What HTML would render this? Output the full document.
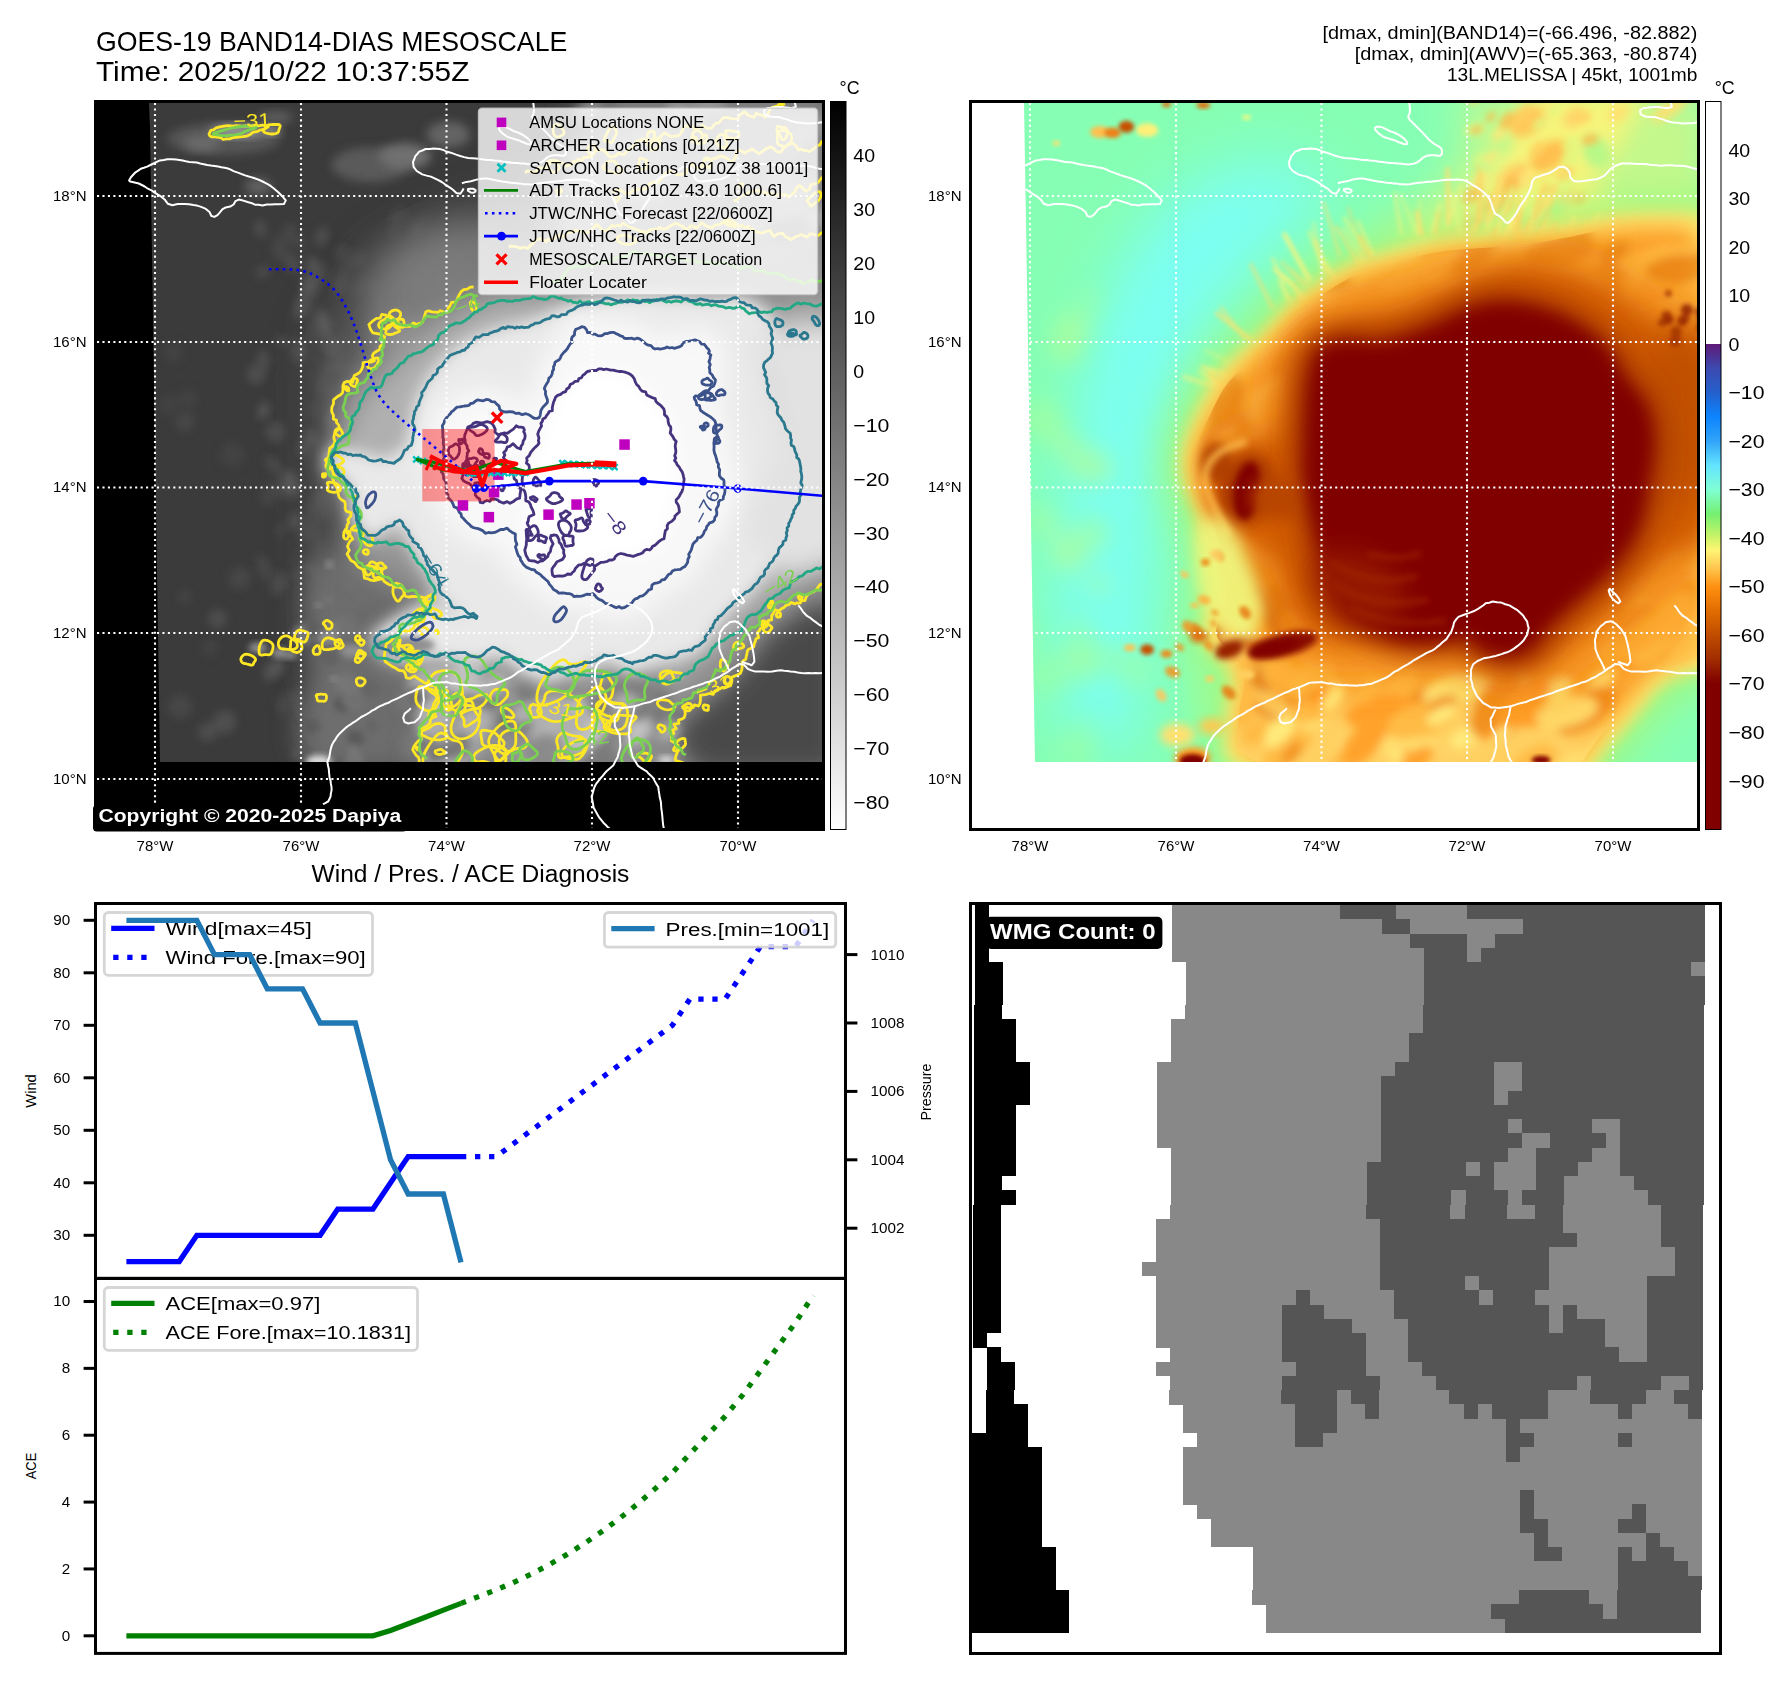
<!DOCTYPE html>
<html><head><meta charset="utf-8"><title>GOES-19 BAND14-DIAS MESOSCALE</title>
<style>
html,body{margin:0;padding:0;background:#fff;}
body{width:1788px;height:1690px;overflow:hidden;}
svg{display:block;font-family:"Liberation Sans",sans-serif;}
</style></head><body>
<svg width="1788" height="1690" viewBox="0 0 1788 1690">
<defs><filter id="b2" x="-30%" y="-30%" width="160%" height="160%"><feGaussianBlur stdDeviation="2"/></filter><filter id="b3" x="-30%" y="-30%" width="160%" height="160%"><feGaussianBlur stdDeviation="3"/></filter><filter id="b5" x="-30%" y="-30%" width="160%" height="160%"><feGaussianBlur stdDeviation="5"/></filter><filter id="b8" x="-30%" y="-30%" width="160%" height="160%"><feGaussianBlur stdDeviation="8"/></filter><filter id="b12" x="-30%" y="-30%" width="160%" height="160%"><feGaussianBlur stdDeviation="12"/></filter><filter id="b20" x="-30%" y="-30%" width="160%" height="160%"><feGaussianBlur stdDeviation="20"/></filter><filter id="b30" x="-30%" y="-30%" width="160%" height="160%"><feGaussianBlur stdDeviation="30"/></filter></defs>
<defs><clipPath id="clipA1"><rect x="97" y="103" width="725" height="725"/></clipPath><clipPath id="clip1"><polygon points="149,103 822,103 822,762 160,762 150,128"/></clipPath></defs><rect x="94" y="100" width="731" height="731" fill="#000"/><g clip-path="url(#clip1)"><rect x="140" y="100" width="690" height="670" fill="#3b3b3b"/><g filter="url(#b5)" opacity="0.8"><ellipse cx="287.8" cy="342.5" rx="3.6" ry="6.0" fill="#4c4c4c" transform="rotate(11 287.8 342.5)"/><ellipse cx="327.8" cy="370.3" rx="4.3" ry="7.2" fill="#606060" transform="rotate(23 327.8 370.3)"/><ellipse cx="303.0" cy="632.6" rx="6.7" ry="11.2" fill="#565656" transform="rotate(3 303.0 632.6)"/><ellipse cx="331.9" cy="740.9" rx="8.7" ry="14.5" fill="#4c4c4c" transform="rotate(-15 331.9 740.9)"/><ellipse cx="278.2" cy="585.2" rx="6.2" ry="10.4" fill="#565656" transform="rotate(25 278.2 585.2)"/><ellipse cx="303.8" cy="448.9" rx="4.3" ry="7.2" fill="#606060" transform="rotate(-12 303.8 448.9)"/><ellipse cx="263.8" cy="410.8" rx="5.5" ry="9.2" fill="#606060" transform="rotate(17 263.8 410.8)"/><ellipse cx="259.6" cy="273.0" rx="3.5" ry="5.8" fill="#565656" transform="rotate(-22 259.6 273.0)"/><ellipse cx="278.9" cy="339.7" rx="2.8" ry="4.6" fill="#606060" transform="rotate(-14 278.9 339.7)"/><ellipse cx="292.0" cy="640.8" rx="2.9" ry="4.9" fill="#4c4c4c" transform="rotate(-16 292.0 640.8)"/><ellipse cx="266.4" cy="270.2" rx="2.7" ry="4.5" fill="#606060" transform="rotate(6 266.4 270.2)"/><ellipse cx="325.0" cy="342.4" rx="3.1" ry="5.2" fill="#565656" transform="rotate(4 325.0 342.4)"/><ellipse cx="331.7" cy="432.7" rx="5.9" ry="9.8" fill="#4c4c4c" transform="rotate(9 331.7 432.7)"/><ellipse cx="260.3" cy="228.5" rx="5.5" ry="9.1" fill="#565656" transform="rotate(-17 260.3 228.5)"/><ellipse cx="320.9" cy="598.4" rx="7.1" ry="11.8" fill="#606060" transform="rotate(23 320.9 598.4)"/><ellipse cx="323.4" cy="740.9" rx="7.0" ry="11.6" fill="#4c4c4c" transform="rotate(16 323.4 740.9)"/><ellipse cx="313.3" cy="265.9" rx="5.9" ry="9.8" fill="#606060" transform="rotate(-19 313.3 265.9)"/><ellipse cx="332.9" cy="348.4" rx="5.3" ry="8.9" fill="#606060" transform="rotate(4 332.9 348.4)"/><ellipse cx="311.0" cy="437.3" rx="5.4" ry="9.0" fill="#606060" transform="rotate(-8 311.0 437.3)"/><ellipse cx="300.3" cy="710.6" rx="4.1" ry="6.9" fill="#4c4c4c" transform="rotate(20 300.3 710.6)"/><ellipse cx="283.5" cy="708.2" rx="5.0" ry="8.3" fill="#4c4c4c" transform="rotate(23 283.5 708.2)"/><ellipse cx="292.4" cy="263.4" rx="6.0" ry="10.0" fill="#565656" transform="rotate(-24 292.4 263.4)"/><ellipse cx="275.7" cy="468.0" rx="4.1" ry="6.8" fill="#565656" transform="rotate(10 275.7 468.0)"/><ellipse cx="302.2" cy="302.7" rx="4.6" ry="7.7" fill="#565656" transform="rotate(-1 302.2 302.7)"/><ellipse cx="310.7" cy="283.4" rx="8.8" ry="14.7" fill="#606060" transform="rotate(22 310.7 283.4)"/><ellipse cx="313.6" cy="512.1" rx="5.7" ry="9.5" fill="#4c4c4c" transform="rotate(-8 313.6 512.1)"/><ellipse cx="322.1" cy="236.7" rx="6.3" ry="10.4" fill="#565656" transform="rotate(15 322.1 236.7)"/><ellipse cx="270.0" cy="494.1" rx="8.3" ry="13.9" fill="#4c4c4c" transform="rotate(21 270.0 494.1)"/><ellipse cx="333.8" cy="727.7" rx="2.9" ry="4.8" fill="#606060" transform="rotate(13 333.8 727.7)"/><ellipse cx="312.1" cy="333.8" rx="5.1" ry="8.5" fill="#4c4c4c" transform="rotate(-7 312.1 333.8)"/><ellipse cx="269.9" cy="671.0" rx="6.4" ry="10.7" fill="#565656" transform="rotate(20 269.9 671.0)"/><ellipse cx="279.9" cy="530.5" rx="4.5" ry="7.5" fill="#4c4c4c" transform="rotate(19 279.9 530.5)"/><ellipse cx="324.3" cy="272.4" rx="5.5" ry="9.2" fill="#4c4c4c" transform="rotate(-11 324.3 272.4)"/><ellipse cx="295.8" cy="697.1" rx="4.4" ry="7.3" fill="#565656" transform="rotate(6 295.8 697.1)"/><ellipse cx="294.8" cy="520.9" rx="4.9" ry="8.2" fill="#606060" transform="rotate(20 294.8 520.9)"/><ellipse cx="321.7" cy="502.9" rx="7.3" ry="12.2" fill="#606060" transform="rotate(-13 321.7 502.9)"/><ellipse cx="290.2" cy="483.7" rx="8.3" ry="13.8" fill="#606060" transform="rotate(-14 290.2 483.7)"/><ellipse cx="291.4" cy="229.6" rx="3.6" ry="6.0" fill="#606060" transform="rotate(7 291.4 229.6)"/><ellipse cx="289.3" cy="234.9" rx="6.3" ry="10.4" fill="#4c4c4c" transform="rotate(-24 289.3 234.9)"/><ellipse cx="276.3" cy="668.4" rx="6.5" ry="10.8" fill="#606060" transform="rotate(24 276.3 668.4)"/><ellipse cx="299.0" cy="350.7" rx="7.1" ry="11.8" fill="#565656" transform="rotate(8 299.0 350.7)"/><ellipse cx="283.6" cy="489.9" rx="3.7" ry="6.2" fill="#565656" transform="rotate(11 283.6 489.9)"/><ellipse cx="300.0" cy="242.1" rx="4.9" ry="8.1" fill="#4c4c4c" transform="rotate(6 300.0 242.1)"/><ellipse cx="264.9" cy="568.1" rx="8.4" ry="14.0" fill="#4c4c4c" transform="rotate(-24 264.9 568.1)"/><ellipse cx="313.6" cy="276.9" rx="5.0" ry="8.3" fill="#565656" transform="rotate(9 313.6 276.9)"/><ellipse cx="323.1" cy="747.8" rx="6.8" ry="11.3" fill="#606060" transform="rotate(-2 323.1 747.8)"/><ellipse cx="298.0" cy="315.3" rx="3.0" ry="5.1" fill="#4c4c4c" transform="rotate(-3 298.0 315.3)"/><ellipse cx="270.6" cy="461.9" rx="4.2" ry="7.1" fill="#565656" transform="rotate(-21 270.6 461.9)"/><ellipse cx="323.7" cy="387.2" rx="8.2" ry="13.7" fill="#4c4c4c" transform="rotate(-5 323.7 387.2)"/><ellipse cx="323.2" cy="323.7" rx="8.2" ry="13.7" fill="#606060" transform="rotate(-18 323.2 323.7)"/><ellipse cx="327.8" cy="702.8" rx="8.6" ry="14.3" fill="#4c4c4c" transform="rotate(8 327.8 702.8)"/><ellipse cx="324.2" cy="631.8" rx="4.7" ry="7.9" fill="#565656" transform="rotate(23 324.2 631.8)"/><ellipse cx="328.1" cy="469.9" rx="5.9" ry="9.8" fill="#4c4c4c" transform="rotate(5 328.1 469.9)"/><ellipse cx="309.4" cy="573.7" rx="6.4" ry="10.7" fill="#606060" transform="rotate(-8 309.4 573.7)"/><ellipse cx="302.7" cy="306.0" rx="8.4" ry="14.0" fill="#565656" transform="rotate(23 302.7 306.0)"/><ellipse cx="279.6" cy="248.9" rx="7.8" ry="12.9" fill="#4c4c4c" transform="rotate(-7 279.6 248.9)"/><ellipse cx="280.2" cy="709.1" rx="4.4" ry="7.3" fill="#4c4c4c" transform="rotate(-20 280.2 709.1)"/><ellipse cx="263.4" cy="360.3" rx="6.2" ry="10.3" fill="#565656" transform="rotate(0 263.4 360.3)"/><ellipse cx="326.3" cy="509.4" rx="7.1" ry="11.8" fill="#4c4c4c" transform="rotate(16 326.3 509.4)"/><ellipse cx="332.1" cy="417.9" rx="7.5" ry="12.5" fill="#606060" transform="rotate(17 332.1 417.9)"/></g><g filter="url(#b5)" opacity="0.7"><ellipse cx="393.6" cy="327.1" rx="6.7" ry="6.7" fill="#4e4e4e" transform="rotate(-17 393.6 327.1)"/><ellipse cx="429.2" cy="617.1" rx="12.0" ry="12.0" fill="#4e4e4e" transform="rotate(12 429.2 617.1)"/><ellipse cx="313.7" cy="329.2" rx="6.2" ry="6.2" fill="#464646" transform="rotate(13 313.7 329.2)"/><ellipse cx="168.5" cy="404.5" rx="9.9" ry="9.9" fill="#464646" transform="rotate(1 168.5 404.5)"/><ellipse cx="239.7" cy="578.2" rx="11.3" ry="11.3" fill="#4e4e4e" transform="rotate(23 239.7 578.2)"/><ellipse cx="454.7" cy="626.6" rx="7.3" ry="7.3" fill="#4e4e4e" transform="rotate(-12 454.7 626.6)"/><ellipse cx="510.3" cy="465.7" rx="5.1" ry="5.1" fill="#4e4e4e" transform="rotate(-3 510.3 465.7)"/><ellipse cx="470.0" cy="584.6" rx="11.3" ry="11.3" fill="#464646" transform="rotate(4 470.0 584.6)"/><ellipse cx="355.7" cy="748.9" rx="7.6" ry="7.6" fill="#464646" transform="rotate(-7 355.7 748.9)"/><ellipse cx="463.3" cy="591.2" rx="11.8" ry="11.8" fill="#464646" transform="rotate(-13 463.3 591.2)"/><ellipse cx="417.5" cy="336.4" rx="6.3" ry="6.3" fill="#585858" transform="rotate(-20 417.5 336.4)"/><ellipse cx="472.8" cy="701.5" rx="7.6" ry="7.6" fill="#585858" transform="rotate(15 472.8 701.5)"/><ellipse cx="465.1" cy="388.4" rx="7.4" ry="7.4" fill="#464646" transform="rotate(-8 465.1 388.4)"/><ellipse cx="416.5" cy="620.1" rx="4.9" ry="4.9" fill="#464646" transform="rotate(-15 416.5 620.1)"/><ellipse cx="354.9" cy="424.9" rx="8.3" ry="8.3" fill="#585858" transform="rotate(15 354.9 424.9)"/><ellipse cx="411.5" cy="413.7" rx="7.1" ry="7.1" fill="#4e4e4e" transform="rotate(-11 411.5 413.7)"/><ellipse cx="460.5" cy="674.2" rx="7.8" ry="7.8" fill="#4e4e4e" transform="rotate(-12 460.5 674.2)"/><ellipse cx="494.1" cy="568.3" rx="10.5" ry="10.5" fill="#4e4e4e" transform="rotate(16 494.1 568.3)"/><ellipse cx="342.1" cy="709.6" rx="9.9" ry="9.9" fill="#4e4e4e" transform="rotate(-9 342.1 709.6)"/><ellipse cx="210.1" cy="647.4" rx="9.0" ry="9.0" fill="#464646" transform="rotate(12 210.1 647.4)"/><ellipse cx="316.1" cy="575.6" rx="7.4" ry="7.4" fill="#4e4e4e" transform="rotate(7 316.1 575.6)"/><ellipse cx="340.0" cy="652.2" rx="11.8" ry="11.8" fill="#4e4e4e" transform="rotate(15 340.0 652.2)"/><ellipse cx="217.5" cy="618.7" rx="9.5" ry="9.5" fill="#585858" transform="rotate(-1 217.5 618.7)"/><ellipse cx="377.6" cy="524.2" rx="6.5" ry="6.5" fill="#464646" transform="rotate(-25 377.6 524.2)"/><ellipse cx="408.6" cy="366.9" rx="12.0" ry="12.0" fill="#585858" transform="rotate(24 408.6 366.9)"/><ellipse cx="394.1" cy="365.6" rx="8.1" ry="8.1" fill="#585858" transform="rotate(-25 394.1 365.6)"/><ellipse cx="509.0" cy="705.7" rx="6.6" ry="6.6" fill="#464646" transform="rotate(23 509.0 705.7)"/><ellipse cx="224.4" cy="722.0" rx="11.8" ry="11.8" fill="#585858" transform="rotate(15 224.4 722.0)"/><ellipse cx="345.2" cy="404.5" rx="7.6" ry="7.6" fill="#4e4e4e" transform="rotate(9 345.2 404.5)"/><ellipse cx="508.9" cy="726.4" rx="12.3" ry="12.3" fill="#464646" transform="rotate(-5 508.9 726.4)"/><ellipse cx="338.2" cy="365.8" rx="7.5" ry="7.5" fill="#585858" transform="rotate(-10 338.2 365.8)"/><ellipse cx="180.1" cy="706.6" rx="12.5" ry="12.5" fill="#4e4e4e" transform="rotate(21 180.1 706.6)"/><ellipse cx="337.2" cy="346.8" rx="10.9" ry="10.9" fill="#4e4e4e" transform="rotate(-17 337.2 346.8)"/><ellipse cx="401.0" cy="737.3" rx="5.7" ry="5.7" fill="#464646" transform="rotate(13 401.0 737.3)"/><ellipse cx="314.2" cy="410.2" rx="9.0" ry="9.0" fill="#464646" transform="rotate(19 314.2 410.2)"/><ellipse cx="232.7" cy="454.7" rx="12.9" ry="12.9" fill="#464646" transform="rotate(-2 232.7 454.7)"/><ellipse cx="319.7" cy="546.3" rx="5.4" ry="5.4" fill="#4e4e4e" transform="rotate(-21 319.7 546.3)"/><ellipse cx="282.9" cy="577.7" rx="6.3" ry="6.3" fill="#4e4e4e" transform="rotate(-25 282.9 577.7)"/><ellipse cx="184.9" cy="596.8" rx="6.3" ry="6.3" fill="#4e4e4e" transform="rotate(-4 184.9 596.8)"/><ellipse cx="184.8" cy="421.9" rx="10.1" ry="10.1" fill="#4e4e4e" transform="rotate(9 184.8 421.9)"/><ellipse cx="207.4" cy="732.2" rx="9.3" ry="9.3" fill="#585858" transform="rotate(-10 207.4 732.2)"/><ellipse cx="446.9" cy="675.3" rx="6.0" ry="6.0" fill="#4e4e4e" transform="rotate(17 446.9 675.3)"/><ellipse cx="317.1" cy="504.4" rx="8.4" ry="8.4" fill="#464646" transform="rotate(-22 317.1 504.4)"/><ellipse cx="406.0" cy="753.9" rx="5.2" ry="5.2" fill="#585858" transform="rotate(21 406.0 753.9)"/><ellipse cx="283.4" cy="699.4" rx="6.5" ry="6.5" fill="#4e4e4e" transform="rotate(9 283.4 699.4)"/><ellipse cx="323.5" cy="503.7" rx="6.7" ry="6.7" fill="#4e4e4e" transform="rotate(-21 323.5 503.7)"/><ellipse cx="321.5" cy="699.2" rx="9.1" ry="9.1" fill="#4e4e4e" transform="rotate(16 321.5 699.2)"/><ellipse cx="525.7" cy="688.0" rx="12.7" ry="12.7" fill="#4e4e4e" transform="rotate(-15 525.7 688.0)"/><ellipse cx="308.0" cy="530.2" rx="11.8" ry="11.8" fill="#4e4e4e" transform="rotate(-15 308.0 530.2)"/><ellipse cx="297.9" cy="754.4" rx="6.6" ry="6.6" fill="#585858" transform="rotate(-7 297.9 754.4)"/><ellipse cx="314.1" cy="741.9" rx="12.9" ry="12.9" fill="#464646" transform="rotate(17 314.1 741.9)"/><ellipse cx="422.6" cy="384.9" rx="6.9" ry="6.9" fill="#4e4e4e" transform="rotate(12 422.6 384.9)"/><ellipse cx="428.9" cy="343.1" rx="7.0" ry="7.0" fill="#4e4e4e" transform="rotate(12 428.9 343.1)"/><ellipse cx="333.9" cy="725.0" rx="8.9" ry="8.9" fill="#4e4e4e" transform="rotate(7 333.9 725.0)"/><ellipse cx="188.2" cy="398.7" rx="9.5" ry="9.5" fill="#464646" transform="rotate(-10 188.2 398.7)"/><ellipse cx="307.0" cy="734.9" rx="9.2" ry="9.2" fill="#464646" transform="rotate(13 307.0 734.9)"/><ellipse cx="173.4" cy="352.5" rx="10.0" ry="10.0" fill="#464646" transform="rotate(8 173.4 352.5)"/><ellipse cx="275.0" cy="432.0" rx="10.1" ry="10.1" fill="#585858" transform="rotate(-10 275.0 432.0)"/><ellipse cx="256.3" cy="374.2" rx="9.9" ry="9.9" fill="#585858" transform="rotate(-5 256.3 374.2)"/><ellipse cx="499.9" cy="732.3" rx="4.4" ry="4.4" fill="#464646" transform="rotate(11 499.9 732.3)"/></g><g filter="url(#b5)" opacity="0.7"><ellipse cx="344.9" cy="277.2" rx="3.3" ry="5.6" fill="#525252" transform="rotate(18 344.9 277.2)"/><ellipse cx="492.6" cy="286.8" rx="4.9" ry="8.2" fill="#525252" transform="rotate(33 492.6 286.8)"/><ellipse cx="340.4" cy="251.0" rx="4.5" ry="7.5" fill="#525252" transform="rotate(20 340.4 251.0)"/><ellipse cx="377.0" cy="292.5" rx="6.8" ry="11.4" fill="#525252" transform="rotate(4 377.0 292.5)"/><ellipse cx="358.2" cy="258.9" rx="5.2" ry="8.6" fill="#525252" transform="rotate(33 358.2 258.9)"/><ellipse cx="564.1" cy="235.0" rx="3.5" ry="5.9" fill="#4a4a4a" transform="rotate(-2 564.1 235.0)"/><ellipse cx="471.0" cy="226.5" rx="2.9" ry="4.9" fill="#4a4a4a" transform="rotate(13 471.0 226.5)"/><ellipse cx="400.1" cy="215.6" rx="5.8" ry="9.7" fill="#4a4a4a" transform="rotate(1 400.1 215.6)"/><ellipse cx="533.0" cy="253.4" rx="5.9" ry="9.9" fill="#525252" transform="rotate(16 533.0 253.4)"/><ellipse cx="459.3" cy="277.7" rx="3.5" ry="5.8" fill="#4a4a4a" transform="rotate(44 459.3 277.7)"/><ellipse cx="410.4" cy="295.1" rx="4.0" ry="6.6" fill="#4a4a4a" transform="rotate(38 410.4 295.1)"/><ellipse cx="476.9" cy="304.3" rx="5.5" ry="9.1" fill="#4a4a4a" transform="rotate(14 476.9 304.3)"/><ellipse cx="451.3" cy="285.4" rx="7.5" ry="12.6" fill="#525252" transform="rotate(-3 451.3 285.4)"/><ellipse cx="446.2" cy="249.2" rx="6.6" ry="11.0" fill="#525252" transform="rotate(3 446.2 249.2)"/><ellipse cx="486.3" cy="294.8" rx="6.4" ry="10.6" fill="#525252" transform="rotate(1 486.3 294.8)"/><ellipse cx="496.9" cy="250.2" rx="5.6" ry="9.4" fill="#4a4a4a" transform="rotate(-5 496.9 250.2)"/><ellipse cx="360.6" cy="286.6" rx="6.9" ry="11.5" fill="#4a4a4a" transform="rotate(42 360.6 286.6)"/><ellipse cx="339.9" cy="284.8" rx="6.9" ry="11.4" fill="#525252" transform="rotate(2 339.9 284.8)"/><ellipse cx="503.2" cy="257.5" rx="7.5" ry="12.4" fill="#525252" transform="rotate(16 503.2 257.5)"/><ellipse cx="535.9" cy="246.3" rx="6.3" ry="10.5" fill="#4a4a4a" transform="rotate(40 535.9 246.3)"/><ellipse cx="384.0" cy="301.0" rx="4.7" ry="7.8" fill="#525252" transform="rotate(11 384.0 301.0)"/><ellipse cx="474.5" cy="248.6" rx="6.7" ry="11.2" fill="#525252" transform="rotate(17 474.5 248.6)"/><ellipse cx="348.0" cy="261.4" rx="6.7" ry="11.1" fill="#4a4a4a" transform="rotate(40 348.0 261.4)"/><ellipse cx="508.0" cy="213.1" rx="3.8" ry="6.3" fill="#525252" transform="rotate(9 508.0 213.1)"/><ellipse cx="416.5" cy="285.1" rx="7.7" ry="12.8" fill="#525252" transform="rotate(9 416.5 285.1)"/><ellipse cx="350.1" cy="257.8" rx="3.1" ry="5.1" fill="#4a4a4a" transform="rotate(29 350.1 257.8)"/><ellipse cx="536.7" cy="292.1" rx="7.2" ry="12.0" fill="#4a4a4a" transform="rotate(32 536.7 292.1)"/><ellipse cx="416.5" cy="229.8" rx="4.9" ry="8.2" fill="#525252" transform="rotate(4 416.5 229.8)"/><ellipse cx="394.0" cy="218.8" rx="3.7" ry="6.2" fill="#525252" transform="rotate(7 394.0 218.8)"/><ellipse cx="423.8" cy="218.5" rx="3.6" ry="5.9" fill="#4a4a4a" transform="rotate(16 423.8 218.5)"/><ellipse cx="408.8" cy="261.5" rx="5.4" ry="9.0" fill="#4a4a4a" transform="rotate(39 408.8 261.5)"/><ellipse cx="392.5" cy="231.5" rx="3.1" ry="5.1" fill="#525252" transform="rotate(39 392.5 231.5)"/><ellipse cx="554.2" cy="291.2" rx="6.7" ry="11.2" fill="#525252" transform="rotate(40 554.2 291.2)"/><ellipse cx="415.1" cy="239.8" rx="2.6" ry="4.4" fill="#4a4a4a" transform="rotate(25 415.1 239.8)"/><ellipse cx="562.3" cy="222.9" rx="5.5" ry="9.2" fill="#525252" transform="rotate(14 562.3 222.9)"/><ellipse cx="504.5" cy="305.1" rx="4.2" ry="7.0" fill="#525252" transform="rotate(30 504.5 305.1)"/><ellipse cx="478.2" cy="279.9" rx="5.3" ry="8.8" fill="#4a4a4a" transform="rotate(8 478.2 279.9)"/><ellipse cx="479.1" cy="277.5" rx="6.4" ry="10.6" fill="#4a4a4a" transform="rotate(33 479.1 277.5)"/><ellipse cx="509.8" cy="272.2" rx="6.7" ry="11.2" fill="#4a4a4a" transform="rotate(44 509.8 272.2)"/><ellipse cx="544.3" cy="231.0" rx="7.7" ry="12.8" fill="#4a4a4a" transform="rotate(11 544.3 231.0)"/></g><path d="M327.8,551.1 341.2,551.1 354.1,554.4 366.4,561.1 378.1,571.2 389.3,584.6 396.3,596.8 399.1,607.7 397.7,617.3 392.1,625.7 389.3,634.1 389.3,642.5 392.1,650.9 397.7,659.3 404.0,667.0 411.0,674.0 418.7,680.2 427.1,685.8 432.0,694.8 433.4,707.1 431.3,722.8 425.7,741.8 414.3,756.0 397.3,765.5 374.5,770.3 346.0,770.3 324.0,766.9 308.6,760.2 299.8,750.2 297.6,736.7 297.3,723.9 299.0,711.6 302.6,699.8 308.2,688.6 311.6,677.4 312.7,666.3 311.6,655.1 308.2,643.9 306.0,630.7 304.9,615.6 304.9,598.6 306.0,579.6 310.2,565.3 317.4,555.8Z" fill="#6e6e6e" filter="url(#b12)"/><g filter="url(#b3)" opacity="0.8"><ellipse cx="385.3" cy="649.5" rx="9.0" ry="7.5" fill="#5a5a5a" transform="rotate(45 385.3 649.5)"/><ellipse cx="348.3" cy="683.6" rx="12.0" ry="10.0" fill="#858585" transform="rotate(6 348.3 683.6)"/><ellipse cx="303.9" cy="634.6" rx="11.0" ry="9.2" fill="#858585" transform="rotate(13 303.9 634.6)"/><ellipse cx="351.5" cy="630.0" rx="6.9" ry="5.7" fill="#858585" transform="rotate(30 351.5 630.0)"/><ellipse cx="393.8" cy="664.1" rx="5.4" ry="4.5" fill="#4c4c4c" transform="rotate(9 393.8 664.1)"/><ellipse cx="342.7" cy="704.5" rx="9.3" ry="7.7" fill="#4c4c4c" transform="rotate(19 342.7 704.5)"/><ellipse cx="330.5" cy="657.6" rx="10.1" ry="8.4" fill="#5a5a5a" transform="rotate(11 330.5 657.6)"/><ellipse cx="356.1" cy="738.0" rx="9.2" ry="7.7" fill="#4c4c4c" transform="rotate(30 356.1 738.0)"/><ellipse cx="315.3" cy="631.2" rx="10.6" ry="8.8" fill="#5a5a5a" transform="rotate(12 315.3 631.2)"/><ellipse cx="355.0" cy="759.8" rx="10.1" ry="8.4" fill="#7a7a7a" transform="rotate(9 355.0 759.8)"/><ellipse cx="372.2" cy="725.9" rx="7.2" ry="6.0" fill="#5a5a5a" transform="rotate(28 372.2 725.9)"/><ellipse cx="349.7" cy="698.1" rx="9.4" ry="7.9" fill="#5a5a5a" transform="rotate(51 349.7 698.1)"/><ellipse cx="350.9" cy="587.4" rx="5.0" ry="4.2" fill="#7a7a7a" transform="rotate(16 350.9 587.4)"/><ellipse cx="353.8" cy="700.2" rx="11.5" ry="9.6" fill="#7a7a7a" transform="rotate(30 353.8 700.2)"/><ellipse cx="354.1" cy="749.8" rx="4.3" ry="3.6" fill="#858585" transform="rotate(17 354.1 749.8)"/><ellipse cx="374.0" cy="643.1" rx="4.9" ry="4.0" fill="#4c4c4c" transform="rotate(33 374.0 643.1)"/><ellipse cx="361.7" cy="600.4" rx="7.3" ry="6.1" fill="#7a7a7a" transform="rotate(51 361.7 600.4)"/><ellipse cx="362.8" cy="645.2" rx="12.3" ry="10.3" fill="#4c4c4c" transform="rotate(47 362.8 645.2)"/><ellipse cx="328.0" cy="599.7" rx="4.5" ry="3.7" fill="#858585" transform="rotate(17 328.0 599.7)"/><ellipse cx="394.0" cy="645.3" rx="6.8" ry="5.7" fill="#7a7a7a" transform="rotate(8 394.0 645.3)"/><ellipse cx="337.3" cy="625.7" rx="8.3" ry="6.9" fill="#7a7a7a" transform="rotate(40 337.3 625.7)"/><ellipse cx="301.7" cy="575.7" rx="9.3" ry="7.7" fill="#4c4c4c" transform="rotate(22 301.7 575.7)"/><ellipse cx="371.5" cy="688.2" rx="10.4" ry="8.6" fill="#4c4c4c" transform="rotate(8 371.5 688.2)"/><ellipse cx="367.6" cy="636.8" rx="9.5" ry="7.9" fill="#858585" transform="rotate(9 367.6 636.8)"/><ellipse cx="311.4" cy="726.1" rx="9.1" ry="7.6" fill="#5a5a5a" transform="rotate(6 311.4 726.1)"/><ellipse cx="334.1" cy="630.0" rx="9.7" ry="8.1" fill="#858585" transform="rotate(47 334.1 630.0)"/><ellipse cx="351.9" cy="692.0" rx="7.4" ry="6.2" fill="#5a5a5a" transform="rotate(53 351.9 692.0)"/><ellipse cx="351.2" cy="687.6" rx="10.3" ry="8.6" fill="#858585" transform="rotate(31 351.2 687.6)"/><ellipse cx="362.0" cy="614.9" rx="7.0" ry="5.8" fill="#5a5a5a" transform="rotate(50 362.0 614.9)"/><ellipse cx="346.3" cy="622.6" rx="9.3" ry="7.8" fill="#7a7a7a" transform="rotate(12 346.3 622.6)"/></g><ellipse cx="370.5" cy="164.8" rx="38.9" ry="17.3" fill="#5a5a5a" filter="url(#b5)"/><ellipse cx="405.0" cy="156.2" rx="25.9" ry="13.0" fill="#707070" filter="url(#b5)"/><ellipse cx="448.2" cy="134.6" rx="21.6" ry="13.0" fill="#646464" filter="url(#b5)"/><ellipse cx="646.9" cy="134.6" rx="21.6" ry="11.2" fill="#5c5c5c" filter="url(#b5)"/><ellipse cx="258.1" cy="186.4" rx="13.0" ry="8.6" fill="#606060" filter="url(#b5)"/><ellipse cx="707.4" cy="151.8" rx="25.9" ry="13.0" fill="#585858" filter="url(#b5)"/><ellipse cx="223.6" cy="138.9" rx="56.2" ry="15.6" fill="#565656" filter="url(#b5)"/><ellipse cx="202.0" cy="143.2" rx="17.3" ry="7.8" fill="#6a6a6a" filter="url(#b5)"/><ellipse cx="236.5" cy="131.1" rx="26.8" ry="6.5" fill="#9a9a9a" filter="url(#b5)"/><ellipse cx="271.1" cy="130.2" rx="10.4" ry="5.2" fill="#8e8e8e" filter="url(#b5)"/><ellipse cx="275.4" cy="117.3" rx="17.3" ry="6.0" fill="#5e5e5e" filter="url(#b5)"/><path d="M335.9,341.9 396.4,264.1 482.8,229.6 612.4,186.4 837.0,151.8 837.0,791.1 396.4,791.1 335.9,661.6Z" fill="#6c6c6c" filter="url(#b30)"/><path d="M603.7,87.0 845.6,87.0 845.6,316.0 526.0,307.3 543.2,229.6 569.2,164.8Z" fill="#8e8e8e" filter="url(#b20)"/><g filter="url(#b5)" opacity="0.6"><ellipse cx="638.5" cy="197.2" rx="12.5" ry="7.0" fill="#9a9a9a" transform="rotate(-49 638.5 197.2)"/><ellipse cx="587.6" cy="110.6" rx="16.6" ry="9.2" fill="#a8a8a8" transform="rotate(-31 587.6 110.6)"/><ellipse cx="787.2" cy="226.4" rx="29.1" ry="16.1" fill="#a8a8a8" transform="rotate(-42 787.2 226.4)"/><ellipse cx="638.4" cy="271.2" rx="14.0" ry="7.8" fill="#b4b4b4" transform="rotate(-46 638.4 271.2)"/><ellipse cx="725.4" cy="134.5" rx="12.0" ry="6.7" fill="#a8a8a8" transform="rotate(-39 725.4 134.5)"/><ellipse cx="650.9" cy="173.3" rx="25.5" ry="14.2" fill="#9a9a9a" transform="rotate(-44 650.9 173.3)"/><ellipse cx="674.0" cy="112.5" rx="17.5" ry="9.7" fill="#b4b4b4" transform="rotate(-6 674.0 112.5)"/><ellipse cx="792.5" cy="243.9" rx="24.2" ry="13.5" fill="#9a9a9a" transform="rotate(-13 792.5 243.9)"/><ellipse cx="738.2" cy="198.0" rx="18.4" ry="10.2" fill="#7a7a7a" transform="rotate(-28 738.2 198.0)"/><ellipse cx="608.9" cy="251.7" rx="15.9" ry="8.9" fill="#b4b4b4" transform="rotate(-32 608.9 251.7)"/><ellipse cx="622.7" cy="178.5" rx="18.6" ry="10.3" fill="#b4b4b4" transform="rotate(-15 622.7 178.5)"/><ellipse cx="591.2" cy="178.4" rx="28.7" ry="16.0" fill="#a8a8a8" transform="rotate(-11 591.2 178.4)"/><ellipse cx="788.0" cy="228.1" rx="21.4" ry="11.9" fill="#9a9a9a" transform="rotate(-30 788.0 228.1)"/><ellipse cx="645.8" cy="141.8" rx="23.5" ry="13.0" fill="#a8a8a8" transform="rotate(-25 645.8 141.8)"/><ellipse cx="810.0" cy="127.3" rx="23.5" ry="13.1" fill="#9a9a9a" transform="rotate(-11 810.0 127.3)"/><ellipse cx="640.1" cy="188.3" rx="17.5" ry="9.7" fill="#7a7a7a" transform="rotate(-9 640.1 188.3)"/><ellipse cx="729.1" cy="281.6" rx="15.4" ry="8.6" fill="#a8a8a8" transform="rotate(-41 729.1 281.6)"/><ellipse cx="822.0" cy="217.1" rx="16.2" ry="9.0" fill="#b4b4b4" transform="rotate(-44 822.0 217.1)"/><ellipse cx="613.7" cy="147.5" rx="12.2" ry="6.8" fill="#a8a8a8" transform="rotate(-46 613.7 147.5)"/><ellipse cx="745.6" cy="286.1" rx="27.0" ry="15.0" fill="#7a7a7a" transform="rotate(-45 745.6 286.1)"/><ellipse cx="738.6" cy="228.5" rx="25.2" ry="14.0" fill="#b4b4b4" transform="rotate(-9 738.6 228.5)"/><ellipse cx="781.6" cy="178.0" rx="19.0" ry="10.6" fill="#b4b4b4" transform="rotate(-40 781.6 178.0)"/><ellipse cx="750.1" cy="268.8" rx="12.3" ry="6.9" fill="#b4b4b4" transform="rotate(-36 750.1 268.8)"/><ellipse cx="651.1" cy="188.1" rx="22.5" ry="12.5" fill="#b4b4b4" transform="rotate(-17 651.1 188.1)"/><ellipse cx="706.5" cy="108.8" rx="19.2" ry="10.7" fill="#a8a8a8" transform="rotate(-10 706.5 108.8)"/><ellipse cx="787.4" cy="193.4" rx="27.2" ry="15.1" fill="#a8a8a8" transform="rotate(-36 787.4 193.4)"/><ellipse cx="800.7" cy="150.2" rx="15.4" ry="8.6" fill="#a8a8a8" transform="rotate(-45 800.7 150.2)"/><ellipse cx="727.5" cy="175.8" rx="24.1" ry="13.4" fill="#9a9a9a" transform="rotate(-22 727.5 175.8)"/><ellipse cx="773.8" cy="260.8" rx="18.6" ry="10.3" fill="#a8a8a8" transform="rotate(-5 773.8 260.8)"/><ellipse cx="765.2" cy="289.2" rx="20.2" ry="11.2" fill="#b4b4b4" transform="rotate(-14 765.2 289.2)"/><ellipse cx="580.3" cy="153.3" rx="18.6" ry="10.3" fill="#a8a8a8" transform="rotate(-27 580.3 153.3)"/><ellipse cx="812.2" cy="156.9" rx="27.8" ry="15.5" fill="#7a7a7a" transform="rotate(-26 812.2 156.9)"/><ellipse cx="652.7" cy="110.2" rx="17.5" ry="9.7" fill="#7a7a7a" transform="rotate(-8 652.7 110.2)"/><ellipse cx="586.2" cy="220.2" rx="25.9" ry="14.4" fill="#a8a8a8" transform="rotate(-8 586.2 220.2)"/><ellipse cx="706.0" cy="133.2" rx="26.1" ry="14.5" fill="#7a7a7a" transform="rotate(-45 706.0 133.2)"/><ellipse cx="753.5" cy="285.5" rx="24.1" ry="13.4" fill="#9a9a9a" transform="rotate(-9 753.5 285.5)"/><ellipse cx="789.9" cy="230.1" rx="23.6" ry="13.1" fill="#7a7a7a" transform="rotate(-11 789.9 230.1)"/><ellipse cx="713.2" cy="170.3" rx="22.5" ry="12.5" fill="#9a9a9a" transform="rotate(-26 713.2 170.3)"/><ellipse cx="626.6" cy="146.5" rx="12.8" ry="7.1" fill="#a8a8a8" transform="rotate(-19 626.6 146.5)"/><ellipse cx="581.6" cy="183.4" rx="17.7" ry="9.9" fill="#b4b4b4" transform="rotate(-10 581.6 183.4)"/></g><ellipse cx="439.6" cy="277.1" rx="75" ry="48" fill="#7c7c7c" filter="url(#b20)" transform="rotate(-25 439.6 277.1)"/><path d="M474.1,290.1 470.9,290.6 464.4,291.7 459.0,294.9 454.7,300.3 449.3,305.2 442.8,309.5 435.3,312.7 426.6,314.9 418.0,317.1 409.3,319.2 401.8,319.2 395.3,317.1 388.8,316.0 382.3,316.0 377.5,319.2 374.2,325.7 374.8,332.2 379.1,338.7 379.6,346.2 376.4,354.9 371.5,362.4 365.1,368.9 358.6,375.4 352.1,381.9 346.2,388.3 340.8,394.8 337.0,401.3 334.8,407.8 335.9,414.3 340.2,420.7 341.8,427.2 340.8,433.7 337.5,440.2 332.1,446.7 327.8,453.1 324.6,459.6 324.6,466.1 327.8,472.6 332.1,479.0 337.5,485.5 341.8,493.1 345.1,501.7 348.3,510.4 351.6,519.0 352.6,527.6 351.6,536.3 350.5,543.8 349.4,550.3 350.5,556.8 353.7,563.3 359.1,569.2 366.7,574.6 374.8,579.5 383.4,583.8 392.1,587.0 400.7,589.2 408.3,593.0 414.7,598.4 419.6,604.3 422.8,610.8 421.8,616.7 416.4,622.1 409.3,627.5 400.7,632.9 394.2,638.9 389.9,645.4 388.8,651.8 391.0,658.3 395.3,663.7 401.8,668.0 409.3,672.4 418.0,676.7 425.5,682.1 432.0,688.6 436.3,695.0 438.5,701.5 437.4,708.0 433.1,714.5 427.7,721.0 421.2,727.4 416.9,733.9 414.7,740.4 415.8,749.0 420.1,759.8 422.3,765.2 852.0,792.0 852.0,250.0Z" fill="#909090" filter="url(#b12)"/><path d="M698.8,773.9 672.8,739.3 690.1,713.4 716.0,696.1 741.9,670.2 767.9,635.6 802.4,609.7 841.3,596.8 841.3,773.9Z" fill="#4a4a4a" filter="url(#b12)"/><g filter="url(#b5)" opacity="0.9"><ellipse cx="519.5" cy="723.7" rx="23.4" ry="15.6" fill="#8a8a8a" transform="rotate(-31 519.5 723.7)"/><ellipse cx="472.0" cy="677.2" rx="9.9" ry="6.6" fill="#b4b4b4" transform="rotate(-49 472.0 677.2)"/><ellipse cx="454.3" cy="721.1" rx="25.7" ry="17.2" fill="#787878" transform="rotate(-15 454.3 721.1)"/><ellipse cx="511.7" cy="711.3" rx="20.3" ry="13.5" fill="#a0a0a0" transform="rotate(-33 511.7 711.3)"/><ellipse cx="432.7" cy="750.9" rx="19.0" ry="12.6" fill="#b4b4b4" transform="rotate(-23 432.7 750.9)"/><ellipse cx="431.8" cy="683.1" rx="25.2" ry="16.8" fill="#b4b4b4" transform="rotate(-15 431.8 683.1)"/><ellipse cx="626.7" cy="700.8" rx="14.0" ry="9.4" fill="#b4b4b4" transform="rotate(-25 626.7 700.8)"/><ellipse cx="537.1" cy="691.8" rx="10.1" ry="6.8" fill="#787878" transform="rotate(-40 537.1 691.8)"/><ellipse cx="614.9" cy="678.5" rx="25.2" ry="16.8" fill="#787878" transform="rotate(-28 614.9 678.5)"/><ellipse cx="597.6" cy="741.5" rx="20.4" ry="13.6" fill="#787878" transform="rotate(-34 597.6 741.5)"/><ellipse cx="509.4" cy="717.2" rx="16.0" ry="10.7" fill="#6c6c6c" transform="rotate(-46 509.4 717.2)"/><ellipse cx="474.1" cy="715.8" rx="22.2" ry="14.8" fill="#787878" transform="rotate(-33 474.1 715.8)"/><ellipse cx="573.4" cy="762.8" rx="21.2" ry="14.1" fill="#a0a0a0" transform="rotate(-45 573.4 762.8)"/><ellipse cx="416.1" cy="754.6" rx="18.3" ry="12.2" fill="#6c6c6c" transform="rotate(-14 416.1 754.6)"/><ellipse cx="557.8" cy="700.1" rx="24.9" ry="16.6" fill="#6c6c6c" transform="rotate(-43 557.8 700.1)"/><ellipse cx="518.5" cy="707.3" rx="9.8" ry="6.5" fill="#8a8a8a" transform="rotate(-17 518.5 707.3)"/><ellipse cx="599.4" cy="765.1" rx="21.6" ry="14.4" fill="#787878" transform="rotate(-16 599.4 765.1)"/><ellipse cx="536.5" cy="687.5" rx="24.7" ry="16.5" fill="#787878" transform="rotate(-55 536.5 687.5)"/><ellipse cx="574.3" cy="701.2" rx="19.5" ry="13.0" fill="#a0a0a0" transform="rotate(-51 574.3 701.2)"/><ellipse cx="415.4" cy="699.4" rx="20.3" ry="13.5" fill="#787878" transform="rotate(-12 415.4 699.4)"/><ellipse cx="463.6" cy="750.8" rx="22.8" ry="15.2" fill="#a0a0a0" transform="rotate(-25 463.6 750.8)"/><ellipse cx="662.7" cy="698.3" rx="9.0" ry="6.0" fill="#6c6c6c" transform="rotate(-7 662.7 698.3)"/><ellipse cx="637.8" cy="728.9" rx="17.7" ry="11.8" fill="#c8c8c8" transform="rotate(-51 637.8 728.9)"/><ellipse cx="487.3" cy="701.7" rx="15.1" ry="10.1" fill="#6c6c6c" transform="rotate(-27 487.3 701.7)"/><ellipse cx="432.5" cy="697.4" rx="24.9" ry="16.6" fill="#787878" transform="rotate(-47 432.5 697.4)"/><ellipse cx="432.9" cy="714.6" rx="19.6" ry="13.1" fill="#c8c8c8" transform="rotate(-50 432.9 714.6)"/><ellipse cx="484.7" cy="726.8" rx="10.2" ry="6.8" fill="#787878" transform="rotate(-21 484.7 726.8)"/><ellipse cx="544.1" cy="707.4" rx="8.4" ry="5.6" fill="#8a8a8a" transform="rotate(-20 544.1 707.4)"/><ellipse cx="540.1" cy="720.3" rx="23.5" ry="15.6" fill="#787878" transform="rotate(-47 540.1 720.3)"/><ellipse cx="670.0" cy="715.6" rx="10.2" ry="6.8" fill="#6c6c6c" transform="rotate(-32 670.0 715.6)"/><ellipse cx="550.4" cy="703.5" rx="13.7" ry="9.1" fill="#c8c8c8" transform="rotate(-46 550.4 703.5)"/><ellipse cx="649.3" cy="681.7" rx="24.3" ry="16.2" fill="#787878" transform="rotate(-12 649.3 681.7)"/><ellipse cx="592.4" cy="711.0" rx="18.2" ry="12.1" fill="#787878" transform="rotate(-8 592.4 711.0)"/><ellipse cx="660.4" cy="720.6" rx="11.8" ry="7.8" fill="#8a8a8a" transform="rotate(-11 660.4 720.6)"/><ellipse cx="451.9" cy="765.0" rx="13.8" ry="9.2" fill="#b4b4b4" transform="rotate(-21 451.9 765.0)"/><ellipse cx="594.4" cy="729.6" rx="10.8" ry="7.2" fill="#6c6c6c" transform="rotate(-54 594.4 729.6)"/><ellipse cx="433.7" cy="683.1" rx="17.5" ry="11.6" fill="#b4b4b4" transform="rotate(-15 433.7 683.1)"/><ellipse cx="642.0" cy="711.1" rx="12.9" ry="8.6" fill="#787878" transform="rotate(-45 642.0 711.1)"/><ellipse cx="589.6" cy="737.0" rx="13.6" ry="9.1" fill="#6c6c6c" transform="rotate(-35 589.6 737.0)"/><ellipse cx="667.1" cy="730.9" rx="13.0" ry="8.7" fill="#b4b4b4" transform="rotate(-5 667.1 730.9)"/><ellipse cx="466.9" cy="692.2" rx="10.8" ry="7.2" fill="#8a8a8a" transform="rotate(-20 466.9 692.2)"/><ellipse cx="443.6" cy="754.9" rx="22.0" ry="14.7" fill="#c8c8c8" transform="rotate(-11 443.6 754.9)"/><ellipse cx="657.8" cy="755.0" rx="22.8" ry="15.2" fill="#8a8a8a" transform="rotate(-18 657.8 755.0)"/><ellipse cx="484.8" cy="688.0" rx="12.6" ry="8.4" fill="#c8c8c8" transform="rotate(-6 484.8 688.0)"/><ellipse cx="620.2" cy="734.4" rx="10.9" ry="7.3" fill="#8a8a8a" transform="rotate(-37 620.2 734.4)"/><ellipse cx="530.4" cy="755.3" rx="16.3" ry="10.9" fill="#a0a0a0" transform="rotate(-11 530.4 755.3)"/><ellipse cx="563.4" cy="714.9" rx="25.8" ry="17.2" fill="#c8c8c8" transform="rotate(-26 563.4 714.9)"/><ellipse cx="442.7" cy="737.1" rx="18.4" ry="12.2" fill="#a0a0a0" transform="rotate(-41 442.7 737.1)"/><ellipse cx="538.1" cy="732.7" rx="10.9" ry="7.3" fill="#b4b4b4" transform="rotate(-32 538.1 732.7)"/><ellipse cx="472.0" cy="713.5" rx="8.4" ry="5.6" fill="#a0a0a0" transform="rotate(-21 472.0 713.5)"/><ellipse cx="658.1" cy="714.2" rx="7.9" ry="5.2" fill="#6c6c6c" transform="rotate(-36 658.1 714.2)"/><ellipse cx="418.7" cy="744.7" rx="11.6" ry="7.7" fill="#787878" transform="rotate(-35 418.7 744.7)"/><ellipse cx="584.3" cy="732.3" rx="24.6" ry="16.4" fill="#c8c8c8" transform="rotate(-24 584.3 732.3)"/><ellipse cx="659.2" cy="726.5" rx="8.6" ry="5.8" fill="#8a8a8a" transform="rotate(-14 659.2 726.5)"/><ellipse cx="471.3" cy="725.8" rx="22.9" ry="15.3" fill="#b4b4b4" transform="rotate(-33 471.3 725.8)"/><ellipse cx="457.5" cy="746.9" rx="16.4" ry="11.0" fill="#787878" transform="rotate(-51 457.5 746.9)"/><ellipse cx="493.9" cy="685.5" rx="15.8" ry="10.5" fill="#b4b4b4" transform="rotate(-41 493.9 685.5)"/><ellipse cx="551.2" cy="707.0" rx="25.2" ry="16.8" fill="#b4b4b4" transform="rotate(-52 551.2 707.0)"/><ellipse cx="418.4" cy="744.2" rx="17.9" ry="11.9" fill="#787878" transform="rotate(-24 418.4 744.2)"/><ellipse cx="442.6" cy="723.5" rx="15.9" ry="10.6" fill="#787878" transform="rotate(-21 442.6 723.5)"/><ellipse cx="539.9" cy="678.5" rx="14.9" ry="9.9" fill="#787878" transform="rotate(-20 539.9 678.5)"/><ellipse cx="579.2" cy="684.8" rx="22.2" ry="14.8" fill="#8a8a8a" transform="rotate(-15 579.2 684.8)"/><ellipse cx="571.5" cy="724.6" rx="17.9" ry="11.9" fill="#b4b4b4" transform="rotate(-31 571.5 724.6)"/><ellipse cx="538.8" cy="749.6" rx="17.2" ry="11.5" fill="#8a8a8a" transform="rotate(-51 538.8 749.6)"/><ellipse cx="551.8" cy="684.7" rx="17.3" ry="11.5" fill="#8a8a8a" transform="rotate(-42 551.8 684.7)"/><ellipse cx="438.5" cy="754.9" rx="12.8" ry="8.6" fill="#6c6c6c" transform="rotate(-34 438.5 754.9)"/><ellipse cx="435.8" cy="720.9" rx="20.4" ry="13.6" fill="#b4b4b4" transform="rotate(-34 435.8 720.9)"/><ellipse cx="464.5" cy="675.8" rx="20.4" ry="13.6" fill="#c8c8c8" transform="rotate(-47 464.5 675.8)"/><ellipse cx="417.2" cy="696.9" rx="11.3" ry="7.5" fill="#6c6c6c" transform="rotate(-35 417.2 696.9)"/><ellipse cx="524.3" cy="712.7" rx="13.8" ry="9.2" fill="#b4b4b4" transform="rotate(-30 524.3 712.7)"/></g><path d="M828.3,307.3 822.9,306.3 812.1,304.1 801.3,305.2 790.5,309.5 780.8,312.7 772.2,314.9 761.4,313.8 748.4,309.5 731.1,305.7 709.6,302.5 688.0,301.4 666.4,302.5 644.8,302.2 623.2,300.4 601.6,299.1 580.0,298.3 563.8,297.5 553.0,296.9 542.2,297.6 531.4,299.8 520.6,300.3 509.8,299.2 499.5,300.3 489.8,303.6 480.1,307.9 470.3,313.3 461.2,318.1 452.5,322.5 445.0,326.8 438.5,331.1 432.0,336.5 425.5,343.0 419.1,348.4 412.6,352.7 406.1,358.1 399.6,364.6 393.1,371.1 386.7,377.5 380.2,384.0 373.7,390.5 367.2,398.1 360.7,406.7 355.3,415.3 351.0,424.0 346.7,432.6 342.4,441.3 338.1,448.8 333.7,455.3 332.7,461.8 334.8,468.3 339.1,474.7 345.6,481.2 350.5,488.8 353.7,497.4 356.4,506.0 358.6,514.7 359.1,523.3 358.0,532.0 360.7,538.4 367.2,542.8 375.9,543.8 386.7,541.7 396.4,542.8 405.0,547.1 412.6,552.5 419.1,559.0 424.5,566.5 428.8,575.2 432.0,583.8 434.2,592.4 433.1,600.0 428.8,606.5 423.4,611.9 416.9,616.2 409.3,621.6 400.7,628.1 392.1,634.6 383.4,641.0 378.0,646.4 375.9,650.8 379.1,655.1 387.7,659.4 397.5,660.5 408.3,658.3 420.1,656.2 433.1,654.0 445.0,655.1 455.8,659.4 466.6,664.8 477.4,671.3 486.0,672.4 492.5,668.0 499.0,662.6 505.4,656.2 513.0,655.1 521.6,659.4 531.4,663.7 542.2,668.0 553.0,671.3 563.8,673.4 574.6,675.6 585.4,677.8 596.2,677.8 607.0,675.6 616.7,672.4 625.3,668.0 634.0,668.0 642.6,672.4 651.2,676.7 659.9,681.0 669.6,681.0 680.4,676.7 689.0,671.3 695.5,664.8 703.1,658.3 711.7,651.8 720.3,645.4 729.0,638.9 736.5,631.3 743.0,622.7 751.7,615.1 762.5,608.6 772.2,602.2 780.8,595.7 789.5,588.1 798.1,579.5 808.9,573.0 821.9,568.7 828.3,566.5Z" fill="#b0b0b0" filter="url(#b12)"/><path d="M418.8,407.7 424.2,393.8 431.5,380.8 440.8,368.5 451.5,357.7 463.8,348.5 477.7,340.8 493.1,334.6 508.5,330.0 523.8,326.9 537.7,323.1 550.0,318.5 563.8,313.8 579.2,309.2 594.6,305.4 610.0,302.3 625.4,300.4 640.8,299.6 656.2,299.6 671.5,300.4 686.9,301.5 702.3,303.1 717.7,302.7 733.1,300.4 746.9,302.7 759.2,309.6 767.7,321.5 772.3,338.5 771.5,353.1 765.4,365.4 764.6,376.9 769.2,387.7 773.8,398.5 778.5,409.2 782.3,420.0 785.4,430.8 790.0,440.8 796.2,450.0 800.8,460.8 803.8,473.1 803.8,485.4 800.8,497.7 796.9,509.2 792.3,520.0 787.7,530.8 783.1,541.5 776.9,552.3 769.2,563.1 760.8,573.8 751.5,584.6 741.5,594.6 730.8,603.8 721.5,613.1 713.8,622.3 706.9,632.3 700.8,643.1 691.5,650.0 679.2,653.1 666.9,656.2 654.6,659.2 643.8,663.1 634.6,667.7 626.9,666.9 620.8,660.8 613.1,656.9 603.8,655.4 594.6,657.7 585.4,663.8 576.2,667.7 566.9,669.2 557.7,672.3 548.5,676.9 539.2,676.9 530.0,672.3 521.5,666.2 513.8,658.5 506.2,653.1 498.5,650.0 490.0,650.8 480.8,655.4 471.5,656.9 462.3,655.4 451.5,653.8 439.2,652.3 425.4,652.3 410.0,653.8 396.9,653.1 386.2,650.0 379.2,646.2 376.2,641.5 378.5,636.2 386.2,630.0 395.4,623.8 406.2,617.7 416.9,613.1 427.7,610.0 436.2,610.8 442.3,615.4 453.1,618.5 468.5,620.0 476.9,619.2 478.5,616.2 473.8,612.3 463.1,607.7 453.8,603.1 446.2,598.5 441.5,591.5 440.0,582.3 436.2,574.6 430.0,568.5 424.6,560.8 420.0,551.5 414.6,540.8 408.5,528.5 403.8,520.8 400.8,517.7 395.4,518.5 387.7,523.1 380.8,527.7 374.6,532.3 369.2,532.3 364.6,527.7 360.8,521.5 357.7,513.8 356.9,505.4 358.5,496.2 356.9,488.5 352.3,482.3 346.2,476.2 338.5,470.0 333.8,463.8 332.3,457.7 336.2,454.6 345.4,454.6 355.4,456.2 366.2,459.2 376.2,461.5 385.4,463.1 393.1,461.5 399.2,456.9 405.4,451.5 411.5,445.4 415.0,435.4 415.8,421.5Z" fill="#e9e9e9" stroke="#e9e9e9" stroke-width="10" filter="url(#b8)"/><path d="M583.8,329.2 590.0,333.8 597.7,335.0 606.9,332.7 616.2,332.7 625.4,335.0 634.6,338.1 643.8,341.9 653.8,345.8 664.6,349.6 674.6,349.2 683.8,344.6 692.3,342.3 700.0,342.3 706.2,345.0 710.8,350.4 712.3,356.9 710.8,364.6 711.5,372.3 714.6,380.0 713.8,386.2 709.2,390.8 703.1,393.8 695.4,395.4 693.1,399.2 696.2,405.4 700.8,410.8 706.9,415.4 712.3,422.3 716.9,431.5 718.5,440.8 716.9,450.0 717.7,458.5 720.8,466.2 723.8,473.8 726.9,481.5 726.9,490.0 723.8,499.2 720.0,508.5 715.4,517.7 710.0,526.2 703.8,533.8 697.7,540.8 691.5,546.9 687.7,553.8 686.2,561.5 682.3,567.7 676.2,572.3 669.2,576.2 661.5,579.2 654.6,583.8 648.5,590.0 642.3,595.4 636.2,600.0 629.2,603.5 621.5,605.8 613.8,605.4 606.2,602.3 600.0,598.8 595.4,595.0 590.0,593.8 583.8,595.4 576.9,595.8 569.2,595.0 562.3,593.5 556.2,591.2 550.8,587.7 546.2,583.1 540.8,578.5 534.6,573.8 528.5,569.2 522.3,564.6 517.7,559.2 514.6,553.1 513.5,546.9 514.2,540.8 512.7,535.4 508.8,530.8 503.8,529.2 497.7,530.8 491.5,531.9 485.4,532.7 479.2,531.2 473.1,527.3 467.7,523.1 463.1,518.5 458.5,513.1 453.8,506.9 450.0,499.2 446.9,490.0 444.6,480.8 443.1,471.5 441.9,462.3 441.2,453.1 441.2,443.8 441.9,434.6 443.8,426.2 446.9,418.5 452.3,412.3 460.0,407.7 468.5,404.2 477.7,401.9 486.2,401.5 493.8,403.1 498.5,406.5 500.0,411.9 503.8,413.8 510.0,412.3 516.2,412.3 522.3,413.8 528.5,416.2 534.6,419.2 539.2,417.7 542.3,411.5 544.6,404.6 546.2,396.9 547.7,389.2 549.2,381.5 552.3,373.8 556.9,366.2 561.5,358.5 566.2,350.8 570.0,343.8 573.1,337.7 576.2,332.7 579.2,328.8Z" fill="#f8f8f8" stroke="#f8f8f8" stroke-width="30" filter="url(#b12)"/><path d="M603.8,369.2 613.1,370.8 621.5,373.1 629.2,376.2 636.2,380.8 642.3,386.9 648.5,393.1 654.6,399.2 660.0,405.4 664.6,411.5 668.8,418.5 672.7,426.2 675.0,434.6 675.8,443.8 676.9,453.1 678.5,462.3 678.8,471.5 678.1,480.8 676.5,490.0 674.2,499.2 672.3,508.5 670.8,517.7 668.5,526.2 665.4,533.8 661.5,540.0 656.9,544.6 651.5,548.5 645.4,551.5 639.2,553.8 633.1,555.4 626.9,555.4 620.8,553.8 614.6,554.6 608.5,557.7 603.1,560.8 598.5,563.8 593.1,564.6 586.9,563.1 580.8,563.8 574.6,566.9 568.5,570.8 562.3,575.4 556.9,576.9 552.3,575.4 551.5,571.5 554.6,565.4 558.5,560.0 563.1,555.4 564.6,550.0 563.1,543.8 560.8,538.5 557.7,533.8 553.8,532.3 549.2,533.8 547.7,537.7 549.2,543.8 547.7,550.0 543.1,556.2 536.9,559.2 529.2,559.2 524.6,556.2 523.1,550.0 523.8,543.8 526.9,537.7 527.7,530.8 526.2,523.1 526.9,516.2 530.0,510.0 530.0,504.6 526.9,500.0 524.6,494.6 523.1,488.5 524.6,481.5 529.2,473.8 530.0,467.7 526.9,463.1 527.7,458.5 532.3,453.8 536.9,449.2 541.5,444.6 543.1,438.5 541.5,430.8 542.3,423.8 545.4,417.7 549.2,411.5 553.8,405.4 558.5,399.2 563.1,393.1 568.5,386.9 574.6,380.8 580.0,376.2 584.6,373.1 590.0,370.8 596.2,369.2Z" fill="#ffffff" filter="url(#b8)"/><path d="M473.1,423.1 479.2,421.5 484.6,421.5 489.2,423.1 492.3,426.9 493.8,433.1 497.7,434.6 503.8,431.5 510.0,428.5 516.2,425.4 521.5,425.4 526.2,428.5 527.7,433.1 526.2,439.2 523.8,444.6 520.8,449.2 516.9,450.0 512.3,446.9 507.7,447.7 503.1,452.3 503.1,457.7 507.7,463.8 511.5,470.0 514.6,476.2 517.7,482.3 520.8,488.5 521.5,493.8 520.0,498.5 516.2,501.5 510.0,503.1 503.8,502.3 497.7,499.2 491.5,499.2 485.4,502.3 480.8,501.5 477.7,496.9 474.6,491.5 471.5,485.4 468.5,478.5 465.4,470.8 465.4,463.8 468.5,457.7 469.2,450.8 467.7,443.1 467.7,435.4 469.2,427.7Z" fill="#ffffff" filter="url(#b5)"/><path d="M750.6,333.3 854.3,320.3 854.3,557.9 785.1,575.2 741.9,532.0 776.5,445.6Z" fill="#e2e2e2" filter="url(#b12)"/><ellipse cx="258.1" cy="647.7" rx="9.5" ry="5.2" fill="#909090" filter="url(#b3)"/><ellipse cx="279.7" cy="652.9" rx="8.6" ry="5.2" fill="#909090" filter="url(#b3)"/><ellipse cx="290.5" cy="655.1" rx="6.9" ry="3.9" fill="#909090" filter="url(#b3)"/><ellipse cx="327.3" cy="637.8" rx="10.4" ry="6.0" fill="#909090" filter="url(#b3)"/><ellipse cx="353.2" cy="650.8" rx="13.0" ry="6.9" fill="#909090" filter="url(#b3)"/><ellipse cx="405.0" cy="645.1" rx="30.2" ry="9.5" fill="#909090" filter="url(#b3)"/><ellipse cx="318.6" cy="761.8" rx="13.0" ry="6.9" fill="#dcdcdc" filter="url(#b3)"/><ellipse cx="333.7" cy="678.8" rx="3.9" ry="2.6" fill="#909090" filter="url(#b3)"/><ellipse cx="329.4" cy="564.4" rx="3.9" ry="3.5" fill="#909090" filter="url(#b3)"/><ellipse cx="318.6" cy="605.4" rx="3.9" ry="2.2" fill="#909090" filter="url(#b3)"/><ellipse cx="666.4" cy="760.0" rx="8.6" ry="3.9" fill="#dcdcdc" filter="url(#b3)"/></g>
<g clip-path="url(#clip1)" fill="none" stroke-width="2.8" stroke-linejoin="round"><path d="M473.6,287.0 470.3,287.1 467.3,289.2 463.7,289.7 460.9,291.9 459.1,295.1 457.6,298.2 456.2,301.8 451.6,302.4 449.9,306.0 448.1,308.1 447.6,312.0 444.2,312.1 440.3,310.7 438.0,312.3 435.0,312.1 432.0,311.9 428.6,310.8 425.8,311.8 424.2,317.4 422.4,322.4 419.6,323.4 416.8,324.6 413.3,322.9 410.3,326.3 406.8,326.2 404.3,326.7 400.6,325.7 397.5,321.2 394.5,320.3 391.9,317.6 388.7,316.8 385.6,315.1 381.8,314.3 380.2,318.1 376.5,318.4 372.8,320.9 368.9,324.6 370.5,329.3 372.8,332.8 377.3,333.6 380.8,334.4 384.6,336.7 383.7,340.9 383.8,343.4 380.1,346.3 379.7,349.5 376.2,351.5 373.5,353.4 372.4,355.9 374.4,360.7 371.2,362.1 367.0,362.2 363.1,362.7 362.8,366.6 361.5,369.7 359.8,372.3 357.2,374.0 354.3,375.4 353.4,378.9 352.7,382.4 347.2,381.4 344.2,382.6 342.9,385.5 343.0,389.3 342.6,392.7 340.6,394.7 338.1,396.2 335.9,397.8 333.5,399.8 333.5,403.7 331.8,407.5 331.7,411.6 333.4,415.2 333.4,419.1 336.5,420.1 336.3,422.4 338.4,424.6 339.3,427.3 338.2,429.9 335.1,431.8 334.4,434.6 333.8,437.8 334.9,441.7 333.8,444.4 332.1,446.6 329.7,448.2 329.5,451.1 329.0,453.8 328.9,457.7 325.3,459.8 326.9,462.9 327.3,465.4 329.1,467.9 332.5,469.9 332.9,472.3 333.6,474.9 332.8,478.6 333.6,481.5 334.6,484.3 336.2,486.5 337.5,488.9 337.8,492.1 338.4,494.7 339.2,497.4 341.5,499.8 344.8,501.8 345.4,504.9 345.1,508.3 346.2,511.2 351.1,512.6 350.8,516.0 347.8,520.0 348.8,522.3 347.0,525.4 347.0,527.6 345.4,529.7 346.9,532.8 351.0,536.2 352.9,539.0 350.0,541.2 348.6,543.6 347.5,546.7 349.4,550.3 347.1,554.0 349.1,557.3 351.0,560.6 354.7,562.6 356.2,564.6 357.8,566.8 360.1,568.1 362.8,569.4 363.9,573.2 364.4,578.1 367.8,578.8 370.7,580.1 374.2,580.6 378.3,579.7 382.4,578.7 384.4,581.6 386.9,583.2 389.6,584.9 392.6,585.2 395.1,587.2 398.2,587.0 401.2,587.8 403.5,589.9 404.3,594.7 406.0,596.5 408.6,597.0 412.6,596.5 416.5,596.6 420.5,596.9 423.7,597.6 422.6,602.5 423.2,606.6 421.9,611.0 424.7,614.2 424.7,618.2 423.2,621.8 419.5,621.7 417.9,624.0 414.6,624.7 413.7,628.4 410.7,629.5 409.1,631.9 405.2,630.5 403.3,632.3 400.6,632.8 398.5,634.8 395.4,635.8 393.0,637.8 391.6,640.2 389.4,641.9 386.1,644.0 385.6,648.0 384.8,652.2 384.4,656.9 385.2,661.5 389.1,664.3 392.5,666.6 395.6,668.0 397.6,669.6 400.1,670.7 403.5,670.9 405.3,673.6 406.4,677.8 409.9,678.4 414.7,676.1 417.1,678.1 419.7,679.6 422.3,681.3 424.6,683.1 429.0,682.9 430.7,685.5 435.5,685.6 435.7,689.2 438.1,690.8 437.7,694.4 436.5,698.6 439.2,701.5 437.0,704.6 435.8,707.4 434.6,709.2 434.5,712.3 435.9,716.5 432.6,717.7 430.4,719.6 430.1,723.1 427.8,725.4 425.2,727.1 421.6,727.7 420.9,730.3 421.6,734.0 420.4,735.5 421.6,739.1 418.5,740.8 416.3,743.1 414.0,746.3 412.7,749.8 414.5,752.7 416.1,755.2 418.5,757.3 419.3,760.2 419.0,763.4 419.4,766.4" stroke="#fde725"/><path d="M684.2,766.3 684.1,763.2 681.2,762.0 677.7,761.2 675.1,759.9 675.7,756.4 677.5,752.0 677.5,748.9 678.1,745.4 675.9,744.7 674.9,743.0 671.3,740.7 671.6,738.1 671.6,735.5 673.8,733.3 672.6,730.0 676.2,728.6 673.9,724.2 678.9,723.4 678.5,720.0 681.7,719.1 684.2,717.5 685.2,714.4 685.0,710.3 686.2,707.1 690.4,708.1 693.1,707.5 694.5,704.8 698.4,706.0 699.9,703.6 700.5,699.8 700.4,695.2 703.4,694.8 706.5,694.4 709.2,693.5 713.2,694.3 714.5,691.5 716.8,689.8 719.6,688.9 722.2,687.5 725.7,687.3 728.2,685.9 731.0,684.3 731.9,680.9 731.7,677.2 734.3,676.1 737.1,675.1 740.3,673.4 741.8,669.8 742.2,666.3 741.9,662.7 743.2,660.7 745.8,659.3 746.2,656.6 746.9,654.1 747.2,651.3 748.6,649.2 751.5,648.0 753.9,646.5 754.3,643.6 755.3,641.2 756.0,638.7 758.6,637.6 757.4,632.8 759.2,630.8 760.4,628.4 763.8,627.8 765.0,625.2 767.7,623.9 768.4,620.4 771.6,619.9 771.7,615.6 773.4,613.2 774.5,609.7 779.2,610.8 781.3,608.8 783.9,607.4 786.1,605.3 789.2,604.5 791.0,602.4 794.9,603.9 797.1,602.8 800.3,603.1 801.6,600.4 805.0,600.7 806.3,596.3 808.5,594.1 811.3,592.7 814.0,591.5 816.4,589.5 818.4,586.7 820.5,584.1 823.8,584.6 827.5,586.1" stroke="#fde725"/><path d="M340.6,436.4 339.9,436.2 339.2,436.0 338.6,435.8 338.1,435.5 337.6,435.1 337.0,434.7 336.5,434.1 336.0,433.5 335.4,432.7 335.1,432.0 335.1,431.2 335.4,430.5 336.0,429.7 336.6,429.1 337.3,428.8 338.1,428.6 339.0,428.6 339.8,428.7 340.4,429.1 340.9,429.7 341.3,430.4 341.7,431.1 342.0,431.8 342.3,432.5 342.5,433.1 342.6,433.7 342.5,434.4 342.4,435.0 342.1,435.6 341.6,436.1 341.2,436.3Z" stroke="#fde725"/><path d="M410.9,664.7 409.9,664.0 409.3,663.2 409.3,662.1 409.7,660.8 410.7,659.3 411.6,658.0 412.5,656.9 413.3,656.1 414.2,655.5 415.1,655.0 416.0,654.5 416.9,654.0 417.8,653.6 418.8,653.4 419.7,653.5 420.6,653.9 421.6,654.5 422.2,655.4 422.5,656.5 422.5,658.0 422.2,659.6 421.7,661.2 420.9,662.6 419.9,663.8 418.7,664.9 417.5,665.6 416.3,666.0 415.2,666.2 414.1,666.0 413.0,665.6 412.0,665.2Z" stroke="#fde725"/><path d="M411.2,668.9 410.6,669.0 410.2,668.8 410.1,668.4 410.1,667.7 410.4,666.8 410.6,665.9 410.7,665.1 410.8,664.2 410.9,663.3 411.1,662.7 411.4,662.3 411.8,662.3 412.3,662.4 412.8,662.6 413.3,662.7 413.8,662.8 414.3,662.9 414.8,663.1 415.1,663.6 415.4,664.2 415.5,665.0 415.6,665.9 415.5,666.7 415.2,667.5 414.8,668.3 414.4,668.8 413.9,669.1 413.4,669.2 412.9,669.1 412.4,669.0 411.8,668.9Z" stroke="#fde725"/><path d="M343.2,461.9 342.4,462.7 341.3,463.4 340.1,464.1 338.6,464.7 337.0,465.2 335.2,465.4 333.5,465.3 331.7,464.9 329.8,464.1 328.3,463.2 327.3,462.3 326.6,461.3 326.4,460.1 326.5,459.2 327.0,458.4 327.9,457.8 329.1,457.3 330.4,456.8 331.6,456.3 332.8,455.8 334.0,455.3 335.3,455.1 336.5,455.2 337.6,455.6 338.8,456.4 339.9,457.1 341.0,457.9 342.0,458.7 343.0,459.5 343.6,460.3 343.6,461.1Z" stroke="#fde725"/><path d="M406.5,655.3 405.7,655.1 404.8,654.8 404.0,654.6 403.2,654.3 402.4,654.1 401.7,653.7 400.9,653.1 400.3,652.3 399.7,651.4 399.2,650.5 398.8,649.6 398.6,648.7 398.6,647.8 398.7,647.0 399.1,646.5 399.7,646.1 400.6,645.8 401.4,645.9 402.3,646.3 403.2,647.0 404.1,648.0 405.0,649.0 405.9,649.9 406.9,650.8 407.9,651.7 408.6,652.6 408.9,653.4 408.8,654.1 408.4,654.7 407.9,655.1 407.2,655.4Z" stroke="#fde725"/><path d="M351.4,528.8 352.0,528.1 352.7,527.4 353.4,526.8 354.3,526.3 355.2,525.8 356.1,525.5 357.1,525.3 358.1,525.1 359.1,525.1 359.9,525.3 360.4,525.5 360.7,526.0 360.7,526.5 360.7,527.1 360.7,527.6 360.6,528.0 360.5,528.4 360.3,528.9 360.0,529.4 359.5,530.0 359.0,530.6 358.4,531.0 357.8,531.1 357.2,531.0 356.5,530.6 355.7,530.3 354.7,530.1 353.6,530.0 352.4,530.0 351.6,529.8 351.3,529.4Z" stroke="#fde725"/><path d="M348.3,390.8 347.9,390.8 347.6,390.7 347.2,390.6 346.8,390.3 346.4,390.0 346.0,389.7 345.7,389.4 345.3,389.0 345.0,388.7 344.7,388.3 344.4,387.9 344.3,387.4 344.2,386.9 344.2,386.6 344.4,386.5 344.7,386.5 345.2,386.6 345.7,386.7 346.2,386.8 346.7,386.9 347.2,387.0 347.7,387.3 348.1,387.6 348.3,388.0 348.5,388.5 348.7,389.0 348.8,389.5 348.8,389.9 348.8,390.3 348.8,390.5 348.6,390.7Z" stroke="#fde725"/><path d="M435.6,632.3 435.6,632.0 435.6,631.7 435.6,631.3 435.7,631.0 435.8,630.7 436.0,630.4 436.3,630.3 436.6,630.2 437.0,630.2 437.3,630.3 437.5,630.5 437.7,630.7 437.8,631.0 438.0,631.3 438.1,631.6 438.2,631.9 438.3,632.1 438.4,632.4 438.4,632.7 438.3,633.0 438.2,633.3 438.1,633.6 437.8,633.6 437.6,633.6 437.3,633.4 436.9,633.3 436.7,633.2 436.4,633.0 436.1,632.9 435.9,632.8 435.8,632.6Z" stroke="#fde725"/><path d="M398.8,331.7 397.4,332.3 396.1,332.8 394.9,333.3 393.9,333.7 392.9,334.1 391.8,334.4 390.6,334.5 389.3,334.5 387.7,334.4 386.7,334.0 386.0,333.4 385.7,332.6 385.9,331.5 386.0,330.4 386.2,329.3 386.3,328.3 386.5,327.3 386.9,326.5 387.7,325.8 388.8,325.2 390.2,324.8 391.4,324.6 392.6,324.9 393.7,325.4 394.6,326.2 395.6,327.1 396.7,327.9 397.9,328.8 399.1,329.6 399.6,330.4 399.6,331.1Z" stroke="#fde725"/><path d="M397.1,600.9 396.4,600.1 395.6,599.1 394.9,597.9 394.1,596.5 393.4,594.8 393.0,593.0 392.9,591.0 393.1,588.7 393.7,586.3 394.4,584.6 395.3,583.5 396.4,583.2 397.6,583.7 398.8,584.1 399.8,584.5 400.8,584.9 401.6,585.4 402.4,586.2 403.1,587.3 403.8,588.8 404.3,590.6 404.5,592.2 404.2,593.7 403.6,595.1 402.6,596.3 401.6,597.4 400.8,598.5 400.0,599.6 399.3,600.6 398.6,601.1 397.8,601.2Z" stroke="#fde725"/><path d="M378.6,325.3 378.6,324.4 378.9,323.5 379.5,322.7 380.4,321.8 381.5,321.1 382.7,320.3 383.9,319.6 385.2,318.8 386.5,318.1 387.6,317.7 388.5,317.7 389.2,318.1 389.7,318.8 390.2,319.5 390.8,320.3 391.3,321.0 391.9,321.8 392.1,322.8 391.9,324.0 391.2,325.3 390.2,326.9 388.9,328.0 387.5,328.7 386.0,329.0 384.2,328.9 382.8,328.8 381.5,328.4 380.5,328.0 379.7,327.5 379.1,326.9 378.8,326.2Z" stroke="#fde725"/><path d="M344.2,538.1 343.9,537.7 343.7,537.2 343.6,536.6 343.5,536.1 343.5,535.4 343.6,534.7 343.7,533.8 343.9,532.8 344.2,531.6 344.6,530.8 345.1,530.4 345.8,530.3 346.6,530.5 347.3,530.8 348.1,531.1 348.9,531.4 349.6,531.8 350.0,532.3 350.1,533.0 349.9,533.9 349.3,535.0 348.8,535.9 348.3,536.8 347.9,537.6 347.5,538.4 347.0,538.9 346.5,539.2 346.0,539.2 345.4,539.0 344.9,538.8 344.5,538.5Z" stroke="#fde725"/><path d="M445.0,753.2 444.0,753.5 443.0,753.7 442.2,753.9 441.4,754.2 440.7,754.4 440.0,754.5 439.2,754.5 438.3,754.4 437.3,754.2 436.5,753.8 435.8,753.3 435.4,752.7 435.1,751.9 435.2,751.3 435.5,750.8 436.1,750.5 437.1,750.3 437.9,750.0 438.7,749.8 439.3,749.6 439.9,749.4 440.5,749.3 441.0,749.4 441.6,749.6 442.1,750.0 442.7,750.4 443.5,750.9 444.3,751.4 445.2,752.0 445.7,752.5 445.6,752.9Z" stroke="#fde725"/><path d="M413.9,616.8 413.2,616.2 413.0,615.4 413.1,614.6 413.6,613.6 414.6,612.6 415.5,611.7 416.4,610.8 417.4,610.1 418.3,609.5 419.2,609.1 420.0,609.0 420.8,609.1 421.5,609.5 422.0,610.0 422.3,610.6 422.4,611.2 422.3,612.0 422.2,612.8 422.1,613.7 422.1,614.6 422.0,615.5 421.7,616.3 421.2,617.1 420.4,617.9 419.4,618.6 418.5,619.0 417.6,619.2 416.8,619.0 416.1,618.5 415.4,618.0 414.6,617.5Z" stroke="#fde725"/><path d="M340.4,489.5 340.1,490.3 339.5,490.9 338.6,491.5 337.3,491.9 335.8,492.2 334.2,492.3 332.6,492.1 330.9,491.8 329.1,491.3 328.0,490.7 327.4,490.0 327.4,489.1 327.9,488.2 328.2,487.2 328.2,486.1 327.9,485.0 327.3,483.7 327.4,482.9 328.1,482.3 329.5,482.1 331.6,482.3 333.5,482.6 335.1,483.0 336.4,483.6 337.5,484.3 338.5,485.1 339.2,485.8 339.8,486.5 340.2,487.2 340.4,488.0 340.5,488.7Z" stroke="#fde725"/><path d="M353.1,498.7 353.1,498.5 353.1,498.2 353.2,498.0 353.4,497.7 353.6,497.5 353.9,497.2 354.2,497.1 354.5,496.9 354.9,496.8 355.3,496.6 355.8,496.5 356.3,496.4 356.9,496.3 357.4,496.3 357.6,496.5 357.6,496.9 357.3,497.4 357.1,497.9 356.8,498.3 356.5,498.7 356.1,499.1 355.7,499.4 355.3,499.7 354.9,499.9 354.4,500.0 354.0,500.1 353.7,500.0 353.5,499.8 353.4,499.5 353.3,499.2 353.2,499.0Z" stroke="#fde725"/><path d="M374.0,577.4 373.5,576.6 373.2,575.7 373.1,574.9 373.2,574.0 373.5,573.1 373.9,572.3 374.4,571.5 374.9,570.8 375.6,570.1 376.3,569.5 377.2,569.1 378.1,568.7 379.2,568.5 380.1,568.6 380.8,569.0 381.2,569.8 381.4,570.9 381.6,572.1 381.9,573.2 382.3,574.3 382.8,575.5 382.8,576.3 382.4,576.9 381.5,577.1 380.2,577.1 379.1,577.1 378.0,577.3 377.0,577.6 376.1,578.0 375.4,578.1 374.7,577.9Z" stroke="#fde725"/><path d="M446.6,709.7 445.7,709.0 444.9,708.1 444.2,707.2 443.6,706.2 443.2,705.1 442.8,703.9 442.4,702.7 442.2,701.3 442.1,699.8 442.2,698.5 442.6,697.5 443.3,696.7 444.3,696.1 445.3,695.8 446.3,695.6 447.4,695.6 448.5,695.8 449.4,696.4 450.1,697.2 450.6,698.4 450.9,700.0 451.1,701.5 451.3,703.1 451.5,704.6 451.7,706.2 451.6,707.5 451.2,708.6 450.5,709.4 449.5,710.0 448.5,710.3 447.5,710.2Z" stroke="#fde725"/><path d="M437.9,617.7 437.2,618.4 436.5,618.7 435.7,618.6 434.8,618.2 433.8,617.4 433.0,616.5 432.2,615.5 431.6,614.5 431.0,613.4 430.7,612.3 430.6,611.2 430.7,610.2 431.0,609.1 431.5,608.5 432.2,608.2 433.1,608.4 434.2,608.9 435.3,609.3 436.2,609.7 437.1,610.0 437.9,610.3 438.8,610.7 439.6,611.4 440.4,612.2 441.2,613.2 441.6,614.2 441.6,614.9 441.1,615.5 440.2,616.0 439.4,616.5 438.6,617.1Z" stroke="#fde725"/><path d="M417.2,664.7 416.6,665.1 415.9,665.2 415.3,665.2 414.6,664.9 414.0,664.4 413.5,663.9 412.9,663.4 412.3,663.0 411.8,662.5 411.3,661.9 410.9,661.1 410.4,660.2 410.1,659.1 410.0,658.3 410.4,657.7 411.1,657.2 412.2,657.0 413.3,656.9 414.3,656.9 415.3,657.0 416.3,657.2 417.1,657.6 417.6,658.1 417.8,658.9 417.8,659.8 417.9,660.7 417.9,661.5 418.0,662.3 418.1,663.0 418.0,663.7 417.7,664.2Z" stroke="#fde725"/><path d="M414.7,671.4 414.1,671.7 413.5,671.8 412.7,671.9 411.9,671.9 411.0,671.8 410.1,671.5 409.2,671.1 408.3,670.6 407.4,669.9 406.8,669.2 406.3,668.5 406.1,667.8 406.1,667.1 406.2,666.4 406.5,665.8 406.9,665.3 407.5,664.9 408.2,664.7 409.0,664.7 409.9,665.0 410.9,665.6 411.9,666.1 413.0,666.6 414.0,667.2 415.1,667.7 415.9,668.3 416.3,668.9 416.3,669.5 416.0,670.1 415.6,670.6 415.2,671.1Z" stroke="#fde725"/><path d="M333.9,472.6 334.2,471.4 334.6,470.4 335.2,469.5 335.8,468.7 336.6,468.1 337.5,467.7 338.4,467.4 339.4,467.4 340.4,467.5 341.4,467.9 342.3,468.6 343.1,469.4 343.8,470.5 344.2,471.5 344.1,472.5 343.7,473.4 342.9,474.2 342.2,475.1 341.6,476.0 341.1,476.8 340.7,477.7 340.2,478.3 339.6,478.6 338.8,478.7 337.8,478.5 337.0,478.1 336.1,477.5 335.3,476.7 334.6,475.8 334.1,474.8 333.9,473.7Z" stroke="#fde725"/><path d="M369.0,368.1 368.2,367.6 367.7,366.8 367.6,365.7 367.7,364.5 368.2,363.0 368.9,361.8 369.7,360.8 370.8,360.0 372.1,359.4 373.4,359.0 374.7,358.6 376.0,358.2 377.2,358.0 378.1,358.1 378.6,358.7 378.6,359.7 378.3,361.1 378.0,362.4 377.6,363.5 377.1,364.4 376.6,365.2 376.1,365.9 375.6,366.5 375.0,367.1 374.4,367.6 373.7,368.0 373.0,368.4 372.2,368.6 371.4,368.8 370.6,368.7 369.8,368.5Z" stroke="#fde725"/><path d="M326.6,467.7 326.1,467.0 325.9,466.2 325.9,465.5 326.2,464.6 326.7,463.8 327.2,463.0 327.7,462.2 328.1,461.5 328.4,460.8 328.8,460.3 329.4,459.8 330.0,459.5 330.7,459.2 331.3,459.2 331.7,459.5 332.0,460.1 332.1,460.9 332.2,461.7 332.4,462.4 332.6,463.2 332.8,463.9 332.9,464.8 332.7,465.7 332.4,466.7 331.9,467.8 331.3,468.6 330.5,469.0 329.7,469.2 328.8,469.0 328.0,468.7 327.3,468.3Z" stroke="#fde725"/><path d="M426.4,634.6 426.0,635.1 425.4,635.4 424.6,635.5 423.7,635.3 422.6,634.9 421.7,634.4 421.0,633.8 420.4,633.0 420.1,632.2 419.6,631.3 419.1,630.3 418.5,629.3 417.9,628.3 417.7,627.5 418.0,627.0 418.7,626.9 419.8,627.0 421.0,627.2 422.1,627.3 423.2,627.3 424.3,627.3 425.3,627.6 426.2,628.2 427.1,628.9 428.0,629.9 428.5,630.8 428.6,631.6 428.4,632.3 427.9,632.9 427.4,633.5 426.9,634.1Z" stroke="#fde725"/><path d="M371.8,569.9 371.0,569.8 370.4,569.4 369.8,568.9 369.4,568.2 369.0,567.3 368.8,566.5 368.8,565.7 368.9,564.9 369.2,564.2 369.5,563.5 369.9,563.0 370.3,562.5 370.8,562.1 371.4,561.9 371.9,561.8 372.5,561.8 373.1,562.0 373.7,562.3 374.5,562.7 375.3,563.1 376.1,563.7 376.6,564.4 376.7,565.0 376.4,565.8 375.7,566.6 375.1,567.3 374.6,568.0 374.1,568.7 373.6,569.3 373.1,569.7 372.5,569.9Z" stroke="#fde725"/><path d="M365.3,571.7 364.9,571.1 364.7,570.3 364.8,569.4 365.1,568.4 365.7,567.2 366.4,566.4 367.2,565.9 368.2,565.7 369.3,565.9 370.3,566.1 371.1,566.2 371.9,566.3 372.6,566.3 373.2,566.5 373.6,566.8 374.0,567.3 374.3,567.9 374.4,568.6 374.2,569.4 373.8,570.2 373.2,571.1 372.4,572.0 371.5,572.9 370.4,573.8 369.2,574.7 368.2,575.2 367.4,575.2 366.8,574.8 366.4,573.9 366.0,573.1 365.6,572.4Z" stroke="#fde725"/><path d="M424.6,600.2 424.3,599.4 424.3,598.7 424.7,598.2 425.3,597.7 426.3,597.4 427.3,597.0 428.2,596.5 429.2,595.9 430.1,595.3 431.1,594.9 432.0,594.9 433.0,595.1 434.0,595.7 434.7,596.4 435.0,597.2 435.0,598.2 434.6,599.3 434.1,600.3 433.5,601.1 432.8,601.8 432.0,602.4 431.1,603.0 430.1,603.5 429.1,604.1 428.0,604.6 427.1,604.8 426.4,604.5 425.8,603.9 425.5,602.9 425.2,602.0 424.9,601.1Z" stroke="#fde725"/><path d="M397.8,327.1 397.2,326.7 396.6,326.4 396.0,326.1 395.5,325.8 395.0,325.5 394.6,325.2 394.3,324.8 394.1,324.3 394.0,323.7 394.0,323.1 393.9,322.5 393.8,322.0 393.7,321.4 393.8,321.0 394.0,320.9 394.4,321.0 395.0,321.3 395.5,321.7 395.9,322.0 396.4,322.3 396.8,322.5 397.1,322.8 397.4,323.2 397.6,323.6 397.8,324.1 397.9,324.7 398.1,325.3 398.3,325.9 398.4,326.6 398.4,327.0 398.2,327.2Z" stroke="#fde725"/><path d="M385.7,568.0 384.9,568.3 384.1,568.5 383.4,568.6 382.7,568.6 382.0,568.5 381.2,568.3 380.3,568.3 379.3,568.2 378.3,568.2 377.6,568.1 377.2,567.8 377.2,567.3 377.5,566.6 377.8,566.0 378.0,565.3 378.1,564.6 378.1,563.9 378.3,563.4 378.8,563.0 379.6,562.8 380.6,562.8 381.5,562.9 382.2,563.2 382.7,563.7 383.1,564.4 383.6,565.0 384.2,565.6 384.9,566.2 385.6,566.7 386.0,567.2 386.0,567.6Z" stroke="#fde725"/><path d="M411.9,651.1 411.1,652.2 410.0,653.1 408.6,653.9 407.0,654.5 405.1,654.8 403.2,655.0 401.5,654.8 399.9,654.5 398.4,653.8 397.1,653.1 395.9,652.4 394.8,651.5 393.8,650.7 393.3,649.8 393.4,649.0 393.9,648.1 395.0,647.3 396.1,646.7 397.3,646.2 398.6,646.0 400.0,646.0 401.6,645.8 403.4,645.6 405.3,645.4 407.3,645.0 409.1,645.1 410.4,645.5 411.4,646.3 412.1,647.5 412.4,648.7 412.3,649.9Z" stroke="#fde725"/><path d="M322.4,476.2 322.5,475.9 322.5,475.5 322.5,475.1 322.5,474.7 322.5,474.3 322.5,474.0 322.7,473.8 323.0,473.7 323.5,473.8 323.9,473.8 324.3,473.8 324.7,473.7 325.1,473.6 325.4,473.7 325.5,473.8 325.6,474.0 325.7,474.4 325.6,474.8 325.6,475.1 325.5,475.5 325.4,476.0 325.2,476.3 324.9,476.6 324.6,476.9 324.2,477.0 323.8,477.1 323.4,477.2 323.1,477.1 322.8,476.9 322.6,476.7 322.4,476.5Z" stroke="#fde725"/><path d="M413.0,659.5 412.0,658.9 411.4,658.1 411.1,657.2 411.2,656.0 411.6,654.7 412.2,653.6 413.0,652.7 413.9,652.0 415.0,651.5 416.1,651.2 417.1,651.1 418.0,651.2 418.9,651.5 419.7,652.0 420.3,652.5 420.8,653.2 421.2,653.9 421.5,654.8 421.8,655.7 421.9,656.7 422.0,657.8 421.8,658.7 421.3,659.3 420.6,659.7 419.5,659.9 418.5,660.0 417.6,660.2 416.7,660.3 415.8,660.3 414.9,660.2 414.0,659.9Z" stroke="#fde725"/><path d="M397.7,643.7 397.5,643.4 397.4,643.2 397.3,642.9 397.4,642.5 397.5,642.1 397.7,641.7 397.8,641.4 398.0,641.2 398.2,640.9 398.4,640.7 398.7,640.4 399.0,640.0 399.3,639.7 399.6,639.5 399.8,639.6 400.0,639.8 400.0,640.2 400.1,640.6 400.1,641.0 400.1,641.4 400.0,641.8 399.9,642.2 399.8,642.7 399.7,643.2 399.5,643.8 399.3,644.2 399.1,644.4 398.8,644.4 398.5,644.2 398.2,644.1 397.9,643.9Z" stroke="#fde725"/><path d="M350.3,383.7 350.1,383.1 350.0,382.5 350.1,381.9 350.3,381.4 350.7,380.9 351.2,380.4 351.7,379.8 352.3,379.3 352.9,378.7 353.7,378.4 354.6,378.3 355.5,378.5 356.6,378.9 357.2,379.4 357.6,380.1 357.5,381.0 357.0,382.0 356.7,383.0 356.5,384.0 356.3,384.9 356.2,385.8 356.0,386.4 355.5,386.7 354.9,386.7 354.1,386.4 353.3,386.1 352.6,385.8 352.0,385.5 351.5,385.2 351.0,384.8 350.7,384.3Z" stroke="#fde725"/><path d="M418.5,749.8 418.2,750.0 418.0,750.1 417.7,750.0 417.5,749.9 417.2,749.6 416.9,749.4 416.7,749.1 416.5,748.9 416.4,748.6 416.3,748.4 416.2,748.1 416.1,747.8 416.0,747.5 415.9,747.3 416.0,747.1 416.2,747.0 416.5,747.0 416.8,747.0 417.1,747.0 417.4,747.1 417.7,747.3 418.0,747.5 418.3,747.7 418.6,747.9 419.0,748.2 419.2,748.4 419.2,748.7 419.2,748.9 419.0,749.2 418.9,749.4 418.7,749.6Z" stroke="#fde725"/><path d="M441.9,693.9 441.5,693.6 441.4,693.2 441.5,692.8 441.8,692.2 442.2,691.6 442.8,691.0 443.3,690.6 443.9,690.2 444.5,690.0 445.0,689.8 445.5,689.8 445.9,689.8 446.2,690.0 446.6,690.2 446.9,690.4 447.2,690.7 447.5,691.0 447.6,691.4 447.5,691.8 447.2,692.3 446.7,692.9 446.2,693.5 445.6,694.1 445.0,694.6 444.3,695.1 443.8,695.4 443.3,695.5 443.0,695.3 442.7,694.9 442.5,694.6 442.2,694.2Z" stroke="#fde725"/><path d="M377.3,572.6 377.0,571.9 376.8,571.3 376.7,570.8 376.7,570.3 376.8,569.8 377.0,569.3 377.2,569.0 377.5,568.6 377.9,568.3 378.3,568.1 378.7,568.0 379.1,568.0 379.6,568.1 380.2,568.3 380.8,568.5 381.4,568.7 382.1,568.9 382.5,569.3 382.7,569.6 382.5,570.1 382.0,570.6 381.7,571.1 381.4,571.6 381.1,572.2 381.0,572.8 380.7,573.2 380.2,573.5 379.6,573.6 378.8,573.6 378.2,573.4 377.7,573.1Z" stroke="#fde725"/><path d="M428.5,602.1 427.8,602.5 427.2,602.6 426.8,602.5 426.6,602.1 426.5,601.4 426.5,600.7 426.4,600.1 426.5,599.6 426.5,599.1 426.6,598.6 426.9,598.0 427.2,597.4 427.5,596.8 428.1,596.3 428.7,596.0 429.5,595.8 430.4,595.7 431.1,595.9 431.7,596.2 432.1,596.8 432.3,597.5 432.4,598.2 432.4,598.9 432.3,599.5 432.2,600.1 431.9,600.5 431.5,600.9 431.1,601.1 430.5,601.2 429.9,601.5 429.2,601.7Z" stroke="#fde725"/><path d="M412.1,651.0 412.1,651.5 411.9,651.8 411.6,652.0 411.3,652.0 410.8,651.9 410.5,651.7 410.2,651.5 409.9,651.3 409.8,651.0 409.5,650.7 409.3,650.4 408.9,650.0 408.5,649.6 408.3,649.3 408.3,648.9 408.5,648.5 408.9,648.2 409.3,648.0 409.7,647.9 410.1,648.0 410.5,648.2 411.0,648.3 411.4,648.4 412.0,648.4 412.5,648.4 412.9,648.5 413.0,648.7 412.9,649.1 412.7,649.6 412.4,650.1 412.3,650.5Z" stroke="#fde725"/><path d="M429.5,716.8 429.0,716.5 428.7,716.1 428.6,715.5 428.7,714.8 429.0,713.8 429.3,713.0 429.7,712.2 430.1,711.5 430.6,710.9 431.1,710.5 431.6,710.1 432.1,709.8 432.6,709.7 433.1,709.6 433.6,709.7 434.1,709.9 434.5,710.3 434.7,710.7 434.7,711.3 434.5,712.0 434.1,712.8 433.6,713.5 433.2,714.1 432.9,714.6 432.6,715.1 432.3,715.5 431.9,715.9 431.4,716.2 431.0,716.6 430.5,716.8 430.0,716.8Z" stroke="#fde725"/><path d="M370.0,545.8 368.9,545.7 367.9,545.4 366.9,544.7 365.8,543.8 364.8,542.6 364.0,541.4 363.4,540.2 363.0,539.0 362.9,537.8 362.8,536.6 362.8,535.5 362.8,534.4 362.9,533.4 363.3,532.7 363.8,532.5 364.5,532.6 365.5,533.1 366.5,533.6 367.7,534.1 368.9,534.5 370.1,534.9 371.1,535.6 371.9,536.6 372.3,537.9 372.5,539.5 372.6,540.9 372.6,542.2 372.4,543.4 372.0,544.4 371.5,545.1 370.8,545.6Z" stroke="#fde725"/><path d="M403.7,326.7 403.0,327.2 402.2,327.4 401.4,327.4 400.4,327.1 399.3,326.5 398.3,325.8 397.5,324.9 396.7,324.0 396.1,323.0 395.7,322.1 395.7,321.3 396.0,320.6 396.5,320.0 397.1,319.6 397.8,319.3 398.4,319.2 399.1,319.3 399.8,319.3 400.6,319.3 401.4,319.3 402.3,319.2 403.0,319.5 403.4,319.9 403.7,320.6 403.8,321.4 403.9,322.3 404.0,323.1 404.2,324.0 404.4,324.8 404.4,325.5 404.2,326.2Z" stroke="#fde725"/><path d="M363.6,552.8 363.3,552.4 363.1,551.9 363.2,551.4 363.3,550.9 363.7,550.4 364.0,550.0 364.5,549.8 365.0,549.7 365.5,549.7 366.0,549.7 366.6,549.8 367.1,549.9 367.6,550.1 368.0,550.4 368.2,550.7 368.4,551.2 368.4,551.7 368.4,552.2 368.3,552.7 368.2,553.2 368.0,553.7 367.8,554.1 367.4,554.3 367.0,554.4 366.5,554.3 366.0,554.2 365.5,554.1 365.1,554.0 364.7,553.8 364.3,553.6 364.0,553.2Z" stroke="#fde725"/><path d="M400.1,316.6 399.7,317.3 399.2,317.9 398.5,318.5 397.7,319.1 396.7,319.6 395.8,319.8 394.9,319.7 394.2,319.2 393.5,318.5 392.7,317.7 391.8,317.0 390.9,316.3 390.0,315.7 389.4,315.0 389.2,314.3 389.4,313.4 389.9,312.6 390.7,311.8 391.6,311.1 392.8,310.6 394.1,310.1 395.3,309.9 396.5,310.1 397.7,310.5 398.8,311.1 399.7,311.9 400.3,312.6 400.6,313.5 400.6,314.3 400.5,315.1 400.3,315.9Z" stroke="#fde725"/><path d="M473.5,311.0 472.9,310.5 472.4,310.0 471.9,309.4 471.5,308.7 471.1,307.8 470.8,307.0 470.5,306.1 470.3,305.1 470.2,304.1 470.2,303.3 470.4,302.6 470.7,302.0 471.1,301.6 471.5,301.4 472.0,301.3 472.5,301.5 473.0,302.0 473.6,302.4 474.2,302.9 474.8,303.5 475.4,304.2 475.9,305.0 476.2,305.9 476.4,307.0 476.5,308.2 476.4,309.2 476.2,310.1 475.8,310.6 475.2,311.0 474.7,311.2 474.1,311.2Z" stroke="#fde725"/><path d="M722.5,670.7 721.8,669.8 721.2,669.0 720.8,668.0 720.5,667.0 720.4,665.9 720.3,664.8 720.3,663.6 720.4,662.4 720.6,661.2 721.0,660.3 721.5,659.8 722.2,659.6 723.1,659.8 723.9,660.1 724.5,660.4 725.0,660.9 725.4,661.4 725.9,662.0 726.4,662.6 726.9,663.2 727.4,663.8 727.7,664.5 727.8,665.3 727.6,666.1 727.1,667.0 726.6,667.8 726.0,668.7 725.4,669.6 724.7,670.5 724.0,671.0 723.2,671.0Z" stroke="#fde725"/><path d="M769.4,607.5 768.9,607.5 768.6,607.3 768.5,606.9 768.6,606.2 768.8,605.3 769.1,604.5 769.3,603.6 769.6,602.7 769.8,601.8 770.0,601.1 770.4,600.7 770.8,600.4 771.3,600.3 771.7,600.4 772.1,600.6 772.3,601.0 772.5,601.6 772.6,602.2 772.7,602.8 772.7,603.4 772.7,604.0 772.6,604.7 772.5,605.4 772.3,606.3 772.1,607.1 771.8,607.7 771.5,608.1 771.1,608.1 770.7,607.9 770.3,607.7 769.8,607.6Z" stroke="#fde725"/><path d="M703.7,708.8 703.3,708.1 703.2,707.5 703.1,706.8 703.2,706.2 703.4,705.6 703.8,705.2 704.2,705.0 704.7,704.9 705.4,705.0 706.0,705.2 706.6,705.3 707.2,705.4 707.9,705.5 708.3,705.8 708.5,706.1 708.5,706.6 708.4,707.2 708.3,707.8 708.2,708.3 708.3,708.9 708.4,709.4 708.3,709.8 708.1,710.1 707.8,710.3 707.3,710.3 706.7,710.3 706.2,710.3 705.6,710.2 705.0,710.0 704.5,709.7 704.0,709.3Z" stroke="#fde725"/><path d="M761.4,624.9 761.1,624.5 760.9,624.0 760.8,623.6 760.9,623.1 761.1,622.6 761.4,622.2 761.7,621.8 762.0,621.5 762.4,621.2 762.8,621.0 763.2,620.9 763.7,620.8 764.2,620.9 764.6,621.0 765.0,621.3 765.2,621.6 765.4,622.1 765.5,622.5 765.5,623.0 765.5,623.4 765.4,623.8 765.2,624.1 765.0,624.5 764.7,624.7 764.4,625.0 764.1,625.2 763.6,625.3 763.2,625.4 762.7,625.5 762.3,625.4 761.8,625.2Z" stroke="#fde725"/><path d="M729.7,682.7 729.4,683.1 728.9,683.4 728.3,683.7 727.5,683.9 726.6,684.1 725.8,684.1 725.2,683.7 724.7,683.1 724.2,682.2 724.0,681.4 724.0,680.8 724.2,680.2 724.5,679.8 724.9,679.2 725.1,678.6 725.3,677.9 725.4,677.2 725.8,676.6 726.3,676.4 727.2,676.3 728.2,676.5 729.1,676.9 729.8,677.5 730.3,678.2 730.7,679.0 730.9,679.8 730.9,680.4 730.8,681.0 730.6,681.5 730.3,681.9 730.0,682.3Z" stroke="#fde725"/><path d="M673.9,748.5 674.7,747.3 675.5,746.1 676.1,744.9 676.5,743.7 676.8,742.4 677.5,741.2 678.6,740.2 680.1,739.3 682.0,738.6 683.4,738.3 684.4,738.5 685.0,739.1 685.1,740.3 685.2,741.3 685.4,742.2 685.5,743.0 685.6,743.6 685.5,744.3 685.1,745.1 684.5,746.0 683.7,746.9 682.7,747.8 681.5,748.7 680.3,749.5 678.9,750.3 677.5,750.8 676.3,751.1 675.2,751.0 674.1,750.7 673.6,750.2 673.5,749.4Z" stroke="#fde725"/><path d="M769.8,631.0 769.4,631.7 768.9,632.2 768.0,632.4 767.0,632.4 765.8,632.2 764.8,631.8 764.1,631.1 763.6,630.2 763.5,629.1 763.4,628.1 763.3,627.3 763.3,626.5 763.4,625.9 763.5,625.1 763.7,624.2 763.9,623.2 764.1,622.1 764.6,621.5 765.3,621.5 766.2,622.0 767.3,623.2 768.4,624.2 769.4,625.1 770.4,625.9 771.3,626.6 771.8,627.3 772.0,627.9 771.8,628.5 771.2,629.1 770.7,629.7 770.2,630.3Z" stroke="#fde725"/><path d="M766.5,626.3 766.2,626.8 765.9,627.1 765.6,627.2 765.1,627.2 764.7,627.0 764.2,626.8 763.7,626.5 763.3,626.3 762.8,626.1 762.5,625.8 762.3,625.4 762.1,624.9 762.0,624.4 762.1,623.9 762.3,623.4 762.6,623.0 763.0,622.7 763.5,622.5 763.9,622.4 764.4,622.4 764.8,622.6 765.3,622.8 765.9,622.9 766.5,623.1 767.2,623.2 767.6,623.4 767.8,623.8 767.7,624.2 767.3,624.8 767.0,625.3 766.7,625.8Z" stroke="#fde725"/><path d="M733.8,645.6 734.0,645.0 734.3,644.4 734.8,643.8 735.4,643.2 736.2,642.6 737.1,642.2 737.9,642.1 738.8,642.2 739.7,642.6 740.4,642.9 741.2,643.3 741.8,643.6 742.4,643.9 742.8,644.3 743.2,644.9 743.6,645.5 743.8,646.2 743.6,646.8 743.1,647.4 742.2,647.8 740.9,648.2 739.6,648.6 738.3,648.9 736.9,649.2 735.4,649.5 734.4,649.4 733.7,649.1 733.4,648.6 733.5,647.7 733.6,646.9 733.7,646.2Z" stroke="#fde725"/><path d="M776.8,616.5 776.5,616.1 776.3,615.7 776.3,615.2 776.3,614.7 776.5,614.1 776.8,613.6 777.1,613.3 777.6,613.0 778.1,612.8 778.6,612.7 779.2,612.7 779.6,612.9 780.1,613.1 780.4,613.4 780.6,613.8 780.6,614.2 780.5,614.7 780.5,615.1 780.4,615.6 780.4,616.0 780.4,616.3 780.3,616.6 780.1,616.8 779.8,616.9 779.4,617.0 779.0,617.0 778.6,617.0 778.2,617.0 777.8,617.1 777.4,617.0 777.1,616.8Z" stroke="#fde725"/><path d="M800.7,599.1 800.4,599.5 800.1,599.7 799.8,599.7 799.5,599.4 799.2,599.0 799.0,598.6 798.8,598.3 798.6,598.0 798.4,597.7 798.3,597.4 798.2,597.1 798.2,596.7 798.4,596.3 798.5,596.0 798.8,595.8 799.1,595.6 799.5,595.5 799.9,595.5 800.2,595.5 800.5,595.6 800.8,595.8 801.1,596.0 801.5,596.2 801.8,596.5 802.1,596.8 802.2,597.1 802.2,597.4 802.0,597.7 801.7,598.1 801.4,598.4 801.0,598.8Z" stroke="#fde725"/><path d="M659.0,728.9 658.3,728.4 657.9,727.9 657.8,727.2 658.0,726.4 658.5,725.6 659.0,725.0 659.7,724.7 660.4,724.8 661.2,725.1 662.0,725.3 662.6,725.6 663.2,725.8 663.6,725.9 664.0,726.2 664.3,726.5 664.6,726.9 664.8,727.4 665.0,727.9 665.0,728.6 665.0,729.3 664.8,730.1 664.5,730.8 664.0,731.4 663.3,731.8 662.4,732.1 661.7,732.1 661.1,731.9 660.7,731.4 660.4,730.7 660.0,730.0 659.5,729.4Z" stroke="#fde725"/><path d="M772.9,608.5 772.5,608.8 772.0,608.8 771.5,608.6 771.0,608.2 770.4,607.6 769.9,606.9 769.4,606.2 769.0,605.5 768.7,604.9 768.5,604.2 768.5,603.7 768.6,603.2 768.9,602.8 769.2,602.5 769.6,602.2 770.0,602.1 770.5,602.0 771.0,602.0 771.5,602.2 772.1,602.5 772.7,603.0 773.2,603.5 773.6,604.0 773.8,604.7 774.0,605.4 774.1,606.0 774.1,606.5 774.0,607.0 773.8,607.5 773.6,607.8 773.3,608.2Z" stroke="#fde725"/><path d="M683.4,708.4 682.8,707.8 682.5,707.2 682.6,706.7 683.1,706.2 683.9,705.7 684.7,705.3 685.4,704.8 686.1,704.3 686.8,703.8 687.5,703.5 688.3,703.4 689.2,703.5 690.1,703.7 690.8,704.1 691.3,704.8 691.6,705.6 691.7,706.6 691.6,707.5 691.3,708.3 690.9,709.1 690.3,709.8 689.6,710.4 688.9,710.7 688.2,710.9 687.4,710.9 686.7,710.8 686.1,710.6 685.5,710.3 685.1,709.9 684.6,709.4 684.0,708.9Z" stroke="#fde725"/><path d="M564.6,757.4 563.0,756.7 562.0,755.6 561.7,754.1 562.0,752.3 563.1,750.0 564.3,748.1 565.9,746.4 567.6,745.1 569.7,744.2 571.7,743.1 573.8,742.0 575.9,740.9 578.1,739.7 580.1,739.0 582.1,738.9 583.9,739.3 585.7,740.2 586.8,741.6 587.3,743.3 587.2,745.5 586.4,748.0 585.4,750.4 584.2,752.6 582.8,754.8 581.2,756.7 579.6,758.2 577.9,759.1 576.2,759.4 574.4,759.2 572.8,759.0 571.3,758.9 570.0,758.7 568.8,758.6 567.5,758.4 566.1,758.0Z" stroke="#fde725"/><path d="M510.6,717.9 509.8,717.6 508.9,717.4 508.1,717.2 507.3,717.1 506.6,717.1 505.9,716.9 505.2,716.6 504.5,716.0 503.8,715.2 503.1,714.3 502.6,713.4 502.1,712.5 501.6,711.5 501.3,710.5 501.2,709.6 501.3,708.6 501.5,707.7 502.0,707.1 502.7,706.9 503.8,707.1 505.0,707.6 506.3,708.2 507.5,708.8 508.6,709.5 509.7,710.2 510.8,711.1 511.7,712.0 512.6,713.1 513.5,714.3 513.9,715.4 514.0,716.2 513.7,716.9 513.0,717.5 512.3,717.8 511.5,717.9Z" stroke="#fde725"/><path d="M674.7,707.4 673.8,708.0 672.9,708.5 671.8,709.0 670.6,709.4 669.2,709.7 667.9,709.8 666.4,709.7 664.8,709.4 663.2,708.8 661.8,708.2 660.5,707.4 659.3,706.5 658.4,705.5 657.7,704.4 657.4,703.4 657.4,702.4 657.8,701.4 658.5,700.7 659.4,700.2 660.7,699.9 662.2,699.9 663.6,699.9 665.0,700.0 666.2,700.1 667.4,700.4 668.4,700.7 669.2,701.1 670.0,701.6 670.5,702.3 671.3,703.0 672.1,703.7 673.1,704.4 674.3,705.3 674.9,706.0 675.1,706.7Z" stroke="#fde725"/><path d="M462.5,711.3 461.4,712.0 460.2,712.3 459.1,712.3 458.0,712.0 456.9,711.4 455.8,710.8 454.7,710.3 453.6,709.8 452.5,709.3 451.3,708.6 450.2,707.6 449.0,706.3 447.8,704.8 447.2,703.2 447.2,701.7 447.9,700.3 449.2,698.8 450.6,697.5 452.2,696.1 453.9,694.9 455.8,693.7 457.6,693.2 459.3,693.4 460.9,694.3 462.5,695.9 463.8,697.5 464.8,699.1 465.4,700.8 465.8,702.5 465.9,704.1 465.8,705.6 465.5,707.0 465.0,708.4 464.4,709.5 463.5,710.5Z" stroke="#fde725"/><path d="M497.0,758.8 495.3,756.2 493.6,753.6 492.1,750.8 490.6,748.0 489.2,745.0 488.6,742.1 488.9,739.2 490.1,736.4 492.1,733.5 494.2,730.9 496.3,728.6 498.4,726.5 500.6,724.7 503.0,723.2 505.5,722.0 508.3,721.3 511.3,720.8 513.5,721.5 515.0,723.2 515.8,726.0 515.7,729.9 515.7,733.4 515.8,736.7 515.8,739.6 515.8,742.2 515.4,744.5 514.6,746.6 513.2,748.4 511.5,749.9 509.6,751.7 507.5,753.8 505.3,756.1 503.0,758.8 500.9,760.1 498.9,760.1Z" stroke="#fde725"/><path d="M661.6,678.7 662.5,677.6 663.3,676.7 664.1,675.9 664.8,675.2 665.5,674.6 666.3,674.0 667.2,673.5 668.2,673.0 669.3,672.4 670.3,672.4 671.1,672.7 671.8,673.5 672.3,674.7 672.8,675.9 673.3,677.1 673.8,678.2 674.2,679.4 674.3,680.3 674.0,681.1 673.3,681.7 672.2,682.2 671.2,682.6 670.4,682.9 669.6,683.3 669.0,683.6 668.2,683.8 667.4,684.0 666.5,684.1 665.6,684.1 664.6,683.9 663.6,683.4 662.6,682.7 661.7,681.7 661.2,680.7 661.1,679.7Z" stroke="#fde725"/><path d="M566.9,719.4 565.0,720.1 562.8,720.6 560.4,721.1 557.7,721.4 554.9,721.6 551.7,721.2 548.3,720.1 544.6,718.3 540.7,715.9 538.3,713.4 537.5,711.0 538.3,708.4 540.7,705.9 542.6,703.4 543.9,700.9 544.7,698.4 544.9,696.1 545.8,694.1 547.4,692.6 549.6,691.5 552.4,690.9 555.6,690.8 559.1,691.2 563.0,692.1 567.3,693.5 571.2,695.6 574.9,698.4 578.3,702.0 581.3,706.2 582.7,709.8 582.2,712.6 579.9,714.7 575.9,716.2 572.4,717.4 569.4,718.5Z" stroke="#fde725"/><path d="M608.0,727.8 606.1,725.8 604.4,723.8 603.0,721.9 602.0,720.0 601.2,718.2 600.3,716.1 599.2,713.8 598.0,711.3 596.6,708.6 596.1,706.1 596.7,704.0 598.3,702.3 600.8,700.8 603.3,700.0 605.6,699.8 607.9,700.3 610.1,701.5 612.6,702.4 615.2,703.0 618.0,703.3 621.0,703.3 623.5,704.1 625.4,705.7 626.7,708.0 627.4,711.1 627.7,714.3 627.6,717.6 627.0,720.9 626.0,724.3 624.4,726.9 622.2,728.8 619.4,729.9 616.0,730.3 613.0,730.1 610.3,729.3Z" stroke="#fde725"/><path d="M557.5,744.7 556.8,742.3 556.7,740.1 557.2,738.1 558.3,736.1 560.0,734.3 561.7,733.1 563.6,732.8 565.7,733.1 567.8,734.2 570.2,735.0 573.0,735.7 576.1,736.1 579.5,736.4 582.1,737.5 583.9,739.4 584.9,742.3 585.0,746.1 584.4,749.1 583.0,751.6 580.8,753.3 577.9,754.4 575.3,755.3 573.0,755.9 571.0,756.3 569.4,756.5 567.6,756.8 565.7,757.1 563.6,757.5 561.3,758.0 559.6,757.7 558.6,756.6 558.1,754.7 558.3,752.1 558.2,749.6 558.0,747.1Z" stroke="#fde725"/><path d="M423.2,763.8 422.9,761.7 422.9,759.5 423.3,757.0 424.1,754.4 425.3,751.5 427.1,748.3 429.3,744.7 432.1,740.8 435.5,736.5 438.6,733.8 441.4,732.9 444.0,733.7 446.4,736.1 449.0,738.1 451.7,739.6 454.6,740.6 457.7,741.1 460.1,742.4 461.7,744.6 462.5,747.5 462.7,751.2 461.7,755.0 459.6,758.8 456.5,762.6 452.3,766.4 448.3,768.9 444.7,769.9 441.3,769.6 438.3,767.9 435.3,766.7 432.6,766.0 429.9,765.9 427.5,766.3 425.5,766.1 424.1,765.3Z" stroke="#fde725"/><path d="M501.9,702.1 500.7,703.4 499.3,704.2 497.9,704.6 496.3,704.6 494.5,704.1 493.1,703.4 491.9,702.4 491.1,701.1 490.5,699.5 490.2,698.0 490.2,696.5 490.5,695.1 491.2,693.7 491.9,692.5 492.7,691.5 493.7,690.6 494.7,689.9 495.7,689.4 496.7,689.2 497.7,689.3 498.7,689.6 499.9,689.7 501.3,689.8 502.8,689.7 504.5,689.5 505.8,689.8 506.8,690.5 507.5,691.7 507.8,693.3 507.7,694.8 507.3,696.1 506.5,697.4 505.4,698.6 504.3,699.7 503.1,700.9Z" stroke="#fde725"/><path d="M452.9,734.9 451.7,732.6 451.1,730.2 451.0,727.6 451.4,724.8 452.4,721.9 453.5,718.8 454.8,715.7 456.1,712.5 457.5,709.3 459.4,706.5 461.6,704.1 464.3,702.3 467.4,700.8 469.9,700.5 471.7,701.4 472.9,703.5 473.6,706.7 474.4,709.6 475.5,712.0 476.8,714.1 478.3,715.8 479.2,717.9 479.5,720.5 479.1,723.6 478.1,727.1 476.7,730.1 474.7,732.8 472.3,735.0 469.3,736.7 466.5,738.0 463.8,738.7 461.1,738.9 458.6,738.6 456.4,737.9 454.5,736.6Z" stroke="#fde725"/><path d="M462.7,717.5 461.5,716.3 461.1,715.2 461.4,714.1 462.4,713.0 464.1,712.0 465.8,711.2 467.3,710.5 468.8,710.1 470.2,709.7 471.8,709.4 473.5,709.1 475.4,708.7 477.4,708.3 478.9,708.4 479.9,709.0 480.3,710.2 480.3,711.9 480.1,713.4 479.8,714.9 479.3,716.2 478.6,717.5 477.8,718.6 476.8,719.7 475.8,720.6 474.5,721.4 473.0,722.3 471.3,723.4 469.4,724.6 467.2,726.0 465.6,726.5 464.6,726.1 464.1,724.8 464.3,722.5 464.1,720.6 463.6,718.9Z" stroke="#fde725"/><path d="M503.5,745.6 502.1,747.2 500.5,748.2 498.6,748.7 496.6,748.6 494.3,747.9 492.1,747.3 489.9,746.8 487.7,746.4 485.5,746.1 483.8,745.4 482.6,744.3 482.0,742.8 481.8,740.9 481.5,739.0 481.2,737.0 480.9,735.0 480.6,732.9 480.9,731.4 482.0,730.5 483.7,730.2 486.2,730.4 488.3,730.8 490.2,731.1 491.9,731.6 493.2,732.1 494.5,732.8 495.6,733.5 496.5,734.3 497.4,735.2 498.4,736.3 499.7,737.5 501.3,739.0 503.0,740.7 504.0,742.3 504.2,744.0Z" stroke="#fde725"/><path d="M474.1,759.2 473.8,757.2 474.2,755.2 475.5,753.4 477.5,751.7 480.2,750.1 482.9,748.7 485.3,747.6 487.7,746.7 489.9,746.1 492.0,745.6 494.0,745.4 495.9,745.4 497.8,745.6 499.6,746.0 501.3,746.6 503.0,747.4 504.6,748.5 505.6,749.8 505.9,751.4 505.6,753.3 504.6,755.5 503.2,757.6 501.4,759.4 499.2,761.2 496.6,762.7 494.2,763.7 492.0,763.9 490.0,763.5 488.3,762.5 486.3,761.8 484.1,761.5 481.5,761.5 478.8,761.8 476.6,761.6 475.1,760.7Z" stroke="#fde725"/><path d="M463.3,703.9 463.3,702.4 463.9,701.3 465.1,700.3 467.0,699.7 469.4,699.2 471.5,698.7 473.4,698.1 474.9,697.4 476.1,696.6 477.5,695.9 479.3,695.3 481.4,694.7 483.8,694.3 485.6,694.3 486.7,694.8 487.3,695.8 487.3,697.3 487.0,698.7 486.5,700.2 485.7,701.6 484.7,702.9 483.5,704.2 482.1,705.5 480.4,706.7 478.6,707.8 477.0,708.3 475.5,708.4 474.3,707.9 473.3,706.8 472.0,706.1 470.4,705.6 468.5,705.5 466.4,705.7 464.9,705.5 463.8,704.9Z" stroke="#fde725"/><path d="M534.0,717.4 532.7,717.5 531.8,717.3 531.3,716.7 531.0,715.7 531.0,714.4 530.9,713.2 530.7,712.0 530.3,710.9 529.8,709.9 529.6,708.8 529.7,707.8 530.1,706.7 530.8,705.6 531.7,704.9 532.7,704.5 533.8,704.5 535.0,704.8 536.2,705.2 537.2,705.6 538.1,706.2 539.0,706.8 539.7,707.6 540.3,708.4 540.7,709.3 541.0,710.4 541.2,711.4 541.3,712.5 541.2,713.7 541.0,714.9 540.5,715.9 539.8,716.5 538.8,716.9 537.6,717.0 536.4,717.2 535.2,717.3Z" stroke="#fde725"/><path d="M441.9,704.1 440.8,701.4 439.1,698.8 436.9,696.4 434.0,694.0 430.5,691.9 428.4,689.2 427.5,686.1 428.0,682.6 429.8,678.6 432.1,675.4 434.8,673.1 438.0,671.6 441.7,670.9 445.2,670.7 448.4,671.0 451.4,671.7 454.2,673.0 456.4,674.6 458.3,676.5 459.6,678.9 460.5,681.6 461.2,684.4 461.8,687.2 462.2,690.1 462.5,693.0 462.2,695.7 461.4,698.4 460.0,700.9 458.0,703.4 455.8,705.3 453.4,706.6 450.7,707.5 447.8,707.8 445.4,707.3 443.4,706.1Z" stroke="#fde725"/><path d="M650.2,759.7 649.9,760.4 649.3,760.9 648.5,761.3 647.6,761.5 646.3,761.7 645.2,761.5 644.3,761.1 643.4,760.5 642.6,759.5 641.8,758.7 640.8,757.9 639.7,757.1 638.4,756.4 637.7,755.8 637.4,755.2 637.7,754.6 638.4,754.1 639.2,753.6 640.0,753.3 640.9,753.1 641.8,753.1 642.7,753.0 643.7,753.0 644.7,753.1 645.7,753.2 646.8,753.4 647.9,753.8 649.0,754.3 650.3,754.9 651.1,755.5 651.5,756.2 651.6,756.9 651.2,757.6 650.9,758.3 650.5,759.0Z" stroke="#fde725"/><path d="M592.4,718.8 592.2,717.1 592.5,715.5 593.2,713.9 594.3,712.5 595.9,711.1 597.4,710.4 598.9,710.5 600.4,711.4 601.9,713.0 603.5,714.3 605.3,715.2 607.1,715.8 609.1,716.1 610.5,716.8 611.3,717.8 611.4,719.2 610.9,720.9 610.4,722.7 609.9,724.6 609.4,726.5 609.0,728.5 608.1,730.0 606.8,731.0 605.0,731.6 602.9,731.7 600.8,731.6 598.7,731.3 596.6,730.9 594.6,730.3 593.2,729.3 592.3,728.0 592.0,726.4 592.3,724.4 592.4,722.5 592.5,720.6Z" stroke="#fde725"/><path d="M605.4,724.3 607.5,723.0 609.3,721.5 610.8,719.9 612.1,718.3 613.0,716.5 614.4,715.3 616.1,714.7 618.2,714.6 620.7,715.1 623.5,715.4 626.6,715.7 629.9,715.8 633.6,715.8 635.7,716.3 636.2,717.4 635.3,719.0 632.8,721.2 631.1,723.4 630.2,725.6 630.1,727.9 630.7,730.2 630.4,731.9 629.0,733.1 626.5,733.8 623.1,733.9 619.9,733.8 617.0,733.5 614.3,733.1 612.0,732.5 609.9,731.7 607.9,730.8 606.2,729.7 604.6,728.3 604.0,727.0 604.3,725.7Z" stroke="#fde725"/><path d="M498.7,765.3 497.5,765.7 496.6,765.5 496.0,764.9 495.7,763.7 495.7,762.1 495.6,760.5 495.4,758.9 495.0,757.4 494.6,755.9 494.5,754.6 494.7,753.3 495.3,752.2 496.2,751.2 497.1,750.6 498.1,750.5 499.0,750.9 500.0,751.8 501.0,752.6 501.9,753.1 502.9,753.5 504.0,753.6 504.7,754.1 505.3,754.9 505.7,756.0 505.8,757.4 505.9,758.8 505.8,760.3 505.7,761.8 505.4,763.3 505.0,764.4 504.3,765.0 503.4,765.3 502.2,765.1 501.0,765.0 499.9,765.1Z" stroke="#fde725"/><path d="M446.1,733.4 447.1,735.1 447.3,736.6 446.5,737.8 444.9,738.8 442.4,739.4 439.8,739.8 437.2,739.9 434.6,739.6 431.9,739.1 429.3,738.3 426.8,737.3 424.3,736.1 422.0,734.7 421.0,733.4 421.2,732.0 422.8,730.8 425.6,729.6 427.9,728.5 429.6,727.5 430.9,726.7 431.6,725.9 432.6,725.2 433.8,724.6 435.2,724.1 436.9,723.6 438.5,723.4 440.2,723.6 441.7,724.1 443.3,725.0 444.4,725.9 445.1,726.9 445.3,727.9 445.0,729.1 445.1,730.3 445.4,731.8Z" stroke="#fde725"/><path d="M594.5,712.0 595.7,710.0 596.9,708.1 598.2,706.2 599.7,704.3 601.3,702.5 603.0,701.4 604.9,701.0 607.0,701.4 609.2,702.5 611.7,703.2 614.5,703.7 617.5,703.8 620.8,703.6 622.7,704.0 623.4,705.1 622.7,706.8 620.8,709.1 619.4,711.3 618.5,713.5 618.2,715.6 618.4,717.7 617.9,719.3 616.8,720.4 614.9,721.0 612.4,721.2 610.1,721.2 608.0,720.9 606.2,720.3 604.5,719.6 602.7,718.8 600.7,718.0 598.6,717.1 596.3,716.2 594.8,715.1 594.3,713.7Z" stroke="#fde725"/><path d="M583.9,729.4 580.8,729.3 578.4,728.2 577.0,726.0 576.3,722.6 576.6,718.1 576.9,713.9 577.3,710.1 577.7,706.6 578.3,703.5 579.2,700.9 580.6,698.8 582.3,697.3 584.3,696.3 586.6,694.9 589.0,693.0 591.6,690.7 594.4,688.0 597.0,686.8 599.6,687.0 602.0,688.7 604.3,691.9 605.7,695.3 606.2,698.9 605.7,702.8 604.4,706.9 602.9,710.3 601.3,713.1 599.6,715.2 597.8,716.7 596.1,718.5 594.4,720.6 592.7,722.9 591.1,725.5 589.1,727.4 586.7,728.7Z" stroke="#fde725"/><path d="M415.8,699.3 415.8,696.8 416.1,694.5 416.5,692.2 417.2,690.1 418.0,688.1 419.1,686.8 420.5,686.3 422.3,686.5 424.3,687.4 426.3,688.2 428.1,688.8 429.8,689.2 431.4,689.4 432.9,690.1 434.5,691.0 436.0,692.4 437.4,694.1 438.2,695.8 438.2,697.3 437.5,698.8 436.0,700.2 434.8,701.8 433.9,703.7 433.2,705.7 432.7,708.0 431.8,709.7 430.5,710.6 428.7,710.9 426.5,710.5 424.4,709.8 422.3,708.7 420.4,707.3 418.5,705.6 417.1,703.7 416.2,701.6Z" stroke="#fde725"/><path d="M660.1,675.1 660.4,674.0 661.1,673.0 662.1,672.2 663.4,671.5 665.1,671.0 666.7,670.8 668.3,670.8 669.8,671.0 671.2,671.6 672.8,672.0 674.7,672.4 676.9,672.6 679.4,672.8 681.1,673.2 682.1,674.0 682.4,675.1 682.0,676.4 681.2,677.6 679.9,678.4 678.3,679.1 676.4,679.4 674.5,679.9 672.8,680.5 671.3,681.3 669.9,682.2 668.5,682.7 667.1,682.8 665.7,682.4 664.2,681.7 663.0,680.9 662.0,680.1 661.2,679.2 660.6,678.2 660.2,677.2 660.1,676.2Z" stroke="#fde725"/><path d="M536.9,700.3 536.9,695.9 537.6,691.5 539.0,687.0 541.1,682.6 543.9,678.2 546.9,673.9 550.2,669.9 553.6,666.1 557.3,662.5 560.6,660.4 563.4,659.7 565.8,660.6 567.8,662.9 570.5,664.2 574.1,664.4 578.3,663.6 583.4,661.8 586.2,661.6 586.9,663.0 585.3,666.2 581.6,670.9 578.5,675.4 576.0,679.6 574.2,683.5 572.9,687.1 571.1,690.5 568.5,693.5 565.3,696.2 561.5,698.7 557.4,700.8 553.1,702.6 548.7,704.1 544.0,705.2 540.5,705.0 538.1,703.3Z" stroke="#fde725"/><path d="M504.4,749.9 502.0,748.0 500.2,746.0 499.3,743.7 499.0,741.4 499.5,738.8 500.4,736.5 501.5,734.6 503.0,733.0 504.9,731.8 506.8,730.8 508.9,730.1 511.0,729.8 513.2,729.7 515.3,730.0 517.3,730.7 519.1,731.7 520.8,733.1 522.4,734.6 523.9,736.2 525.3,737.9 526.6,739.7 527.3,741.4 527.4,743.1 527.0,744.8 525.9,746.4 524.7,747.5 523.2,748.2 521.5,748.4 519.6,748.2 517.7,748.3 515.6,748.8 513.5,749.7 511.3,750.9 509.1,751.3 506.8,751.0Z" stroke="#fde725"/><path d="M600.6,698.2 599.9,695.7 599.4,693.4 599.2,691.4 599.3,689.5 599.7,687.9 600.0,686.3 600.4,684.9 600.7,683.5 601.1,682.2 601.5,680.7 602.2,678.9 603.1,676.8 604.1,674.4 605.1,673.2 606.2,673.2 607.2,674.2 608.3,676.5 609.2,678.3 610.1,679.9 610.9,681.1 611.7,682.0 612.3,683.1 612.7,684.3 613.0,685.6 613.1,687.1 613.1,688.9 612.9,690.9 612.5,693.1 611.9,695.6 610.9,697.6 609.5,699.2 607.6,700.3 605.3,700.9 603.3,700.8 601.8,699.8Z" stroke="#fde725"/><path d="M627.2,699.9 627.2,697.5 627.0,695.1 626.5,692.8 625.7,690.6 624.7,688.4 624.4,686.0 624.8,683.4 625.8,680.6 627.6,677.7 629.6,675.5 631.9,674.0 634.5,673.3 637.3,673.4 640.0,673.8 642.4,674.5 644.6,675.5 646.5,676.8 647.7,678.5 647.9,680.6 647.3,683.0 645.9,685.7 644.9,688.4 644.5,691.1 644.5,693.8 645.0,696.4 644.8,698.4 643.9,699.6 642.2,700.1 639.7,699.9 637.3,700.0 635.0,700.4 632.7,701.1 630.5,702.1 628.8,702.2 627.7,701.5Z" stroke="#7ad151"/><path d="M520.4,726.9 519.0,729.1 517.2,730.5 515.2,730.9 512.9,730.4 510.2,729.1 508.1,727.4 506.4,725.3 505.3,722.9 504.6,720.2 504.0,717.5 503.5,714.7 503.1,712.0 502.7,709.3 503.1,707.2 504.2,705.8 506.1,705.1 508.7,705.0 511.2,704.6 513.6,704.0 516.0,703.0 518.2,701.7 520.2,701.5 521.9,702.2 523.3,704.0 524.4,706.7 525.7,709.4 527.2,712.1 528.8,714.6 530.6,717.1 531.3,719.2 530.9,720.8 529.3,721.9 526.5,722.5 524.1,723.6 522.1,725.0Z" stroke="#7ad151"/><path d="M568.3,692.3 571.2,688.1 573.8,684.3 576.1,680.8 578.1,677.6 579.8,674.7 582.0,672.6 584.5,671.2 587.5,670.5 590.9,670.6 594.1,670.7 597.1,670.8 600.0,671.0 602.6,671.2 605.4,671.8 608.4,672.7 611.4,674.0 614.6,675.6 616.4,677.6 616.7,680.0 615.7,682.9 613.3,686.1 610.6,688.7 607.7,690.6 604.5,691.9 601.1,692.5 597.9,693.0 595.0,693.6 592.3,694.1 589.9,694.6 586.7,695.2 582.7,695.8 577.9,696.5 572.3,697.3 568.9,696.9 567.5,695.2Z" stroke="#7ad151"/><path d="M441.8,712.0 441.3,710.4 441.1,708.6 441.0,706.8 441.1,704.9 441.5,702.8 442.3,701.3 443.6,700.3 445.3,699.9 447.4,700.1 449.6,699.9 451.7,699.3 453.7,698.4 455.7,697.1 457.5,696.5 459.2,696.6 460.7,697.3 462.1,698.8 462.8,700.4 462.9,702.1 462.3,703.9 461.1,705.8 460.1,707.7 459.1,709.6 458.3,711.5 457.6,713.4 456.6,714.8 455.4,715.6 453.8,716.0 451.9,715.8 450.1,715.7 448.3,715.4 446.6,715.2 445.0,714.9 443.7,714.2 442.6,713.3Z" stroke="#7ad151"/><path d="M458.3,765.9 456.5,766.0 455.3,765.7 454.7,764.9 454.7,763.7 455.3,762.0 456.0,760.6 456.7,759.3 457.4,758.2 458.2,757.3 459.0,756.2 459.9,755.0 460.9,753.6 462.0,752.1 463.2,751.1 464.5,750.7 466.0,750.9 467.5,751.6 469.0,752.6 470.2,753.7 471.2,755.1 472.1,756.7 472.6,758.3 472.6,759.9 472.3,761.5 471.5,763.2 470.6,764.6 469.5,765.8 468.3,766.7 467.1,767.5 465.8,767.8 464.7,767.9 463.6,767.5 462.5,766.8 461.3,766.3 459.9,766.0Z" stroke="#7ad151"/><path d="M574.3,684.8 573.9,686.7 573.1,688.3 571.9,689.6 570.2,690.5 568.0,691.1 565.9,691.4 563.9,691.5 562.0,691.3 560.1,690.8 557.9,690.2 555.3,689.7 552.4,689.1 549.2,688.5 547.1,687.4 545.9,685.8 545.7,683.7 546.6,681.1 547.6,678.6 548.6,676.0 549.8,673.5 551.0,670.9 552.7,669.0 554.9,667.8 557.7,667.2 560.9,667.2 563.7,667.7 566.2,668.7 568.2,670.1 569.9,672.0 571.3,673.9 572.4,675.7 573.3,677.5 573.9,679.3 574.3,681.1 574.4,682.9Z" stroke="#7ad151"/><path d="M497.1,697.1 496.9,701.4 495.7,703.5 493.4,703.3 490.1,700.9 485.9,696.3 481.7,692.5 477.6,689.7 473.7,687.8 469.9,686.8 467.4,685.4 466.1,683.7 466.0,681.6 467.3,679.1 467.7,676.2 467.4,672.8 466.4,669.0 464.5,664.6 464.2,661.2 465.5,658.5 468.3,656.8 472.6,655.9 476.5,656.5 480.0,658.4 483.2,661.8 486.0,666.6 489.2,670.8 492.8,674.3 496.8,677.2 501.2,679.5 503.9,681.7 504.8,683.8 503.9,685.8 501.3,687.7 499.3,690.3 497.9,693.4Z" stroke="#7ad151"/><path d="M514.0,762.0 513.1,761.3 512.5,760.5 512.2,759.7 512.2,758.8 512.4,757.9 512.5,756.9 512.5,756.0 512.4,755.2 512.1,754.3 512.2,753.7 512.5,753.3 513.1,753.2 514.1,753.4 515.0,753.3 515.9,753.0 516.8,752.4 517.7,751.5 518.5,751.1 519.2,751.2 519.9,751.7 520.4,752.7 520.7,753.6 520.9,754.5 520.9,755.4 520.7,756.3 520.4,757.1 520.1,757.9 519.8,758.7 519.3,759.3 518.8,760.0 518.2,760.7 517.4,761.4 516.5,762.0 515.7,762.4 514.8,762.3Z" stroke="#7ad151"/><path d="M571.0,761.4 569.2,762.2 567.5,762.8 566.1,763.5 564.8,764.1 563.7,764.7 562.6,765.1 561.4,765.2 560.1,765.0 558.8,764.6 557.6,764.1 556.4,763.5 555.3,762.8 554.3,762.1 553.6,761.3 553.3,760.5 553.4,759.6 553.8,758.7 554.2,757.7 554.5,756.5 554.8,755.1 554.9,753.6 555.6,752.5 556.8,751.7 558.4,751.2 560.6,751.1 562.7,751.2 564.8,751.6 566.9,752.1 568.9,752.9 570.5,753.9 571.8,755.1 572.6,756.4 573.1,758.0 572.9,759.4 572.2,760.5Z" stroke="#7ad151"/><path d="M567.4,744.3 566.5,741.2 565.6,738.2 564.6,735.2 563.6,732.2 562.5,729.1 562.1,725.8 562.4,722.2 563.4,718.2 565.0,714.0 566.9,710.9 568.9,709.0 571.3,708.3 573.8,708.8 576.3,708.9 578.6,708.7 580.9,708.2 583.1,707.4 585.5,707.1 588.1,707.5 591.0,708.4 594.2,709.9 596.2,712.6 597.2,716.5 597.2,721.5 596.0,727.6 594.3,733.1 591.9,737.7 588.9,741.7 585.3,744.9 581.9,747.3 578.8,748.8 575.8,749.4 573.0,749.2 570.7,748.3 568.8,746.7Z" stroke="#7ad151"/><path d="M522.1,757.3 521.9,755.8 521.6,754.3 521.1,753.0 520.5,751.8 519.9,750.6 519.6,749.6 519.8,748.7 520.4,748.0 521.5,747.4 522.6,746.8 523.7,746.0 524.9,745.2 526.1,744.4 527.4,744.1 528.6,744.3 529.8,745.0 531.0,746.2 532.3,747.5 533.7,748.8 535.1,750.1 536.7,751.4 537.5,752.7 537.5,753.9 536.9,755.0 535.5,756.1 534.2,757.0 533.0,757.8 531.8,758.5 530.6,759.0 529.3,759.4 527.9,759.6 526.5,759.7 524.9,759.6 523.6,759.2 522.7,758.4Z" stroke="#7ad151"/><path d="M637.8,755.6 636.4,757.1 635.1,757.8 633.7,757.7 632.3,757.0 631.0,755.4 630.1,753.8 629.7,752.1 629.8,750.4 630.3,748.6 630.9,746.9 631.4,745.3 631.9,743.9 632.4,742.6 633.1,741.3 634.0,740.2 635.1,739.1 636.4,738.2 637.6,737.9 638.6,738.4 639.5,739.5 640.3,741.4 641.0,743.0 641.7,744.3 642.4,745.4 643.1,746.2 643.5,747.1 643.7,748.0 643.6,749.0 643.3,750.0 642.9,750.8 642.4,751.6 641.7,752.2 641.0,752.7 640.1,753.4 639.0,754.4Z" stroke="#7ad151"/><path d="M444.0,690.0 443.7,688.5 443.1,686.9 442.3,685.4 441.2,683.9 439.9,682.4 439.3,680.8 439.2,679.2 439.8,677.5 441.1,675.8 442.5,674.4 444.1,673.3 446.0,672.4 448.0,671.8 450.0,671.6 452.0,671.8 453.9,672.5 455.7,673.5 457.2,674.8 458.3,676.4 459.2,678.1 459.6,680.1 460.0,682.2 460.3,684.4 460.4,686.7 460.5,689.1 460.0,691.2 459.0,693.0 457.4,694.6 455.2,696.0 453.1,696.6 451.1,696.6 449.2,695.8 447.4,694.4 445.9,693.0 444.8,691.5Z" stroke="#7ad151"/><path d="M624.6,763.3 622.8,762.2 621.8,760.8 621.4,759.0 621.7,756.8 622.7,754.3 623.9,751.7 625.3,749.3 626.9,746.9 628.7,744.6 630.7,742.7 632.9,741.3 635.3,740.3 637.9,739.8 640.3,739.7 642.7,739.9 644.9,740.6 647.0,741.7 648.6,743.3 649.8,745.2 650.4,747.7 650.5,750.6 650.1,753.4 649.2,756.1 647.7,758.8 645.7,761.4 643.5,764.2 641.1,767.3 638.6,770.7 635.8,774.4 633.5,776.2 631.6,776.1 630.0,774.2 628.9,770.5 627.6,767.4 626.2,765.0Z" stroke="#7ad151"/><path d="M253.4,663.7 253.1,664.5 252.6,665.0 251.8,665.2 250.7,665.1 249.5,664.6 248.2,664.3 246.9,664.0 245.6,663.7 244.3,663.5 243.2,663.2 242.3,662.6 241.6,661.8 241.2,660.8 240.9,659.9 240.8,659.1 241.0,658.3 241.4,657.5 241.8,656.8 242.4,656.0 243.2,655.4 244.0,654.7 245.0,654.3 246.2,654.1 247.6,654.3 249.1,654.6 250.6,655.2 252.0,655.8 253.3,656.6 254.5,657.6 255.3,658.5 255.6,659.4 255.5,660.3 254.9,661.2 254.3,662.0 253.8,662.9Z" stroke="#fde725"/><path d="M322.2,643.5 322.4,642.5 322.8,641.6 323.4,640.6 324.3,639.6 325.4,638.7 326.7,638.1 327.9,637.8 329.3,637.9 330.7,638.3 332.0,638.7 333.1,639.1 334.0,639.6 334.8,640.1 335.7,640.7 336.6,641.3 337.8,642.0 339.0,642.8 339.6,643.6 339.6,644.5 339.0,645.5 337.8,646.5 336.5,647.3 335.2,648.0 333.7,648.6 332.1,649.0 330.5,649.2 328.8,649.5 327.1,649.6 325.3,649.6 323.9,649.4 323.0,648.8 322.4,648.0 322.2,646.8 322.1,645.7 322.1,644.6Z" stroke="#fde725"/><path d="M292.2,650.9 291.4,650.3 290.8,649.6 290.4,648.7 290.3,647.7 290.4,646.6 290.6,645.4 290.6,644.2 290.7,642.9 290.7,641.5 291.1,640.4 291.7,639.7 292.7,639.3 293.9,639.2 295.1,639.2 296.3,639.2 297.4,639.3 298.5,639.5 299.4,639.9 300.1,640.6 300.6,641.4 301.0,642.5 301.3,643.7 301.6,644.9 301.8,646.2 302.0,647.5 301.9,648.7 301.4,649.8 300.7,650.8 299.6,651.6 298.5,652.2 297.4,652.5 296.3,652.5 295.2,652.2 294.2,651.9 293.2,651.4Z" stroke="#fde725"/><path d="M361.6,659.0 361.0,659.0 360.4,659.0 359.8,658.8 359.3,658.6 358.8,658.3 358.3,657.9 357.8,657.5 357.3,657.0 356.8,656.5 356.6,655.9 356.5,655.3 356.6,654.7 357.0,654.1 357.3,653.4 357.7,652.6 358.1,651.8 358.6,651.0 359.1,650.4 359.7,650.3 360.5,650.4 361.3,650.9 362.2,651.5 363.0,651.9 363.8,652.4 364.7,652.9 365.2,653.5 365.3,654.1 365.1,654.8 364.5,655.7 364.0,656.4 363.6,657.0 363.2,657.6 362.9,658.1 362.5,658.5 362.1,658.8Z" stroke="#fde725"/><path d="M298.4,641.2 297.2,641.3 296.2,641.1 295.4,640.5 294.9,639.6 294.6,638.4 294.5,637.2 294.6,636.0 294.8,634.9 295.2,633.9 295.7,632.9 296.3,632.0 297.1,631.3 298.0,630.6 298.8,630.2 299.8,630.0 300.7,630.1 301.7,630.5 302.8,630.8 304.0,631.2 305.3,631.5 306.6,631.9 307.6,632.5 308.1,633.4 308.2,634.5 307.8,635.9 307.4,637.2 307.0,638.4 306.5,639.7 306.0,640.8 305.2,641.6 304.4,642.0 303.3,642.0 302.1,641.7 300.9,641.4 299.6,641.3Z" stroke="#fde725"/><path d="M268.6,654.8 267.3,654.7 266.0,654.6 264.6,654.7 263.2,654.8 261.7,655.1 260.5,654.9 259.7,654.3 259.2,653.2 259.1,651.8 259.0,650.4 259.1,649.1 259.2,647.9 259.4,646.7 259.8,645.5 260.2,644.3 260.9,643.0 261.6,641.7 262.5,640.8 263.7,640.2 265.0,640.1 266.5,640.3 268.0,640.7 269.3,641.3 270.5,642.1 271.7,643.0 272.5,644.1 273.0,645.3 273.1,646.6 273.0,648.0 272.7,649.4 272.3,650.7 271.9,652.0 271.3,653.2 270.6,654.1 269.7,654.6Z" stroke="#fde725"/><path d="M283.8,649.0 282.1,649.0 280.7,648.5 279.6,647.7 278.8,646.5 278.4,644.9 278.3,643.4 278.5,641.9 279.0,640.5 279.8,639.2 280.8,638.1 281.9,637.1 283.3,636.4 284.7,635.9 286.1,635.8 287.5,636.0 288.7,636.5 289.9,637.3 291.1,638.1 292.4,638.9 293.6,639.7 294.9,640.5 295.9,641.4 296.7,642.6 297.2,644.0 297.4,645.6 297.2,646.9 296.5,647.9 295.4,648.7 293.8,649.2 292.3,649.6 290.8,649.7 289.5,649.7 288.3,649.4 287.0,649.3 285.5,649.1Z" stroke="#fde725"/><path d="M355.2,660.3 355.3,659.4 355.5,658.5 355.8,657.8 356.2,657.1 356.8,656.4 357.3,655.8 357.9,655.2 358.4,654.5 358.9,653.8 359.5,653.4 360.0,653.2 360.6,653.3 361.2,653.6 361.9,653.8 362.6,654.0 363.5,654.1 364.5,654.2 365.0,654.5 365.2,654.9 364.9,655.6 364.2,656.5 363.6,657.3 363.1,658.0 362.6,658.6 362.2,659.1 361.6,659.7 361.0,660.3 360.3,661.0 359.6,661.8 358.8,662.4 358.0,662.6 357.2,662.5 356.3,662.2 355.7,661.7 355.4,661.1Z" stroke="#fde725"/><path d="M363.8,643.7 363.5,644.1 363.2,644.5 362.8,644.8 362.3,645.1 361.7,645.3 361.2,645.4 360.7,645.3 360.3,645.0 359.9,644.5 359.5,644.0 359.0,643.6 358.4,643.1 357.9,642.8 357.5,642.4 357.5,642.0 357.7,641.6 358.1,641.1 358.5,640.7 358.9,640.4 359.3,640.0 359.7,639.7 360.2,639.6 360.6,639.5 361.1,639.5 361.6,639.7 362.2,639.9 362.6,640.2 363.1,640.4 363.6,640.7 363.9,641.1 364.1,641.5 364.2,641.9 364.2,642.4 364.1,642.8 364.0,643.3Z" stroke="#fde725"/><path d="M324.4,624.9 323.7,624.3 323.4,623.7 323.3,623.2 323.5,622.6 324.0,622.2 324.6,621.7 325.1,621.3 325.6,620.9 326.1,620.5 326.6,620.3 327.1,620.3 327.7,620.5 328.4,620.8 329.0,621.3 329.7,621.7 330.4,622.2 331.1,622.7 331.6,623.3 332.0,624.0 332.1,624.8 332.1,625.7 332.0,626.5 331.7,627.3 331.2,627.9 330.7,628.4 330.1,628.8 329.4,629.0 328.6,629.1 327.8,629.0 327.2,628.8 326.6,628.3 326.2,627.7 325.8,626.9 325.4,626.2 324.9,625.5Z" stroke="#fde725"/><path d="M326.2,699.2 325.9,700.0 325.4,700.7 324.8,701.1 323.9,701.3 322.8,701.2 321.8,701.2 320.8,701.2 319.8,701.2 318.9,701.1 318.1,700.9 317.6,700.5 317.3,699.9 317.2,699.1 317.0,698.3 316.8,697.5 316.5,696.7 316.2,696.0 316.2,695.3 316.5,694.9 317.1,694.6 318.0,694.5 318.9,694.4 319.6,694.3 320.3,694.2 321.0,694.2 321.7,694.2 322.5,694.3 323.5,694.3 324.6,694.3 325.4,694.5 326.0,695.0 326.3,695.7 326.5,696.5 326.5,697.4 326.4,698.3Z" stroke="#fde725"/><path d="M359.4,640.9 358.8,640.9 358.3,640.8 357.7,640.8 357.2,640.8 356.7,640.8 356.3,640.7 356.0,640.4 355.7,640.1 355.6,639.7 355.5,639.2 355.4,638.8 355.4,638.3 355.5,637.8 355.6,637.3 355.8,636.9 356.2,636.5 356.6,636.1 357.0,635.9 357.5,635.7 357.9,635.6 358.5,635.6 358.9,635.7 359.2,636.0 359.5,636.2 359.7,636.6 359.9,637.0 360.0,637.4 360.1,637.7 360.2,638.1 360.2,638.5 360.3,639.0 360.3,639.5 360.3,640.1 360.1,640.5 359.8,640.8Z" stroke="#fde725"/><path d="M335.1,644.0 334.9,643.2 335.0,642.4 335.2,641.7 335.6,641.1 336.3,640.6 337.0,640.2 337.8,639.9 338.6,639.7 339.5,639.6 340.2,639.7 340.8,640.1 341.2,640.7 341.5,641.6 341.9,642.4 342.3,643.2 342.7,644.0 343.1,644.7 343.3,645.4 343.2,646.0 342.9,646.6 342.3,647.2 341.7,647.6 341.1,648.0 340.5,648.3 339.9,648.4 339.3,648.5 338.7,648.4 338.2,648.2 337.6,647.8 337.2,647.4 336.7,647.0 336.3,646.5 336.0,646.0 335.7,645.4 335.4,644.8Z" stroke="#fde725"/><path d="M363.0,684.8 362.4,685.3 361.7,685.7 360.9,685.9 360.1,685.9 359.2,685.7 358.4,685.4 357.8,684.9 357.3,684.3 356.9,683.5 356.6,682.7 356.4,681.9 356.3,681.1 356.3,680.3 356.5,679.5 356.9,678.9 357.4,678.5 358.2,678.1 358.9,677.9 359.6,677.8 360.2,677.8 360.8,677.9 361.4,678.0 361.9,678.2 362.5,678.4 363.0,678.6 363.5,678.9 364.0,679.3 364.5,679.8 364.9,680.4 365.1,681.0 365.2,681.6 365.0,682.3 364.6,682.9 364.1,683.6 363.6,684.2Z" stroke="#fde725"/><path d="M313.3,649.9 313.6,649.2 313.9,648.5 314.3,647.9 314.7,647.4 315.1,646.9 315.6,646.5 316.2,646.1 316.8,645.8 317.5,645.6 318.1,645.6 318.6,645.9 319.0,646.5 319.3,647.4 319.6,648.2 319.8,649.0 320.0,649.7 320.2,650.4 320.3,651.1 320.2,651.7 320.0,652.4 319.7,653.0 319.4,653.5 318.9,653.9 318.4,654.1 317.8,654.3 317.2,654.4 316.6,654.4 315.9,654.4 315.2,654.4 314.6,654.2 314.0,653.8 313.6,653.1 313.3,652.3 313.1,651.5 313.1,650.7Z" stroke="#fde725"/><path d="M477.6,295.7 474.4,296.0 470.9,294.1 467.3,295.1 464.1,296.7 460.4,297.9 456.8,300.2 455.4,302.8 454.6,306.6 452.4,309.3 450.9,311.3 447.7,311.1 446.1,312.7 443.5,312.9 441.5,314.9 438.8,314.7 436.7,317.2 433.6,316.8 430.7,316.9 427.4,315.7 425.0,318.1 422.8,321.2 420.5,324.3 417.9,325.9 414.7,327.0 410.7,324.7 406.7,325.5 402.9,325.2 399.8,324.4 396.9,323.4 394.2,319.6 390.9,321.1 387.4,319.3 385.6,322.5 382.4,323.1 381.8,327.0 381.3,330.2 381.2,333.0 381.7,335.9 379.8,339.9 384.3,339.9 383.7,343.0 383.6,346.6 381.7,349.7 382.2,352.1 382.6,355.5 380.5,357.7 381.6,361.5 380.1,364.1 377.6,365.9 376.1,368.7 373.0,369.7 371.1,372.1 368.4,373.6 368.1,377.5 366.0,379.6 364.5,382.3 361.1,383.1 358.5,384.7 357.0,387.2 358.0,392.1 355.0,393.1 351.1,393.3 348.0,394.3 346.0,396.4 345.3,400.3 344.4,403.9 343.2,407.0 343.4,410.0 345.8,412.4 345.5,415.1 346.3,416.8 349.0,418.1 351.4,420.6 349.8,425.2 349.9,428.8 348.0,432.0 349.3,435.8 349.0,439.8 348.1,443.9 344.4,445.1 341.3,446.1 338.8,447.6 337.0,449.4 334.5,450.8 331.4,452.1 330.3,455.8 329.2,459.8 328.8,463.5 327.5,467.7 328.3,472.3 330.0,475.8 333.0,477.3 336.2,478.2 339.4,479.1 340.7,481.6 343.4,482.9 345.0,485.3 346.3,487.9 345.6,491.6 346.9,493.9 348.5,496.3 352.6,497.9 353.6,500.8 354.8,503.5 356.1,506.2 358.5,508.5 360.4,511.0 361.3,513.8 361.4,517.4 359.1,520.9 358.5,523.8 360.9,526.5 362.4,529.8 361.3,532.4 361.2,535.3 359.0,538.8 361.3,542.9 360.9,546.2 360.3,548.6 357.9,551.5 355.5,555.5 356.7,559.1 358.6,562.4 361.9,563.3 362.9,566.0 365.6,567.1 368.3,568.5 371.6,569.1 373.7,571.4 377.1,571.6 379.3,573.9 381.7,576.0 384.7,576.9 387.9,577.4 390.5,579.2 392.4,582.7 394.7,585.0 397.7,586.1 401.1,585.1 403.5,587.4 405.3,590.5 407.3,591.3 410.9,590.4 414.0,590.0 416.0,591.8 417.3,594.5 418.9,596.4 419.2,600.7 421.8,602.7 422.9,605.5 425.4,607.2 426.5,609.3 424.6,611.1 424.4,613.2 424.1,616.5 422.2,618.3 420.1,620.3 416.7,620.8 414.4,622.6 411.8,623.2 409.4,624.2 406.5,624.4 402.5,623.8 399.6,625.8 399.7,630.2 398.2,633.2 399.4,637.5 396.5,638.7 396.5,641.5 392.7,643.9 395.0,647.4 395.2,650.6 398.7,652.5 401.6,653.9 404.4,655.0 406.1,655.2 406.0,659.8 408.4,660.6 410.6,662.4 413.2,663.4 414.9,666.1 417.8,667.3 420.2,669.5 423.7,669.8 425.3,673.0 427.3,675.5 429.3,677.7 431.3,679.8 433.6,681.6 434.2,684.9 438.2,684.9 439.0,687.4 440.1,689.6 440.2,693.0 442.5,695.8 441.3,698.9 441.4,702.3 441.6,705.5 442.6,709.3 439.4,710.5 435.6,711.2 432.1,711.9 430.4,714.0 429.1,717.0 426.7,718.8 424.7,721.3 422.8,723.2 421.7,725.6 419.3,727.4 419.5,731.3 418.7,734.6 420.1,737.4 421.4,740.1 419.6,743.2 419.8,746.2 419.2,749.6 420.6,752.1 421.6,754.8 424.7,756.7 426.8,758.9" stroke="#7ad151"/><path d="M685.9,754.7 682.9,753.6 681.9,751.1 680.7,748.8 678.3,747.3 676.2,745.6 675.0,743.3 675.4,739.9 672.0,739.1 672.6,736.4 670.8,734.5 670.7,731.9 668.8,729.5 670.5,726.8 670.1,724.5 670.8,722.0 669.6,718.3 670.0,715.4 671.9,713.1 674.0,710.7 673.6,706.5 675.6,704.4 678.4,703.2 682.3,702.8 683.2,699.6 686.6,699.7 688.9,698.6 691.5,698.1 692.7,695.4 693.7,692.4 697.0,692.7 698.2,690.0 701.4,690.0 703.5,688.4 706.4,688.0 707.7,685.4 709.6,683.5 711.1,681.1 712.5,678.5 713.2,675.2 714.8,672.9 715.6,669.6 720.2,671.1 721.6,669.2 725.0,668.9 725.8,666.3 726.8,663.8 729.0,662.6 730.2,659.9 730.4,656.5 731.3,653.3 732.4,650.3 735.8,648.8 736.0,645.4 738.8,643.5 740.8,641.2 742.8,638.9 743.8,636.0 746.3,634.1 746.8,630.7 749.9,629.8 750.8,627.1 755.0,627.5 756.9,625.7 759.4,624.6 759.8,621.6 759.1,616.6 761.9,615.8 764.3,614.5 767.4,614.0 768.6,611.2 771.7,610.7 773.2,608.0 774.5,605.0 776.6,603.0 779.0,601.5 782.7,601.7 786.7,602.5 788.7,599.8 791.1,597.9 793.2,595.4 796.0,594.5 798.5,592.8 802.7,594.7 805.7,594.7 808.3,594.0 810.9,592.8 813.4,591.3 815.9,589.9 819.1,590.3 822.0,589.7" stroke="#7ad151"/><path d="M266.6,127.9 263.4,129.4 260.0,130.1 256.8,131.7 253.3,132.2 250.3,134.4 246.8,136.1 242.7,136.7 238.2,137.0 233.4,137.5 229.6,138.9 226.2,138.9 223.2,139.5 221.3,138.0 219.2,137.3 216.7,137.0 214.2,136.6 211.3,136.8 209.5,135.3 209.1,134.3 209.1,133.8 209.7,132.6 210.8,130.4 213.5,129.8 216.2,127.9 220.0,126.8 224.0,126.1 228.1,125.6 232.4,126.1 236.7,125.7 241.1,126.2 245.6,125.9 250.3,126.0 255.0,125.2 259.0,125.8 262.5,125.0 265.3,125.8 267.6,126.1 267.7,126.4 268.3,126.7Z" stroke="#fde725"/><path d="M253.5,128.7 250.4,129.5 247.8,130.4 245.7,131.2 244.1,132.0 243.0,132.8 241.1,133.6 238.5,134.2 235.2,134.8 231.2,135.2 227.6,135.5 224.7,135.6 222.2,135.6 220.3,135.3 218.5,135.1 216.8,134.8 215.2,134.6 213.6,134.4 213.0,134.0 213.3,133.6 214.4,133.1 216.3,132.4 218.3,131.8 220.2,131.2 222.0,130.6 223.8,130.1 226.0,129.5 228.5,128.9 231.2,128.2 234.4,127.5 237.6,127.0 240.8,126.5 244.1,126.2 247.4,126.1 250.3,126.1 252.6,126.2 254.5,126.5 256.0,126.9 256.3,127.4 255.5,128.0Z" stroke="#7ad151"/><path d="M278.7,130.7 278.5,131.6 278.1,132.3 277.4,132.9 276.4,133.3 275.1,133.6 273.8,133.8 272.6,134.0 271.3,134.0 270.1,133.9 268.8,133.7 267.4,133.4 266.0,133.0 264.6,132.5 263.8,131.8 263.4,131.1 263.6,130.2 264.2,129.2 264.9,128.3 265.6,127.4 266.2,126.6 266.9,125.8 267.7,125.2 268.7,124.8 269.9,124.6 271.2,124.6 272.7,124.5 274.3,124.5 276.1,124.5 278.0,124.5 279.3,124.7 280.0,125.4 280.2,126.3 279.7,127.5 279.3,128.7 279.0,129.7Z" stroke="#fde725"/><path d="M525.0,172.8 527.3,170.9 530.7,171.7 534.1,172.9 536.5,171.0 538.4,167.8 541.4,167.8 544.5,167.9 547.5,167.9 549.3,164.3 551.5,161.7 554.6,162.8 556.7,160.7 559.9,162.7 562.6,163.1 566.0,165.8 568.8,165.7 571.5,165.0 573.5,161.5 576.2,161.1 578.6,159.2 581.6,161.0 583.5,157.7 586.0,157.5 588.5,156.8 591.0,156.7 593.1,154.2 595.3,151.1 598.0,150.4 600.6,149.5 603.5,150.0 607.0,153.7 610.5,157.2 613.3,156.7 615.9,155.6 618.3,153.4 621.3,154.2 624.2,154.4 626.5,152.1 628.9,149.7 631.3,148.2 633.7,146.3 635.7,142.9 638.0,140.6 640.8,140.5 643.1,138.8 646.7,141.0 649.3,139.7 652.6,140.9 655.1,139.6 658.6,141.2 660.2,137.2 662.4,134.6 664.8,132.9 668.5,135.2 672.1,136.9 674.8,135.9 677.6,135.9 679.9,134.8 681.7,132.0 683.2,128.0 685.2,125.8 688.0,126.0 691.2,126.7 694.7,128.1 697.6,127.9 700.5,127.6 702.7,125.3 706.3,128.0 709.1,128.3 711.7,128.2 713.6,125.6 715.5,123.4 718.4,123.0 720.7,120.8 722.7,118.0 725.5,117.3 728.6,117.8 731.7,118.6 734.8,118.9 737.8,119.5 739.5,115.3 742.0,113.7 744.3,111.5 748.1,115.3 751.2,116.5 754.2,117.4 756.1,113.4 759.2,114.5 762.0,115.1 765.3,117.2 767.6,115.1 769.4,109.7 771.8,107.7 774.4,106.9 777.1,106.1 779.5,104.2 782.4,104.7 785.0,103.7" stroke="#fde725"/><path d="M508.7,246.9 511.1,246.0 516.3,246.7 520.5,248.4 524.0,247.1 527.7,248.5 530.4,245.3 533.4,243.3 535.3,239.9 537.8,239.5 540.2,238.6 543.1,239.9 546.2,241.7 548.3,239.0 551.2,240.1 553.5,238.3 555.9,236.6 558.5,235.9 561.0,234.8 564.2,236.9 566.4,234.0 568.9,232.4 571.6,232.0 574.1,230.5 577.4,230.9 580.4,230.6 583.9,232.8 587.0,232.3 589.6,231.6 592.0,229.3 594.4,227.0 596.8,224.3 600.1,227.7 603.5,230.9 606.5,230.5 609.3,228.8 611.8,225.3 615.0,226.6 617.6,225.1 620.5,226.3 622.9,223.2 625.8,224.7 628.8,227.0 631.5,227.7 634.1,228.8 636.7,229.7 639.2,230.6 641.8,231.6 644.3,231.5 647.0,232.9 649.1,230.4 651.7,229.3 654.4,229.1 657.1,229.0 659.7,227.4 662.5,229.0 665.2,229.1 667.8,227.7 670.2,225.8 672.8,224.8 675.3,223.4 677.8,223.9 680.3,225.8 682.9,226.0 685.4,229.3 687.8,228.8 690.5,226.0 693.2,226.1 695.9,228.0 698.6,226.3 701.5,222.6 704.1,224.5 706.7,226.4 709.4,226.9 712.0,227.8 714.9,225.0 717.6,224.9 720.4,224.1 723.3,221.9 725.9,223.5 728.9,221.7 731.4,224.0 734.0,224.7 736.7,225.7 739.3,226.6 742.3,224.9 744.6,228.0 747.7,226.4 750.2,228.1 752.8,229.3 755.0,231.8 757.8,231.9 760.3,233.1 763.4,232.7 766.9,231.1 769.8,230.3 771.8,233.8 774.0,236.6 777.3,234.2 780.0,233.5 782.6,233.1 785.1,236.5 787.8,237.7 790.6,239.9 793.4,238.2 796.0,236.3 798.7,235.9 801.2,234.4 804.3,236.1 807.3,237.1 809.5,234.1 812.3,233.8 815.4,235.0 818.3,235.5 820.7,233.5 823.2,231.9 826.8,235.4 829.0,232.7" stroke="#fde725"/><path d="M612.0,191.9 614.8,191.2 617.3,189.7 620.6,190.3 624.4,192.6 627.8,193.7 630.5,192.8 632.8,190.6 635.5,189.9 638.3,188.9 641.4,189.6 644.3,189.1 647.0,187.9 648.9,184.1 651.7,183.0 654.5,181.7 658.0,182.5 660.4,179.9 662.7,176.7 664.8,174.6 666.9,172.7 669.1,170.9 672.0,171.8 675.2,173.8 678.2,174.7 680.9,174.7 683.5,174.0 686.0,172.9 687.5,168.0 690.1,166.9 692.1,163.4 695.9,167.1 699.2,168.6 701.6,166.8 703.4,162.1 705.4,158.4 708.9,160.1 711.8,159.9 714.3,158.0 717.0,158.4 719.0,156.1 721.6,156.1 724.4,156.9 727.6,158.8 731.0,161.6 733.3,160.1 735.4,157.9 736.5,152.4 738.7,150.3 741.6,151.0 745.0,153.2 747.2,151.1 749.7,150.7 751.9,148.8 755.2,151.1 758.4,153.7 760.8,152.8 763.1,151.1 765.3,148.9 767.7,148.2 770.1,146.9 772.9,148.0 776.1,151.1 778.8,152.3 781.3,151.8 783.3,148.2 785.6,146.7 787.9,144.3 790.4,143.9 792.9,143.2 795.7,145.6 798.7,150.0 801.2,149.1 803.9,150.7 806.4,150.5 809.4,151.7 812.1,149.8 814.8,148.1 817.3,145.4 819.8,145.0 822.0,141.3 824.5,140.5 827.9,137.2" stroke="#fde725"/><path d="M733.7,200.4 736.3,200.6 739.8,196.9 742.8,195.1 746.3,194.6 748.6,192.1 752.0,192.3 754.7,190.6 757.8,190.5 761.4,192.8 764.1,191.8 767.1,194.1 769.9,192.7 772.6,194.7 775.1,194.9 777.9,195.0 780.4,194.6 782.9,195.0 785.9,194.6 788.9,197.3 792.2,194.1 794.9,191.9 797.4,186.8 799.6,185.5 802.5,188.0 805.9,191.2 809.3,189.1 811.4,184.1 815.2,183.8 818.4,182.2 820.2,179.7 822.1,177.5 825.6,176.3 829.1,179.3" stroke="#fde725"/><path d="M557.4,193.0 557.3,192.6 557.1,192.3 557.0,191.9 556.9,191.5 556.8,191.0 556.8,190.6 557.0,190.3 557.3,190.0 557.8,189.9 558.3,189.6 558.7,189.3 559.2,188.9 559.6,188.5 559.9,188.3 560.1,188.3 560.3,188.6 560.4,189.1 560.6,189.5 560.8,189.9 561.2,190.2 561.6,190.5 561.8,190.8 561.7,191.1 561.5,191.4 561.0,191.7 560.5,192.1 560.2,192.6 559.8,193.1 559.6,193.7 559.3,194.0 559.0,194.2 558.6,194.1 558.3,193.9 557.9,193.6 557.7,193.3Z" stroke="#fde725"/><path d="M636.4,241.5 635.1,242.3 633.9,243.0 632.6,243.5 631.2,244.0 629.8,244.3 628.4,244.5 626.9,244.5 625.4,244.3 624.0,244.0 622.6,243.5 621.3,243.0 620.0,242.4 618.9,241.6 618.1,240.8 617.5,239.9 617.2,239.0 617.2,237.9 617.5,237.1 618.3,236.4 619.4,235.9 620.8,235.6 622.3,235.3 623.6,235.2 624.9,235.2 626.2,235.4 627.3,235.6 628.3,235.9 629.2,236.3 630.0,236.8 631.0,237.3 632.3,237.9 633.8,238.6 635.6,239.3 636.6,240.0 636.9,240.7Z" stroke="#fde725"/><path d="M780.0,145.1 778.9,144.6 778.0,143.8 777.5,142.8 777.3,141.6 777.4,140.2 777.4,138.7 777.4,137.2 777.3,135.7 777.2,134.1 777.4,132.8 778.1,131.8 779.0,131.1 780.4,130.7 781.6,130.5 782.9,130.5 784.0,130.7 785.1,131.0 786.2,131.5 787.4,132.0 788.5,132.6 789.8,133.3 790.7,134.3 791.3,135.6 791.6,137.1 791.6,138.8 791.3,140.4 790.7,141.9 789.8,143.3 788.7,144.5 787.5,145.3 786.3,145.9 785.0,146.1 783.7,146.1 782.4,145.9 781.2,145.6Z" stroke="#fde725"/><path d="M808.1,202.2 807.4,201.7 807.1,201.0 807.3,200.3 807.9,199.5 808.8,198.6 809.8,197.7 810.6,196.9 811.5,196.1 812.2,195.3 813.2,194.5 814.4,193.7 815.7,192.8 817.3,191.9 818.6,191.5 819.6,191.7 820.4,192.3 820.8,193.5 821.0,194.6 821.0,195.8 820.6,197.1 820.0,198.3 819.2,199.4 818.4,200.4 817.6,201.2 816.6,201.8 815.6,202.6 814.6,203.4 813.5,204.4 812.4,205.4 811.5,206.0 810.7,206.0 810.1,205.5 809.7,204.5 809.3,203.7 808.7,202.9Z" stroke="#fde725"/><path d="M615.7,201.3 615.2,200.9 614.9,200.5 614.7,200.1 614.5,199.6 614.5,199.2 614.6,198.8 614.7,198.4 614.8,198.0 614.9,197.7 615.1,197.4 615.3,197.1 615.5,196.7 615.7,196.3 616.0,196.1 616.3,196.0 616.7,196.0 617.1,196.2 617.6,196.4 618.1,196.5 618.7,196.7 619.4,196.8 619.7,197.0 619.8,197.3 619.7,197.7 619.2,198.2 618.9,198.6 618.6,199.0 618.3,199.4 618.2,199.7 617.9,200.0 617.7,200.3 617.3,200.7 616.9,201.2 616.5,201.4 616.1,201.4Z" stroke="#fde725"/><path d="M701.4,141.4 701.0,142.5 700.4,143.2 699.5,143.5 698.5,143.4 697.2,142.9 696.1,142.3 695.2,141.5 694.5,140.5 693.9,139.4 693.4,138.2 693.1,137.1 692.9,136.0 692.7,134.8 692.8,133.8 693.1,132.9 693.7,132.1 694.4,131.3 695.2,130.9 696.2,130.6 697.2,130.5 698.3,130.7 699.3,131.1 700.1,131.6 700.9,132.2 701.5,133.1 702.0,133.9 702.3,134.7 702.4,135.5 702.4,136.2 702.4,136.9 702.3,137.5 702.2,138.2 702.2,138.8 702.0,139.5 701.7,140.4Z" stroke="#fde725"/><path d="M708.8,167.7 708.0,167.1 707.2,166.6 706.2,166.2 705.3,166.1 704.2,166.0 703.5,165.8 703.2,165.3 703.3,164.6 703.7,163.7 704.0,162.7 704.2,161.7 704.2,160.7 704.2,159.6 704.3,158.8 704.8,158.2 705.5,157.9 706.5,157.8 707.5,157.8 708.3,158.0 709.1,158.4 709.7,158.9 710.3,159.5 710.8,160.1 711.1,160.8 711.4,161.4 711.5,162.1 711.5,162.7 711.4,163.3 711.2,163.9 710.9,164.6 710.7,165.3 710.5,166.2 710.3,167.2 709.9,167.8 709.4,168.0Z" stroke="#fde725"/><path d="M651.5,149.6 650.8,149.1 650.4,148.5 650.2,147.7 650.4,146.7 650.8,145.6 651.3,144.5 651.7,143.5 652.1,142.5 652.4,141.5 652.9,140.7 653.5,139.9 654.2,139.2 655.1,138.6 655.9,138.1 656.8,137.9 657.8,137.8 658.7,138.0 659.5,138.4 660.1,139.0 660.5,139.9 660.8,141.1 660.8,142.2 660.5,143.3 660.0,144.4 659.3,145.4 658.5,146.2 657.8,147.0 657.2,147.6 656.5,148.1 655.9,148.5 655.2,148.9 654.5,149.3 653.7,149.7 653.0,149.8 652.3,149.8Z" stroke="#fde725"/><path d="M559.2,168.5 558.5,169.3 557.8,170.1 556.9,170.8 556.0,171.4 554.8,171.9 553.8,172.1 552.8,172.0 551.8,171.5 550.9,170.6 550.1,169.7 549.3,169.0 548.7,168.2 548.2,167.5 547.7,166.7 547.3,165.9 546.9,164.9 546.6,163.9 546.6,163.0 547.0,162.2 547.7,161.5 548.8,161.0 549.9,160.5 551.1,160.3 552.3,160.1 553.6,160.2 554.6,160.4 555.4,161.0 556.0,161.7 556.3,162.8 556.7,163.7 557.3,164.6 558.0,165.4 558.8,166.2 559.3,166.9 559.4,167.7Z" stroke="#fde725"/><path d="M740.5,187.1 740.2,187.1 739.9,187.1 739.7,187.0 739.5,186.9 739.2,186.7 739.1,186.6 738.9,186.4 738.9,186.1 738.8,185.9 738.9,185.6 739.0,185.4 739.1,185.2 739.3,184.9 739.6,184.7 739.9,184.4 740.2,184.2 740.5,183.9 740.9,183.7 741.3,183.6 741.7,183.6 742.2,183.8 742.5,184.0 742.6,184.3 742.6,184.6 742.4,185.0 742.3,185.4 742.2,185.7 742.0,186.0 741.9,186.2 741.8,186.4 741.6,186.6 741.5,186.7 741.3,186.9 741.0,187.0 740.8,187.1Z" stroke="#fde725"/><path d="M638.5,168.1 638.1,167.0 638.0,166.0 638.0,165.0 638.3,164.2 638.7,163.4 639.1,162.5 639.3,161.5 639.4,160.5 639.4,159.3 639.7,158.5 640.2,158.1 641.0,158.1 641.9,158.5 642.9,158.9 643.8,159.2 644.7,159.4 645.5,159.5 646.1,159.8 646.5,160.4 646.7,161.1 646.6,161.9 646.6,162.8 646.6,163.8 646.7,164.7 646.9,165.7 646.8,166.6 646.4,167.4 645.7,168.1 644.9,168.7 643.9,169.1 642.9,169.4 641.8,169.6 640.7,169.7 639.7,169.4 639.0,168.9Z" stroke="#fde725"/><path d="M725.8,133.0 725.5,132.0 725.6,131.2 726.2,130.7 727.1,130.5 728.4,130.5 729.5,130.6 730.6,130.7 731.5,130.9 732.2,131.1 733.2,131.3 734.3,131.5 735.6,131.7 737.0,131.9 738.1,132.3 738.8,133.0 739.1,133.9 739.1,135.1 738.8,136.1 738.2,137.0 737.3,137.6 736.1,138.2 735.0,138.5 733.9,138.6 732.9,138.6 731.9,138.3 730.9,138.1 730.0,138.0 729.1,137.8 728.2,137.7 727.5,137.4 726.9,137.0 726.6,136.4 726.4,135.6 726.2,134.8 726.0,134.0Z" stroke="#fde725"/><path d="M587.4,149.0 587.9,148.4 588.5,147.8 588.9,147.2 589.3,146.5 589.7,145.8 590.2,145.3 590.8,145.0 591.4,144.9 592.2,145.0 593.0,145.3 593.7,145.6 594.4,146.1 595.0,146.7 595.4,147.3 595.6,148.0 595.6,148.7 595.3,149.5 595.0,150.3 594.8,151.1 594.5,151.8 594.2,152.5 593.8,153.0 593.3,153.5 592.6,153.9 591.9,154.1 591.2,154.2 590.5,154.1 589.9,153.8 589.3,153.3 588.7,152.7 588.2,152.2 587.7,151.5 587.2,150.9 587.0,150.2 587.1,149.6Z" stroke="#fde725"/><path d="M559.6,136.5 558.8,136.8 557.9,136.9 557.1,136.8 556.2,136.6 555.4,136.2 554.7,135.6 554.2,135.0 553.9,134.3 553.7,133.4 553.5,132.5 553.4,131.7 553.2,130.8 553.0,129.9 553.0,129.0 553.2,128.0 553.6,126.9 554.1,125.8 554.8,125.1 555.7,124.7 556.8,124.6 558.0,124.9 559.1,125.3 560.1,125.9 560.9,126.7 561.6,127.6 562.3,128.6 562.9,129.6 563.5,130.7 564.0,131.8 564.2,132.8 563.9,133.7 563.3,134.4 562.4,135.1 561.4,135.6 560.5,136.1Z" stroke="#fde725"/><path d="M736.7,225.2 736.2,225.8 735.5,226.2 734.7,226.3 733.7,226.3 732.6,226.1 731.6,226.0 730.6,225.8 729.8,225.7 728.9,225.5 728.2,225.3 727.6,225.0 727.1,224.6 726.7,224.1 726.3,223.5 725.8,222.9 725.2,222.2 724.7,221.5 724.5,220.8 724.8,220.3 725.4,220.0 726.5,219.7 727.6,219.6 728.6,219.7 729.5,219.9 730.5,220.2 731.3,220.6 732.0,221.0 732.6,221.3 733.2,221.7 733.8,222.1 734.5,222.5 735.3,223.0 736.2,223.6 736.7,224.1 736.9,224.7Z" stroke="#fde725"/><path d="M701.9,142.8 701.6,142.4 701.4,141.9 701.2,141.4 700.9,140.8 700.7,140.2 700.7,139.6 700.9,139.0 701.3,138.5 701.9,138.1 702.5,137.5 703.1,136.9 703.6,136.2 704.1,135.5 704.7,135.0 705.2,134.8 705.7,134.8 706.2,135.2 706.6,135.6 706.9,136.1 707.1,136.8 707.2,137.5 707.1,138.2 707.0,138.9 706.7,139.6 706.3,140.3 705.9,140.9 705.5,141.4 705.1,141.9 704.7,142.3 704.3,142.7 703.9,143.0 703.4,143.1 703.0,143.2 702.6,143.2 702.2,143.0Z" stroke="#fde725"/><path d="M692.2,140.6 692.2,140.2 692.1,139.8 692.0,139.4 691.8,138.9 691.6,138.3 691.6,137.8 691.7,137.5 692.0,137.2 692.6,137.1 693.1,137.0 693.6,136.9 694.1,136.9 694.6,137.0 695.1,137.2 695.6,137.4 696.0,137.8 696.3,138.2 696.5,138.6 696.5,139.0 696.3,139.4 695.9,139.8 695.6,140.2 695.3,140.5 695.1,140.8 694.9,141.0 694.7,141.2 694.4,141.4 694.1,141.6 693.8,141.8 693.5,141.9 693.2,141.9 692.9,141.7 692.6,141.5 692.4,141.2 692.3,140.9Z" stroke="#fde725"/><path d="M647.9,144.1 647.3,143.5 647.0,142.7 646.8,141.9 646.8,140.9 647.0,139.8 647.2,138.7 647.3,137.5 647.3,136.3 647.3,135.0 647.6,133.9 648.0,133.1 648.6,132.4 649.5,132.0 650.4,131.6 651.3,131.4 652.1,131.2 653.0,131.1 653.7,131.4 654.1,132.0 654.4,132.9 654.4,134.2 654.4,135.4 654.3,136.5 654.2,137.6 654.1,138.6 653.8,139.7 653.6,140.9 653.2,142.1 652.8,143.5 652.3,144.5 651.7,145.1 650.9,145.4 650.0,145.2 649.2,145.0 648.5,144.6Z" stroke="#fde725"/><path d="M621.7,171.5 620.5,172.3 619.2,172.9 617.8,173.1 616.3,173.1 614.6,172.7 613.1,172.4 611.6,172.1 610.2,171.7 608.9,171.3 607.7,170.8 606.4,170.2 605.1,169.5 603.8,168.6 603.1,167.8 602.9,167.0 603.4,166.2 604.3,165.5 605.2,164.7 606.0,163.8 606.7,162.9 607.3,162.0 608.2,161.3 609.4,160.9 610.9,160.8 612.7,161.1 614.2,161.5 615.4,162.2 616.3,163.2 616.8,164.4 617.5,165.5 618.5,166.7 619.7,167.7 621.2,168.8 622.0,169.8 622.2,170.7Z" stroke="#fde725"/><path d="M606.4,141.2 605.1,141.3 604.3,141.0 604.0,140.2 604.3,138.9 605.2,137.2 605.9,135.6 606.6,134.2 607.2,132.9 607.8,131.8 608.4,130.6 609.2,129.5 610.1,128.4 611.1,127.3 612.0,126.7 612.9,126.5 613.7,126.8 614.4,127.7 615.1,128.6 615.7,129.5 616.1,130.5 616.5,131.5 616.7,132.6 616.5,133.7 616.1,134.8 615.3,136.0 614.6,137.3 614.0,138.6 613.3,140.0 612.7,141.5 612.0,142.5 611.3,142.9 610.5,142.7 609.7,142.1 608.7,141.6 607.7,141.3Z" stroke="#fde725"/><path d="M784.1,139.5 783.2,139.8 782.4,139.7 781.7,139.2 781.1,138.2 780.7,136.7 780.1,135.4 779.5,134.2 778.7,133.1 777.8,132.1 777.2,131.0 776.9,129.8 776.8,128.6 777.0,127.2 777.4,126.4 778.1,126.1 779.1,126.3 780.3,126.9 781.4,127.4 782.4,127.6 783.4,127.6 784.2,127.4 785.0,127.6 785.8,128.1 786.4,128.9 787.0,130.0 787.4,131.1 787.6,132.1 787.5,133.1 787.2,134.1 786.9,135.0 786.6,135.9 786.3,136.8 786.0,137.6 785.5,138.4 784.9,139.0Z" stroke="#fde725"/><path d="M719.6,145.9 718.9,145.7 718.1,145.3 717.5,144.7 716.8,143.9 716.2,143.0 715.9,142.1 715.9,141.1 716.2,140.0 716.7,139.0 717.3,138.0 717.9,137.0 718.6,136.2 719.3,135.4 720.0,134.9 720.8,134.6 721.7,134.5 722.6,134.7 723.3,135.0 723.9,135.7 724.3,136.5 724.5,137.5 724.8,138.6 725.2,139.6 725.8,140.6 726.5,141.7 726.9,142.8 726.9,144.0 726.7,145.4 726.1,146.8 725.4,147.7 724.6,148.1 723.6,148.0 722.5,147.3 721.4,146.7 720.5,146.3Z" stroke="#fde725"/><path d="M551.9,281.4 555.2,282.3 557.7,281.4 560.7,281.7 561.8,277.6 563.9,275.6 565.4,272.5 567.4,270.6 569.1,267.8 572.0,267.7 574.6,266.5 577.8,266.2 581.3,267.1 584.1,266.0 587.2,265.8 589.7,264.5 592.9,266.2 595.2,264.4 597.7,263.5 600.0,261.3 603.1,261.7 606.2,262.2 609.4,262.8 611.9,260.2 614.7,258.6 617.3,257.2 620.1,257.4 622.7,256.2 625.5,256.8 628.0,255.0 630.6,252.7 633.4,251.5 636.1,251.4 639.1,254.5 641.7,253.4 644.4,253.3 647.2,252.5 650.1,255.5 652.8,254.5 655.5,254.6 658.2,255.4 661.0,256.8 663.7,257.2 666.4,255.1 669.1,254.0 671.7,257.4 674.4,260.1 677.1,260.0 679.8,259.1 682.5,258.8 685.1,259.7 687.8,260.6 690.5,260.1 693.2,260.2 695.8,261.4 698.1,262.7 700.7,262.0 703.4,261.4 705.7,263.3 708.4,261.6 710.7,263.4 713.5,263.5 716.2,264.6 719.3,263.1 722.4,261.8 724.9,263.5 727.7,262.8 730.0,265.0 732.7,264.8 735.0,267.1 737.6,266.9 740.3,268.6 743.9,267.1 747.2,266.7 750.4,266.6 752.8,268.9 755.2,271.2 758.3,271.2 761.4,271.0 764.4,271.0 766.6,273.4 769.4,273.9 772.6,273.0 775.3,273.3 778.2,273.3 780.5,275.0 783.2,275.3 785.2,277.6 787.4,278.8 789.8,279.8 792.6,279.5 795.6,279.4 798.1,281.7 801.2,281.0 803.2,284.3 806.0,282.5 808.5,281.9 811.6,279.0 814.7,282.4 817.1,281.2 819.9,281.5 823.8,279.7 826.3,278.4 828.0,279.7" stroke="#7ad151"/><path d="M828.3,307.8 825.6,306.8 823.1,305.3 821.2,303.9 818.6,305.3 816.2,306.1 814.0,305.8 812.1,305.1 809.4,303.9 806.6,303.7 803.8,303.0 801.1,304.2 797.9,302.9 795.8,303.8 793.8,305.1 791.9,306.6 790.1,308.4 787.5,308.6 785.1,309.3 782.1,308.6 779.5,308.3 777.4,308.1 775.3,308.8 773.1,309.5 772.0,311.7 769.8,311.8 767.0,312.5 764.3,311.9 761.6,312.7 759.7,311.7 757.1,312.4 754.6,312.7 752.1,312.8 749.4,313.8 747.6,312.4 745.8,311.0 744.1,308.7 741.9,308.1 740.0,306.5 737.8,306.4 735.2,308.0 732.8,308.3 730.8,307.7 728.4,307.5 725.9,308.1 723.6,306.9 721.2,306.4 718.8,306.2 716.5,305.0 714.1,304.7 711.5,305.8 709.3,304.6 707.1,304.1 704.6,304.7 702.2,305.0 699.9,303.5 697.4,304.4 695.0,303.9 692.7,302.2 690.3,301.6 688.0,300.7 685.4,298.9 683.1,300.3 680.8,302.0 678.3,301.2 675.9,300.9 673.5,301.4 671.2,302.3 668.7,301.2 666.3,302.1 664.0,300.9 661.6,299.6 659.2,300.2 656.8,299.3 654.4,300.8 652.0,301.3 649.5,302.7 647.2,301.1 644.8,301.5 642.5,300.0 639.9,302.0 637.7,300.3 635.2,300.5 632.9,299.7 630.3,301.2 628.0,299.8 625.5,301.1 623.1,302.0 620.6,302.3 618.2,302.2 615.8,303.4 613.3,303.9 610.9,304.9 608.5,303.6 606.1,303.9 603.7,303.0 601.4,302.6 599.1,301.6 596.6,302.1 594.2,302.9 591.7,304.1 589.4,301.6 587.0,302.2 584.6,302.8 582.2,302.9 579.8,300.9 577.4,303.2 575.1,302.4 572.8,302.3 570.6,300.4 568.2,301.3 566.0,299.8 563.6,299.7 561.0,298.0 558.3,298.3 555.7,297.1 553.0,295.9 550.2,296.7 547.7,298.9 545.0,299.5 542.3,299.0 540.1,298.7 537.9,298.6 535.3,297.2 532.9,296.2 531.2,298.2 528.6,298.6 525.9,298.9 523.2,299.1 520.6,300.1 517.8,300.4 515.1,300.4 512.3,301.5 509.8,301.0 507.4,301.4 504.7,300.4 502.1,300.3 499.6,300.7 497.1,301.1 494.8,302.4 492.3,303.0 489.6,303.1 487.1,304.1 485.4,306.8 483.0,307.9 480.9,309.6 478.6,309.9 477.2,311.9 474.6,311.8 473.3,314.1 471.3,315.1 469.6,317.5 467.3,318.7 465.3,320.5 463.0,321.8 461.0,323.2 458.3,323.2 455.4,322.9 453.6,324.4 450.7,325.1 448.4,326.9 446.3,328.9 445.3,332.0 442.4,332.3 440.4,333.7 438.5,335.5 437.9,339.1 436.1,341.1 434.3,342.0 433.5,344.5 431.1,345.3 428.7,346.5 426.3,348.3 424.2,350.1 421.7,351.9 418.6,352.4 416.1,353.3 413.3,353.7 411.3,355.6 408.2,356.2 406.5,358.6 405.0,360.2 403.8,362.3 401.4,363.1 399.4,364.4 398.3,366.5 396.7,368.2 395.0,369.7 393.2,371.2 392.1,373.3 389.8,374.2 386.8,374.5 385.3,376.2 384.3,378.4 383.4,380.7 382.6,383.2 381.8,385.6 380.1,387.2 377.3,387.6 374.3,387.9 370.5,387.5 368.5,389.4 366.6,391.0 365.2,393.0 364.0,395.5 363.0,398.3 361.7,400.7 359.8,402.6 359.5,405.8 359.1,408.7 357.7,410.8 355.7,412.6 355.0,415.1 352.3,416.5 351.6,418.8 352.7,422.1 351.9,424.4 350.8,426.6 350.7,429.2 349.5,431.3 348.1,433.3 345.9,434.9 343.3,436.3 341.5,438.1 339.9,439.9 337.5,441.8 336.0,444.3 335.7,447.3 334.7,449.7 333.1,451.7 331.4,454.4 331.5,458.3 331.4,461.8 332.2,464.3 334.9,465.8 335.3,468.0 337.3,469.7 338.5,472.1 339.8,474.2 342.0,475.1 343.6,476.8 344.5,479.1 345.7,481.2 346.7,483.2 347.8,485.1 349.0,487.0 350.0,489.0 351.4,490.9 352.4,493.0 352.7,495.3 353.6,497.4 354.9,499.4 354.7,501.8 355.6,503.9 355.8,506.2 357.4,508.1 357.5,510.4 358.2,512.5 357.5,514.8 359.8,517.5 358.6,520.5 357.3,523.3 357.9,526.1 359.4,529.2 359.0,531.9 360.0,533.7 360.2,536.1 361.0,538.2 363.6,538.9 365.8,540.1 367.6,541.8 370.3,541.7 373.1,542.9 375.9,543.5 377.8,542.2 380.1,542.7 382.4,542.7 384.5,542.1 386.7,541.9 388.8,544.3 391.2,544.6 393.8,543.9 396.2,543.3 398.8,543.4 401.1,544.1 403.4,544.9 405.3,546.5 408.3,546.5 409.7,548.5 410.8,551.0 412.4,552.7 414.0,554.3 413.9,557.6 416.0,558.8 416.8,560.9 417.7,562.8 419.8,564.2 421.9,565.5 422.8,567.5 424.7,569.1 425.5,571.4 427.0,573.3 427.7,575.7 428.4,577.8 428.9,580.0 430.5,581.9 431.7,583.9 433.4,585.7 434.4,587.8 435.2,589.9 435.4,592.4 433.1,594.9 432.7,597.4 433.2,600.1 431.7,602.2 430.3,604.4 430.2,607.6 428.3,609.6 426.6,611.5 425.0,613.9 423.2,616.4 420.0,616.1 417.6,617.3 414.6,617.0 412.6,618.2 411.0,619.9 409.2,621.4 407.0,623.1 405.6,625.7 403.6,627.5 401.5,629.2 400.2,631.9 398.5,634.2 396.1,635.5 393.6,636.6 390.5,637.0 388.7,639.1 386.3,640.4 384.0,641.8 381.1,642.3 379.4,644.2 375.8,644.9 373.5,646.9 371.9,651.3 374.0,655.5 376.6,658.0 380.3,658.1 382.8,658.4 385.5,658.4 387.9,659.0 390.1,660.0 392.5,660.7 394.9,661.7 397.5,662.1 399.9,661.5 401.6,658.9 403.8,658.4 405.9,657.7 408.1,657.5 410.7,658.2 413.1,658.1 415.8,659.0 417.9,657.4 420.3,656.9 422.6,654.7 425.2,654.7 427.9,654.8 430.7,655.5 433.2,655.9 435.3,656.6 437.8,655.2 440.3,653.5 442.7,654.2 445.5,652.8 447.5,655.1 449.3,656.7 451.1,658.5 453.1,659.9 455.0,661.0 457.5,661.4 459.8,662.1 462.4,662.3 464.3,664.0 466.4,665.1 469.1,665.5 470.4,668.3 471.7,671.0 474.5,671.2 476.8,673.0 480.0,673.9 483.1,672.0 485.8,671.4 487.9,670.5 489.7,668.5 492.8,668.4 494.8,666.4 496.3,663.8 498.9,662.5 501.5,662.0 501.6,658.8 504.0,657.9 505.9,657.1 508.1,657.1 510.6,656.5 512.7,656.9 514.4,657.6 516.6,658.7 518.8,659.6 521.6,659.5 523.8,661.1 526.4,661.7 528.9,662.7 531.6,663.1 533.9,663.6 536.4,663.6 538.6,664.4 541.0,664.8 542.5,666.9 544.7,667.4 546.6,668.9 548.6,670.0 550.6,671.2 553.0,671.3 555.3,670.8 557.6,670.4 559.6,671.7 561.7,672.6 563.8,673.0 565.8,674.3 567.8,675.6 570.3,674.7 572.6,674.3 575.0,673.3 577.2,673.5 579.2,674.6 581.4,675.2 583.8,674.6 585.6,675.3 588.1,675.4 590.8,675.6 593.5,675.1 596.0,675.8 598.2,676.8 600.4,676.4 602.8,677.2 604.8,675.8 606.9,675.4 609.6,675.4 612.1,674.7 614.7,674.4 617.3,673.8 619.4,672.5 621.2,670.7 623.3,669.5 625.5,668.9 628.2,669.1 631.1,670.4 633.2,671.7 634.4,672.6 636.3,674.1 639.0,674.2 640.6,676.3 643.3,676.3 645.5,677.3 647.9,678.0 649.9,679.3 652.4,679.8 655.1,679.7 657.1,681.1 659.6,682.0 662.3,680.9 664.7,680.8 667.2,682.0 669.8,682.3 672.4,681.7 674.5,680.7 676.6,679.7 679.2,680.1 680.8,677.4 682.5,675.2 684.7,673.9 687.6,673.8 689.3,671.7 692.0,671.0 693.9,669.7 694.5,667.0 695.4,664.6 697.1,662.8 699.1,661.3 701.4,660.2 703.9,659.4 706.1,657.8 708.4,656.5 709.6,653.5 711.0,650.9 712.3,648.1 714.7,646.8 716.1,644.2 718.6,643.1 720.6,641.3 723.7,640.8 725.6,638.9 727.9,637.6 729.6,635.7 732.9,635.2 734.9,633.4 737.9,632.5 741.5,631.7 742.0,628.6 743.5,626.4 744.5,624.0 745.3,621.8 746.2,619.4 747.6,617.4 749.3,615.9 751.4,614.7 754.4,614.7 756.9,614.0 758.7,612.2 760.9,611.0 762.4,608.6 763.7,606.3 765.2,604.3 766.9,602.6 768.1,600.3 769.7,598.6 772.7,598.3 774.4,596.2 776.8,594.8 779.3,593.8 781.0,592.4 782.5,590.7 784.5,589.4 786.7,588.4 789.3,587.9 790.0,585.2 790.7,582.5 792.9,581.2 795.4,580.2 797.4,578.5 799.3,576.6 801.9,576.0 803.9,574.4 805.7,572.5 808.1,571.3 810.8,571.4 812.8,570.3 814.8,569.1 816.8,568.0 819.6,569.0 821.5,567.5 823.4,566.0 825.8,566.0 828.4,566.6" stroke="#22a884"/><path d="M416.5,407.0 418.9,405.1 419.1,402.5 420.0,400.2 421.0,397.9 422.1,395.7 421.6,392.6 423.5,390.6 424.9,388.5 426.1,386.3 427.0,383.9 428.3,381.8 430.3,380.0 432.3,378.2 433.1,375.5 435.7,374.3 437.4,372.3 437.5,369.2 439.5,367.4 442.1,366.2 443.3,363.8 444.8,361.7 446.4,359.7 448.0,357.8 449.7,355.6 452.2,354.4 454.8,353.5 457.2,352.4 460.0,351.9 462.1,350.5 464.8,350.0 466.2,348.0 468.2,346.9 469.1,344.0 471.2,343.1 473.2,342.1 474.2,339.2 475.8,336.9 478.9,337.4 480.9,336.1 482.9,334.7 485.4,334.6 488.0,334.6 489.9,333.0 492.3,332.3 494.5,331.4 496.8,331.0 498.9,330.1 500.8,328.4 502.9,327.4 505.6,328.6 507.6,326.6 510.1,327.0 512.4,327.1 515.0,328.3 517.0,327.0 519.4,327.6 521.6,326.9 524.0,327.7 526.5,327.4 528.9,327.1 530.8,325.3 533.1,324.6 535.2,323.1 537.7,323.2 540.3,322.5 542.5,320.8 544.8,319.7 547.4,318.9 550.0,318.4 551.7,316.0 554.2,315.7 557.2,316.9 559.6,316.5 561.5,314.6 564.1,314.6 566.4,314.3 568.0,311.8 570.1,310.8 572.3,310.1 574.4,309.1 576.2,307.2 578.4,306.2 580.6,305.3 582.8,305.0 584.9,304.0 587.4,304.4 589.7,304.4 591.8,303.6 594.5,304.7 596.7,304.2 598.7,302.8 600.7,301.5 602.7,300.3 604.6,298.3 606.8,297.9 609.4,298.3 611.8,299.2 614.2,300.0 616.5,300.7 618.9,301.7 620.9,300.1 623.3,301.4 625.5,301.6 627.7,302.1 629.8,300.4 632.1,301.6 634.3,301.7 636.5,302.3 638.7,302.8 640.8,302.3 643.3,300.4 645.9,300.1 648.5,300.0 651.0,300.3 653.6,299.9 656.1,300.6 658.3,300.1 660.6,298.9 662.8,298.8 665.0,299.3 667.2,298.1 669.5,297.7 671.7,297.4 674.0,296.7 676.2,297.1 678.4,296.9 680.6,297.3 682.7,298.6 684.9,299.0 687.2,298.7 689.3,300.2 691.5,300.4 693.7,300.3 695.9,301.0 698.2,299.8 700.5,298.9 702.4,299.3 704.8,300.1 707.4,300.2 710.0,301.4 712.5,301.0 715.1,301.6 717.6,301.4 719.8,301.7 722.0,301.1 724.3,301.6 726.5,301.4 728.5,299.9 730.7,299.4 733.1,297.9 735.9,297.7 738.0,299.3 739.9,302.0 742.2,302.5 744.5,302.9 746.1,304.9 748.3,305.1 750.9,305.3 752.1,307.9 754.8,307.9 756.8,309.1 758.0,311.0 757.8,313.6 759.0,315.8 761.2,317.2 762.6,319.2 764.8,320.6 767.4,321.7 769.0,323.8 769.3,326.3 770.9,328.5 771.9,330.8 771.1,333.6 771.8,336.0 772.8,338.4 771.8,340.9 771.0,343.3 772.1,345.8 772.5,348.2 772.2,350.7 772.5,353.3 771.4,355.5 770.4,357.6 768.4,359.2 766.6,360.9 764.6,362.4 763.6,364.9 763.5,367.6 764.6,370.0 765.7,372.4 764.5,374.6 765.9,376.7 766.8,378.5 766.8,381.1 766.9,383.6 768.7,385.4 767.6,388.4 767.5,391.0 768.1,393.3 769.6,395.2 770.2,397.5 772.9,398.9 774.2,400.9 776.0,402.6 776.3,405.1 778.0,406.9 777.4,409.7 777.2,412.1 777.8,414.3 779.4,416.2 781.0,418.0 781.8,420.1 783.6,422.0 784.4,424.1 785.0,426.2 785.4,428.4 786.7,430.3 788.4,431.8 790.3,433.4 790.6,435.7 790.6,438.1 791.5,440.0 791.0,442.8 791.3,445.2 793.6,446.4 794.5,448.4 794.9,450.7 795.7,452.7 796.8,454.8 796.7,457.4 798.8,459.1 799.5,461.2 800.0,463.6 800.4,466.1 800.9,468.6 800.7,471.2 801.3,473.4 801.7,475.5 801.8,478.0 801.3,480.5 800.8,482.9 802.2,485.2 801.7,487.5 800.7,489.8 800.2,492.3 800.9,495.1 799.4,497.3 799.6,499.9 799.2,502.3 797.8,504.4 796.0,506.4 795.2,508.6 793.7,510.4 793.8,513.0 792.2,514.9 792.0,517.3 790.8,519.3 790.0,521.5 788.6,523.5 788.8,526.1 787.0,527.9 787.4,530.6 786.3,532.7 786.9,535.5 786.0,537.7 785.8,540.1 783.1,541.6 782.9,544.3 781.3,546.2 779.2,547.9 778.4,550.3 778.2,553.1 777.0,555.0 775.1,556.4 773.8,558.2 773.2,560.5 771.7,562.1 769.6,563.4 768.8,565.6 767.9,567.9 765.9,569.2 764.5,571.0 764.6,574.0 763.4,576.0 760.8,577.0 759.5,579.0 758.5,581.3 757.1,583.2 755.0,584.4 753.4,586.3 752.1,588.5 750.2,589.9 748.4,591.4 745.6,592.0 744.1,593.8 742.1,595.2 740.5,597.0 738.4,598.2 737.0,600.2 734.9,601.4 732.9,602.7 731.9,605.0 729.8,606.6 727.7,608.1 726.0,610.1 724.3,612.2 722.5,614.0 720.9,615.7 718.3,616.6 717.7,619.2 715.3,620.4 714.5,622.8 713.1,624.8 712.8,627.5 710.5,628.8 710.2,631.6 708.1,633.1 706.6,635.0 705.1,637.0 705.4,640.0 703.4,641.7 701.1,643.4 699.5,645.2 697.4,646.2 694.8,646.7 693.1,648.2 691.8,650.5 688.9,649.8 686.5,650.8 683.9,650.9 681.4,651.3 679.0,652.0 677.1,654.9 674.9,656.7 672.4,657.1 669.8,657.4 667.4,658.2 664.8,658.0 661.9,657.2 659.0,656.0 656.2,655.3 653.5,655.4 651.5,657.3 649.0,657.2 647.0,658.4 645.2,660.0 642.8,660.7 639.8,660.8 637.4,661.6 634.7,662.1 633.6,662.2 632.4,663.8 630.0,662.1 629.0,662.7 627.8,661.9 624.8,660.9 622.2,658.7 618.9,658.2 616.0,657.5 613.6,655.4 610.9,656.0 608.5,656.2 606.2,655.4 603.8,654.9 601.9,657.3 599.6,658.1 597.5,659.3 596.0,660.9 594.2,661.1 591.8,661.5 590.0,662.7 587.1,662.5 584.5,662.2 582.8,664.1 580.3,664.6 577.9,665.5 575.8,666.4 573.5,665.9 571.3,666.8 568.9,667.1 566.6,667.8 564.3,669.0 561.8,669.2 559.1,668.8 556.9,670.5 554.9,672.4 552.2,672.8 550.1,674.5 547.8,674.4 546.2,673.6 543.8,672.5 541.5,672.6 540.5,671.8 539.1,671.4 537.0,669.8 534.2,669.7 531.3,670.2 528.9,669.4 526.5,668.2 524.3,666.8 522.0,665.6 520.5,663.3 518.0,662.0 516.3,659.8 513.5,658.9 512.3,656.6 510.2,655.4 508.4,654.0 506.0,653.3 503.6,652.1 500.9,651.3 498.5,649.4 495.4,647.7 492.5,647.2 489.6,649.2 487.0,650.6 485.2,652.7 483.3,654.6 481.0,656.2 478.7,656.9 476.3,657.1 473.8,656.5 471.5,656.3 469.4,655.3 467.3,654.0 465.2,652.4 462.7,652.6 459.9,652.7 457.2,652.6 454.4,653.3 451.6,653.2 449.0,654.5 446.6,653.5 444.0,654.2 441.5,654.4 439.0,656.0 436.9,656.4 434.6,656.4 432.3,655.7 430.0,654.8 427.7,652.9 425.4,652.1 423.1,651.4 421.0,652.9 418.8,653.0 416.7,654.6 414.6,655.6 412.4,655.2 410.0,654.3 407.4,654.2 404.9,652.1 402.3,651.7 399.5,653.4 396.6,655.0 394.6,653.1 392.1,653.7 390.2,652.2 388.5,650.0 386.3,649.6 383.7,648.9 381.2,648.1 378.0,647.4 376.6,644.6 374.5,641.7 375.0,637.8 377.4,635.4 380.1,634.3 380.9,631.3 384.0,631.3 386.6,630.6 388.6,629.7 390.6,628.7 392.1,627.0 394.1,626.0 395.3,623.6 397.7,622.9 399.0,620.1 401.1,618.8 403.2,617.5 405.7,616.7 407.5,615.0 410.2,615.2 412.6,614.8 414.9,614.3 416.7,612.5 419.4,613.6 421.6,613.0 424.2,614.2 426.4,613.8 427.9,613.5 430.1,614.7 433.0,614.3 435.0,613.8 436.0,615.2 437.2,618.0 440.4,619.2 443.4,619.6 446.0,618.9 447.9,620.1 450.5,619.2 452.9,619.6 455.3,618.6 457.6,618.1 459.8,617.5 462.1,617.0 464.4,616.4 466.5,616.9 468.4,617.8 471.0,616.5 473.9,617.0 476.4,618.6 477.1,616.4 475.4,615.2 473.3,613.2 470.5,614.3 468.2,613.6 466.4,611.8 464.8,609.7 462.8,608.2 460.3,607.5 457.3,607.6 454.3,607.8 451.9,606.6 450.9,603.6 449.9,600.9 448.4,599.1 447.0,597.6 445.3,595.7 442.2,594.4 440.3,592.1 439.3,589.5 439.6,587.1 438.8,584.9 439.5,582.5 438.5,579.8 437.7,577.0 436.8,574.1 434.4,572.2 432.6,570.0 430.2,568.3 429.0,566.3 427.3,564.6 427.1,561.9 425.8,560.1 425.6,557.4 423.5,555.5 423.1,552.9 422.0,550.5 420.9,548.4 418.4,547.0 418.2,544.4 415.6,543.0 412.9,541.6 412.8,539.1 411.1,537.4 409.6,535.6 408.8,533.4 408.8,530.8 406.6,529.5 405.4,527.7 403.5,526.2 403.0,523.9 402.3,522.1 399.7,520.0 398.4,520.7 396.5,521.8 394.9,522.0 393.9,524.7 391.9,525.8 389.6,526.1 386.9,526.8 384.9,529.0 382.3,529.9 380.4,531.5 378.7,533.5 375.6,535.4 371.9,535.4 367.9,535.2 365.3,531.7 362.5,529.4 360.8,527.2 360.6,524.5 358.5,522.7 356.5,520.3 356.5,517.3 356.1,514.2 354.5,511.3 353.9,508.5 354.0,505.3 355.5,502.8 355.6,500.4 356.9,498.3 358.3,496.2 357.5,493.7 355.6,491.4 355.7,489.0 353.6,487.7 351.7,486.0 350.2,484.1 348.1,482.4 346.1,480.3 344.0,478.6 342.4,476.9 339.9,476.1 338.2,474.3 336.1,472.3 334.9,469.5 334.6,466.5 333.1,464.2 333.3,460.7 331.0,457.4 333.1,454.8 335.3,452.2 338.5,452.5 340.8,451.9 343.1,453.0 345.5,453.1 348.0,454.5 350.6,454.1 352.9,455.6 355.6,455.0 357.9,455.3 360.4,455.0 362.3,456.4 364.5,456.7 366.5,457.9 368.6,460.0 371.1,460.6 373.6,461.2 376.3,460.8 378.7,460.2 381.3,459.4 383.2,461.7 385.3,461.3 387.9,462.3 390.6,462.7 393.9,463.4 396.2,461.4 398.3,460.0 400.5,458.5 402.1,456.0 403.3,453.2 404.4,450.4 407.2,449.2 408.6,446.5 411.3,445.2 412.1,442.8 412.8,440.2 412.8,437.4 413.4,435.1 413.5,433.0 414.9,430.7 414.9,428.4 414.1,426.1 412.6,423.7 412.6,421.1 413.5,418.6 413.6,416.2 414.4,414.0 414.5,411.6 416.1,409.5Z" stroke="#2a788e"/><path d="M584.6,327.4 586.6,329.9 587.6,332.7 590.6,332.5 592.6,334.0 595.2,334.2 597.7,335.6 600.3,335.8 602.7,335.3 604.7,333.6 607.0,333.7 609.2,332.9 611.5,332.3 613.8,332.4 616.0,333.6 618.2,334.5 620.3,335.8 622.6,336.3 624.4,338.4 626.8,338.5 629.4,338.3 632.0,338.2 634.2,339.2 637.3,338.1 639.7,338.9 641.8,340.3 643.8,342.0 645.9,344.0 648.3,345.2 651.0,345.6 653.0,347.9 655.1,349.0 657.7,348.5 659.9,349.2 662.5,348.7 664.8,348.2 667.0,347.0 669.6,348.0 672.0,347.5 674.4,348.3 676.7,347.7 679.2,346.9 681.5,345.7 683.2,342.8 686.0,341.4 689.0,341.1 692.0,340.5 694.9,339.8 697.4,340.9 700.0,342.1 701.6,344.2 704.1,344.1 705.5,345.8 706.7,347.6 708.5,349.2 709.4,351.1 708.5,353.2 710.9,355.0 710.2,356.9 710.0,359.1 708.9,361.6 710.3,364.6 709.2,367.4 709.8,369.9 709.8,372.8 712.3,375.0 713.4,377.5 715.5,379.9 714.8,383.2 713.6,386.0 710.7,387.6 708.7,390.1 707.2,391.8 705.1,392.8 703.2,394.3 700.8,395.9 698.2,396.3 695.7,395.8 694.2,397.3 694.6,399.3 695.7,400.5 696.4,402.7 696.7,405.0 699.5,405.6 699.9,408.4 700.8,410.7 702.9,412.2 705.1,413.6 707.3,415.0 710.1,416.6 712.4,418.5 714.8,420.7 715.7,423.5 716.0,426.2 716.1,429.1 716.7,431.6 716.8,433.9 717.4,436.2 716.8,438.7 716.4,440.8 715.5,442.7 714.0,444.8 714.1,447.2 713.9,449.9 714.5,453.1 715.6,455.8 716.5,458.8 717.1,461.7 718.5,464.1 718.3,467.1 719.7,469.6 719.4,472.7 719.4,475.6 721.0,478.0 723.7,479.9 724.1,482.1 723.9,484.4 724.8,487.2 725.0,489.7 724.9,491.9 724.4,494.3 723.4,496.5 723.2,499.0 719.9,500.3 718.5,502.4 718.5,505.1 717.3,507.2 716.2,509.4 716.8,512.6 716.6,515.4 714.8,517.4 714.5,520.1 712.7,521.9 709.6,522.9 708.2,524.9 706.7,526.7 706.1,529.3 704.4,531.1 703.6,533.6 702.4,535.6 700.7,537.3 697.7,537.7 697.0,540.1 694.8,542.0 692.9,544.2 692.0,547.3 691.3,549.8 690.1,552.1 688.7,554.2 689.3,556.8 687.9,559.2 687.7,562.2 686.3,564.5 685.0,566.5 682.4,567.8 680.4,569.4 677.4,569.7 674.6,569.9 672.4,571.0 670.8,573.6 668.4,574.5 666.6,577.1 664.6,579.5 661.9,579.9 660.0,582.0 657.3,582.8 654.3,583.4 651.9,585.2 651.5,589.0 648.5,590.1 646.9,592.3 644.9,594.2 642.6,595.8 639.8,596.3 637.9,598.1 635.4,598.8 633.5,600.5 631.9,603.1 629.5,604.2 627.1,605.8 624.8,607.3 621.8,608.2 618.9,606.6 616.3,607.7 613.6,606.6 611.0,605.1 608.5,604.0 605.6,603.5 603.7,601.8 601.9,600.3 599.5,599.6 596.9,597.9 595.1,595.6 592.9,593.6 590.0,594.5 586.8,594.2 583.8,595.4 581.6,596.2 579.3,596.3 576.9,596.2 574.2,596.7 571.9,594.5 569.4,593.7 567.1,593.7 564.8,593.2 562.5,593.0 558.9,593.1 556.3,590.9 553.5,589.4 551.6,586.7 549.5,584.3 547.8,581.3 545.9,579.7 544.1,578.2 542.2,576.7 540.5,574.6 538.2,573.3 536.0,572.0 534.5,569.8 531.5,569.5 529.1,568.4 526.6,567.4 524.7,565.8 523.0,563.9 521.9,561.9 520.5,559.9 520.3,557.5 518.7,556.2 517.7,554.1 517.1,552.3 516.3,549.6 515.4,546.9 516.9,544.2 515.5,540.7 515.3,537.6 515.4,533.9 511.8,532.2 509.1,530.3 506.9,528.1 503.8,529.5 500.6,529.5 497.8,531.0 494.8,532.4 491.7,532.9 488.5,532.5 485.3,533.3 482.6,530.6 479.9,529.4 478.0,528.6 475.4,528.2 473.0,527.5 471.0,526.3 469.5,524.5 467.7,523.1 465.4,520.7 463.2,518.3 461.5,516.7 461.1,513.9 459.3,512.4 458.3,510.0 457.0,507.8 454.0,506.8 453.1,504.1 451.8,501.5 449.9,499.3 447.8,497.4 448.0,494.8 446.5,492.7 446.8,490.0 446.0,487.8 446.2,485.3 446.1,482.9 445.0,480.7 443.6,478.6 443.5,476.2 443.0,473.9 441.4,471.8 441.8,469.4 442.0,467.0 442.8,464.5 441.8,462.3 443.1,459.9 444.2,457.5 443.9,455.2 442.9,453.0 443.2,450.8 444.0,448.5 443.9,446.2 443.2,443.9 443.4,441.7 443.5,439.4 442.7,437.0 442.9,434.8 442.7,431.8 442.7,428.9 442.3,425.7 443.9,423.2 444.6,420.5 446.3,418.1 448.0,415.8 450.1,414.0 451.7,411.6 453.7,410.3 455.3,408.6 457.0,407.1 459.6,406.9 462.0,406.5 464.2,406.0 466.6,405.8 468.8,405.4 470.7,403.5 473.1,403.1 475.1,401.4 477.4,399.8 480.4,400.4 483.3,400.8 486.3,399.4 489.2,399.9 491.5,401.7 494.5,401.8 496.7,404.1 499.1,406.1 499.6,409.1 501.2,410.7 504.2,411.9 506.7,412.0 509.9,411.6 513.1,412.0 516.0,413.4 519.2,413.2 522.1,414.7 525.9,413.7 529.0,414.8 531.0,416.2 532.9,417.6 534.7,418.4 536.9,418.4 539.1,417.6 540.1,415.6 540.5,413.2 540.8,410.9 541.8,408.8 543.3,406.7 545.3,404.8 547.4,402.5 547.5,399.9 546.4,397.0 545.4,394.1 545.6,391.5 544.3,388.5 545.3,386.1 546.7,383.7 548.3,381.3 548.8,378.4 551.1,376.3 552.2,373.8 552.4,371.3 553.6,369.4 553.5,366.7 554.6,364.8 554.9,362.3 556.9,360.9 559.2,359.7 560.5,357.8 561.2,355.6 562.6,353.9 564.1,352.1 565.8,350.6 567.5,348.5 568.7,346.2 570.2,343.9 572.2,342.4 571.4,339.4 572.1,337.1 574.4,335.0 574.7,331.7 575.8,329.3 578.9,328.2 581.7,326.7Z" stroke="#3b528b"/><path d="M603.8,369.6 606.3,369.0 608.5,369.6 610.8,370.2 613.2,370.1 616.1,370.9 618.9,371.5 622.1,371.5 624.9,372.2 627.5,373.0 630.2,374.3 632.5,376.2 634.2,378.6 635.3,381.8 636.6,384.5 638.7,386.4 640.2,389.1 642.2,391.2 645.6,391.8 646.7,394.9 649.3,396.3 652.2,397.6 655.2,398.6 656.0,401.6 658.0,403.5 660.4,405.1 662.1,407.0 663.8,408.9 664.5,411.6 664.5,414.8 666.8,416.6 668.0,418.9 668.2,422.0 669.0,424.8 670.7,426.9 670.9,429.7 670.2,432.9 671.8,435.2 673.2,437.1 674.2,439.3 676.2,441.5 675.5,443.9 675.2,446.3 675.5,448.6 675.9,450.9 675.6,453.3 674.7,455.8 675.8,458.0 674.5,460.6 676.2,462.5 677.1,464.7 679.1,466.9 680.3,469.2 682.0,471.6 683.0,474.2 683.5,476.6 684.1,478.9 683.9,481.5 683.3,484.0 683.1,486.4 682.8,488.7 682.1,491.2 680.7,493.5 679.6,495.7 678.3,497.8 676.2,499.7 676.2,502.1 678.1,504.8 678.9,507.4 679.2,509.8 679.4,512.0 677.1,514.0 675.0,516.0 674.6,518.6 672.1,521.1 668.6,523.1 667.2,525.7 667.4,528.7 665.3,530.8 664.9,533.6 664.4,536.1 664.0,538.7 661.3,539.8 658.7,541.7 656.4,544.0 654.8,545.4 652.7,546.2 651.5,548.3 649.7,550.0 646.9,549.4 644.8,550.2 642.4,553.0 639.3,554.2 636.3,555.2 633.2,556.4 630.0,555.6 627.0,555.1 623.9,554.2 620.8,553.5 617.7,554.5 615.2,556.8 614.3,559.1 612.2,560.1 609.6,559.8 607.0,561.5 604.0,562.2 600.8,562.3 598.5,563.9 596.0,565.5 593.0,565.8 589.6,565.3 586.8,564.4 583.8,563.4 581.1,564.9 578.7,564.9 577.0,566.7 575.4,568.4 574.3,571.0 572.4,572.5 570.9,574.4 567.7,574.0 565.5,575.4 562.7,576.1 559.5,575.9 556.9,576.2 554.4,576.7 552.6,575.2 552.0,571.6 552.0,569.2 553.1,567.2 554.6,565.4 555.8,563.5 557.0,561.7 559.4,560.8 562.5,559.4 564.6,556.3 563.6,552.6 563.8,550.0 562.2,547.3 561.2,544.5 559.2,542.3 558.9,539.5 557.8,537.1 556.6,535.4 553.5,534.8 552.4,535.6 551.1,535.4 550.2,538.0 551.2,540.1 553.1,543.8 551.1,547.6 550.5,551.3 548.5,553.8 547.8,556.5 545.1,558.5 542.8,560.8 540.4,561.1 537.7,562.6 534.4,561.0 531.8,560.9 528.9,560.4 527.2,557.3 526.0,555.2 525.3,552.7 524.8,549.9 525.7,547.2 526.4,544.5 526.3,542.5 526.7,540.2 528.2,538.1 528.2,535.5 528.1,533.2 528.8,530.7 529.8,527.7 528.1,525.3 527.2,523.0 528.3,521.0 528.5,518.7 529.1,516.8 531.1,515.7 534.0,514.5 533.1,510.7 531.2,507.3 530.4,504.5 528.9,502.0 525.7,500.6 525.8,497.3 525.5,494.3 524.7,491.3 522.5,488.5 523.6,486.1 522.4,483.5 522.1,480.6 522.4,477.6 522.9,475.3 525.5,474.2 527.7,473.4 528.8,470.7 529.4,467.8 528.9,465.1 526.4,463.2 527.1,460.7 526.7,457.9 529.3,455.4 530.7,452.3 532.8,449.8 535.1,447.4 537.5,445.2 539.0,443.1 538.4,440.6 538.9,438.3 538.6,436.7 537.7,434.2 538.8,430.9 540.2,428.3 541.6,426.1 540.9,423.4 542.4,421.3 542.8,419.0 545.4,417.7 546.5,415.6 548.1,413.7 549.2,411.5 552.3,410.7 552.3,407.5 552.9,404.7 553.6,402.0 554.7,399.6 555.6,397.1 557.6,395.4 560.6,394.4 562.6,392.7 565.6,391.7 566.7,389.0 569.1,387.5 570.2,384.6 573.0,383.2 575.1,381.3 578.0,381.1 578.9,378.5 581.3,377.9 582.8,375.4 585.0,373.8 587.2,371.6 590.0,370.8 593.2,370.3 596.3,370.5 598.7,368.8 601.3,368.9Z" stroke="#46337e"/><path d="M473.3,423.4 476.1,422.2 479.4,422.7 481.9,423.2 484.5,422.4 487.1,421.7 489.8,422.3 492.3,423.8 493.8,426.2 495.3,429.4 494.9,432.0 497.7,434.5 500.0,434.2 502.3,433.6 504.5,432.9 507.3,433.3 509.2,432.0 511.1,430.7 513.1,429.4 514.7,427.6 516.2,425.8 518.8,427.2 521.0,427.2 523.3,427.7 524.4,429.8 523.7,431.8 524.5,433.1 525.2,435.7 524.7,438.7 523.2,441.1 522.7,444.0 521.1,446.1 520.6,449.0 517.2,447.7 515.9,446.5 513.1,443.7 509.8,446.3 507.3,446.9 505.9,450.5 503.7,452.6 504.9,455.0 503.4,457.6 504.9,459.5 504.6,463.0 505.9,465.1 507.0,467.1 509.7,468.3 509.4,471.2 510.4,473.1 512.9,474.4 513.9,476.5 514.2,478.9 516.4,480.4 516.9,482.7 517.7,484.9 518.2,487.2 520.5,488.5 520.7,491.2 520.1,493.7 519.9,495.9 519.6,498.2 517.1,498.8 515.4,499.9 513.0,501.8 510.0,503.3 507.1,501.6 503.6,503.1 501.3,502.3 499.2,501.4 497.6,499.8 494.6,499.0 491.4,498.8 490.0,501.3 487.0,500.5 485.2,501.2 482.9,502.9 480.2,502.4 479.6,499.0 477.2,497.3 475.2,494.8 475.5,491.0 474.1,489.2 472.5,487.4 471.5,485.4 469.3,483.6 466.0,482.3 463.4,480.6 461.8,478.2 463.1,474.7 462.5,471.4 463.6,468.5 464.8,466.2 465.6,463.9 465.6,461.4 467.0,459.5 466.8,457.2 467.2,455.2 467.3,452.9 468.9,450.8 467.3,448.5 467.1,445.9 465.3,443.3 465.2,440.5 464.6,437.9 464.7,435.1 465.9,432.4 466.8,429.9 467.9,427.0 471.4,425.6Z" stroke="#46337e"/><path d="M567.8,546.0 566.7,546.3 565.9,546.2 565.3,545.7 564.9,544.8 564.7,543.6 564.4,542.4 564.1,541.2 563.6,540.0 563.0,538.9 562.8,537.9 563.0,537.0 563.5,536.3 564.5,535.6 565.5,535.3 566.4,535.2 567.3,535.3 568.1,535.7 569.0,536.0 569.9,536.1 570.9,536.2 572.0,536.1 572.7,536.4 573.1,536.9 573.2,537.7 573.0,538.8 572.9,539.9 572.9,541.1 573.1,542.3 573.4,543.5 573.3,544.5 572.9,545.1 572.1,545.5 571.1,545.5 570.0,545.7 568.9,545.8Z" stroke="#46337e"/><path d="M594.1,484.7 594.0,484.3 593.8,483.9 593.7,483.5 593.5,483.1 593.3,482.8 593.1,482.3 593.0,481.8 592.9,481.2 592.8,480.5 593.0,480.0 593.4,479.6 593.9,479.5 594.6,479.6 595.3,479.7 596.0,479.9 596.6,480.1 597.2,480.4 597.7,480.8 598.1,481.3 598.4,481.8 598.6,482.4 598.6,482.9 598.5,483.3 598.2,483.7 597.8,484.0 597.5,484.3 597.1,484.8 596.9,485.2 596.7,485.7 596.4,486.1 596.0,486.2 595.6,486.1 595.0,485.8 594.6,485.5 594.3,485.1Z" stroke="#46337e"/><path d="M547.2,497.9 548.2,497.3 549.2,496.5 550.0,495.7 550.7,494.8 551.3,493.8 552.2,493.1 553.3,492.7 554.6,492.6 556.2,492.9 557.5,493.3 558.4,493.9 558.9,494.6 559.1,495.5 559.5,496.3 560.2,497.1 561.1,497.8 562.2,498.5 562.7,499.2 562.6,499.9 562.0,500.6 560.9,501.3 559.6,502.0 558.3,502.5 556.9,503.0 555.4,503.5 554.0,503.7 552.7,503.6 551.4,503.2 550.3,502.6 549.3,502.0 548.3,501.3 547.5,500.6 546.7,499.9 546.4,499.2 546.5,498.6Z" stroke="#46337e"/><path d="M536.1,501.1 536.0,501.5 535.7,501.7 535.4,501.6 535.0,501.3 534.4,500.8 533.9,500.3 533.3,500.0 532.8,499.8 532.3,499.7 531.8,499.5 531.3,499.2 530.9,498.8 530.5,498.3 530.3,497.9 530.4,497.6 530.7,497.3 531.2,497.2 531.6,497.1 532.1,496.9 532.5,496.8 532.8,496.6 533.2,496.6 533.6,496.7 534.1,496.9 534.5,497.2 535.0,497.6 535.5,498.0 536.1,498.3 536.7,498.7 537.1,499.0 537.2,499.4 537.1,499.7 536.8,500.0 536.5,500.3 536.3,500.7Z" stroke="#46337e"/><path d="M588.6,517.1 588.2,516.4 587.9,515.7 587.6,515.1 587.4,514.4 587.2,513.8 587.0,513.1 586.7,512.3 586.5,511.5 586.1,510.5 586.0,509.8 586.2,509.3 586.6,509.1 587.2,509.1 587.7,509.1 588.2,509.0 588.6,508.9 589.0,508.8 589.4,508.7 589.9,508.6 590.4,508.6 591.1,508.6 591.5,508.8 591.6,509.3 591.5,510.1 591.1,511.1 590.9,512.1 590.9,513.2 591.0,514.4 591.3,515.6 591.4,516.6 591.2,517.3 590.8,517.7 590.2,517.9 589.6,517.8 589.1,517.5Z" stroke="#46337e"/><path d="M560.5,515.0 560.2,514.6 560.2,514.2 560.4,513.9 560.9,513.7 561.8,513.4 562.6,513.1 563.3,512.7 564.1,512.1 564.8,511.4 565.4,511.0 566.0,510.8 566.6,511.0 567.1,511.4 567.6,511.9 568.3,512.3 569.1,512.7 569.9,513.0 570.3,513.5 570.2,514.0 569.6,514.5 568.6,515.1 567.7,515.8 566.8,516.6 566.1,517.4 565.4,518.3 564.7,518.8 563.9,519.1 563.2,518.9 562.3,518.4 561.7,518.0 561.3,517.5 561.1,516.9 561.0,516.4 560.9,515.9 560.8,515.4Z" stroke="#46337e"/><path d="M544.0,559.4 543.3,559.3 542.7,559.3 542.2,559.2 541.7,559.0 541.4,558.9 541.0,558.7 540.7,558.5 540.5,558.3 540.2,558.1 539.9,557.8 539.5,557.5 539.0,557.1 538.3,556.6 538.0,556.2 537.8,555.7 537.9,555.2 538.3,554.8 538.7,554.5 539.2,554.5 539.8,554.6 540.4,555.0 541.1,555.2 541.7,555.3 542.4,555.1 543.1,554.8 543.7,554.8 544.2,554.9 544.6,555.4 544.9,556.0 545.1,556.7 545.2,557.3 545.2,557.9 545.1,558.5 544.9,559.0 544.5,559.3Z" stroke="#46337e"/><path d="M545.5,541.4 545.4,542.2 545.1,542.6 544.5,542.6 543.7,542.3 542.8,541.6 541.8,541.1 540.8,540.8 539.9,540.7 538.9,540.9 538.3,540.8 538.0,540.5 538.1,540.0 538.5,539.3 538.7,538.7 538.8,538.1 538.7,537.4 538.5,536.9 538.4,536.4 538.6,535.9 539.0,535.6 539.6,535.2 540.2,535.1 540.8,535.1 541.4,535.4 542.1,535.7 542.9,536.1 543.7,536.4 544.6,536.7 545.6,537.0 546.2,537.4 546.6,537.9 546.6,538.5 546.2,539.2 545.9,539.9 545.7,540.6Z" stroke="#46337e"/><path d="M598.6,591.4 597.9,591.1 597.3,590.8 596.8,590.5 596.3,590.0 595.8,589.5 595.5,589.0 595.4,588.5 595.5,587.9 595.7,587.3 596.0,586.6 596.3,586.0 596.6,585.3 597.0,584.6 597.4,584.2 598.0,584.0 598.7,584.0 599.4,584.2 600.1,584.6 600.5,585.0 600.7,585.5 600.8,586.2 601.0,586.7 601.3,587.2 601.7,587.6 602.1,587.9 602.4,588.3 602.5,588.6 602.4,589.1 602.1,589.5 601.7,589.9 601.3,590.3 600.8,590.8 600.3,591.1 599.8,591.4 599.2,591.5Z" stroke="#46337e"/><path d="M587.2,524.8 586.8,525.0 586.4,525.1 586.0,524.9 585.7,524.7 585.5,524.2 585.4,523.8 585.4,523.4 585.6,523.0 586.0,522.6 586.3,522.2 586.4,521.8 586.5,521.3 586.4,520.7 586.5,520.3 586.7,520.0 587.0,519.9 587.4,520.0 587.9,520.1 588.4,520.2 588.9,520.2 589.4,520.3 589.8,520.6 590.1,520.9 590.2,521.4 590.3,522.0 590.3,522.5 590.1,523.0 589.9,523.4 589.6,523.8 589.3,524.0 589.0,524.2 588.7,524.3 588.3,524.4 588.0,524.4 587.6,524.6Z" stroke="#46337e"/><path d="M531.6,535.4 530.8,535.2 530.0,535.1 529.3,535.1 528.7,535.3 528.2,535.5 527.8,535.5 527.5,535.3 527.2,534.9 527.1,534.3 527.0,533.8 526.8,533.4 526.7,532.9 526.5,532.6 526.4,532.1 526.2,531.6 526.1,531.1 526.1,530.4 526.2,529.9 526.5,529.5 526.9,529.3 527.6,529.3 528.2,529.4 528.8,529.6 529.3,530.0 529.7,530.4 530.1,530.9 530.3,531.3 530.5,531.7 530.6,532.1 530.8,532.6 531.2,533.2 531.6,533.8 532.1,534.5 532.3,535.0 532.1,535.3Z" stroke="#46337e"/><path d="M526.7,538.9 526.6,537.5 526.5,536.1 526.4,534.9 526.3,533.7 526.3,532.6 526.5,531.5 526.9,530.6 527.6,529.7 528.5,529.0 529.5,528.2 530.5,527.4 531.7,526.7 532.9,525.9 534.1,525.6 535.1,525.8 536.0,526.4 536.7,527.5 537.3,528.7 537.8,529.8 538.1,530.9 538.3,532.1 538.2,533.1 537.8,534.0 537.2,534.8 536.4,535.5 535.6,536.3 534.8,537.1 534.1,538.0 533.4,538.9 532.6,539.7 531.6,540.2 530.4,540.6 529.0,540.7 527.9,540.5 527.2,539.9Z" stroke="#46337e"/><path d="M583.4,530.6 582.3,530.8 581.0,530.9 579.7,531.0 578.3,531.0 576.9,530.9 575.9,530.4 575.4,529.6 575.4,528.4 575.8,526.8 576.1,525.3 576.0,524.0 575.7,522.8 575.2,521.7 575.1,520.8 575.3,520.2 576.0,519.8 577.0,519.7 578.0,519.4 579.0,519.1 580.0,518.6 581.0,518.1 581.8,518.0 582.4,518.4 582.9,519.2 583.1,520.6 583.6,521.8 584.4,523.0 585.5,524.1 586.8,525.1 587.6,526.1 587.8,527.1 587.5,528.0 586.5,528.9 585.5,529.6 584.5,530.2Z" stroke="#46337e"/><path d="M581.8,575.8 582.1,574.3 582.4,572.8 582.8,571.5 583.1,570.2 583.5,569.2 583.9,567.8 584.4,566.3 585.1,564.5 585.8,562.5 586.7,560.9 587.9,559.7 589.4,558.9 591.1,558.5 592.3,558.8 592.9,559.7 592.9,561.2 592.5,563.3 592.4,565.0 592.6,566.3 593.3,567.2 594.3,567.7 594.7,568.5 594.7,569.4 594.2,570.4 593.1,571.7 591.9,573.1 590.7,574.6 589.5,576.2 588.1,578.0 586.8,579.2 585.6,579.7 584.3,579.7 583.1,579.1 582.3,578.3 581.9,577.2Z" stroke="#46337e"/><path d="M569.1,533.7 568.8,534.8 568.2,535.4 567.4,535.7 566.3,535.7 564.9,535.2 563.7,534.6 562.6,533.7 561.6,532.5 560.8,531.2 560.1,529.8 559.5,528.5 559.0,527.1 558.6,525.7 558.4,524.5 558.6,523.3 559.0,522.3 559.8,521.4 560.7,520.8 561.8,520.4 563.1,520.2 564.5,520.3 565.9,520.7 567.2,521.5 568.5,522.5 569.6,523.8 570.5,525.0 571.0,526.3 571.3,527.4 571.2,528.5 571.1,529.4 570.9,530.2 570.6,530.9 570.2,531.4 569.8,532.0 569.4,532.8Z" stroke="#46337e"/><path d="M537.3,485.8 536.8,485.9 536.4,485.9 535.8,485.9 535.1,485.7 534.4,485.5 533.8,485.2 533.4,484.6 533.2,483.9 533.1,483.0 533.1,482.1 533.2,481.3 533.3,480.5 533.4,479.8 533.7,479.2 534.0,478.6 534.4,478.0 534.9,477.4 535.5,477.2 536.0,477.3 536.6,477.7 537.3,478.5 537.9,479.2 538.5,479.9 539.0,480.5 539.6,481.2 540.0,481.9 540.4,482.7 540.7,483.6 540.9,484.6 540.8,485.3 540.5,485.8 540.0,485.9 539.1,485.8 538.4,485.7 537.8,485.7Z" stroke="#46337e"/><path d="M497.1,442.0 495.9,441.8 495.3,441.4 495.2,440.9 495.6,440.2 496.6,439.3 497.4,438.5 498.0,437.8 498.4,437.1 498.6,436.6 498.9,436.0 499.3,435.4 499.8,434.8 500.5,434.2 501.2,433.9 501.9,433.8 502.7,433.9 503.5,434.3 504.3,434.9 505.1,435.5 505.9,436.2 506.7,437.1 507.1,438.0 507.3,439.1 507.2,440.2 506.8,441.4 506.2,442.2 505.3,442.6 504.3,442.7 503.1,442.3 502.0,442.1 501.1,442.0 500.3,442.0 499.7,442.1 499.0,442.1 498.1,442.1Z" stroke="#46337e"/><path d="M470.9,469.4 470.6,469.7 470.3,470.1 470.0,470.4 469.7,470.7 469.4,471.0 469.1,471.1 468.9,471.1 468.6,470.9 468.3,470.5 468.0,470.3 467.7,470.0 467.3,469.9 467.0,469.8 466.7,469.6 466.5,469.3 466.4,469.0 466.4,468.6 466.5,468.3 466.6,467.9 466.9,467.7 467.2,467.4 467.5,467.2 467.9,466.9 468.2,466.5 468.6,466.2 469.0,466.0 469.4,466.0 469.9,466.1 470.3,466.4 470.7,466.8 470.9,467.2 471.1,467.7 471.2,468.2 471.2,468.6 471.1,469.0Z" stroke="#46337e"/><path d="M500.9,489.7 500.9,489.1 500.9,488.7 500.9,488.3 501.0,488.0 501.0,487.7 501.0,487.5 501.1,487.2 501.1,486.8 501.1,486.4 501.2,486.1 501.4,485.9 501.7,485.7 502.1,485.6 502.5,485.6 502.9,485.7 503.4,485.8 503.8,486.0 504.1,486.2 504.4,486.5 504.5,486.9 504.6,487.3 504.5,487.7 504.4,488.0 504.2,488.3 503.9,488.5 503.7,488.8 503.5,489.1 503.3,489.6 503.2,490.1 503.0,490.5 502.6,490.7 502.2,490.8 501.7,490.7 501.3,490.4 501.0,490.1Z" stroke="#46337e"/><path d="M469.6,429.8 468.7,428.9 468.5,428.2 469.1,427.7 470.3,427.4 472.3,427.2 474.1,426.9 475.7,426.4 477.1,425.9 478.2,425.2 479.4,424.8 480.6,424.6 481.8,424.7 483.0,425.0 484.1,425.5 485.1,426.0 486.0,426.7 486.9,427.6 487.3,428.5 487.2,429.5 486.7,430.6 485.6,431.7 484.4,432.8 482.9,433.7 481.3,434.6 479.5,435.3 477.9,435.6 476.6,435.5 475.5,434.9 474.8,433.8 474.0,433.0 473.3,432.3 472.6,431.8 471.9,431.5 471.2,431.1 470.4,430.5Z" stroke="#46337e"/><path d="M459.3,441.8 459.1,441.6 458.9,441.3 458.8,441.0 458.7,440.5 458.7,440.0 458.8,439.7 459.1,439.5 459.5,439.5 460.0,439.7 460.6,439.7 461.1,439.7 461.6,439.5 462.0,439.3 462.4,439.1 462.6,439.2 462.7,439.4 462.7,439.8 462.7,440.2 462.7,440.6 462.8,440.9 462.9,441.3 462.8,441.6 462.7,442.0 462.6,442.5 462.3,443.0 462.0,443.3 461.5,443.6 461.1,443.8 460.5,443.8 460.1,443.8 459.8,443.6 459.7,443.2 459.6,442.8 459.6,442.4 459.4,442.0Z" stroke="#46337e"/><path d="M452.5,458.5 452.0,457.8 451.4,457.1 450.8,456.3 450.0,455.6 449.3,454.9 448.7,453.9 448.4,452.7 448.3,451.3 448.5,449.7 448.8,448.4 449.4,447.5 450.1,446.9 451.0,446.7 452.0,446.3 452.9,445.8 453.7,445.1 454.6,444.3 455.5,443.9 456.4,443.9 457.4,444.4 458.4,445.3 459.1,446.4 459.5,447.8 459.6,449.5 459.4,451.4 459.1,453.1 458.6,454.5 458.0,455.7 457.3,456.7 456.6,457.6 455.8,458.2 455.1,458.8 454.4,459.1 453.7,459.2 453.1,459.0Z" stroke="#46337e"/><path d="M475.2,488.2 475.3,487.4 475.2,486.8 475.1,486.3 475.0,485.9 474.8,485.6 474.6,485.3 474.5,484.9 474.5,484.4 474.5,483.9 474.7,483.4 474.9,483.1 475.3,482.9 475.8,482.9 476.3,482.8 476.9,482.7 477.4,482.6 478.0,482.6 478.5,482.7 478.9,482.9 479.1,483.3 479.3,483.9 479.4,484.4 479.3,484.9 479.0,485.4 478.6,485.7 478.2,486.1 477.9,486.5 477.7,486.9 477.6,487.3 477.3,487.7 477.0,488.1 476.5,488.4 476.0,488.8 475.6,488.9 475.4,488.7Z" stroke="#46337e"/><path d="M467.5,465.9 467.0,466.0 466.5,466.2 466.1,466.3 465.7,466.4 465.4,466.5 465.0,466.7 464.6,466.8 464.0,467.0 463.4,467.1 463.0,467.2 462.7,467.0 462.6,466.7 462.6,466.2 462.7,465.7 462.7,465.4 462.7,465.0 462.7,464.8 462.8,464.5 462.9,464.2 463.0,463.9 463.2,463.6 463.5,463.5 463.8,463.4 464.2,463.5 464.6,463.6 465.1,463.8 465.6,463.8 466.1,463.9 466.7,463.9 467.2,464.0 467.6,464.2 467.9,464.6 468.0,465.0 468.0,465.3 467.9,465.6Z" stroke="#46337e"/><path d="M483.7,464.3 483.3,464.2 483.0,464.3 482.7,464.4 482.4,464.7 482.1,464.9 481.9,465.1 481.6,465.1 481.4,465.0 481.1,464.8 480.8,464.5 480.7,464.2 480.5,463.9 480.4,463.6 480.3,463.2 480.3,462.9 480.3,462.5 480.4,462.1 480.6,461.8 480.8,461.5 481.1,461.3 481.5,461.2 481.9,461.1 482.3,461.1 482.7,461.2 483.0,461.4 483.3,461.6 483.5,461.9 483.6,462.2 483.7,462.5 483.7,462.8 483.8,463.2 483.9,463.5 484.1,463.8 484.1,464.0 484.0,464.2Z" stroke="#46337e"/><path d="M487.7,458.2 487.1,457.9 486.5,457.6 486.0,457.4 485.5,457.3 485.2,457.3 484.9,457.2 484.6,457.0 484.4,456.7 484.3,456.3 484.1,455.9 483.9,455.4 483.7,454.9 483.5,454.4 483.5,454.0 483.6,453.7 484.0,453.6 484.5,453.6 485.0,453.6 485.5,453.6 485.9,453.6 486.2,453.6 486.6,453.6 487.1,453.7 487.6,453.7 488.2,453.8 488.7,454.0 489.0,454.3 489.2,454.8 489.3,455.4 489.4,456.0 489.3,456.6 489.2,457.3 489.0,457.9 488.7,458.2 488.3,458.4Z" stroke="#46337e"/><path d="M470.3,465.4 469.8,465.2 469.4,464.8 469.1,464.4 468.9,463.9 468.8,463.4 468.6,462.7 468.5,461.9 468.3,461.0 468.2,460.1 468.3,459.4 468.6,458.9 469.2,458.7 470.0,458.7 470.9,458.6 471.7,458.4 472.5,458.2 473.4,457.9 474.2,457.8 475.1,458.0 476.0,458.4 476.9,459.0 477.4,459.7 477.4,460.5 477.0,461.4 476.1,462.4 475.4,463.4 474.9,464.4 474.5,465.4 474.4,466.4 474.0,467.0 473.6,467.2 472.9,467.1 472.2,466.6 471.5,466.1 470.8,465.7Z" stroke="#46337e"/><path d="M479.0,452.4 478.7,452.1 478.5,451.7 478.5,451.4 478.5,451.1 478.8,450.8 479.0,450.4 479.2,450.0 479.3,449.6 479.5,449.1 479.7,448.8 480.1,448.6 480.6,448.6 481.1,448.8 481.6,449.0 482.0,449.4 482.2,449.8 482.4,450.3 482.6,450.9 482.7,451.3 482.9,451.8 483.1,452.2 483.1,452.6 483.2,453.1 483.1,453.5 483.0,454.0 482.7,454.3 482.4,454.5 482.0,454.5 481.5,454.3 481.0,454.1 480.6,453.9 480.2,453.7 479.9,453.4 479.6,453.1 479.3,452.8Z" stroke="#46337e"/><path d="M494.0,459.5 493.8,459.1 493.7,458.9 493.7,458.6 493.9,458.4 494.1,458.2 494.3,458.1 494.6,458.1 494.8,458.2 495.0,458.4 495.3,458.5 495.6,458.5 495.9,458.5 496.2,458.4 496.5,458.5 496.6,458.6 496.5,458.9 496.4,459.2 496.3,459.6 496.2,459.9 496.2,460.1 496.2,460.4 496.1,460.6 496.0,460.7 495.9,460.7 495.7,460.7 495.4,460.8 495.2,460.9 494.9,461.1 494.5,461.4 494.3,461.5 494.2,461.4 494.1,461.1 494.2,460.6 494.2,460.2 494.1,459.8Z" stroke="#46337e"/><path d="M475.5,476.7 474.8,476.7 474.0,476.6 473.1,476.3 472.2,475.8 471.1,475.1 470.3,474.2 469.9,473.1 469.7,471.7 469.9,470.1 470.3,468.8 470.8,467.7 471.6,466.9 472.5,466.4 473.4,466.0 474.3,465.6 475.2,465.3 476.0,465.1 476.8,465.1 477.5,465.5 478.2,466.1 478.8,466.9 479.3,467.9 479.8,468.9 480.3,469.9 480.6,471.0 480.8,472.1 480.8,473.1 480.6,474.2 480.2,475.2 479.7,475.9 479.1,476.4 478.4,476.7 477.7,476.7 476.9,476.7 476.2,476.7Z" stroke="#46337e"/><path d="M714.5,399.8 713.4,400.0 712.4,400.2 711.5,400.3 710.7,400.3 709.9,400.3 709.1,400.2 708.1,400.1 707.1,400.1 706.0,400.0 705.2,399.7 704.8,399.2 704.8,398.5 705.1,397.7 705.2,396.8 705.2,395.9 705.1,395.1 704.8,394.2 704.8,393.5 705.1,393.1 705.8,392.8 706.8,392.8 707.8,392.8 708.7,392.9 709.5,393.1 710.3,393.3 711.0,393.6 711.6,394.0 712.1,394.5 712.5,395.1 713.0,395.8 713.5,396.6 714.2,397.4 715.0,398.2 715.3,398.9 715.2,399.5Z" stroke="#3b528b"/><path d="M701.9,382.4 701.9,381.6 702.2,380.9 702.6,380.3 703.2,379.9 704.0,379.6 704.8,379.3 705.5,379.0 706.1,378.7 706.8,378.3 707.3,378.2 707.8,378.3 708.3,378.6 708.7,379.2 709.2,379.7 709.7,380.2 710.4,380.6 711.2,381.1 711.7,381.6 711.9,382.2 711.9,383.0 711.5,383.8 711.0,384.4 710.3,384.9 709.6,385.1 708.7,385.2 707.9,385.2 707.1,385.2 706.5,385.1 705.9,385.0 705.2,384.8 704.6,384.6 703.8,384.3 703.0,384.1 702.5,383.7 702.1,383.1Z" stroke="#3b528b"/><path d="M704.8,429.3 704.6,429.5 704.3,429.6 704.0,429.8 703.7,429.9 703.3,430.1 702.9,430.0 702.7,429.9 702.4,429.6 702.3,429.1 702.0,428.7 701.7,428.3 701.2,427.9 700.6,427.5 700.3,427.1 700.2,426.8 700.4,426.6 700.8,426.4 701.2,426.2 701.7,426.2 702.1,426.1 702.5,426.2 702.9,426.3 703.3,426.4 703.6,426.5 703.9,426.7 704.2,426.9 704.5,427.2 704.7,427.4 704.9,427.7 705.0,428.0 705.1,428.2 705.1,428.5 705.1,428.7 705.0,428.9 704.9,429.2Z" stroke="#3b528b"/><path d="M698.4,397.5 698.4,396.7 698.7,396.0 699.1,395.3 699.8,394.6 700.6,394.0 701.5,393.3 702.4,392.6 703.4,391.9 704.4,391.2 705.3,390.8 706.1,390.7 706.8,390.9 707.3,391.4 707.9,391.9 708.5,392.3 709.1,392.7 709.7,393.0 710.2,393.5 710.6,394.1 710.8,394.9 710.9,395.9 710.6,396.7 709.9,397.4 708.7,398.0 707.2,398.5 705.9,398.8 704.6,399.1 703.5,399.3 702.5,399.5 701.6,399.5 700.8,399.5 700.0,399.3 699.3,399.0 698.8,398.6 698.5,398.1Z" stroke="#3b528b"/><path d="M716.5,392.8 717.0,392.1 717.4,391.5 717.9,391.1 718.4,390.6 718.9,390.3 719.5,390.1 720.0,389.8 720.6,389.7 721.1,389.6 721.6,389.6 722.1,389.7 722.5,389.9 722.9,390.2 723.2,390.5 723.6,390.9 724.1,391.2 724.5,391.6 724.8,392.1 725.0,392.6 725.0,393.3 724.9,394.0 724.6,394.5 724.1,394.8 723.4,394.9 722.6,394.8 721.7,394.8 720.8,395.0 720.0,395.2 719.1,395.6 718.4,395.7 717.7,395.6 717.1,395.3 716.6,394.7 716.4,394.1 716.3,393.4Z" stroke="#3b528b"/><path d="M705.2,426.9 704.7,426.8 704.4,426.6 704.2,426.4 704.1,426.1 704.1,425.7 704.1,425.4 704.1,425.1 704.1,424.8 704.1,424.5 704.1,424.3 704.2,424.0 704.3,423.8 704.6,423.5 704.8,423.3 705.1,423.2 705.5,423.0 705.9,422.9 706.3,422.9 706.7,422.9 707.0,423.1 707.3,423.3 707.6,423.6 707.9,423.9 708.1,424.2 708.2,424.6 708.3,424.9 708.2,425.3 708.1,425.6 707.9,425.9 707.6,426.2 707.2,426.5 706.9,426.7 706.5,426.8 706.0,426.9 705.6,426.9Z" stroke="#3b528b"/><path d="M718.3,431.1 717.8,431.7 717.3,432.2 716.6,432.6 715.8,432.8 715.0,433.0 714.3,433.0 713.8,432.6 713.5,432.0 713.4,431.2 713.4,430.4 713.4,429.6 713.5,428.9 713.5,428.2 713.7,427.6 714.0,426.9 714.4,426.3 714.8,425.7 715.3,425.3 715.9,425.0 716.5,424.9 717.1,425.0 717.8,425.1 718.6,425.1 719.4,425.0 720.3,424.9 721.0,425.0 721.5,425.4 721.8,426.0 721.8,426.9 721.7,427.7 721.3,428.3 720.8,428.9 720.1,429.4 719.4,430.0 718.8,430.5Z" stroke="#3b528b"/><path d="M715.3,443.5 714.6,443.8 714.2,443.8 713.9,443.6 713.8,443.0 714.0,442.2 714.1,441.4 714.2,440.7 714.2,440.1 714.2,439.5 714.3,439.0 714.5,438.6 714.8,438.2 715.2,437.9 715.7,437.6 716.2,437.3 716.7,437.0 717.3,436.7 717.7,436.7 718.1,436.9 718.4,437.3 718.5,438.1 718.7,438.8 719.0,439.5 719.3,440.1 719.7,440.7 719.9,441.3 719.8,441.9 719.5,442.4 719.0,442.8 718.5,443.2 718.0,443.3 717.5,443.4 717.1,443.2 716.5,443.2 716.0,443.3Z" stroke="#3b528b"/><path d="M796.4,333.4 796.6,333.9 796.4,334.4 796.1,334.8 795.5,335.0 794.6,335.2 793.8,335.3 793.0,335.1 792.3,334.9 791.7,334.5 791.1,334.1 790.4,333.8 789.7,333.5 789.0,333.3 788.6,333.0 788.4,332.7 788.4,332.3 788.6,331.9 788.9,331.5 789.2,331.2 789.6,330.8 790.0,330.6 790.5,330.3 791.1,330.1 791.8,329.8 792.5,329.7 793.3,329.6 794.0,329.7 794.7,329.9 795.3,330.3 795.8,330.6 796.1,331.0 796.3,331.5 796.3,331.9 796.3,332.4 796.3,332.9Z" stroke="#2a788e"/><path d="M780.3,326.4 779.8,326.6 779.2,326.7 778.5,326.7 777.8,326.7 777.0,326.6 776.3,326.3 775.8,325.8 775.3,325.1 775.1,324.2 774.9,323.4 774.8,322.7 774.8,322.0 775.0,321.4 775.1,320.8 775.3,320.2 775.6,319.6 775.8,319.0 776.2,318.7 776.7,318.5 777.3,318.6 778.0,319.0 778.8,319.3 779.6,319.7 780.5,320.0 781.4,320.4 782.1,320.9 782.6,321.5 782.9,322.3 783.0,323.3 782.9,324.1 782.7,324.8 782.3,325.3 781.8,325.6 781.3,325.9 780.8,326.2Z" stroke="#2a788e"/><path d="M802.6,338.6 802.2,338.2 801.8,337.8 801.3,337.3 800.7,336.8 800.2,336.3 799.9,335.9 800.0,335.4 800.3,335.0 801.0,334.7 801.6,334.3 802.1,333.9 802.6,333.4 803.0,332.9 803.5,332.6 804.1,332.4 804.7,332.5 805.4,332.8 806.0,333.1 806.6,333.5 807.1,334.0 807.5,334.5 807.8,335.1 807.9,335.7 807.9,336.3 807.8,336.9 807.6,337.4 807.3,337.9 806.8,338.3 806.3,338.6 805.8,338.8 805.3,339.0 804.7,339.1 804.1,339.2 803.5,339.1 803.0,338.9Z" stroke="#2a788e"/><path d="M793.9,335.3 793.6,335.6 793.3,335.9 792.9,336.1 792.4,336.3 791.9,336.3 791.4,336.3 790.9,336.3 790.4,336.3 789.9,336.3 789.5,336.2 789.1,336.1 788.7,335.9 788.3,335.7 788.0,335.4 787.8,335.1 787.6,334.8 787.5,334.4 787.5,334.0 787.7,333.7 788.1,333.5 788.6,333.3 789.1,333.2 789.6,333.1 790.0,333.0 790.5,333.0 791.0,333.0 791.5,333.0 792.0,333.1 792.6,333.1 793.1,333.2 793.5,333.5 793.8,333.8 794.0,334.2 794.1,334.5 794.0,334.9Z" stroke="#2a788e"/><path d="M817.3,325.7 816.7,325.4 816.1,325.0 815.6,324.5 815.2,323.9 814.8,323.1 814.4,322.3 813.9,321.5 813.3,320.7 812.7,320.0 812.3,319.2 812.1,318.5 812.2,317.8 812.4,317.1 812.8,316.6 813.2,316.3 813.7,316.2 814.3,316.3 814.8,316.4 815.3,316.7 815.8,317.0 816.3,317.4 816.7,317.8 817.1,318.3 817.6,318.8 818.0,319.4 818.4,320.1 818.8,320.8 819.1,321.7 819.5,322.6 819.6,323.5 819.6,324.2 819.4,324.8 818.9,325.3 818.5,325.6 817.9,325.7Z" stroke="#2a788e"/><path d="M432.9,625.4 433.0,626.3 432.7,627.4 432.0,628.7 431.0,630.2 429.6,631.8 428.0,633.4 426.2,634.9 424.1,636.5 421.8,638.0 419.8,639.1 418.0,639.8 416.4,640.1 415.0,640.0 413.9,639.7 412.9,639.4 412.0,639.0 411.4,638.4 411.1,637.6 411.3,636.6 411.9,635.4 412.9,633.9 414.2,632.5 415.5,631.0 417.1,629.5 418.8,628.0 420.7,626.6 422.6,625.3 424.7,624.1 426.9,623.0 428.7,622.3 430.1,622.1 431.1,622.3 431.8,623.0 432.3,623.7 432.6,624.6Z" stroke="#3b528b"/><path d="M375.4,493.0 375.6,493.8 375.7,494.7 375.7,495.7 375.5,496.9 375.2,498.2 374.8,499.5 374.2,500.8 373.4,502.0 372.5,503.2 371.6,504.3 370.6,505.3 369.6,506.3 368.6,507.3 367.7,507.7 367.0,507.8 366.5,507.4 366.2,506.6 366.0,505.7 365.8,504.8 365.6,503.9 365.5,503.0 365.5,502.0 365.8,500.8 366.2,499.5 366.7,498.1 367.4,496.7 368.2,495.5 369.1,494.4 370.2,493.5 371.1,492.7 372.1,492.2 372.9,491.9 373.8,491.8 374.4,492.0 375.0,492.4Z" stroke="#3b528b"/><path d="M566.0,609.0 566.4,609.6 566.5,610.3 566.4,611.2 566.0,612.3 565.4,613.5 564.7,614.8 563.9,616.1 562.9,617.4 561.9,618.8 560.8,619.9 559.6,620.7 558.5,621.4 557.3,621.7 556.3,621.9 555.4,621.8 554.7,621.6 554.1,621.0 553.8,620.4 553.7,619.5 553.8,618.4 554.1,617.2 554.6,616.0 555.3,614.8 556.2,613.7 557.2,612.5 558.3,611.4 559.4,610.2 560.5,609.0 561.7,607.8 562.7,607.0 563.5,606.7 564.2,606.8 564.7,607.3 565.2,607.9 565.6,608.4Z" stroke="#3b528b"/></g>
<g clip-path="url(#clip1)"><text x="233.83" y="126.66" font-size="18.29" textLength="36.93" lengthAdjust="spacingAndGlyphs" fill="#fde725" transform="rotate(-3 252.29 126.66)">−31</text><text x="411.46" y="572.55" font-size="18.29" textLength="36.93" lengthAdjust="spacingAndGlyphs" fill="#2a788e" transform="rotate(58 429.92 572.55)">−64</text><text x="693.61" y="509.73" font-size="18.29" textLength="36.93" lengthAdjust="spacingAndGlyphs" fill="#3b528b" transform="rotate(-62 712.08 509.73)">−76</text><text x="597.23" y="526.21" font-size="18.29" textLength="25.80" lengthAdjust="spacingAndGlyphs" fill="#46337e" transform="rotate(52 610.13 526.21)">−8</text><text x="535.03" y="713.62" font-size="18.29" textLength="36.93" lengthAdjust="spacingAndGlyphs" fill="#fde725" transform="rotate(12 553.50 713.62)">−31</text><text x="697.22" y="692.51" font-size="18.29" textLength="36.93" lengthAdjust="spacingAndGlyphs" fill="#fde725" transform="rotate(-20 715.68 692.51)">−31</text><text x="765.18" y="587.99" font-size="18.29" textLength="36.93" lengthAdjust="spacingAndGlyphs" fill="#7ad151" transform="rotate(-32 783.65 587.99)">−42</text><text x="573.65" y="745.55" font-size="18.29" textLength="36.93" lengthAdjust="spacingAndGlyphs" fill="#7ad151" transform="rotate(-10 592.11 745.55)">−42</text><text x="456.67" y="310.99" font-size="18.29" textLength="25.80" lengthAdjust="spacingAndGlyphs" fill="#7ad151" transform="rotate(-20 469.57 310.99)">−4</text></g>
<g clip-path="url(#clipA1)"><g fill="none" stroke="#fff" stroke-width="2" stroke-linejoin="round"><path d="M130.9,177.3 133.2,174.8 135.5,172.3 138.2,170.6 140.8,168.8 143.9,167.8 147.2,166.6 150.4,165.0 153.5,163.5 156.8,161.8 160.0,160.4 163.7,159.9 167.4,159.2 171.8,159.3 176.1,159.6 179.4,159.9 182.6,160.6 185.8,161.3 189.4,161.9 193.0,162.2 196.7,162.5 200.2,163.5 203.8,164.2 207.3,165.0 210.9,165.6 214.5,166.1 218.1,166.6 221.4,167.3 224.7,167.8 227.9,168.5 230.8,169.6 233.5,171.1 236.4,172.1 239.3,173.1 242.2,174.3 245.1,175.4 248.0,176.3 251.0,177.1 253.9,178.0 257.8,179.4 261.6,181.0 264.8,182.7 268.1,184.3 270.9,186.2 273.6,188.2 275.9,190.2 278.3,192.2 282.2,196.2 285.8,200.4 283.9,204.0 278.2,204.3 274.7,204.2 271.1,204.5 266.8,204.6 262.5,205.4 258.7,204.8 254.9,204.7 251.8,203.2 248.5,202.3 243.1,200.6 238.7,199.6 235.5,201.1 233.6,204.5 230.2,206.6 225.7,207.4 222.3,209.4 219.9,212.4 217.5,215.1 214.4,216.9 211.4,216.0 209.5,212.0 205.9,208.9 200.5,206.6 197.0,205.6 193.4,205.1 189.1,204.3 184.7,204.1 181.2,204.0 177.7,204.1 172.3,205.2 167.9,203.8 164.6,199.4 160.8,196.3 156.7,193.8 154.0,192.2 151.5,190.3 147.9,188.7 144.7,186.5 141.8,185.0 138.9,183.5 133.5,182.3 130.2,181.5 129.1,180.5Z"/><path d="M532.8,100.9 533.4,103.7 534.0,109.3 533.6,113.6 532.1,116.6 533.8,120.1 536.0,122.1 538.2,124.2 542.3,128.4 546.3,132.4 550.2,136.6 554.1,140.8 558.7,144.2 563.5,146.8 565.9,149.7 565.9,154.1 563.4,156.1 558.8,155.3 554.6,155.3 550.5,155.8 546.9,157.7 543.8,160.6 540.3,162.8 536.3,164.1 531.9,164.5 527.0,164.0 524.0,163.5 520.9,163.5 517.4,163.0 513.8,163.0 510.0,162.4 506.2,162.0 502.2,161.5 498.2,160.8 494.4,160.6 490.7,160.1 487.1,160.1 483.6,159.6 479.9,159.1 476.1,158.6 472.1,158.3 468.1,158.0 464.2,157.1 460.2,156.0 456.1,154.6 452.1,153.1 449.1,152.3 446.1,151.5 443.4,150.0 440.2,149.1 436.9,148.7 433.6,148.5 429.6,149.1 425.6,149.0 422.4,150.5 419.2,151.6 417.3,154.0 415.3,156.1 414.3,159.0 413.0,161.8 413.6,166.8 416.7,171.0 419.4,172.7 422.3,174.4 426.6,175.6 430.9,176.6 434.6,178.4 438.3,180.2 441.8,182.0 444.9,184.3 448.0,186.3 451.1,188.3 453.7,190.5 456.3,193.0 460.3,193.8 462.7,190.2 463.6,188.4"/><path d="M461.9,183.2 466.4,181.9 469.6,181.6 472.6,180.8 475.6,179.9 479.5,179.0 483.6,178.4 487.2,178.6 490.7,179.2 494.4,179.9 498.1,180.7 502.1,181.5 506.2,182.1 510.5,182.7 514.9,183.1 517.9,183.4 521.0,183.6 523.9,184.3 527.2,184.2 530.6,184.5 533.9,184.3 537.6,183.5 541.3,182.9 545.0,182.4 548.4,182.3 551.7,181.8 555.1,181.7 558.1,181.3 561.1,181.1 564.1,180.4 568.4,179.9 572.7,179.7 576.7,179.7 580.8,179.6 584.4,179.7 587.9,180.2 591.0,181.7 594.0,183.0 596.8,185.1 599.8,186.7 602.9,188.7 605.8,190.8 608.0,192.8 610.3,194.8 613.4,198.7 615.4,203.7 616.3,206.7 617.2,209.4 619.1,213.6 623.0,215.9 626.6,218.7 629.8,222.6 632.4,222.8 635.4,220.1 638.8,215.5 640.8,212.5 642.4,209.2 644.5,205.6 646.9,202.2 648.8,199.6 650.3,196.8 651.9,194.2 653.5,190.8 655.1,187.4 655.6,184.5 656.2,181.3 659.1,177.6 663.4,176.4 667.8,174.8 672.9,173.3 677.8,170.6 680.4,168.9 682.9,167.0 687.4,166.7 691.2,168.8 693.5,172.4 694.6,177.9 698.0,180.9 703.1,181.5 706.8,180.9 710.6,180.5 713.9,179.9 717.3,179.4 720.7,179.2 724.6,177.6 728.4,175.7 731.1,172.8 733.6,169.8 736.5,167.8 739.5,165.8 742.9,164.5 746.3,163.3 750.2,163.5 753.9,163.5 757.9,163.8 761.9,164.1 765.0,163.9 768.0,164.0 771.0,164.2 774.4,164.7 777.7,165.1 781.1,165.2 784.4,165.7 787.8,165.4 791.1,165.2 794.5,165.3 797.9,165.6 801.2,165.8 804.7,165.8 808.0,165.9 811.4,166.6 814.7,167.5 817.9,168.6 821.3,168.9 826.4,169.2"/><path d="M499.1,127.7 501.1,126.6 505.1,126.9 508.1,128.1 511.0,129.7 513.9,131.2 517.1,132.1 520.2,133.5 523.2,135.1 527.6,138.1 530.4,141.1 531.3,143.0 530.8,144.2 527.5,144.0 524.5,142.8 521.6,141.7 518.4,140.2 515.0,139.2 511.4,138.1 507.7,137.0 505.1,135.2 502.5,133.4 499.2,129.8Z"/><path d="M794.6,101.9 795.0,103.4 795.9,106.7 791.7,108.3 788.6,107.8 785.6,107.4 782.6,107.1 778.6,107.1 774.5,107.3 771.0,107.7 767.6,108.0 764.1,110.0 764.6,114.2 769.2,116.6 773.5,116.9 777.8,117.1 780.9,117.6 783.9,118.6 787.0,119.4 790.2,120.8 793.7,121.7 797.2,122.5 800.9,122.7 804.6,123.2 808.3,123.5 811.3,123.3 814.3,123.2 817.3,122.9 820.3,122.4 823.3,122.0 826.4,121.8"/><path d="M468.0,188.9 470.8,188.7 473.3,188.8 475.6,190.2 475.5,191.7 473.2,192.8 470.7,192.4 467.9,190.7Z"/><path d="M327.2,763.1 328.1,760.1 329.3,757.3 329.8,754.2 330.3,751.1 331.0,748.1 331.9,745.1 333.3,742.4 335.1,739.9 336.6,737.3 338.4,734.9 340.7,732.5 343.1,730.3 345.5,728.1 348.0,726.0 350.7,724.3 353.4,722.4 356.1,720.8 358.7,718.9 361.2,717.0 364.0,715.6 366.8,714.1 369.5,712.5 372.0,710.6 374.8,709.3 377.3,707.6 380.0,706.1 382.9,705.0 385.6,703.7 388.5,702.8 391.1,701.2 394.1,699.9 397.0,698.6 400.0,697.2 402.9,695.6 406.1,694.2 409.3,692.7 412.6,691.5 415.7,689.8 419.4,688.6 423.0,687.3 426.6,685.8 429.4,684.6 432.2,683.3 435.2,682.6 438.5,682.5 441.7,682.2 445.0,682.3 448.6,682.6 452.2,683.6 455.9,683.6 459.4,684.4 463.0,684.7 466.6,685.3 470.2,685.0 473.8,685.5 477.4,685.6 480.6,685.7 483.8,685.3 487.1,685.2 491.3,684.2 495.7,683.7 498.8,682.3 502.1,681.1 505.3,679.7 508.2,678.5 511.1,677.1 513.8,675.4 516.2,673.4 518.8,671.6 521.7,670.3 524.3,668.6 527.0,666.9 529.8,665.4 532.5,663.9 535.2,662.2 537.7,660.3 541.0,658.5 544.2,656.7 547.4,654.8 550.2,653.2 553.1,651.8 556.1,650.6 558.7,649.0 561.1,646.9 563.6,645.1 565.7,643.0 568.1,641.0 570.5,639.1 572.9,635.2 575.4,631.5 576.4,628.5 577.4,625.6 578.0,622.5 580.0,619.6 582.4,616.9 587.9,614.7 593.4,612.9 598.8,610.7 601.6,609.2 604.2,607.4 607.1,605.5 609.7,603.3 613.2,602.7 616.7,601.5 621.0,602.3 625.3,602.6 629.3,604.2 633.4,605.4 637.1,607.7 640.9,609.8 643.9,612.4 646.9,615.2 648.9,618.4 651.2,621.6 651.7,624.9 652.7,628.1 651.9,631.2 651.3,634.4 649.5,637.3 647.7,640.3 644.8,643.2 641.6,645.9 638.0,648.6 634.3,650.9 631.4,652.2 628.4,653.0 625.6,654.1 622.6,655.0 619.8,655.9 616.8,656.5 612.4,657.6 608.0,658.2 604.8,659.6 601.5,661.0 597.2,664.2 596.0,667.2 594.9,670.2 595.0,674.5 594.7,678.9 596.1,683.2 596.8,687.6 598.4,690.5 599.7,693.5 601.2,696.4 604.2,699.7 607.2,703.0 611.1,705.1 614.9,707.4 618.9,707.6 622.6,708.0 626.3,707.5 630.1,706.9 633.2,706.4 636.3,705.8 639.2,704.9 642.8,703.6 646.4,702.7 650.1,702.0 653.6,700.3 657.2,699.2 660.8,698.0 664.6,696.8 668.3,695.6 671.9,694.4 675.6,693.3 679.1,691.8 682.7,690.5 686.2,689.2 689.8,688.1 693.3,686.8 696.6,685.9 699.8,684.7 703.1,683.7 705.9,682.4 708.9,681.8 711.8,680.6 715.5,678.5 719.4,677.0 722.7,674.7 726.1,672.9 729.3,670.7 732.4,668.3 735.8,666.4 738.8,664.1 743.8,664.6 745.7,666.5 747.8,668.9 751.3,670.4 754.7,671.4 759.2,671.6 763.6,671.6 767.9,671.7 772.2,671.5 776.5,670.8 780.8,670.2 784.1,670.8 787.3,671.1 790.5,671.5 794.1,671.7 797.7,672.4 801.3,672.9 804.9,673.3 808.5,673.1 812.1,673.3 815.7,673.0 819.4,673.3 823.0,673.0 828.3,672.4"/><path d="M729.0,670.2 727.1,665.7 725.7,662.8 724.3,660.0 722.6,657.2 721.5,654.4 720.4,651.6 719.4,648.7 719.2,644.3 718.9,640.0 719.9,636.3 720.3,632.4 722.4,629.1 724.8,626.1 727.4,624.4 729.6,622.3 734.9,621.2 739.9,623.9 742.4,626.5 745.1,629.1 747.1,632.4 749.3,635.7 750.4,640.0 751.6,644.3 752.5,648.6 753.4,652.9 754.0,657.2 754.4,661.6 751.8,665.3 748.3,664.0 745.1,663.0 741.9,661.6"/><path d="M619.7,709.5 617.9,712.6 616.5,716.0 614.6,718.9 614.8,722.5 614.9,726.3 616.4,729.0 617.8,731.9 619.6,734.8 619.9,738.3 620.0,741.8 620.4,745.3 620.0,748.3 619.2,751.2 618.3,754.2 617.6,757.1 616.1,759.9 614.6,762.7 613.2,765.6 610.0,768.3 606.8,771.0 604.6,773.4 602.7,775.9 600.5,778.2 598.3,781.1 596.1,783.9 594.5,787.0 593.5,790.1 592.7,793.3 591.6,796.5 592.3,800.2 593.0,803.8 593.6,807.5 595.5,810.9 597.3,814.3 599.3,817.7 601.4,820.2 603.4,822.7 605.8,825.0 608.0,827.4 610.6,829.4 612.8,831.8"/><path d="M634.6,707.1 633.7,710.9 633.1,714.8 631.6,718.5 630.6,722.4 629.4,726.4 629.3,730.8 628.8,735.0 629.4,738.3 629.6,741.7 629.7,745.1 630.6,748.0 631.2,751.1 632.0,754.0 632.6,757.0 634.4,760.0 636.3,762.9 638.1,765.9 641.0,767.8 643.8,769.7 646.7,771.4 648.8,773.8 651.2,775.9 653.4,778.2 654.8,781.1 656.3,783.9 658.2,786.7 658.7,790.4 659.3,794.1 659.8,797.8 660.8,801.4 661.1,804.8 661.3,808.3 661.8,811.7 662.2,815.1 662.5,818.5 662.8,822.0 663.2,825.4 663.9,828.8 664.3,832.2"/><path d="M422.9,687.4 423.3,691.7 423.5,696.1 423.9,700.4 423.2,704.7 423.0,709.1 421.7,711.9 420.7,714.8 419.5,717.6 417.0,720.0 414.6,722.3 411.4,722.8 408.3,723.5 404.5,722.0 403.2,717.7 404.7,713.6 408.9,710.2 410.9,708.3"/><path d="M327.5,763.0 328.1,766.0 328.8,768.9 329.0,772.0 329.3,775.0 329.6,778.0 330.6,780.9 330.9,783.9 331.5,787.0 331.6,790.1 330.9,793.4 330.5,796.7 328.3,801.3 324.8,803.4 323.0,804.2"/><path d="M733.8,588.9 736.3,591.4 739.6,594.4 742.9,598.7 744.3,601.6 742.5,603.3 740.1,601.9 736.6,598.8 734.0,594.9 732.7,590.4Z"/><path d="M798.3,605.3 800.1,607.3 803.1,611.8 805.1,614.0 807.3,616.2 810.4,617.9 812.9,620.1 815.8,622.1 818.6,624.3 821.8,626.0 825.0,627.8 828.4,629.1"/></g></g>
<g clip-path="url(#clipA1)"><rect x="422.3" y="429" width="72.3" height="72.4" fill="#ff0000" fill-opacity="0.4"/><path d="M268.9,269.3 271.0,269.3 275.0,269.3 281.1,269.3 289.2,269.3 296.3,269.8 302.6,270.8 307.8,272.2 312.1,274.2 316.5,276.5 320.8,279.0 325.1,282.0 329.4,285.2 333.5,289.0 337.3,293.3 340.8,298.2 344.0,303.6 347.0,309.0 349.7,314.4 352.1,319.8 354.3,325.2 356.3,330.6 358.2,336.0 359.9,341.4 361.5,346.8 363.2,352.2 364.8,357.6 366.4,363.0 368.0,368.4 369.8,373.8 371.7,379.2 373.7,384.6 375.9,390.0 378.6,395.1 381.8,399.9 385.6,404.5 389.9,408.9 394.8,413.4 400.2,418.3 406.1,423.4 412.6,428.8 419.1,434.2 425.5,439.6 432.0,445.0 438.5,450.4 445.0,456.0 451.5,461.6 457.9,467.4 464.4,473.4 469.3,477.8 472.5,480.8 474.1,482.3" fill="none" stroke="#0000ff" stroke-width="2.6" stroke-dasharray="2.6 4.3"/><path d="M476.2,488.5 483.8,487.8 549.4,481.1 643.2,481.1 737.7,488.5 826.9,496.2" fill="none" stroke="#0000ff" stroke-width="2.6"/><circle cx="476.2" cy="488.5" r="4.3" fill="#0000ff"/><circle cx="483.8" cy="487.8" r="4.3" fill="#0000ff"/><circle cx="549.4" cy="481.1" r="4.3" fill="#0000ff"/><circle cx="643.2" cy="481.1" r="4.3" fill="#0000ff"/><circle cx="737.7" cy="488.5" r="3.4" fill="none" stroke="#0000ff" stroke-width="1.6"/><rect x="619.3" y="439.3" width="10.5" height="10.5" fill="#bf00bf"/><rect x="457.7" y="500.2" width="10.5" height="10.5" fill="#bf00bf"/><rect x="488.8" y="487.0" width="10.5" height="10.5" fill="#bf00bf"/><rect x="483.6" y="511.9" width="10.5" height="10.5" fill="#bf00bf"/><rect x="493.1" y="469.4" width="10.5" height="10.5" fill="#bf00bf"/><rect x="543.3" y="509.4" width="10.5" height="10.5" fill="#bf00bf"/><rect x="571.3" y="499.3" width="10.5" height="10.5" fill="#bf00bf"/><rect x="584.2" y="498.0" width="10.5" height="10.5" fill="#bf00bf"/><path d="M413.2,456.3 l6,6 m0,-6 l-6,6" stroke="#00bfbf" stroke-width="2.4" fill="none"/><path d="M419.9,458.1 l6,6 m0,-6 l-6,6" stroke="#00bfbf" stroke-width="2.4" fill="none"/><path d="M426.6,459.9 l6,6 m0,-6 l-6,6" stroke="#00bfbf" stroke-width="2.4" fill="none"/><path d="M433.3,461.7 l6,6 m0,-6 l-6,6" stroke="#00bfbf" stroke-width="2.4" fill="none"/><path d="M440.1,463.3 l6,6 m0,-6 l-6,6" stroke="#00bfbf" stroke-width="2.4" fill="none"/><path d="M446.8,465.1 l6,6 m0,-6 l-6,6" stroke="#00bfbf" stroke-width="2.4" fill="none"/><path d="M453.5,466.3 l6,6 m0,-6 l-6,6" stroke="#00bfbf" stroke-width="2.4" fill="none"/><path d="M460.3,468.3 l6,6 m0,-6 l-6,6" stroke="#00bfbf" stroke-width="2.4" fill="none"/><path d="M467.0,470.3 l6,6 m0,-6 l-6,6" stroke="#00bfbf" stroke-width="2.4" fill="none"/><path d="M467.0,470.2 l6,6 m0,-6 l-6,6" stroke="#00bfbf" stroke-width="2.4" fill="none"/><path d="M473.9,470.3 l6,6 m0,-6 l-6,6" stroke="#00bfbf" stroke-width="2.4" fill="none"/><path d="M480.8,469.8 l6,6 m0,-6 l-6,6" stroke="#00bfbf" stroke-width="2.4" fill="none"/><path d="M487.8,470.1 l6,6 m0,-6 l-6,6" stroke="#00bfbf" stroke-width="2.4" fill="none"/><path d="M494.7,469.9 l6,6 m0,-6 l-6,6" stroke="#00bfbf" stroke-width="2.4" fill="none"/><path d="M501.6,470.1 l6,6 m0,-6 l-6,6" stroke="#00bfbf" stroke-width="2.4" fill="none"/><path d="M508.5,470.1 l6,6 m0,-6 l-6,6" stroke="#00bfbf" stroke-width="2.4" fill="none"/><path d="M515.5,469.8 l6,6 m0,-6 l-6,6" stroke="#00bfbf" stroke-width="2.4" fill="none"/><path d="M522.4,469.9 l6,6 m0,-6 l-6,6" stroke="#00bfbf" stroke-width="2.4" fill="none"/><path d="M559.3,460.1 l6,6 m0,-6 l-6,6" stroke="#00bfbf" stroke-width="2.4" fill="none"/><path d="M565.1,460.9 l6,6 m0,-6 l-6,6" stroke="#00bfbf" stroke-width="2.4" fill="none"/><path d="M570.9,461.2 l6,6 m0,-6 l-6,6" stroke="#00bfbf" stroke-width="2.4" fill="none"/><path d="M576.7,461.3 l6,6 m0,-6 l-6,6" stroke="#00bfbf" stroke-width="2.4" fill="none"/><path d="M582.6,462.1 l6,6 m0,-6 l-6,6" stroke="#00bfbf" stroke-width="2.4" fill="none"/><path d="M588.4,462.1 l6,6 m0,-6 l-6,6" stroke="#00bfbf" stroke-width="2.4" fill="none"/><path d="M594.2,462.8 l6,6 m0,-6 l-6,6" stroke="#00bfbf" stroke-width="2.4" fill="none"/><path d="M600.0,462.9 l6,6 m0,-6 l-6,6" stroke="#00bfbf" stroke-width="2.4" fill="none"/><path d="M605.8,463.2 l6,6 m0,-6 l-6,6" stroke="#00bfbf" stroke-width="2.4" fill="none"/><path d="M611.6,464.2 l6,6 m0,-6 l-6,6" stroke="#00bfbf" stroke-width="2.4" fill="none"/><path d="M416.2,459.2 442.3,470.0 470.0,471.5 494.6,462.3 525.4,471.5 568.5,463.8 596.2,463.2" fill="none" stroke="#008000" stroke-width="3"/><path d="M416.2,459.2 433.1,462.3 470.0,471.5" fill="none" stroke="#008000" stroke-width="3"/><path d="M430.0,456.2 445.4,463.8 463.8,471.5 476.2,466.9 482.3,485.4 488.5,466.9 500.8,460.8 516.2,463.8 500.8,470.0 525.4,473.1 543.8,470.0 568.5,465.4 593.1,464.5 616.2,463.8" fill="none" stroke="#ff0000" stroke-width="4.2" stroke-linejoin="round"/><path d="M433.1,466.9 454.6,471.5 476.2,473.1 494.6,470.0 513.1,471.5" fill="none" stroke="#ff0000" stroke-width="4" stroke-linejoin="round"/><line x1="431.5" y1="459.2" x2="426.0" y2="470.0" stroke="#ff0000" stroke-width="3"/><line x1="439.2" y1="459.2" x2="433.7" y2="470.0" stroke="#ff0000" stroke-width="3"/><line x1="446.9" y1="459.2" x2="441.4" y2="470.0" stroke="#ff0000" stroke-width="3"/><line x1="494.6" y1="459.2" x2="489.1" y2="470.0" stroke="#ff0000" stroke-width="3"/><line x1="506.9" y1="459.2" x2="501.4" y2="470.0" stroke="#ff0000" stroke-width="3"/><path d="M594.6,463.2 616.2,464.5" fill="none" stroke="#ff0000" stroke-width="6"/><path d="M491.9,412.5 l10.4,10.4 m0,-10.4 l-10.4,10.4" stroke="#ff0000" stroke-width="3.4" fill="none"/></g>
<g stroke="#fff" stroke-width="2.1" stroke-dasharray="2.1 3.35" fill="none"><line x1="155.0" y1="103.0" x2="155.0" y2="828.0"/><line x1="301.0" y1="103.0" x2="301.0" y2="828.0"/><line x1="446.5" y1="103.0" x2="446.5" y2="828.0"/><line x1="592.0" y1="103.0" x2="592.0" y2="828.0"/><line x1="738.0" y1="103.0" x2="738.0" y2="828.0"/><line x1="97.0" y1="196.0" x2="822.0" y2="196.0"/><line x1="97.0" y1="342.0" x2="822.0" y2="342.0"/><line x1="97.0" y1="487.5" x2="822.0" y2="487.5"/><line x1="97.0" y1="633.0" x2="822.0" y2="633.0"/><line x1="97.0" y1="779.0" x2="822.0" y2="779.0"/></g>
<rect x="478.5" y="108.2" width="339" height="186.4" rx="3.5" fill="#fff" fill-opacity="0.8" stroke="#ccc" stroke-opacity="0.8" stroke-width="1.4"/><rect x="496.7" y="117.6" width="9.6" height="9.6" fill="#bf00bf"/><rect x="496.7" y="140.5" width="9.6" height="9.6" fill="#bf00bf"/><path d="M497.5,163.8 l8,8 m0,-8 l-8,8" stroke="#00bfbf" stroke-width="2.8" fill="none"/><line x1="484" x2="518" y1="190.4" y2="190.4" stroke="#008000" stroke-width="2.7"/><line x1="485" x2="518" y1="213.3" y2="213.3" stroke="#0000ff" stroke-width="2.6" stroke-dasharray="2.6 4.3"/><line x1="484" x2="518" y1="236.1" y2="236.1" stroke="#0000ff" stroke-width="2.6"/><circle cx="501.5" cy="236.1" r="4.4" fill="#0000ff"/><path d="M496.5,254.3 l10,10 m0,-10 l-10,10" stroke="#ff0000" stroke-width="3.2" fill="none"/><line x1="484" x2="518" y1="282.2" y2="282.2" stroke="#ff0000" stroke-width="3.6"/><text x="529.20" y="128.10" font-size="16.30" textLength="174.95" lengthAdjust="spacingAndGlyphs" fill="#000">AMSU Locations NONE</text><text x="529.20" y="151.00" font-size="16.30" textLength="210.64" lengthAdjust="spacingAndGlyphs" fill="#000">ARCHER Locations [0121Z]</text><text x="529.20" y="173.50" font-size="16.30" textLength="279.17" lengthAdjust="spacingAndGlyphs" fill="#000">SATCON Locations [0910Z 38 1001]</text><text x="529.20" y="196.10" font-size="16.30" textLength="252.88" lengthAdjust="spacingAndGlyphs" fill="#000">ADT Tracks [1010Z 43.0 1000.6]</text><text x="529.20" y="219.00" font-size="16.30" textLength="243.60" lengthAdjust="spacingAndGlyphs" fill="#000">JTWC/NHC Forecast [22/0600Z]</text><text x="529.20" y="241.80" font-size="16.30" textLength="226.54" lengthAdjust="spacingAndGlyphs" fill="#000">JTWC/NHC Tracks [22/0600Z]</text><text x="529.20" y="265.00" font-size="16.30" textLength="233.01" lengthAdjust="spacingAndGlyphs" fill="#000">MESOSCALE/TARGET Location</text><text x="529.20" y="287.90" font-size="16.30" textLength="117.73" lengthAdjust="spacingAndGlyphs" fill="#000">Floater Locater</text>
<rect x="95.50" y="101.50" width="728.00" height="728.00" fill="none" stroke="#000" stroke-width="3"/>
<defs><linearGradient id="cb1" x1="0" y1="0" x2="0" y2="1"><stop offset="0" stop-color="#000"/><stop offset="1" stop-color="#fff"/></linearGradient></defs>
<rect x="830.5" y="101.5" width="15.5" height="728" fill="url(#cb1)" stroke="#000" stroke-width="1"/>
<rect x="93" y="805" width="314" height="26.5" rx="4" fill="#000"/>
<text x="98.50" y="822.00" font-size="18.13" textLength="302.70" lengthAdjust="spacingAndGlyphs" fill="#fff" font-weight="bold">Copyright © 2020-2025 Dapiya</text>
<defs><clipPath id="clip2"><polygon points="1024,103 1697,103 1697,762 1035,762"/></clipPath><clipPath id="clipO"><path d="M1282.1,330.6 1288.6,323.0 1295.3,316.0 1302.3,309.5 1309.6,303.6 1317.2,298.2 1324.8,293.0 1332.3,288.2 1339.9,283.6 1347.4,279.3 1355.3,275.5 1363.4,272.2 1371.7,269.5 1380.4,267.4 1389.0,265.1 1397.6,262.7 1406.3,260.1 1414.9,257.4 1423.6,255.1 1432.2,253.2 1440.8,251.7 1449.5,250.6 1458.4,249.7 1467.6,248.9 1477.0,248.2 1486.7,247.7 1496.5,247.0 1506.2,246.2 1515.9,245.2 1525.6,244.2 1535.1,243.0 1544.2,241.6 1553.2,240.1 1561.8,238.5 1570.2,236.9 1578.3,235.3 1586.1,233.6 1593.7,232.0 1601.2,230.5 1608.8,229.2 1616.3,228.0 1623.9,226.9 1631.7,226.1 1639.8,225.5 1648.2,225.3 1656.8,225.3 1665.7,225.3 1674.9,225.3 1684.4,225.3 1694.1,225.3 1701.4,252.3 1706.2,306.3 1708.7,387.3 1708.7,495.2 1706.8,576.5 1703.0,631.0 1697.3,658.9 1689.8,659.9 1682.5,661.6 1675.5,663.7 1668.7,666.4 1662.2,669.7 1656.3,673.4 1650.9,677.8 1646.0,682.6 1641.7,688.0 1637.4,693.4 1633.1,698.8 1628.7,704.2 1624.4,709.6 1619.8,715.0 1615.0,720.4 1609.8,725.8 1604.4,731.2 1599.0,737.4 1593.7,744.4 1588.3,752.3 1582.9,760.9 1557.7,767.4 1512.9,771.7 1448.4,773.9 1364.2,773.9 1301.0,770.1 1258.9,762.5 1237.8,751.2 1237.8,736.1 1238.4,722.6 1239.4,710.7 1241.1,700.4 1243.2,691.8 1244.3,684.0 1244.3,676.9 1243.2,670.7 1241.1,665.3 1237.8,659.9 1233.5,654.5 1228.1,649.1 1221.6,643.7 1217.6,638.1 1216.0,632.1 1216.8,625.9 1220.0,619.4 1222.7,612.4 1224.9,604.9 1226.5,596.8 1227.6,588.1 1227.8,580.0 1227.3,572.5 1225.9,565.4 1223.8,559.0 1221.6,551.9 1219.5,544.4 1217.3,536.3 1215.1,527.6 1212.7,519.5 1210.0,512.0 1207.0,505.0 1203.8,498.5 1201.0,492.0 1198.5,485.5 1196.5,479.0 1194.9,472.6 1194.1,466.1 1194.1,459.6 1194.9,453.1 1196.5,446.7 1198.5,440.2 1201.0,433.7 1203.8,427.2 1207.0,420.7 1210.3,414.3 1213.5,407.8 1216.8,401.3 1220.0,394.8 1223.8,388.6 1228.1,382.7 1233.0,377.0 1238.4,371.6 1244.0,366.2 1250.0,360.8 1256.2,355.4 1262.7,350.0 1269.1,344.1 1275.6,337.6Z"/></clipPath></defs><g clip-path="url(#clip2)"><rect x="1000" y="90" width="720" height="700" fill="#86ffb4"/><path d="M1263.7,156.2 1341.5,186.4 1281.0,242.5 1220.5,303.0 1177.3,376.5 1160.1,454.2 1155.7,532.0 1151.4,618.4 1142.8,704.8 1112.5,773.9 1056.4,704.8 1056.4,532.0 1078.0,402.4 1095.3,316.0 1134.1,242.5 1186.0,186.4Z" fill="#7cfff4" filter="url(#b30)"/><g filter="url(#b12)" opacity="0.7"><ellipse cx="1043.6" cy="521.5" rx="12.6" ry="12.6" fill="#b8fc90" transform="rotate(15 1043.6 521.5)"/><ellipse cx="1068.8" cy="552.0" rx="18.5" ry="18.5" fill="#b8fc90" transform="rotate(-9 1068.8 552.0)"/><ellipse cx="1066.6" cy="346.4" rx="16.4" ry="16.4" fill="#b8fc90" transform="rotate(0 1066.6 346.4)"/><ellipse cx="1073.1" cy="326.0" rx="15.5" ry="15.5" fill="#b8fc90" transform="rotate(22 1073.1 326.0)"/><ellipse cx="1027.3" cy="637.3" rx="10.4" ry="10.4" fill="#a8ff98" transform="rotate(-6 1027.3 637.3)"/><ellipse cx="1083.4" cy="660.3" rx="11.5" ry="11.5" fill="#b8fc90" transform="rotate(20 1083.4 660.3)"/><ellipse cx="1084.0" cy="463.3" rx="16.5" ry="16.5" fill="#b8fc90" transform="rotate(-17 1084.0 463.3)"/><ellipse cx="1090.7" cy="299.6" rx="10.1" ry="10.1" fill="#a8ff98" transform="rotate(-9 1090.7 299.6)"/><ellipse cx="1097.1" cy="467.9" rx="15.4" ry="15.4" fill="#b8fc90" transform="rotate(1 1097.1 467.9)"/><ellipse cx="1063.4" cy="442.9" rx="12.4" ry="12.4" fill="#b8fc90" transform="rotate(12 1063.4 442.9)"/><ellipse cx="1043.2" cy="418.5" rx="18.5" ry="18.5" fill="#a8ff98" transform="rotate(-8 1043.2 418.5)"/><ellipse cx="1098.9" cy="584.6" rx="10.4" ry="10.4" fill="#b8fc90" transform="rotate(9 1098.9 584.6)"/><ellipse cx="1092.6" cy="533.9" rx="16.3" ry="16.3" fill="#a8ff98" transform="rotate(15 1092.6 533.9)"/><ellipse cx="1087.2" cy="536.1" rx="11.7" ry="11.7" fill="#a8ff98" transform="rotate(5 1087.2 536.1)"/></g><g filter="url(#b12)" opacity="0.6"><ellipse cx="1080.7" cy="633.1" rx="13.8" ry="13.8" fill="#a0ff9c" transform="rotate(-20 1080.7 633.1)"/><ellipse cx="1047.7" cy="675.6" rx="20.5" ry="20.5" fill="#a0ff9c" transform="rotate(-11 1047.7 675.6)"/><ellipse cx="1135.9" cy="669.7" rx="18.7" ry="18.7" fill="#a0ff9c" transform="rotate(-9 1135.9 669.7)"/><ellipse cx="1076.5" cy="750.6" rx="19.4" ry="19.4" fill="#a0ff9c" transform="rotate(-8 1076.5 750.6)"/><ellipse cx="1072.4" cy="662.5" rx="16.8" ry="16.8" fill="#a0ff9c" transform="rotate(-20 1072.4 662.5)"/><ellipse cx="1199.0" cy="666.5" rx="13.7" ry="13.7" fill="#a0ff9c" transform="rotate(-14 1199.0 666.5)"/><ellipse cx="1082.9" cy="658.3" rx="20.9" ry="20.9" fill="#a0ff9c" transform="rotate(-25 1082.9 658.3)"/><ellipse cx="1211.5" cy="699.9" rx="20.1" ry="20.1" fill="#a0ff9c" transform="rotate(1 1211.5 699.9)"/><ellipse cx="1117.2" cy="659.4" rx="14.5" ry="14.5" fill="#a0ff9c" transform="rotate(-6 1117.2 659.4)"/><ellipse cx="1085.3" cy="732.0" rx="9.7" ry="9.7" fill="#a0ff9c" transform="rotate(15 1085.3 732.0)"/></g><path d="M1458.1,91.4 1713.0,91.4 1713.0,229.6 1617.9,229.6 1531.6,238.2 1466.8,242.5 1402.0,264.1 1376.0,246.9 1436.5,195.0 1471.1,143.2Z" fill="#c4f88c" filter="url(#b20)"/><path d="M1393.3,259.8 1453.8,216.6 1497.0,160.5 1531.6,91.4 1652.5,91.4 1622.3,138.9 1596.3,182.1 1617.9,216.6 1713.0,223.1 1713.0,246.9 1402.0,272.8Z" fill="#f6f47a" filter="url(#b12)"/><ellipse cx="1527.2" cy="121.6" rx="19.9" ry="13.0" fill="#ffc858" filter="url(#b5)" transform="rotate(-35 1527.2 121.6)"/><ellipse cx="1548.8" cy="156.2" rx="21.6" ry="13.0" fill="#ffc050" filter="url(#b5)" transform="rotate(-35 1548.8 156.2)"/><ellipse cx="1514.3" cy="177.8" rx="19.0" ry="11.2" fill="#ffcc60" filter="url(#b5)" transform="rotate(-35 1514.3 177.8)"/><ellipse cx="1497.0" cy="203.7" rx="19.0" ry="10.4" fill="#ffc858" filter="url(#b5)" transform="rotate(-35 1497.0 203.7)"/><ellipse cx="1471.1" cy="225.3" rx="17.3" ry="8.6" fill="#ffd468" filter="url(#b5)" transform="rotate(-35 1471.1 225.3)"/><ellipse cx="1574.8" cy="117.3" rx="13.0" ry="8.6" fill="#ffd468" filter="url(#b5)" transform="rotate(-35 1574.8 117.3)"/><ellipse cx="1445.2" cy="242.5" rx="17.3" ry="7.8" fill="#ffd060" filter="url(#b5)" transform="rotate(-35 1445.2 242.5)"/><ellipse cx="1617.9" cy="113.0" rx="11.2" ry="6.9" fill="#ffe070" filter="url(#b5)" transform="rotate(-35 1617.9 113.0)"/><ellipse cx="1669.8" cy="108.6" rx="21.6" ry="6.9" fill="#ffe070" filter="url(#b5)" transform="rotate(-35 1669.8 108.6)"/><ellipse cx="1566.1" cy="199.4" rx="13.0" ry="6.9" fill="#ffd870" filter="url(#b5)" transform="rotate(-35 1566.1 199.4)"/><ellipse cx="1544.5" cy="216.6" rx="25.9" ry="6.0" fill="#b4f888" filter="url(#b5)" transform="rotate(-35 1544.5 216.6)"/><ellipse cx="1596.3" cy="151.8" rx="13.0" ry="17.3" fill="#b8f888" filter="url(#b5)" transform="rotate(-35 1596.3 151.8)"/><ellipse cx="1501.3" cy="143.2" rx="8.6" ry="11.2" fill="#c8f888" filter="url(#b5)" transform="rotate(-35 1501.3 143.2)"/><g filter="url(#b3)" opacity="0.7"><ellipse cx="1512.9" cy="121.5" rx="10.9" ry="6.8" fill="#ffd060" transform="rotate(-26 1512.9 121.5)"/><ellipse cx="1480.2" cy="183.1" rx="13.1" ry="8.2" fill="#ffe878" transform="rotate(-58 1480.2 183.1)"/><ellipse cx="1479.0" cy="159.6" rx="7.5" ry="4.7" fill="#e0f880" transform="rotate(-57 1479.0 159.6)"/><ellipse cx="1584.6" cy="117.6" rx="7.4" ry="4.6" fill="#ffd060" transform="rotate(-24 1584.6 117.6)"/><ellipse cx="1550.2" cy="107.1" rx="7.4" ry="4.6" fill="#ffe878" transform="rotate(-42 1550.2 107.1)"/><ellipse cx="1526.5" cy="177.1" rx="10.3" ry="6.4" fill="#ffe878" transform="rotate(-54 1526.5 177.1)"/><ellipse cx="1549.7" cy="191.1" rx="8.6" ry="5.4" fill="#ffd060" transform="rotate(-24 1549.7 191.1)"/><ellipse cx="1475.3" cy="129.4" rx="11.2" ry="7.0" fill="#e0f880" transform="rotate(-11 1475.3 129.4)"/><ellipse cx="1511.5" cy="183.5" rx="9.3" ry="5.8" fill="#ffb848" transform="rotate(-45 1511.5 183.5)"/><ellipse cx="1580.0" cy="199.6" rx="7.6" ry="4.7" fill="#ffb848" transform="rotate(-27 1580.0 199.6)"/><ellipse cx="1537.3" cy="149.0" rx="9.3" ry="5.8" fill="#ffd060" transform="rotate(-53 1537.3 149.0)"/><ellipse cx="1539.7" cy="123.5" rx="8.4" ry="5.2" fill="#e0f880" transform="rotate(-34 1539.7 123.5)"/><ellipse cx="1472.3" cy="195.3" rx="11.9" ry="7.4" fill="#ffb848" transform="rotate(-39 1472.3 195.3)"/><ellipse cx="1565.9" cy="184.7" rx="10.3" ry="6.5" fill="#e0f880" transform="rotate(-56 1565.9 184.7)"/><ellipse cx="1586.5" cy="234.7" rx="9.5" ry="5.9" fill="#ffd060" transform="rotate(-57 1586.5 234.7)"/><ellipse cx="1571.0" cy="144.1" rx="10.3" ry="6.5" fill="#e0f880" transform="rotate(-42 1571.0 144.1)"/><ellipse cx="1568.9" cy="226.4" rx="8.4" ry="5.3" fill="#e0f880" transform="rotate(-38 1568.9 226.4)"/><ellipse cx="1490.7" cy="116.7" rx="6.0" ry="3.8" fill="#ffb848" transform="rotate(-52 1490.7 116.7)"/><ellipse cx="1572.0" cy="156.7" rx="13.1" ry="8.2" fill="#e0f880" transform="rotate(-55 1572.0 156.7)"/><ellipse cx="1490.5" cy="157.3" rx="7.8" ry="4.9" fill="#ffe878" transform="rotate(-33 1490.5 157.3)"/><ellipse cx="1589.9" cy="139.7" rx="9.0" ry="5.6" fill="#ffb848" transform="rotate(-17 1589.9 139.7)"/><ellipse cx="1592.8" cy="236.5" rx="6.8" ry="4.2" fill="#ffe878" transform="rotate(-51 1592.8 236.5)"/><ellipse cx="1499.8" cy="133.3" rx="9.6" ry="6.0" fill="#ffe878" transform="rotate(-44 1499.8 133.3)"/><ellipse cx="1506.9" cy="120.8" rx="10.0" ry="6.2" fill="#ffb848" transform="rotate(-52 1506.9 120.8)"/><ellipse cx="1565.2" cy="173.5" rx="10.7" ry="6.7" fill="#ffd060" transform="rotate(-31 1565.2 173.5)"/><ellipse cx="1595.0" cy="211.2" rx="12.8" ry="8.0" fill="#e0f880" transform="rotate(-35 1595.0 211.2)"/><ellipse cx="1523.6" cy="114.8" rx="10.8" ry="6.7" fill="#ffd060" transform="rotate(-48 1523.6 114.8)"/><ellipse cx="1476.4" cy="129.8" rx="6.9" ry="4.3" fill="#ffb848" transform="rotate(-22 1476.4 129.8)"/><ellipse cx="1474.3" cy="100.0" rx="6.8" ry="4.2" fill="#ffd060" transform="rotate(-37 1474.3 100.0)"/><ellipse cx="1554.2" cy="110.0" rx="7.3" ry="4.5" fill="#e0f880" transform="rotate(-51 1554.2 110.0)"/></g><ellipse cx="1147.1" cy="130.2" rx="11.2" ry="6.9" fill="#fff078" filter="url(#b2)"/><ellipse cx="1099.6" cy="132.0" rx="9.5" ry="6.0" fill="#ffc050" filter="url(#b2)"/><ellipse cx="1112.5" cy="132.8" rx="8.6" ry="5.2" fill="#f08018" filter="url(#b2)"/><ellipse cx="1126.4" cy="126.8" rx="7.8" ry="6.0" fill="#c85000" filter="url(#b2)"/><ellipse cx="1166.5" cy="104.3" rx="4.3" ry="3.0" fill="#e07010" filter="url(#b2)"/><ellipse cx="1203.3" cy="105.2" rx="6.9" ry="3.5" fill="#e07010" filter="url(#b2)"/><ellipse cx="1056.4" cy="143.2" rx="3.5" ry="2.6" fill="#ffe070" filter="url(#b2)"/><ellipse cx="1246.5" cy="117.3" rx="4.3" ry="2.6" fill="#f0f880" filter="url(#b2)"/><path d="M1282.1,330.6 1288.6,323.0 1295.3,316.0 1302.3,309.5 1309.6,303.6 1317.2,298.2 1324.8,293.0 1332.3,288.2 1339.9,283.6 1347.4,279.3 1355.3,275.5 1363.4,272.2 1371.7,269.5 1380.4,267.4 1389.0,265.1 1397.6,262.7 1406.3,260.1 1414.9,257.4 1423.6,255.1 1432.2,253.2 1440.8,251.7 1449.5,250.6 1458.4,249.7 1467.6,248.9 1477.0,248.2 1486.7,247.7 1496.5,247.0 1506.2,246.2 1515.9,245.2 1525.6,244.2 1535.1,243.0 1544.2,241.6 1553.2,240.1 1561.8,238.5 1570.2,236.9 1578.3,235.3 1586.1,233.6 1593.7,232.0 1601.2,230.5 1608.8,229.2 1616.3,228.0 1623.9,226.9 1631.7,226.1 1639.8,225.5 1648.2,225.3 1656.8,225.3 1665.7,225.3 1674.9,225.3 1684.4,225.3 1694.1,225.3 1701.4,252.3 1706.2,306.3 1708.7,387.3 1708.7,495.2 1706.8,576.5 1703.0,631.0 1697.3,658.9 1689.8,659.9 1682.5,661.6 1675.5,663.7 1668.7,666.4 1662.2,669.7 1656.3,673.4 1650.9,677.8 1646.0,682.6 1641.7,688.0 1637.4,693.4 1633.1,698.8 1628.7,704.2 1624.4,709.6 1619.8,715.0 1615.0,720.4 1609.8,725.8 1604.4,731.2 1599.0,737.4 1593.7,744.4 1588.3,752.3 1582.9,760.9 1557.7,767.4 1512.9,771.7 1448.4,773.9 1364.2,773.9 1301.0,770.1 1258.9,762.5 1237.8,751.2 1237.8,736.1 1238.4,722.6 1239.4,710.7 1241.1,700.4 1243.2,691.8 1244.3,684.0 1244.3,676.9 1243.2,670.7 1241.1,665.3 1237.8,659.9 1233.5,654.5 1228.1,649.1 1221.6,643.7 1217.6,638.1 1216.0,632.1 1216.8,625.9 1220.0,619.4 1222.7,612.4 1224.9,604.9 1226.5,596.8 1227.6,588.1 1227.8,580.0 1227.3,572.5 1225.9,565.4 1223.8,559.0 1221.6,551.9 1219.5,544.4 1217.3,536.3 1215.1,527.6 1212.7,519.5 1210.0,512.0 1207.0,505.0 1203.8,498.5 1201.0,492.0 1198.5,485.5 1196.5,479.0 1194.9,472.6 1194.1,466.1 1194.1,459.6 1194.9,453.1 1196.5,446.7 1198.5,440.2 1201.0,433.7 1203.8,427.2 1207.0,420.7 1210.3,414.3 1213.5,407.8 1216.8,401.3 1220.0,394.8 1223.8,388.6 1228.1,382.7 1233.0,377.0 1238.4,371.6 1244.0,366.2 1250.0,360.8 1256.2,355.4 1262.7,350.0 1269.1,344.1 1275.6,337.6Z" fill="#a4f880" stroke="#a4f880" stroke-width="60" stroke-linejoin="round" filter="url(#b20)"/><g filter="url(#b2)" fill="none" stroke-linecap="round"><line x1="1250.1" y1="339.3" x2="1217.1" y2="313.4" stroke="#ffe070" stroke-width="4.5" opacity="0.69"/><line x1="1573.9" y1="263.4" x2="1599.8" y2="235.9" stroke="#fff27c" stroke-width="2.9" opacity="0.73"/><line x1="1227.1" y1="375.5" x2="1202.2" y2="367.0" stroke="#fff27c" stroke-width="3.1" opacity="0.90"/><line x1="1492.5" y1="236.0" x2="1509.3" y2="206.0" stroke="#ffd060" stroke-width="3.7" opacity="0.76"/><line x1="1562.0" y1="262.5" x2="1573.7" y2="218.0" stroke="#fff27c" stroke-width="3.1" opacity="0.72"/><line x1="1308.8" y1="285.1" x2="1290.1" y2="269.2" stroke="#ffe070" stroke-width="2.2" opacity="0.58"/><line x1="1447.5" y1="225.9" x2="1461.4" y2="185.3" stroke="#fff27c" stroke-width="2.3" opacity="0.69"/><line x1="1516.7" y1="244.6" x2="1545.4" y2="199.8" stroke="#ffd060" stroke-width="2.7" opacity="0.88"/><line x1="1373.0" y1="254.2" x2="1358.0" y2="221.4" stroke="#fff27c" stroke-width="2.4" opacity="0.79"/><line x1="1579.3" y1="270.9" x2="1591.7" y2="255.2" stroke="#ffe070" stroke-width="3.4" opacity="0.63"/><line x1="1579.7" y1="268.1" x2="1607.0" y2="234.5" stroke="#e4f884" stroke-width="2.9" opacity="0.74"/><line x1="1302.9" y1="302.1" x2="1294.6" y2="284.0" stroke="#ffd060" stroke-width="2.9" opacity="0.77"/><line x1="1448.4" y1="223.5" x2="1447.4" y2="169.0" stroke="#ffe070" stroke-width="4.4" opacity="0.74"/><line x1="1543.3" y1="243.9" x2="1551.4" y2="213.1" stroke="#ffe070" stroke-width="2.4" opacity="0.53"/><line x1="1509.7" y1="229.2" x2="1526.9" y2="197.6" stroke="#fff27c" stroke-width="4.1" opacity="0.76"/><line x1="1234.7" y1="394.1" x2="1209.3" y2="373.6" stroke="#ffe070" stroke-width="4.5" opacity="0.80"/><line x1="1364.4" y1="259.5" x2="1348.2" y2="207.4" stroke="#ffd060" stroke-width="2.1" opacity="0.58"/><line x1="1525.1" y1="231.6" x2="1545.5" y2="184.2" stroke="#ffd060" stroke-width="3.2" opacity="0.86"/><line x1="1364.7" y1="262.3" x2="1343.6" y2="228.2" stroke="#fff27c" stroke-width="3.0" opacity="0.55"/><line x1="1467.4" y1="238.2" x2="1466.0" y2="208.3" stroke="#ffd060" stroke-width="2.6" opacity="0.66"/><line x1="1580.2" y1="246.8" x2="1586.8" y2="225.4" stroke="#fff27c" stroke-width="2.5" opacity="0.76"/><line x1="1498.3" y1="244.8" x2="1500.6" y2="223.0" stroke="#e4f884" stroke-width="3.3" opacity="0.63"/><line x1="1370.8" y1="257.6" x2="1359.5" y2="236.8" stroke="#ffd060" stroke-width="2.5" opacity="0.80"/><line x1="1486.7" y1="230.7" x2="1499.3" y2="196.1" stroke="#fff27c" stroke-width="4.0" opacity="0.50"/><line x1="1360.4" y1="266.3" x2="1335.7" y2="226.3" stroke="#ffe070" stroke-width="2.6" opacity="0.78"/><line x1="1306.3" y1="301.2" x2="1284.3" y2="277.4" stroke="#e4f884" stroke-width="4.0" opacity="0.82"/><line x1="1365.6" y1="250.4" x2="1344.4" y2="218.3" stroke="#e4f884" stroke-width="4.4" opacity="0.62"/><line x1="1459.9" y1="232.0" x2="1452.3" y2="193.7" stroke="#e4f884" stroke-width="4.4" opacity="0.64"/><line x1="1291.4" y1="282.8" x2="1274.7" y2="269.2" stroke="#fff27c" stroke-width="3.6" opacity="0.82"/><line x1="1583.4" y1="259.2" x2="1618.8" y2="218.2" stroke="#ffd060" stroke-width="3.2" opacity="0.71"/><line x1="1536.8" y1="252.7" x2="1545.8" y2="236.8" stroke="#fff27c" stroke-width="2.6" opacity="0.78"/><line x1="1515.0" y1="231.4" x2="1519.6" y2="196.7" stroke="#ffd060" stroke-width="2.8" opacity="0.59"/><line x1="1558.5" y1="244.7" x2="1563.4" y2="226.6" stroke="#e4f884" stroke-width="3.8" opacity="0.86"/><line x1="1497.1" y1="231.2" x2="1512.8" y2="187.1" stroke="#e4f884" stroke-width="2.6" opacity="0.87"/><line x1="1322.8" y1="271.4" x2="1313.5" y2="223.0" stroke="#fff27c" stroke-width="2.4" opacity="0.58"/><line x1="1541.7" y1="237.7" x2="1545.8" y2="217.3" stroke="#e4f884" stroke-width="3.5" opacity="0.65"/><line x1="1480.6" y1="221.2" x2="1477.9" y2="165.5" stroke="#ffd060" stroke-width="2.5" opacity="0.63"/><line x1="1432.7" y1="230.3" x2="1440.1" y2="203.8" stroke="#e4f884" stroke-width="3.3" opacity="0.88"/><line x1="1583.8" y1="248.6" x2="1598.5" y2="214.7" stroke="#e4f884" stroke-width="3.8" opacity="0.56"/><line x1="1328.4" y1="274.1" x2="1315.7" y2="241.3" stroke="#ffe070" stroke-width="3.7" opacity="0.75"/><line x1="1228.5" y1="361.6" x2="1205.5" y2="350.2" stroke="#e4f884" stroke-width="2.0" opacity="0.70"/><line x1="1226.6" y1="389.4" x2="1183.8" y2="377.2" stroke="#fff27c" stroke-width="4.4" opacity="0.56"/><line x1="1577.8" y1="265.0" x2="1586.2" y2="234.5" stroke="#ffe070" stroke-width="2.3" opacity="0.82"/><line x1="1516.4" y1="236.4" x2="1518.5" y2="217.3" stroke="#ffd060" stroke-width="4.2" opacity="0.60"/><line x1="1401.1" y1="232.6" x2="1394.6" y2="193.1" stroke="#fff27c" stroke-width="3.6" opacity="0.53"/><line x1="1339.7" y1="255.4" x2="1323.5" y2="202.1" stroke="#ffe070" stroke-width="2.1" opacity="0.83"/><line x1="1416.8" y1="234.2" x2="1420.7" y2="198.9" stroke="#e4f884" stroke-width="2.4" opacity="0.56"/><line x1="1287.2" y1="298.2" x2="1279.2" y2="282.4" stroke="#fff27c" stroke-width="2.5" opacity="0.54"/><line x1="1518.2" y1="240.9" x2="1521.4" y2="210.1" stroke="#ffd060" stroke-width="2.7" opacity="0.82"/><line x1="1336.2" y1="280.0" x2="1322.4" y2="257.6" stroke="#e4f884" stroke-width="3.0" opacity="0.78"/><line x1="1473.0" y1="232.0" x2="1480.0" y2="212.9" stroke="#ffe070" stroke-width="3.3" opacity="0.79"/><line x1="1416.8" y1="233.9" x2="1400.6" y2="194.9" stroke="#e4f884" stroke-width="3.2" opacity="0.56"/><line x1="1531.0" y1="232.7" x2="1555.3" y2="186.1" stroke="#ffe070" stroke-width="3.7" opacity="0.76"/><line x1="1421.2" y1="233.9" x2="1417.2" y2="212.6" stroke="#ffe070" stroke-width="4.4" opacity="0.87"/><line x1="1501.5" y1="246.7" x2="1511.6" y2="217.5" stroke="#fff27c" stroke-width="3.9" opacity="0.76"/><line x1="1244.0" y1="337.5" x2="1220.8" y2="307.2" stroke="#ffe070" stroke-width="2.6" opacity="0.71"/><line x1="1290.0" y1="302.0" x2="1272.6" y2="258.3" stroke="#fff27c" stroke-width="2.6" opacity="0.74"/><line x1="1309.1" y1="279.1" x2="1284.5" y2="234.5" stroke="#fff27c" stroke-width="4.3" opacity="0.88"/><line x1="1486.5" y1="221.5" x2="1502.1" y2="178.2" stroke="#ffe070" stroke-width="4.3" opacity="0.71"/><line x1="1548.7" y1="245.0" x2="1554.7" y2="223.8" stroke="#ffd060" stroke-width="3.5" opacity="0.69"/><line x1="1371.4" y1="258.2" x2="1359.4" y2="235.7" stroke="#ffd060" stroke-width="2.6" opacity="0.69"/><line x1="1220.6" y1="386.9" x2="1200.3" y2="371.9" stroke="#e4f884" stroke-width="3.5" opacity="0.82"/><line x1="1477.3" y1="227.1" x2="1481.4" y2="171.4" stroke="#ffd060" stroke-width="2.1" opacity="0.81"/><line x1="1534.6" y1="246.3" x2="1552.3" y2="200.0" stroke="#ffd060" stroke-width="2.6" opacity="0.79"/><line x1="1511.6" y1="236.7" x2="1515.7" y2="217.7" stroke="#ffe070" stroke-width="3.2" opacity="0.68"/><line x1="1323.9" y1="270.3" x2="1309.7" y2="232.3" stroke="#e4f884" stroke-width="3.9" opacity="0.65"/><line x1="1272.4" y1="307.8" x2="1251.0" y2="264.7" stroke="#ffe070" stroke-width="3.5" opacity="0.63"/><line x1="1529.6" y1="233.8" x2="1532.9" y2="207.1" stroke="#e4f884" stroke-width="2.3" opacity="0.75"/><line x1="1435.3" y1="234.0" x2="1439.0" y2="211.8" stroke="#ffd060" stroke-width="2.5" opacity="0.77"/><line x1="1303.3" y1="284.2" x2="1281.1" y2="261.7" stroke="#ffe070" stroke-width="2.7" opacity="0.60"/></g><path d="M1282.1,330.6 1288.6,323.0 1295.3,316.0 1302.3,309.5 1309.6,303.6 1317.2,298.2 1324.8,293.0 1332.3,288.2 1339.9,283.6 1347.4,279.3 1355.3,275.5 1363.4,272.2 1371.7,269.5 1380.4,267.4 1389.0,265.1 1397.6,262.7 1406.3,260.1 1414.9,257.4 1423.6,255.1 1432.2,253.2 1440.8,251.7 1449.5,250.6 1458.4,249.7 1467.6,248.9 1477.0,248.2 1486.7,247.7 1496.5,247.0 1506.2,246.2 1515.9,245.2 1525.6,244.2 1535.1,243.0 1544.2,241.6 1553.2,240.1 1561.8,238.5 1570.2,236.9 1578.3,235.3 1586.1,233.6 1593.7,232.0 1601.2,230.5 1608.8,229.2 1616.3,228.0 1623.9,226.9 1631.7,226.1 1639.8,225.5 1648.2,225.3 1656.8,225.3 1665.7,225.3 1674.9,225.3 1684.4,225.3 1694.1,225.3 1701.4,252.3 1706.2,306.3 1708.7,387.3 1708.7,495.2 1706.8,576.5 1703.0,631.0 1697.3,658.9 1689.8,659.9 1682.5,661.6 1675.5,663.7 1668.7,666.4 1662.2,669.7 1656.3,673.4 1650.9,677.8 1646.0,682.6 1641.7,688.0 1637.4,693.4 1633.1,698.8 1628.7,704.2 1624.4,709.6 1619.8,715.0 1615.0,720.4 1609.8,725.8 1604.4,731.2 1599.0,737.4 1593.7,744.4 1588.3,752.3 1582.9,760.9 1557.7,767.4 1512.9,771.7 1448.4,773.9 1364.2,773.9 1301.0,770.1 1258.9,762.5 1237.8,751.2 1237.8,736.1 1238.4,722.6 1239.4,710.7 1241.1,700.4 1243.2,691.8 1244.3,684.0 1244.3,676.9 1243.2,670.7 1241.1,665.3 1237.8,659.9 1233.5,654.5 1228.1,649.1 1221.6,643.7 1217.6,638.1 1216.0,632.1 1216.8,625.9 1220.0,619.4 1222.7,612.4 1224.9,604.9 1226.5,596.8 1227.6,588.1 1227.8,580.0 1227.3,572.5 1225.9,565.4 1223.8,559.0 1221.6,551.9 1219.5,544.4 1217.3,536.3 1215.1,527.6 1212.7,519.5 1210.0,512.0 1207.0,505.0 1203.8,498.5 1201.0,492.0 1198.5,485.5 1196.5,479.0 1194.9,472.6 1194.1,466.1 1194.1,459.6 1194.9,453.1 1196.5,446.7 1198.5,440.2 1201.0,433.7 1203.8,427.2 1207.0,420.7 1210.3,414.3 1213.5,407.8 1216.8,401.3 1220.0,394.8 1223.8,388.6 1228.1,382.7 1233.0,377.0 1238.4,371.6 1244.0,366.2 1250.0,360.8 1256.2,355.4 1262.7,350.0 1269.1,344.1 1275.6,337.6Z" fill="#fff078" stroke="#fff078" stroke-width="24" stroke-linejoin="round" filter="url(#b8)"/><path d="M1282.1,330.6 1288.6,323.0 1295.3,316.0 1302.3,309.5 1309.6,303.6 1317.2,298.2 1324.8,293.0 1332.3,288.2 1339.9,283.6 1347.4,279.3 1355.3,275.5 1363.4,272.2 1371.7,269.5 1380.4,267.4 1389.0,265.1 1397.6,262.7 1406.3,260.1 1414.9,257.4 1423.6,255.1 1432.2,253.2 1440.8,251.7 1449.5,250.6 1458.4,249.7 1467.6,248.9 1477.0,248.2 1486.7,247.7 1496.5,247.0 1506.2,246.2 1515.9,245.2 1525.6,244.2 1535.1,243.0 1544.2,241.6 1553.2,240.1 1561.8,238.5 1570.2,236.9 1578.3,235.3 1586.1,233.6 1593.7,232.0 1601.2,230.5 1608.8,229.2 1616.3,228.0 1623.9,226.9 1631.7,226.1 1639.8,225.5 1648.2,225.3 1656.8,225.3 1665.7,225.3 1674.9,225.3 1684.4,225.3 1694.1,225.3 1701.4,252.3 1706.2,306.3 1708.7,387.3 1708.7,495.2 1706.8,576.5 1703.0,631.0 1697.3,658.9 1689.8,659.9 1682.5,661.6 1675.5,663.7 1668.7,666.4 1662.2,669.7 1656.3,673.4 1650.9,677.8 1646.0,682.6 1641.7,688.0 1637.4,693.4 1633.1,698.8 1628.7,704.2 1624.4,709.6 1619.8,715.0 1615.0,720.4 1609.8,725.8 1604.4,731.2 1599.0,737.4 1593.7,744.4 1588.3,752.3 1582.9,760.9 1557.7,767.4 1512.9,771.7 1448.4,773.9 1364.2,773.9 1301.0,770.1 1258.9,762.5 1237.8,751.2 1237.8,736.1 1238.4,722.6 1239.4,710.7 1241.1,700.4 1243.2,691.8 1244.3,684.0 1244.3,676.9 1243.2,670.7 1241.1,665.3 1237.8,659.9 1233.5,654.5 1228.1,649.1 1221.6,643.7 1217.6,638.1 1216.0,632.1 1216.8,625.9 1220.0,619.4 1222.7,612.4 1224.9,604.9 1226.5,596.8 1227.6,588.1 1227.8,580.0 1227.3,572.5 1225.9,565.4 1223.8,559.0 1221.6,551.9 1219.5,544.4 1217.3,536.3 1215.1,527.6 1212.7,519.5 1210.0,512.0 1207.0,505.0 1203.8,498.5 1201.0,492.0 1198.5,485.5 1196.5,479.0 1194.9,472.6 1194.1,466.1 1194.1,459.6 1194.9,453.1 1196.5,446.7 1198.5,440.2 1201.0,433.7 1203.8,427.2 1207.0,420.7 1210.3,414.3 1213.5,407.8 1216.8,401.3 1220.0,394.8 1223.8,388.6 1228.1,382.7 1233.0,377.0 1238.4,371.6 1244.0,366.2 1250.0,360.8 1256.2,355.4 1262.7,350.0 1269.1,344.1 1275.6,337.6Z" fill="#fca02a" filter="url(#b12)"/><g clip-path="url(#clipO)"><path d="M1246.5,696.1 1315.6,704.8 1402.0,696.1 1488.4,704.8 1574.8,713.4 1609.3,739.3 1596.3,791.1 1229.2,791.1Z" fill="#ffd468" filter="url(#b20)"/><g filter="url(#b5)" opacity="0.85"><ellipse cx="1250.9" cy="684.7" rx="23.0" ry="10.5" fill="#ffd060" transform="rotate(-58 1250.9 684.7)"/><ellipse cx="1296.8" cy="684.7" rx="19.0" ry="8.7" fill="#ffe070" transform="rotate(-51 1296.8 684.7)"/><ellipse cx="1602.7" cy="677.5" rx="14.8" ry="6.7" fill="#ffe070" transform="rotate(-26 1602.7 677.5)"/><ellipse cx="1512.2" cy="722.2" rx="18.4" ry="8.3" fill="#f08818" transform="rotate(-55 1512.2 722.2)"/><ellipse cx="1289.3" cy="744.4" rx="35.2" ry="16.0" fill="#ffb840" transform="rotate(-48 1289.3 744.4)"/><ellipse cx="1321.2" cy="710.1" rx="28.1" ry="12.8" fill="#ffe070" transform="rotate(-47 1321.2 710.1)"/><ellipse cx="1509.2" cy="712.3" rx="29.7" ry="13.5" fill="#fff080" transform="rotate(-57 1509.2 712.3)"/><ellipse cx="1550.8" cy="706.8" rx="18.3" ry="8.3" fill="#ff9a20" transform="rotate(-59 1550.8 706.8)"/><ellipse cx="1277.7" cy="722.7" rx="24.1" ry="11.0" fill="#ffe070" transform="rotate(-47 1277.7 722.7)"/><ellipse cx="1535.5" cy="740.7" rx="18.1" ry="8.2" fill="#ffd060" transform="rotate(-46 1535.5 740.7)"/><ellipse cx="1421.4" cy="698.4" rx="20.6" ry="9.3" fill="#f08818" transform="rotate(-35 1421.4 698.4)"/><ellipse cx="1421.3" cy="733.5" rx="21.1" ry="9.6" fill="#ffe070" transform="rotate(-13 1421.3 733.5)"/><ellipse cx="1607.0" cy="746.2" rx="20.9" ry="9.5" fill="#ffe070" transform="rotate(-25 1607.0 746.2)"/><ellipse cx="1472.8" cy="724.0" rx="30.0" ry="13.6" fill="#fff080" transform="rotate(-49 1472.8 724.0)"/><ellipse cx="1316.4" cy="758.1" rx="28.2" ry="12.8" fill="#ffd060" transform="rotate(-54 1316.4 758.1)"/><ellipse cx="1489.4" cy="700.4" rx="20.9" ry="9.5" fill="#ffe070" transform="rotate(-53 1489.4 700.4)"/><ellipse cx="1411.5" cy="747.1" rx="24.3" ry="11.0" fill="#fff080" transform="rotate(-25 1411.5 747.1)"/><ellipse cx="1505.5" cy="698.8" rx="34.9" ry="15.9" fill="#ffd060" transform="rotate(-53 1505.5 698.8)"/><ellipse cx="1595.1" cy="692.8" rx="17.3" ry="7.9" fill="#ffe070" transform="rotate(-30 1595.1 692.8)"/><ellipse cx="1267.5" cy="730.0" rx="26.0" ry="11.8" fill="#ffb840" transform="rotate(-21 1267.5 730.0)"/><ellipse cx="1424.3" cy="728.1" rx="34.4" ry="15.6" fill="#ff9a20" transform="rotate(-52 1424.3 728.1)"/><ellipse cx="1535.8" cy="729.5" rx="25.6" ry="11.6" fill="#fff080" transform="rotate(-44 1535.8 729.5)"/><ellipse cx="1424.2" cy="745.4" rx="24.9" ry="11.3" fill="#ffe070" transform="rotate(-60 1424.2 745.4)"/><ellipse cx="1281.6" cy="727.4" rx="24.3" ry="11.1" fill="#fff080" transform="rotate(-52 1281.6 727.4)"/><ellipse cx="1291.8" cy="753.0" rx="14.5" ry="6.6" fill="#f08818" transform="rotate(-47 1291.8 753.0)"/><ellipse cx="1532.7" cy="760.4" rx="34.7" ry="15.8" fill="#ffd060" transform="rotate(-49 1532.7 760.4)"/><ellipse cx="1447.7" cy="725.2" rx="26.0" ry="11.8" fill="#ffd060" transform="rotate(-28 1447.7 725.2)"/><ellipse cx="1392.1" cy="722.1" rx="31.0" ry="14.1" fill="#ff9a20" transform="rotate(-41 1392.1 722.1)"/><ellipse cx="1506.6" cy="716.9" rx="16.6" ry="7.5" fill="#fff080" transform="rotate(-27 1506.6 716.9)"/><ellipse cx="1530.6" cy="742.1" rx="36.6" ry="16.6" fill="#ffd060" transform="rotate(-36 1530.6 742.1)"/><ellipse cx="1456.8" cy="689.6" rx="34.4" ry="15.6" fill="#fff080" transform="rotate(-14 1456.8 689.6)"/><ellipse cx="1400.6" cy="687.3" rx="22.7" ry="10.3" fill="#ffb840" transform="rotate(-47 1400.6 687.3)"/><ellipse cx="1400.9" cy="739.0" rx="26.7" ry="12.1" fill="#ffe070" transform="rotate(-11 1400.9 739.0)"/><ellipse cx="1344.2" cy="759.7" rx="14.2" ry="6.5" fill="#ff9a20" transform="rotate(-21 1344.2 759.7)"/><ellipse cx="1546.9" cy="699.4" rx="26.6" ry="12.1" fill="#ff9a20" transform="rotate(-16 1546.9 699.4)"/><ellipse cx="1378.5" cy="710.9" rx="33.5" ry="15.2" fill="#ff9a20" transform="rotate(-15 1378.5 710.9)"/><ellipse cx="1318.5" cy="694.0" rx="21.8" ry="9.9" fill="#ffd060" transform="rotate(-37 1318.5 694.0)"/><ellipse cx="1287.2" cy="694.1" rx="37.2" ry="16.9" fill="#f08818" transform="rotate(-16 1287.2 694.1)"/><ellipse cx="1420.5" cy="719.9" rx="36.4" ry="16.6" fill="#ffb840" transform="rotate(-18 1420.5 719.9)"/><ellipse cx="1312.3" cy="677.6" rx="25.2" ry="11.5" fill="#ffb840" transform="rotate(-30 1312.3 677.6)"/><ellipse cx="1548.3" cy="763.5" rx="20.2" ry="9.2" fill="#ffb840" transform="rotate(-12 1548.3 763.5)"/><ellipse cx="1349.6" cy="755.2" rx="19.4" ry="8.8" fill="#ffb840" transform="rotate(-35 1349.6 755.2)"/><ellipse cx="1570.8" cy="762.4" rx="19.2" ry="8.7" fill="#ffe070" transform="rotate(-20 1570.8 762.4)"/><ellipse cx="1442.7" cy="703.5" rx="15.7" ry="7.1" fill="#f08818" transform="rotate(-15 1442.7 703.5)"/><ellipse cx="1314.5" cy="708.4" rx="26.7" ry="12.1" fill="#ffb840" transform="rotate(-17 1314.5 708.4)"/><ellipse cx="1416.6" cy="759.7" rx="19.7" ry="9.0" fill="#ff9a20" transform="rotate(-35 1416.6 759.7)"/><ellipse cx="1492.2" cy="724.8" rx="18.8" ry="8.5" fill="#ff9a20" transform="rotate(-57 1492.2 724.8)"/><ellipse cx="1545.3" cy="696.5" rx="30.7" ry="14.0" fill="#fff080" transform="rotate(-34 1545.3 696.5)"/><ellipse cx="1494.7" cy="703.9" rx="37.6" ry="17.1" fill="#f08818" transform="rotate(-57 1494.7 703.9)"/><ellipse cx="1365.4" cy="740.7" rx="32.1" ry="14.6" fill="#ff9a20" transform="rotate(-51 1365.4 740.7)"/><ellipse cx="1524.4" cy="702.5" rx="33.0" ry="15.0" fill="#ff9a20" transform="rotate(-46 1524.4 702.5)"/><ellipse cx="1441.9" cy="714.5" rx="16.8" ry="7.6" fill="#fff080" transform="rotate(-29 1441.9 714.5)"/><ellipse cx="1537.8" cy="714.4" rx="25.2" ry="11.4" fill="#ff9a20" transform="rotate(-18 1537.8 714.4)"/><ellipse cx="1495.2" cy="756.2" rx="33.7" ry="15.3" fill="#ffd060" transform="rotate(-19 1495.2 756.2)"/><ellipse cx="1369.4" cy="689.8" rx="15.5" ry="7.1" fill="#ffb840" transform="rotate(-57 1369.4 689.8)"/><ellipse cx="1586.2" cy="710.1" rx="34.8" ry="15.8" fill="#f08818" transform="rotate(-36 1586.2 710.1)"/><ellipse cx="1319.8" cy="694.4" rx="14.7" ry="6.7" fill="#ff9a20" transform="rotate(-58 1319.8 694.4)"/><ellipse cx="1566.8" cy="711.9" rx="31.9" ry="14.5" fill="#ffe070" transform="rotate(-13 1566.8 711.9)"/><ellipse cx="1531.9" cy="761.2" rx="26.1" ry="11.8" fill="#ffb840" transform="rotate(-33 1531.9 761.2)"/><ellipse cx="1333.3" cy="697.9" rx="15.6" ry="7.1" fill="#fff080" transform="rotate(-52 1333.3 697.9)"/></g><g filter="url(#b5)" opacity="0.8"><ellipse cx="1219.9" cy="568.9" rx="16.1" ry="8.1" fill="#ffb840" transform="rotate(56 1219.9 568.9)"/><ellipse cx="1214.4" cy="538.6" rx="16.5" ry="8.3" fill="#e07810" transform="rotate(28 1214.4 538.6)"/><ellipse cx="1266.1" cy="695.2" rx="27.1" ry="13.6" fill="#e07810" transform="rotate(63 1266.1 695.2)"/><ellipse cx="1212.0" cy="662.5" rx="12.8" ry="6.4" fill="#ffd060" transform="rotate(56 1212.0 662.5)"/><ellipse cx="1287.7" cy="677.6" rx="26.3" ry="13.1" fill="#ffb840" transform="rotate(53 1287.7 677.6)"/><ellipse cx="1220.3" cy="552.8" rx="29.0" ry="14.5" fill="#ffd060" transform="rotate(71 1220.3 552.8)"/><ellipse cx="1228.4" cy="535.4" rx="11.3" ry="5.7" fill="#ffd060" transform="rotate(60 1228.4 535.4)"/><ellipse cx="1248.5" cy="560.2" rx="16.3" ry="8.1" fill="#fff080" transform="rotate(35 1248.5 560.2)"/><ellipse cx="1267.3" cy="672.4" rx="16.1" ry="8.0" fill="#c85a00" transform="rotate(61 1267.3 672.4)"/><ellipse cx="1220.4" cy="537.7" rx="15.9" ry="7.9" fill="#e07810" transform="rotate(46 1220.4 537.7)"/><ellipse cx="1220.1" cy="646.5" rx="26.4" ry="13.2" fill="#e07810" transform="rotate(52 1220.1 646.5)"/><ellipse cx="1284.1" cy="669.0" rx="10.5" ry="5.3" fill="#ffb840" transform="rotate(53 1284.1 669.0)"/><ellipse cx="1228.8" cy="703.3" rx="26.8" ry="13.4" fill="#ffb840" transform="rotate(67 1228.8 703.3)"/><ellipse cx="1238.8" cy="627.3" rx="13.1" ry="6.6" fill="#ffd060" transform="rotate(37 1238.8 627.3)"/><ellipse cx="1273.0" cy="616.6" rx="20.0" ry="10.0" fill="#c85a00" transform="rotate(69 1273.0 616.6)"/><ellipse cx="1245.8" cy="594.3" rx="19.5" ry="9.7" fill="#ffb840" transform="rotate(64 1245.8 594.3)"/><ellipse cx="1245.4" cy="630.6" rx="14.8" ry="7.4" fill="#fff080" transform="rotate(49 1245.4 630.6)"/><ellipse cx="1272.1" cy="596.0" rx="26.1" ry="13.1" fill="#c85a00" transform="rotate(33 1272.1 596.0)"/><ellipse cx="1274.5" cy="674.0" rx="22.6" ry="11.3" fill="#ffb840" transform="rotate(64 1274.5 674.0)"/><ellipse cx="1237.6" cy="532.1" rx="10.9" ry="5.4" fill="#ffd060" transform="rotate(62 1237.6 532.1)"/><ellipse cx="1300.5" cy="560.8" rx="26.6" ry="13.3" fill="#fff080" transform="rotate(39 1300.5 560.8)"/><ellipse cx="1259.2" cy="546.4" rx="16.4" ry="8.2" fill="#ffb840" transform="rotate(48 1259.2 546.4)"/><ellipse cx="1243.3" cy="690.4" rx="19.9" ry="10.0" fill="#ffb840" transform="rotate(33 1243.3 690.4)"/><ellipse cx="1292.8" cy="632.9" rx="19.5" ry="9.8" fill="#e07810" transform="rotate(49 1292.8 632.9)"/><ellipse cx="1221.6" cy="664.5" rx="21.9" ry="11.0" fill="#ffb840" transform="rotate(25 1221.6 664.5)"/><ellipse cx="1216.9" cy="635.3" rx="14.1" ry="7.1" fill="#c85a00" transform="rotate(74 1216.9 635.3)"/><ellipse cx="1245.3" cy="570.1" rx="18.0" ry="9.0" fill="#ffb840" transform="rotate(66 1245.3 570.1)"/><ellipse cx="1313.7" cy="571.7" rx="18.8" ry="9.4" fill="#fff080" transform="rotate(68 1313.7 571.7)"/><ellipse cx="1305.6" cy="532.9" rx="26.1" ry="13.1" fill="#e07810" transform="rotate(26 1305.6 532.9)"/><ellipse cx="1268.8" cy="554.3" rx="12.0" ry="6.0" fill="#ffd060" transform="rotate(57 1268.8 554.3)"/><ellipse cx="1235.0" cy="649.1" rx="16.8" ry="8.4" fill="#ffd060" transform="rotate(44 1235.0 649.1)"/><ellipse cx="1273.0" cy="703.4" rx="19.9" ry="10.0" fill="#ffd060" transform="rotate(31 1273.0 703.4)"/><ellipse cx="1231.1" cy="702.7" rx="28.9" ry="14.5" fill="#ffb840" transform="rotate(45 1231.1 702.7)"/><ellipse cx="1249.7" cy="643.6" rx="17.0" ry="8.5" fill="#c85a00" transform="rotate(25 1249.7 643.6)"/><ellipse cx="1276.3" cy="595.1" rx="10.8" ry="5.4" fill="#c85a00" transform="rotate(26 1276.3 595.1)"/><ellipse cx="1289.9" cy="562.7" rx="12.0" ry="6.0" fill="#ffb840" transform="rotate(49 1289.9 562.7)"/><ellipse cx="1270.7" cy="541.1" rx="22.6" ry="11.3" fill="#ffb840" transform="rotate(53 1270.7 541.1)"/><ellipse cx="1240.4" cy="567.6" rx="14.1" ry="7.1" fill="#ffd060" transform="rotate(67 1240.4 567.6)"/><ellipse cx="1252.5" cy="569.8" rx="26.5" ry="13.2" fill="#e07810" transform="rotate(53 1252.5 569.8)"/><ellipse cx="1311.8" cy="672.1" rx="15.5" ry="7.7" fill="#ffb840" transform="rotate(61 1311.8 672.1)"/></g><g filter="url(#b5)" opacity="0.6"><ellipse cx="1257.5" cy="468.4" rx="25.4" ry="11.5" fill="#e07810" transform="rotate(-55 1257.5 468.4)"/><ellipse cx="1265.2" cy="513.1" rx="27.0" ry="12.3" fill="#ffb840" transform="rotate(-44 1265.2 513.1)"/><ellipse cx="1289.3" cy="522.2" rx="16.9" ry="7.7" fill="#ffd060" transform="rotate(-52 1289.3 522.2)"/><ellipse cx="1249.0" cy="407.9" rx="22.9" ry="10.4" fill="#ffb840" transform="rotate(-66 1249.0 407.9)"/><ellipse cx="1242.6" cy="448.7" rx="26.8" ry="12.2" fill="#ffd060" transform="rotate(-47 1242.6 448.7)"/><ellipse cx="1285.0" cy="476.2" rx="25.3" ry="11.5" fill="#e07810" transform="rotate(-65 1285.0 476.2)"/><ellipse cx="1256.1" cy="476.9" rx="13.4" ry="6.1" fill="#ffb840" transform="rotate(-65 1256.1 476.9)"/><ellipse cx="1296.4" cy="408.3" rx="15.1" ry="6.8" fill="#ffb840" transform="rotate(-38 1296.4 408.3)"/><ellipse cx="1238.0" cy="472.1" rx="24.6" ry="11.2" fill="#ffd060" transform="rotate(-68 1238.0 472.1)"/><ellipse cx="1233.7" cy="420.3" rx="22.7" ry="10.3" fill="#ffd060" transform="rotate(-60 1233.7 420.3)"/><ellipse cx="1240.2" cy="478.0" rx="26.4" ry="12.0" fill="#e07810" transform="rotate(-45 1240.2 478.0)"/><ellipse cx="1274.3" cy="455.9" rx="13.5" ry="6.1" fill="#ffb840" transform="rotate(-80 1274.3 455.9)"/><ellipse cx="1214.6" cy="413.9" rx="12.4" ry="5.6" fill="#e07810" transform="rotate(-63 1214.6 413.9)"/><ellipse cx="1222.5" cy="392.5" rx="22.6" ry="10.3" fill="#e07810" transform="rotate(-47 1222.5 392.5)"/><ellipse cx="1248.3" cy="421.0" rx="20.6" ry="9.4" fill="#e07810" transform="rotate(-54 1248.3 421.0)"/><ellipse cx="1209.9" cy="442.3" rx="17.9" ry="8.1" fill="#e07810" transform="rotate(-78 1209.9 442.3)"/><ellipse cx="1266.7" cy="401.3" rx="27.4" ry="12.5" fill="#ffd060" transform="rotate(-57 1266.7 401.3)"/><ellipse cx="1272.0" cy="510.0" rx="25.8" ry="11.7" fill="#ffb840" transform="rotate(-54 1272.0 510.0)"/><ellipse cx="1272.6" cy="442.7" rx="23.2" ry="10.6" fill="#ffd060" transform="rotate(-39 1272.6 442.7)"/><ellipse cx="1230.0" cy="407.5" rx="27.6" ry="12.5" fill="#e07810" transform="rotate(-69 1230.0 407.5)"/><ellipse cx="1248.2" cy="466.7" rx="24.4" ry="11.1" fill="#e07810" transform="rotate(-84 1248.2 466.7)"/><ellipse cx="1275.4" cy="414.1" rx="27.8" ry="12.6" fill="#ffb840" transform="rotate(-79 1275.4 414.1)"/><ellipse cx="1294.3" cy="517.3" rx="16.9" ry="7.7" fill="#e07810" transform="rotate(-46 1294.3 517.3)"/><ellipse cx="1219.7" cy="484.3" rx="17.5" ry="7.9" fill="#e07810" transform="rotate(-58 1219.7 484.3)"/><ellipse cx="1291.7" cy="417.0" rx="22.5" ry="10.2" fill="#e07810" transform="rotate(-37 1291.7 417.0)"/><ellipse cx="1285.2" cy="472.7" rx="12.0" ry="5.5" fill="#ffd060" transform="rotate(-45 1285.2 472.7)"/><ellipse cx="1288.4" cy="361.4" rx="19.6" ry="8.9" fill="#e07810" transform="rotate(-48 1288.4 361.4)"/><ellipse cx="1210.7" cy="379.5" rx="26.2" ry="11.9" fill="#ffb840" transform="rotate(-47 1210.7 379.5)"/><ellipse cx="1210.1" cy="519.2" rx="24.6" ry="11.2" fill="#ffd060" transform="rotate(-58 1210.1 519.2)"/><ellipse cx="1297.9" cy="476.6" rx="11.5" ry="5.2" fill="#ffb840" transform="rotate(-59 1297.9 476.6)"/></g><g filter="url(#b5)" opacity="0.55"><ellipse cx="1518.9" cy="270.1" rx="33.7" ry="14.1" fill="#ffb840" transform="rotate(-21 1518.9 270.1)"/><ellipse cx="1455.8" cy="295.2" rx="24.2" ry="10.1" fill="#ffc850" transform="rotate(-24 1455.8 295.2)"/><ellipse cx="1351.9" cy="265.0" rx="18.0" ry="7.5" fill="#ffc850" transform="rotate(-23 1351.9 265.0)"/><ellipse cx="1550.3" cy="283.2" rx="31.7" ry="13.2" fill="#ffb840" transform="rotate(-42 1550.3 283.2)"/><ellipse cx="1457.5" cy="280.7" rx="30.6" ry="12.7" fill="#ffb840" transform="rotate(-21 1457.5 280.7)"/><ellipse cx="1674.6" cy="270.3" rx="29.0" ry="12.1" fill="#ffc850" transform="rotate(-21 1674.6 270.3)"/><ellipse cx="1436.2" cy="243.8" rx="26.7" ry="11.1" fill="#f08818" transform="rotate(-9 1436.2 243.8)"/><ellipse cx="1591.7" cy="267.2" rx="19.9" ry="8.3" fill="#ffb840" transform="rotate(-8 1591.7 267.2)"/><ellipse cx="1573.6" cy="234.8" rx="24.7" ry="10.3" fill="#e07810" transform="rotate(-38 1573.6 234.8)"/><ellipse cx="1539.0" cy="292.7" rx="19.0" ry="7.9" fill="#f08818" transform="rotate(-20 1539.0 292.7)"/><ellipse cx="1615.7" cy="292.2" rx="24.8" ry="10.3" fill="#ffb840" transform="rotate(-12 1615.7 292.2)"/><ellipse cx="1600.4" cy="297.3" rx="24.1" ry="10.0" fill="#e07810" transform="rotate(-22 1600.4 297.3)"/><ellipse cx="1365.9" cy="248.6" rx="19.8" ry="8.3" fill="#ffc850" transform="rotate(-26 1365.9 248.6)"/><ellipse cx="1341.9" cy="250.3" rx="16.9" ry="7.0" fill="#ffc850" transform="rotate(-19 1341.9 250.3)"/><ellipse cx="1674.4" cy="257.8" rx="33.8" ry="14.1" fill="#ffc850" transform="rotate(2 1674.4 257.8)"/><ellipse cx="1549.9" cy="289.8" rx="16.0" ry="6.7" fill="#ffb840" transform="rotate(-24 1549.9 289.8)"/><ellipse cx="1473.0" cy="241.6" rx="18.8" ry="7.8" fill="#e07810" transform="rotate(-24 1473.0 241.6)"/><ellipse cx="1500.9" cy="275.4" rx="14.6" ry="6.1" fill="#ffc850" transform="rotate(-13 1500.9 275.4)"/><ellipse cx="1520.2" cy="233.6" rx="20.7" ry="8.6" fill="#ffc850" transform="rotate(-40 1520.2 233.6)"/><ellipse cx="1645.5" cy="267.4" rx="31.9" ry="13.3" fill="#ffc850" transform="rotate(-4 1645.5 267.4)"/><ellipse cx="1582.5" cy="298.4" rx="18.0" ry="7.5" fill="#f08818" transform="rotate(-4 1582.5 298.4)"/><ellipse cx="1457.0" cy="285.8" rx="37.1" ry="15.4" fill="#f08818" transform="rotate(-38 1457.0 285.8)"/><ellipse cx="1494.3" cy="270.6" rx="32.6" ry="13.6" fill="#ffc850" transform="rotate(2 1494.3 270.6)"/><ellipse cx="1604.6" cy="278.2" rx="34.1" ry="14.2" fill="#e07810" transform="rotate(-44 1604.6 278.2)"/><ellipse cx="1472.0" cy="261.6" rx="25.8" ry="10.7" fill="#e07810" transform="rotate(-35 1472.0 261.6)"/><ellipse cx="1371.3" cy="257.1" rx="36.1" ry="15.0" fill="#ffc850" transform="rotate(-35 1371.3 257.1)"/><ellipse cx="1635.6" cy="260.9" rx="19.5" ry="8.1" fill="#ffc850" transform="rotate(-17 1635.6 260.9)"/><ellipse cx="1572.7" cy="281.7" rx="28.7" ry="11.9" fill="#ffb840" transform="rotate(-3 1572.7 281.7)"/><ellipse cx="1406.2" cy="279.5" rx="29.0" ry="12.1" fill="#ffb840" transform="rotate(-28 1406.2 279.5)"/><ellipse cx="1317.5" cy="237.9" rx="24.8" ry="10.3" fill="#e07810" transform="rotate(-11 1317.5 237.9)"/><ellipse cx="1431.7" cy="266.4" rx="26.4" ry="11.0" fill="#ffb840" transform="rotate(-24 1431.7 266.4)"/><ellipse cx="1446.7" cy="283.5" rx="21.3" ry="8.9" fill="#ffc850" transform="rotate(-2 1446.7 283.5)"/><ellipse cx="1559.9" cy="251.8" rx="36.0" ry="15.0" fill="#e07810" transform="rotate(-13 1559.9 251.8)"/><ellipse cx="1493.9" cy="230.2" rx="31.3" ry="13.0" fill="#e07810" transform="rotate(-39 1493.9 230.2)"/><ellipse cx="1678.2" cy="268.9" rx="33.8" ry="14.1" fill="#e07810" transform="rotate(-7 1678.2 268.9)"/><ellipse cx="1329.4" cy="282.3" rx="23.4" ry="9.8" fill="#e07810" transform="rotate(-4 1329.4 282.3)"/><ellipse cx="1685.7" cy="298.1" rx="31.6" ry="13.2" fill="#ffb840" transform="rotate(-30 1685.7 298.1)"/><ellipse cx="1695.9" cy="266.3" rx="29.9" ry="12.5" fill="#e07810" transform="rotate(-23 1695.9 266.3)"/><ellipse cx="1613.5" cy="251.3" rx="17.0" ry="7.1" fill="#e07810" transform="rotate(-21 1613.5 251.3)"/><ellipse cx="1387.6" cy="245.1" rx="19.0" ry="7.9" fill="#f08818" transform="rotate(-42 1387.6 245.1)"/></g><g filter="url(#b5)" opacity="0.55"><ellipse cx="1655.6" cy="641.1" rx="26.3" ry="13.1" fill="#ffb840" transform="rotate(-52 1655.6 641.1)"/><ellipse cx="1643.0" cy="583.0" rx="13.3" ry="6.6" fill="#ffc850" transform="rotate(-22 1643.0 583.0)"/><ellipse cx="1689.5" cy="646.9" rx="24.5" ry="12.3" fill="#ffc850" transform="rotate(-33 1689.5 646.9)"/><ellipse cx="1696.9" cy="564.8" rx="12.3" ry="6.1" fill="#ffc850" transform="rotate(-70 1696.9 564.8)"/><ellipse cx="1606.8" cy="611.3" rx="26.0" ry="13.0" fill="#f08818" transform="rotate(-27 1606.8 611.3)"/><ellipse cx="1649.9" cy="556.3" rx="30.7" ry="15.4" fill="#ffb840" transform="rotate(-60 1649.9 556.3)"/><ellipse cx="1633.2" cy="619.5" rx="21.2" ry="10.6" fill="#f08818" transform="rotate(-65 1633.2 619.5)"/><ellipse cx="1628.1" cy="620.8" rx="24.9" ry="12.5" fill="#ffb840" transform="rotate(-36 1628.1 620.8)"/><ellipse cx="1675.3" cy="604.9" rx="27.6" ry="13.8" fill="#f08818" transform="rotate(-45 1675.3 604.9)"/><ellipse cx="1663.2" cy="557.7" rx="26.8" ry="13.4" fill="#f08818" transform="rotate(-38 1663.2 557.7)"/><ellipse cx="1656.3" cy="558.8" rx="27.8" ry="13.9" fill="#ffb840" transform="rotate(-28 1656.3 558.8)"/><ellipse cx="1632.7" cy="608.9" rx="13.5" ry="6.7" fill="#f08818" transform="rotate(-58 1632.7 608.9)"/><ellipse cx="1644.1" cy="633.0" rx="17.0" ry="8.5" fill="#ffc850" transform="rotate(-24 1644.1 633.0)"/><ellipse cx="1620.0" cy="645.2" rx="27.6" ry="13.8" fill="#ffb840" transform="rotate(-28 1620.0 645.2)"/><ellipse cx="1604.9" cy="567.1" rx="25.4" ry="12.7" fill="#ffb840" transform="rotate(-62 1604.9 567.1)"/><ellipse cx="1671.9" cy="610.2" rx="23.8" ry="11.9" fill="#ffc850" transform="rotate(-41 1671.9 610.2)"/><ellipse cx="1650.7" cy="641.1" rx="27.9" ry="13.9" fill="#ffc850" transform="rotate(-52 1650.7 641.1)"/><ellipse cx="1655.3" cy="639.8" rx="27.5" ry="13.8" fill="#ffc850" transform="rotate(-46 1655.3 639.8)"/><ellipse cx="1685.5" cy="639.4" rx="17.3" ry="8.7" fill="#ffc850" transform="rotate(-60 1685.5 639.4)"/><ellipse cx="1633.4" cy="610.0" rx="21.5" ry="10.8" fill="#ffc850" transform="rotate(-64 1633.4 610.0)"/><ellipse cx="1633.5" cy="617.3" rx="23.5" ry="11.7" fill="#f08818" transform="rotate(-24 1633.5 617.3)"/><ellipse cx="1646.0" cy="633.7" rx="27.3" ry="13.6" fill="#ffb840" transform="rotate(-42 1646.0 633.7)"/><ellipse cx="1691.8" cy="629.6" rx="14.1" ry="7.0" fill="#ffc850" transform="rotate(-47 1691.8 629.6)"/><ellipse cx="1669.0" cy="616.2" rx="30.3" ry="15.1" fill="#ffb840" transform="rotate(-55 1669.0 616.2)"/></g></g><g filter="url(#b12)"><g clip-path="url(#clipO)"><path d="M1483.0,283.6 1493.8,279.3 1504.6,276.3 1515.4,274.7 1526.2,274.4 1537.0,275.5 1547.5,277.1 1557.7,279.3 1567.7,282.0 1577.5,285.2 1586.9,289.0 1596.1,293.3 1605.0,298.2 1613.6,303.6 1621.7,309.0 1629.3,314.4 1636.3,319.8 1642.8,325.2 1649.3,329.8 1655.7,333.5 1662.2,336.5 1668.7,338.7 1675.2,340.6 1681.7,342.2 1688.1,343.5 1694.6,344.6 1699.5,357.0 1702.7,380.8 1704.3,415.9 1704.3,462.3 1702.7,497.7 1699.5,522.0 1694.6,535.2 1688.1,537.4 1681.9,539.5 1676.0,541.7 1670.3,543.8 1664.9,546.0 1659.5,549.0 1654.1,552.8 1648.7,557.3 1643.3,562.7 1637.7,568.4 1631.7,574.4 1625.5,580.6 1619.0,587.0 1612.5,593.3 1606.1,599.2 1599.6,604.9 1593.1,610.3 1586.6,615.7 1580.2,621.1 1573.7,626.5 1567.2,631.9 1560.7,637.3 1554.2,642.7 1547.8,648.1 1541.3,653.5 1534.8,657.5 1528.3,660.2 1521.8,661.6 1515.4,661.6 1508.9,660.2 1502.4,657.5 1495.9,653.5 1489.4,648.1 1482.4,643.6 1474.9,640.1 1466.8,637.5 1458.1,635.9 1448.9,634.4 1439.2,633.1 1429.0,631.9 1418.2,630.8 1407.9,629.7 1398.2,628.6 1389.0,627.5 1380.4,626.5 1372.3,626.3 1364.7,627.1 1357.7,628.9 1351.2,631.6 1344.7,633.1 1338.3,633.3 1331.8,632.4 1325.3,630.2 1319.4,627.0 1314.0,622.7 1309.1,617.3 1304.8,610.8 1301.0,603.8 1297.8,596.2 1295.1,588.1 1292.9,579.5 1290.2,571.7 1287.0,564.6 1283.2,558.4 1278.9,553.0 1274.0,548.2 1268.6,543.8 1262.7,540.1 1256.2,536.8 1250.0,533.3 1244.0,529.5 1238.4,525.5 1233.0,521.2 1228.4,516.3 1224.6,510.9 1221.6,505.0 1219.5,498.5 1218.4,492.0 1218.4,485.5 1219.5,479.0 1221.6,472.6 1224.9,466.9 1229.2,462.0 1234.6,458.0 1241.1,454.8 1247.8,452.1 1254.8,449.9 1262.1,448.3 1269.7,447.2 1276.2,444.8 1281.6,441.0 1285.9,435.9 1289.1,429.4 1291.5,422.4 1293.2,414.8 1294.0,406.7 1294.0,398.1 1294.5,389.7 1295.6,381.6 1297.2,373.8 1299.4,366.2 1302.3,359.3 1306.1,353.1 1310.7,347.6 1316.1,342.7 1322.3,338.4 1329.3,334.6 1337.2,331.4 1345.8,328.7 1355.0,326.2 1364.7,324.1 1375.0,322.2 1385.8,320.6 1396.0,318.7 1405.7,316.5 1414.9,314.1 1423.6,311.4 1431.9,308.3 1440.0,304.8 1447.9,300.9 1455.4,296.5 1463.8,292.2 1473.0,287.9Z" fill="#ea8212" stroke="#ea8212" stroke-width="56" stroke-linejoin="round" filter="url(#b20)"/></g></g><path d="M1483.0,283.6 1493.8,279.3 1504.6,276.3 1515.4,274.7 1526.2,274.4 1537.0,275.5 1547.5,277.1 1557.7,279.3 1567.7,282.0 1577.5,285.2 1586.9,289.0 1596.1,293.3 1605.0,298.2 1613.6,303.6 1621.7,309.0 1629.3,314.4 1636.3,319.8 1642.8,325.2 1649.3,329.8 1655.7,333.5 1662.2,336.5 1668.7,338.7 1675.2,340.6 1681.7,342.2 1688.1,343.5 1694.6,344.6 1699.5,357.0 1702.7,380.8 1704.3,415.9 1704.3,462.3 1702.7,497.7 1699.5,522.0 1694.6,535.2 1688.1,537.4 1681.9,539.5 1676.0,541.7 1670.3,543.8 1664.9,546.0 1659.5,549.0 1654.1,552.8 1648.7,557.3 1643.3,562.7 1637.7,568.4 1631.7,574.4 1625.5,580.6 1619.0,587.0 1612.5,593.3 1606.1,599.2 1599.6,604.9 1593.1,610.3 1586.6,615.7 1580.2,621.1 1573.7,626.5 1567.2,631.9 1560.7,637.3 1554.2,642.7 1547.8,648.1 1541.3,653.5 1534.8,657.5 1528.3,660.2 1521.8,661.6 1515.4,661.6 1508.9,660.2 1502.4,657.5 1495.9,653.5 1489.4,648.1 1482.4,643.6 1474.9,640.1 1466.8,637.5 1458.1,635.9 1448.9,634.4 1439.2,633.1 1429.0,631.9 1418.2,630.8 1407.9,629.7 1398.2,628.6 1389.0,627.5 1380.4,626.5 1372.3,626.3 1364.7,627.1 1357.7,628.9 1351.2,631.6 1344.7,633.1 1338.3,633.3 1331.8,632.4 1325.3,630.2 1319.4,627.0 1314.0,622.7 1309.1,617.3 1304.8,610.8 1301.0,603.8 1297.8,596.2 1295.1,588.1 1292.9,579.5 1290.2,571.7 1287.0,564.6 1283.2,558.4 1278.9,553.0 1274.0,548.2 1268.6,543.8 1262.7,540.1 1256.2,536.8 1250.0,533.3 1244.0,529.5 1238.4,525.5 1233.0,521.2 1228.4,516.3 1224.6,510.9 1221.6,505.0 1219.5,498.5 1218.4,492.0 1218.4,485.5 1219.5,479.0 1221.6,472.6 1224.9,466.9 1229.2,462.0 1234.6,458.0 1241.1,454.8 1247.8,452.1 1254.8,449.9 1262.1,448.3 1269.7,447.2 1276.2,444.8 1281.6,441.0 1285.9,435.9 1289.1,429.4 1291.5,422.4 1293.2,414.8 1294.0,406.7 1294.0,398.1 1294.5,389.7 1295.6,381.6 1297.2,373.8 1299.4,366.2 1302.3,359.3 1306.1,353.1 1310.7,347.6 1316.1,342.7 1322.3,338.4 1329.3,334.6 1337.2,331.4 1345.8,328.7 1355.0,326.2 1364.7,324.1 1375.0,322.2 1385.8,320.6 1396.0,318.7 1405.7,316.5 1414.9,314.1 1423.6,311.4 1431.9,308.3 1440.0,304.8 1447.9,300.9 1455.4,296.5 1463.8,292.2 1473.0,287.9Z" fill="#d05c00" stroke="#d05c00" stroke-width="14" filter="url(#b12)"/><path d="M1643.9,341.9 1713.0,324.6 1713.0,488.8 1661.1,514.7 1635.2,488.8Z" fill="#c05000" filter="url(#b20)"/><g filter="url(#b2)" opacity="0.8"><ellipse cx="1675.3" cy="341.0" rx="5.9" ry="5.9" fill="#a03000" transform="rotate(-20 1675.3 341.0)"/><ellipse cx="1661.2" cy="322.6" rx="3.4" ry="3.4" fill="#a03000" transform="rotate(-2 1661.2 322.6)"/><ellipse cx="1685.3" cy="318.2" rx="4.6" ry="4.6" fill="#a03000" transform="rotate(-1 1685.3 318.2)"/><ellipse cx="1676.1" cy="331.8" rx="5.7" ry="5.7" fill="#a03000" transform="rotate(-15 1676.1 331.8)"/><ellipse cx="1666.5" cy="315.8" rx="5.2" ry="5.2" fill="#a03000" transform="rotate(-14 1666.5 315.8)"/><ellipse cx="1682.4" cy="320.8" rx="5.1" ry="5.1" fill="#8c1c00" transform="rotate(-25 1682.4 320.8)"/><ellipse cx="1686.8" cy="310.0" rx="6.0" ry="6.0" fill="#8c1c00" transform="rotate(23 1686.8 310.0)"/><ellipse cx="1699.2" cy="311.7" rx="3.9" ry="3.9" fill="#8c1c00" transform="rotate(6 1699.2 311.7)"/><ellipse cx="1701.5" cy="327.8" rx="5.2" ry="5.2" fill="#a03000" transform="rotate(14 1701.5 327.8)"/><ellipse cx="1662.7" cy="322.6" rx="4.2" ry="4.2" fill="#a03000" transform="rotate(3 1662.7 322.6)"/><ellipse cx="1703.8" cy="294.4" rx="3.4" ry="3.4" fill="#8c1c00" transform="rotate(11 1703.8 294.4)"/><ellipse cx="1668.4" cy="293.4" rx="3.4" ry="3.4" fill="#a03000" transform="rotate(2 1668.4 293.4)"/><ellipse cx="1701.7" cy="318.3" rx="4.8" ry="4.8" fill="#a03000" transform="rotate(6 1701.7 318.3)"/><ellipse cx="1668.5" cy="319.3" rx="5.1" ry="5.1" fill="#8c1c00" transform="rotate(-19 1668.5 319.3)"/></g><path d="M1490.1,306.8 1497.1,306.0 1504.1,305.7 1511.1,305.9 1518.1,306.6 1525.1,307.9 1532.1,309.4 1539.1,311.2 1546.1,313.3 1553.0,315.7 1559.7,318.4 1566.0,321.3 1571.9,324.5 1577.5,328.0 1582.8,331.5 1587.7,335.0 1592.2,338.5 1596.4,342.0 1600.2,345.7 1603.7,349.5 1606.9,353.5 1609.7,357.7 1612.3,361.9 1614.7,366.0 1617.0,370.1 1619.1,374.2 1621.4,377.9 1623.8,381.3 1626.5,384.4 1629.3,387.2 1632.0,390.2 1634.6,393.4 1637.1,396.7 1639.6,400.2 1641.7,403.8 1643.7,407.7 1645.3,411.7 1646.7,415.9 1647.9,420.3 1648.8,424.8 1649.6,429.5 1650.0,434.4 1650.3,439.5 1650.3,444.7 1650.0,450.2 1649.6,455.7 1648.9,461.2 1648.2,466.4 1647.3,471.5 1646.2,476.4 1645.2,481.3 1644.4,486.2 1643.6,491.1 1642.9,495.9 1642.0,501.0 1641.0,506.3 1639.7,511.7 1638.3,517.3 1636.4,523.0 1634.0,529.0 1631.0,535.1 1627.5,541.4 1623.7,547.5 1619.5,553.4 1614.9,559.2 1610.0,564.8 1605.0,570.2 1599.7,575.5 1594.3,580.5 1588.7,585.4 1583.1,590.3 1577.5,595.2 1571.9,600.1 1566.3,605.0 1561.1,609.7 1556.2,614.3 1551.6,618.6 1547.5,622.8 1543.8,626.9 1540.6,630.7 1538.0,634.4 1535.9,637.9 1533.5,641.0 1530.7,643.8 1527.5,646.3 1524.0,648.4 1520.0,650.0 1515.5,651.2 1510.4,652.0 1504.8,652.4 1499.6,652.1 1494.7,651.2 1490.1,649.8 1485.9,647.7 1482.1,645.3 1478.6,642.7 1475.4,639.8 1472.7,636.6 1469.5,634.5 1466.0,633.5 1462.2,633.5 1458.0,634.5 1453.1,635.6 1447.5,636.6 1441.2,637.7 1434.2,638.7 1427.2,639.3 1420.2,639.3 1413.2,638.7 1406.2,637.7 1399.4,636.3 1392.8,634.5 1386.3,632.4 1380.0,630.0 1373.9,627.5 1368.0,624.8 1362.2,622.1 1356.6,619.3 1351.4,616.3 1346.7,613.0 1342.4,609.4 1338.6,605.5 1335.3,601.5 1332.5,597.3 1330.2,592.9 1328.5,588.4 1327.0,583.4 1325.8,578.0 1324.8,572.2 1324.1,565.9 1323.2,559.4 1322.2,552.8 1320.9,545.9 1319.5,538.9 1318.0,532.0 1316.3,525.0 1314.5,518.0 1312.6,511.0 1310.9,504.0 1309.5,497.0 1308.4,490.0 1307.5,483.0 1307.0,475.7 1306.7,468.0 1306.8,459.9 1307.1,451.6 1307.5,443.2 1307.8,434.8 1308.2,426.4 1308.5,418.0 1309.0,410.0 1309.5,402.3 1310.1,394.9 1310.8,387.9 1311.7,381.2 1312.7,374.7 1314.0,368.5 1315.4,362.6 1317.4,357.6 1320.2,353.4 1323.7,350.2 1327.9,347.9 1332.5,346.1 1337.4,344.9 1342.6,344.2 1348.2,344.1 1353.8,344.2 1359.4,344.5 1365.0,344.9 1370.6,345.6 1376.2,345.8 1381.8,345.5 1387.4,344.6 1393.0,343.2 1398.5,341.7 1404.1,340.0 1409.7,338.2 1415.3,336.2 1420.7,334.2 1426.0,332.2 1431.1,330.1 1435.9,328.0 1440.7,325.9 1445.2,323.7 1449.6,321.5 1453.8,319.3 1458.1,317.1 1462.7,315.0 1467.4,313.0 1472.3,311.0 1477.7,309.4 1483.7,308.0Z" fill="#a83400" stroke="#a83400" stroke-width="34" stroke-linejoin="round" filter="url(#b12)"/><ellipse cx="1246.5" cy="488.8" rx="26" ry="36" fill="#a43000" filter="url(#b8)" transform="rotate(15 1246.5 488.8)"/><ellipse cx="1247.5" cy="490.8" rx="13" ry="29" fill="#800000" filter="url(#b3)" transform="rotate(8 1246.5 488.8)"/><ellipse cx="1216.5" cy="462.8" rx="16" ry="20" fill="#a83800" filter="url(#b5)" opacity="0.8"/><ellipse cx="1281.0" cy="497.4" rx="30" ry="22" fill="#b84400" filter="url(#b8)"/><path d="M1246.5,441.3 1244.8,441.8 1241.6,442.9 1236.7,444.5 1230.3,446.7 1224.5,449.4 1219.3,452.6 1214.9,456.4 1211.1,460.7 1208.3,465.3 1206.4,470.1 1205.4,475.3 1205.4,480.7 1206.2,486.3 1207.9,492.3 1210.3,498.5 1213.5,505.0 1216.6,511.2 1219.6,517.1 1222.4,522.8 1225.1,528.2 1227.2,532.2 1228.5,534.9 1229.2,536.3" fill="none" stroke="#ffc050" stroke-width="7" filter="url(#b3)" opacity="0.8"/><path d="M1490.1,306.8 1497.1,306.0 1504.1,305.7 1511.1,305.9 1518.1,306.6 1525.1,307.9 1532.1,309.4 1539.1,311.2 1546.1,313.3 1553.0,315.7 1559.7,318.4 1566.0,321.3 1571.9,324.5 1577.5,328.0 1582.8,331.5 1587.7,335.0 1592.2,338.5 1596.4,342.0 1600.2,345.7 1603.7,349.5 1606.9,353.5 1609.7,357.7 1612.3,361.9 1614.7,366.0 1617.0,370.1 1619.1,374.2 1621.4,377.9 1623.8,381.3 1626.5,384.4 1629.3,387.2 1632.0,390.2 1634.6,393.4 1637.1,396.7 1639.6,400.2 1641.7,403.8 1643.7,407.7 1645.3,411.7 1646.7,415.9 1647.9,420.3 1648.8,424.8 1649.6,429.5 1650.0,434.4 1650.3,439.5 1650.3,444.7 1650.0,450.2 1649.6,455.7 1648.9,461.2 1648.2,466.4 1647.3,471.5 1646.2,476.4 1645.2,481.3 1644.4,486.2 1643.6,491.1 1642.9,495.9 1642.0,501.0 1641.0,506.3 1639.7,511.7 1638.3,517.3 1636.4,523.0 1634.0,529.0 1631.0,535.1 1627.5,541.4 1623.7,547.5 1619.5,553.4 1614.9,559.2 1610.0,564.8 1605.0,570.2 1599.7,575.5 1594.3,580.5 1588.7,585.4 1583.1,590.3 1577.5,595.2 1571.9,600.1 1566.3,605.0 1561.1,609.7 1556.2,614.3 1551.6,618.6 1547.5,622.8 1543.8,626.9 1540.6,630.7 1538.0,634.4 1535.9,637.9 1533.5,641.0 1530.7,643.8 1527.5,646.3 1524.0,648.4 1520.0,650.0 1515.5,651.2 1510.4,652.0 1504.8,652.4 1499.6,652.1 1494.7,651.2 1490.1,649.8 1485.9,647.7 1482.1,645.3 1478.6,642.7 1475.4,639.8 1472.7,636.6 1469.5,634.5 1466.0,633.5 1462.2,633.5 1458.0,634.5 1453.1,635.6 1447.5,636.6 1441.2,637.7 1434.2,638.7 1427.2,639.3 1420.2,639.3 1413.2,638.7 1406.2,637.7 1399.4,636.3 1392.8,634.5 1386.3,632.4 1380.0,630.0 1373.9,627.5 1368.0,624.8 1362.2,622.1 1356.6,619.3 1351.4,616.3 1346.7,613.0 1342.4,609.4 1338.6,605.5 1335.3,601.5 1332.5,597.3 1330.2,592.9 1328.5,588.4 1327.0,583.4 1325.8,578.0 1324.8,572.2 1324.1,565.9 1323.2,559.4 1322.2,552.8 1320.9,545.9 1319.5,538.9 1318.0,532.0 1316.3,525.0 1314.5,518.0 1312.6,511.0 1310.9,504.0 1309.5,497.0 1308.4,490.0 1307.5,483.0 1307.0,475.7 1306.7,468.0 1306.8,459.9 1307.1,451.6 1307.5,443.2 1307.8,434.8 1308.2,426.4 1308.5,418.0 1309.0,410.0 1309.5,402.3 1310.1,394.9 1310.8,387.9 1311.7,381.2 1312.7,374.7 1314.0,368.5 1315.4,362.6 1317.4,357.6 1320.2,353.4 1323.7,350.2 1327.9,347.9 1332.5,346.1 1337.4,344.9 1342.6,344.2 1348.2,344.1 1353.8,344.2 1359.4,344.5 1365.0,344.9 1370.6,345.6 1376.2,345.8 1381.8,345.5 1387.4,344.6 1393.0,343.2 1398.5,341.7 1404.1,340.0 1409.7,338.2 1415.3,336.2 1420.7,334.2 1426.0,332.2 1431.1,330.1 1435.9,328.0 1440.7,325.9 1445.2,323.7 1449.6,321.5 1453.8,319.3 1458.1,317.1 1462.7,315.0 1467.4,313.0 1472.3,311.0 1477.7,309.4 1483.7,308.0Z" fill="#800000" stroke="#800000" stroke-width="6" filter="url(#b8)"/><g opacity="0.55" filter="url(#b3)" fill="none" stroke="#a83400" stroke-width="5"><path d="M1331.4,562.0 1333.0,562.9 1336.2,564.6 1340.9,567.3 1347.2,570.8 1354.0,573.7 1361.3,576.2 1369.2,578.1 1377.6,579.5 1385.6,580.2 1393.3,580.2 1400.6,579.5 1407.6,578.1 1412.9,577.0 1416.4,576.3 1418.1,576.0"/><path d="M1334.2,584.4 1336.0,585.3 1339.5,587.0 1344.7,589.6 1351.7,593.1 1359.0,596.1 1366.7,598.5 1374.8,600.5 1383.2,601.9 1391.6,602.6 1399.9,602.8 1408.3,602.4 1416.7,601.3 1423.0,600.6 1427.2,600.0 1429.3,599.8"/><path d="M1351.0,609.6 1353.1,610.3 1357.3,611.6 1363.6,613.7 1372.0,616.5 1380.4,618.8 1388.8,620.6 1397.1,621.8 1405.5,622.5 1413.6,622.8 1421.3,622.8 1428.6,622.5 1435.6,621.8 1440.8,621.3 1444.3,620.9 1446.1,620.7"/><path d="M1367.8,553.6 1369.5,554.0 1373.0,554.7 1378.3,555.7 1385.3,557.1 1392.1,557.8 1398.7,557.8 1405.2,557.1 1411.5,555.7 1416.2,554.7 1419.3,554.0 1420.9,553.6"/></g><ellipse cx="1357" cy="588" rx="52" ry="34" fill="#a42c00" filter="url(#b12)" opacity="0.55" transform="rotate(25 1357 588)"/><path d="M1206.7,517.2 1215.5,518.2 1223.6,522.0 1231.1,528.4 1238.0,537.6 1244.2,549.5 1249.6,561.7 1254.3,574.1 1258.2,586.8 1261.3,599.7 1262.4,610.7 1261.7,619.8 1259.0,626.9 1254.3,632.1 1248.9,635.5 1242.7,637.0 1235.7,636.7 1227.9,634.7 1220.8,630.4 1214.3,623.9 1208.5,615.3 1203.3,604.4 1199.3,591.7 1196.5,577.2 1194.8,560.9 1194.3,542.8 1196.1,529.5 1200.2,520.9Z" fill="#eef67e" filter="url(#b8)" opacity="0.9"/><g filter="url(#b2)" opacity="0.9"><ellipse cx="1219.0" cy="555.6" rx="6.4" ry="4.3" fill="#f09828" transform="rotate(55 1219.0 555.6)"/><ellipse cx="1245.1" cy="612.5" rx="7.3" ry="4.9" fill="#e88018" transform="rotate(53 1245.1 612.5)"/><ellipse cx="1228.8" cy="692.5" rx="8.3" ry="5.5" fill="#e88018" transform="rotate(43 1228.8 692.5)"/><ellipse cx="1172.5" cy="672.0" rx="7.9" ry="5.3" fill="#f09828" transform="rotate(20 1172.5 672.0)"/><ellipse cx="1195.8" cy="629.8" rx="8.1" ry="5.4" fill="#e88018" transform="rotate(52 1195.8 629.8)"/><ellipse cx="1208.7" cy="645.5" rx="6.2" ry="4.1" fill="#f09828" transform="rotate(48 1208.7 645.5)"/><ellipse cx="1213.6" cy="623.5" rx="3.6" ry="2.4" fill="#f09828" transform="rotate(56 1213.6 623.5)"/><ellipse cx="1204.1" cy="599.8" rx="6.9" ry="4.6" fill="#ffb040" transform="rotate(16 1204.1 599.8)"/><ellipse cx="1188.0" cy="627.2" rx="7.5" ry="5.0" fill="#f09828" transform="rotate(61 1188.0 627.2)"/><ellipse cx="1161.2" cy="695.3" rx="7.1" ry="4.7" fill="#ffc860" transform="rotate(59 1161.2 695.3)"/><ellipse cx="1179.7" cy="647.2" rx="4.8" ry="3.2" fill="#f09828" transform="rotate(33 1179.7 647.2)"/><ellipse cx="1183.6" cy="574.0" rx="4.0" ry="2.7" fill="#ffc860" transform="rotate(54 1183.6 574.0)"/><ellipse cx="1214.9" cy="612.6" rx="3.8" ry="2.5" fill="#f09828" transform="rotate(32 1214.9 612.6)"/><ellipse cx="1216.1" cy="555.1" rx="6.6" ry="4.4" fill="#ffc860" transform="rotate(37 1216.1 555.1)"/></g><ellipse cx="1283.2" cy="645.1" rx="35.4" ry="11.2" fill="#8a0c00" filter="url(#b3)" transform="rotate(-14 1283.2 645.1)"/><ellipse cx="1229.2" cy="649.5" rx="14.7" ry="8.6" fill="#982000" filter="url(#b3)" transform="rotate(-20 1229.2 649.5)"/><ellipse cx="1274.5" cy="647.7" rx="25.9" ry="6.9" fill="#800000" filter="url(#b3)" transform="rotate(-14 1274.5 647.7)"/><ellipse cx="1147.1" cy="649.5" rx="6.9" ry="5.2" fill="#c85000" filter="url(#b2)" transform="rotate(0 1147.1 649.5)"/><ellipse cx="1166.5" cy="653.8" rx="6.0" ry="3.9" fill="#f08818" filter="url(#b2)" transform="rotate(0 1166.5 653.8)"/><ellipse cx="1129.8" cy="647.7" rx="6.0" ry="3.5" fill="#ffc050" filter="url(#b2)" transform="rotate(0 1129.8 647.7)"/><ellipse cx="1198.9" cy="636.5" rx="9.5" ry="6.0" fill="#e07010" filter="url(#b3)" transform="rotate(0 1198.9 636.5)"/><ellipse cx="1192.5" cy="758.3" rx="18.1" ry="11.2" fill="#ff9a20" filter="url(#b3)" transform="rotate(0 1192.5 758.3)"/><ellipse cx="1192.5" cy="760.9" rx="13.0" ry="6.9" fill="#800000" filter="url(#b2)" transform="rotate(0 1192.5 760.9)"/><ellipse cx="1541.1" cy="760.0" rx="9.5" ry="4.3" fill="#800000" filter="url(#b2)" transform="rotate(0 1541.1 760.0)"/><ellipse cx="1209.7" cy="678.8" rx="4.3" ry="3.0" fill="#ffd060" filter="url(#b2)" transform="rotate(0 1209.7 678.8)"/><ellipse cx="1205.4" cy="562.2" rx="4.3" ry="3.5" fill="#f08818" filter="url(#b2)" transform="rotate(0 1205.4 562.2)"/><ellipse cx="1194.6" cy="605.4" rx="4.3" ry="2.6" fill="#ffc050" filter="url(#b2)" transform="rotate(0 1194.6 605.4)"/><ellipse cx="1186.0" cy="575.2" rx="2.6" ry="2.2" fill="#ffc050" filter="url(#b2)" transform="rotate(0 1186.0 575.2)"/><ellipse cx="1246.5" cy="674.5" rx="8.6" ry="4.3" fill="#ffd060" filter="url(#b2)" transform="rotate(0 1246.5 674.5)"/><ellipse cx="1177.3" cy="735.0" rx="17.3" ry="11.2" fill="#ffe070" filter="url(#b5)" transform="rotate(0 1177.3 735.0)"/><ellipse cx="1211.9" cy="726.3" rx="13.0" ry="7.8" fill="#ffc850" filter="url(#b5)" transform="rotate(0 1211.9 726.3)"/></g>
<g clip-path="url(#clip2)"><g fill="none" stroke="#fff" stroke-width="2" stroke-linejoin="round"><path d="M1006.9,177.3 1009.2,174.8 1011.5,172.3 1014.2,170.6 1016.8,168.8 1019.9,167.8 1023.2,166.6 1026.4,165.0 1029.5,163.5 1032.8,161.8 1036.0,160.4 1039.7,159.9 1043.4,159.2 1047.8,159.3 1052.1,159.6 1055.4,159.9 1058.6,160.6 1061.8,161.3 1065.4,161.9 1069.0,162.2 1072.7,162.5 1076.2,163.5 1079.8,164.2 1083.3,165.0 1086.9,165.6 1090.5,166.1 1094.1,166.6 1097.4,167.3 1100.7,167.8 1103.9,168.5 1106.8,169.6 1109.5,171.1 1112.4,172.1 1115.3,173.1 1118.2,174.3 1121.1,175.4 1124.0,176.3 1127.0,177.1 1129.9,178.0 1133.8,179.4 1137.6,181.0 1140.8,182.7 1144.1,184.3 1146.9,186.2 1149.6,188.2 1151.9,190.2 1154.3,192.2 1158.2,196.2 1161.8,200.4 1159.9,204.0 1154.2,204.3 1150.7,204.2 1147.1,204.5 1142.8,204.6 1138.5,205.4 1134.7,204.8 1130.9,204.7 1127.8,203.2 1124.5,202.3 1119.1,200.6 1114.7,199.6 1111.5,201.1 1109.6,204.5 1106.2,206.6 1101.7,207.4 1098.3,209.4 1095.9,212.4 1093.5,215.1 1090.4,216.9 1087.4,216.0 1085.5,212.0 1081.9,208.9 1076.5,206.6 1073.0,205.6 1069.4,205.1 1065.1,204.3 1060.7,204.1 1057.2,204.0 1053.7,204.1 1048.3,205.2 1043.9,203.8 1040.6,199.4 1036.8,196.3 1032.7,193.8 1030.0,192.2 1027.5,190.3 1023.9,188.7 1020.7,186.5 1017.8,185.0 1014.9,183.5 1009.5,182.3 1006.2,181.5 1005.1,180.5Z"/><path d="M1408.8,100.9 1409.4,103.7 1410.0,109.3 1409.6,113.6 1408.1,116.6 1409.8,120.1 1412.0,122.1 1414.2,124.2 1418.3,128.4 1422.3,132.4 1426.2,136.6 1430.1,140.8 1434.7,144.2 1439.5,146.8 1441.9,149.7 1441.9,154.1 1439.4,156.1 1434.8,155.3 1430.6,155.3 1426.5,155.8 1422.9,157.7 1419.8,160.6 1416.3,162.8 1412.3,164.1 1407.9,164.5 1403.0,164.0 1400.0,163.5 1396.9,163.5 1393.4,163.0 1389.8,163.0 1386.0,162.4 1382.2,162.0 1378.2,161.5 1374.2,160.8 1370.4,160.6 1366.7,160.1 1363.1,160.1 1359.6,159.6 1355.9,159.1 1352.1,158.6 1348.1,158.3 1344.1,158.0 1340.2,157.1 1336.2,156.0 1332.1,154.6 1328.1,153.1 1325.1,152.3 1322.1,151.5 1319.4,150.0 1316.2,149.1 1312.9,148.7 1309.6,148.5 1305.6,149.1 1301.6,149.0 1298.4,150.5 1295.2,151.6 1293.3,154.0 1291.3,156.1 1290.3,159.0 1289.0,161.8 1289.6,166.8 1292.7,171.0 1295.4,172.7 1298.3,174.4 1302.6,175.6 1306.9,176.6 1310.6,178.4 1314.3,180.2 1317.8,182.0 1320.9,184.3 1324.0,186.3 1327.1,188.3 1329.7,190.5 1332.3,193.0 1336.3,193.8 1338.7,190.2 1339.6,188.4"/><path d="M1337.9,183.2 1342.4,181.9 1345.6,181.6 1348.6,180.8 1351.6,179.9 1355.5,179.0 1359.6,178.4 1363.2,178.6 1366.7,179.2 1370.4,179.9 1374.1,180.7 1378.1,181.5 1382.2,182.1 1386.5,182.7 1390.9,183.1 1393.9,183.4 1397.0,183.6 1399.9,184.3 1403.2,184.2 1406.6,184.5 1409.9,184.3 1413.6,183.5 1417.3,182.9 1421.0,182.4 1424.4,182.3 1427.7,181.8 1431.1,181.7 1434.1,181.3 1437.1,181.1 1440.1,180.4 1444.4,179.9 1448.7,179.7 1452.7,179.7 1456.8,179.6 1460.4,179.7 1463.9,180.2 1467.0,181.7 1470.0,183.0 1472.8,185.1 1475.8,186.7 1478.9,188.7 1481.8,190.8 1484.0,192.8 1486.3,194.8 1489.4,198.7 1491.4,203.7 1492.3,206.7 1493.2,209.4 1495.1,213.6 1499.0,215.9 1502.6,218.7 1505.8,222.6 1508.4,222.8 1511.4,220.1 1514.8,215.5 1516.8,212.5 1518.4,209.2 1520.5,205.6 1522.9,202.2 1524.8,199.6 1526.3,196.8 1527.9,194.2 1529.5,190.8 1531.1,187.4 1531.6,184.5 1532.2,181.3 1535.1,177.6 1539.4,176.4 1543.8,174.8 1548.9,173.3 1553.8,170.6 1556.4,168.9 1558.9,167.0 1563.4,166.7 1567.2,168.8 1569.5,172.4 1570.6,177.9 1574.0,180.9 1579.1,181.5 1582.8,180.9 1586.6,180.5 1589.9,179.9 1593.3,179.4 1596.7,179.2 1600.6,177.6 1604.4,175.7 1607.1,172.8 1609.6,169.8 1612.5,167.8 1615.5,165.8 1618.9,164.5 1622.3,163.3 1626.2,163.5 1629.9,163.5 1633.9,163.8 1637.9,164.1 1641.0,163.9 1644.0,164.0 1647.0,164.2 1650.4,164.7 1653.7,165.1 1657.1,165.2 1660.4,165.7 1663.8,165.4 1667.1,165.2 1670.5,165.3 1673.9,165.6 1677.2,165.8 1680.7,165.8 1684.0,165.9 1687.4,166.6 1690.7,167.5 1693.9,168.6 1697.3,168.9 1702.4,169.2"/><path d="M1375.1,127.7 1377.1,126.6 1381.1,126.9 1384.1,128.1 1387.0,129.7 1389.9,131.2 1393.1,132.1 1396.2,133.5 1399.2,135.1 1403.6,138.1 1406.4,141.1 1407.3,143.0 1406.8,144.2 1403.5,144.0 1400.5,142.8 1397.6,141.7 1394.4,140.2 1391.0,139.2 1387.4,138.1 1383.7,137.0 1381.1,135.2 1378.5,133.4 1375.2,129.8Z"/><path d="M1670.6,101.9 1671.0,103.4 1671.9,106.7 1667.7,108.3 1664.6,107.8 1661.6,107.4 1658.6,107.1 1654.6,107.1 1650.5,107.3 1647.0,107.7 1643.6,108.0 1640.1,110.0 1640.6,114.2 1645.2,116.6 1649.5,116.9 1653.8,117.1 1656.9,117.6 1659.9,118.6 1663.0,119.4 1666.2,120.8 1669.7,121.7 1673.2,122.5 1676.9,122.7 1680.6,123.2 1684.3,123.5 1687.3,123.3 1690.3,123.2 1693.3,122.9 1696.3,122.4 1699.3,122.0 1702.4,121.8"/><path d="M1344.0,188.9 1346.8,188.7 1349.3,188.8 1351.6,190.2 1351.5,191.7 1349.2,192.8 1346.7,192.4 1343.9,190.7Z"/><path d="M1203.2,763.1 1204.1,760.1 1205.3,757.3 1205.8,754.2 1206.3,751.1 1207.0,748.1 1207.9,745.1 1209.3,742.4 1211.1,739.9 1212.6,737.3 1214.4,734.9 1216.7,732.5 1219.1,730.3 1221.5,728.1 1224.0,726.0 1226.7,724.3 1229.4,722.4 1232.1,720.8 1234.7,718.9 1237.2,717.0 1240.0,715.6 1242.8,714.1 1245.5,712.5 1248.0,710.6 1250.8,709.3 1253.3,707.6 1256.0,706.1 1258.9,705.0 1261.6,703.7 1264.5,702.8 1267.1,701.2 1270.1,699.9 1273.0,698.6 1276.0,697.2 1278.9,695.6 1282.1,694.2 1285.3,692.7 1288.6,691.5 1291.7,689.8 1295.4,688.6 1299.0,687.3 1302.6,685.8 1305.4,684.6 1308.2,683.3 1311.2,682.6 1314.5,682.5 1317.7,682.2 1321.0,682.3 1324.6,682.6 1328.2,683.6 1331.9,683.6 1335.4,684.4 1339.0,684.7 1342.6,685.3 1346.2,685.0 1349.8,685.5 1353.4,685.6 1356.6,685.7 1359.8,685.3 1363.1,685.2 1367.3,684.2 1371.7,683.7 1374.8,682.3 1378.1,681.1 1381.3,679.7 1384.2,678.5 1387.1,677.1 1389.8,675.4 1392.2,673.4 1394.8,671.6 1397.7,670.3 1400.3,668.6 1403.0,666.9 1405.8,665.4 1408.5,663.9 1411.2,662.2 1413.7,660.3 1417.0,658.5 1420.2,656.7 1423.4,654.8 1426.2,653.2 1429.1,651.8 1432.1,650.6 1434.7,649.0 1437.1,646.9 1439.6,645.1 1441.7,643.0 1444.1,641.0 1446.5,639.1 1448.9,635.2 1451.4,631.5 1452.4,628.5 1453.4,625.6 1454.0,622.5 1456.0,619.6 1458.4,616.9 1463.9,614.7 1469.4,612.9 1474.8,610.7 1477.6,609.2 1480.2,607.4 1483.1,605.5 1485.7,603.3 1489.2,602.7 1492.7,601.5 1497.0,602.3 1501.3,602.6 1505.3,604.2 1509.4,605.4 1513.1,607.7 1516.9,609.8 1519.9,612.4 1522.9,615.2 1524.9,618.4 1527.2,621.6 1527.7,624.9 1528.7,628.1 1527.9,631.2 1527.3,634.4 1525.5,637.3 1523.7,640.3 1520.8,643.2 1517.6,645.9 1514.0,648.6 1510.3,650.9 1507.4,652.2 1504.4,653.0 1501.6,654.1 1498.6,655.0 1495.8,655.9 1492.8,656.5 1488.4,657.6 1484.0,658.2 1480.8,659.6 1477.5,661.0 1473.2,664.2 1472.0,667.2 1470.9,670.2 1471.0,674.5 1470.7,678.9 1472.1,683.2 1472.8,687.6 1474.4,690.5 1475.7,693.5 1477.2,696.4 1480.2,699.7 1483.2,703.0 1487.1,705.1 1490.9,707.4 1494.9,707.6 1498.6,708.0 1502.3,707.5 1506.1,706.9 1509.2,706.4 1512.3,705.8 1515.2,704.9 1518.8,703.6 1522.4,702.7 1526.1,702.0 1529.6,700.3 1533.2,699.2 1536.8,698.0 1540.6,696.8 1544.3,695.6 1547.9,694.4 1551.6,693.3 1555.1,691.8 1558.7,690.5 1562.2,689.2 1565.8,688.1 1569.3,686.8 1572.6,685.9 1575.8,684.7 1579.1,683.7 1581.9,682.4 1584.9,681.8 1587.8,680.6 1591.5,678.5 1595.4,677.0 1598.7,674.7 1602.1,672.9 1605.3,670.7 1608.4,668.3 1611.8,666.4 1614.8,664.1 1619.8,664.6 1621.7,666.5 1623.8,668.9 1627.3,670.4 1630.7,671.4 1635.2,671.6 1639.6,671.6 1643.9,671.7 1648.2,671.5 1652.5,670.8 1656.8,670.2 1660.1,670.8 1663.3,671.1 1666.5,671.5 1670.1,671.7 1673.7,672.4 1677.3,672.9 1680.9,673.3 1684.5,673.1 1688.1,673.3 1691.7,673.0 1695.4,673.3 1699.0,673.0 1704.3,672.4"/><path d="M1605.0,670.2 1603.1,665.7 1601.7,662.8 1600.3,660.0 1598.6,657.2 1597.5,654.4 1596.4,651.6 1595.4,648.7 1595.2,644.3 1594.9,640.0 1595.9,636.3 1596.3,632.4 1598.4,629.1 1600.8,626.1 1603.4,624.4 1605.6,622.3 1610.9,621.2 1615.9,623.9 1618.4,626.5 1621.1,629.1 1623.1,632.4 1625.3,635.7 1626.4,640.0 1627.6,644.3 1628.5,648.6 1629.4,652.9 1630.0,657.2 1630.4,661.6 1627.8,665.3 1624.3,664.0 1621.1,663.0 1617.9,661.6"/><path d="M1495.7,709.5 1493.9,712.6 1492.5,716.0 1490.6,718.9 1490.8,722.5 1490.9,726.3 1492.4,729.0 1493.8,731.9 1495.6,734.8 1495.9,738.3 1496.0,741.8 1496.4,745.3 1496.0,748.3 1495.2,751.2 1494.3,754.2 1493.6,757.1 1492.1,759.9 1490.6,762.7 1489.2,765.6 1486.0,768.3 1482.8,771.0 1480.6,773.4 1478.7,775.9 1476.5,778.2 1474.3,781.1 1472.1,783.9 1470.5,787.0 1469.5,790.1 1468.7,793.3 1467.6,796.5 1468.3,800.2 1469.0,803.8 1469.6,807.5 1471.5,810.9 1473.3,814.3 1475.3,817.7 1477.4,820.2 1479.4,822.7 1481.8,825.0 1484.0,827.4 1486.6,829.4 1488.8,831.8"/><path d="M1510.6,707.1 1509.7,710.9 1509.1,714.8 1507.6,718.5 1506.6,722.4 1505.4,726.4 1505.3,730.8 1504.8,735.0 1505.4,738.3 1505.6,741.7 1505.7,745.1 1506.6,748.0 1507.2,751.1 1508.0,754.0 1508.6,757.0 1510.4,760.0 1512.3,762.9 1514.1,765.9 1517.0,767.8 1519.8,769.7 1522.7,771.4 1524.8,773.8 1527.2,775.9 1529.4,778.2 1530.8,781.1 1532.3,783.9 1534.2,786.7 1534.7,790.4 1535.3,794.1 1535.8,797.8 1536.8,801.4 1537.1,804.8 1537.3,808.3 1537.8,811.7 1538.2,815.1 1538.5,818.5 1538.8,822.0 1539.2,825.4 1539.9,828.8 1540.3,832.2"/><path d="M1298.9,687.4 1299.3,691.7 1299.5,696.1 1299.9,700.4 1299.2,704.7 1299.0,709.1 1297.7,711.9 1296.7,714.8 1295.5,717.6 1293.0,720.0 1290.6,722.3 1287.4,722.8 1284.3,723.5 1280.5,722.0 1279.2,717.7 1280.7,713.6 1284.9,710.2 1286.9,708.3"/><path d="M1203.5,763.0 1204.1,766.0 1204.8,768.9 1205.0,772.0 1205.3,775.0 1205.6,778.0 1206.6,780.9 1206.9,783.9 1207.5,787.0 1207.6,790.1 1206.9,793.4 1206.5,796.7 1204.3,801.3 1200.8,803.4 1199.0,804.2"/><path d="M1609.8,588.9 1612.3,591.4 1615.6,594.4 1618.9,598.7 1620.3,601.6 1618.5,603.3 1616.1,601.9 1612.6,598.8 1610.0,594.9 1608.7,590.4Z"/><path d="M1674.3,605.3 1676.1,607.3 1679.1,611.8 1681.1,614.0 1683.3,616.2 1686.4,617.9 1688.9,620.1 1691.8,622.1 1694.6,624.3 1697.8,626.0 1701.0,627.8 1704.4,629.1"/></g></g>
<g stroke="#fff" stroke-width="2.1" stroke-dasharray="2.1 3.35" fill="none"><line x1="1030.0" y1="103.0" x2="1030.0" y2="762.0"/><line x1="1176.0" y1="103.0" x2="1176.0" y2="762.0"/><line x1="1321.5" y1="103.0" x2="1321.5" y2="762.0"/><line x1="1467.0" y1="103.0" x2="1467.0" y2="762.0"/><line x1="1613.0" y1="103.0" x2="1613.0" y2="762.0"/><line x1="1030.0" y1="196.0" x2="1697.0" y2="196.0"/><line x1="1030.0" y1="342.0" x2="1697.0" y2="342.0"/><line x1="1030.0" y1="487.5" x2="1697.0" y2="487.5"/><line x1="1030.0" y1="633.0" x2="1697.0" y2="633.0"/><line x1="1030.0" y1="779.0" x2="1697.0" y2="779.0"/></g>
<rect x="970.50" y="101.50" width="728.00" height="728.00" fill="none" stroke="#000" stroke-width="3"/>
<defs><linearGradient id="cb2" x1="0" y1="0" x2="0" y2="1"><stop offset="0.0000" stop-color="#ffffff"/><stop offset="0.3333" stop-color="#ffffff"/><stop offset="0.3333" stop-color="#5e1a78"/><stop offset="0.3667" stop-color="#3c4ab0"/><stop offset="0.4000" stop-color="#2460cc"/><stop offset="0.4333" stop-color="#0c84ff"/><stop offset="0.4667" stop-color="#32a4f8"/><stop offset="0.5000" stop-color="#64e4ff"/><stop offset="0.5333" stop-color="#80ffd4"/><stop offset="0.5667" stop-color="#74f070"/><stop offset="0.6000" stop-color="#d0f468"/><stop offset="0.6167" stop-color="#fff474"/><stop offset="0.6400" stop-color="#ffc850"/><stop offset="0.6667" stop-color="#ff9010"/><stop offset="0.7000" stop-color="#e06c00"/><stop offset="0.7333" stop-color="#c04c00"/><stop offset="0.7667" stop-color="#a02c00"/><stop offset="0.7933" stop-color="#840800"/><stop offset="0.8000" stop-color="#800000"/><stop offset="1.0000" stop-color="#800000"/></linearGradient></defs>
<rect x="1705.5" y="101.5" width="15.5" height="728" fill="url(#cb2)" stroke="#000" stroke-width="1"/>
<polyline points="126.40,1261.55 144.01,1261.55 161.62,1261.55 179.23,1261.55 196.84,1235.30 214.45,1235.30 232.06,1235.30 249.67,1235.30 267.28,1235.30 284.89,1235.30 302.50,1235.30 320.11,1235.30 337.72,1209.05 355.33,1209.05 372.94,1209.05 390.55,1182.80 408.16,1156.55 425.77,1156.55 443.38,1156.55 460.99,1156.55" fill="none" stroke="#0000ff" stroke-width="5.3" stroke-linejoin="miter"/>
<polyline points="460.99,1156.55 478.60,1156.55 496.21,1156.55 513.82,1143.42 531.43,1130.30 549.04,1117.17 566.65,1104.05 584.26,1090.92 601.87,1077.80 619.48,1064.67 637.09,1051.55 654.70,1038.42 672.31,1025.30 689.92,999.05 707.53,999.05 725.14,999.05 742.75,972.80 760.36,946.55 777.97,946.55 795.58,946.55 813.19,920.30" fill="none" stroke="#0000ff" stroke-width="5.3" stroke-linejoin="miter" stroke-dasharray="5.30 8.74"/>
<rect x="104.3" y="912.5" width="268.2" height="62.8" rx="4" fill="#fff" fill-opacity="0.8" stroke="#cccccc" stroke-opacity="0.8" stroke-width="2.8"/><line x1="111.2" y1="928.4" x2="154.5" y2="928.4" stroke="#0000ff" stroke-width="5.3"/><text x="165.50" y="935.30" font-size="19.23" textLength="146.35" lengthAdjust="spacingAndGlyphs" fill="#000">Wind[max=45]</text><line x1="111.2" y1="957.4" x2="154.5" y2="957.4" stroke="#0000ff" stroke-width="5.3" stroke-dasharray="5.30 8.74" stroke-dashoffset="-2"/><text x="165.50" y="964.30" font-size="19.23" textLength="200.22" lengthAdjust="spacingAndGlyphs" fill="#000">Wind Fore.[max=90]</text>
<polyline points="126.40,920.40 144.01,920.40 161.62,920.40 179.23,920.40 196.84,920.40 214.45,954.60 232.06,954.60 249.67,954.60 267.28,988.80 284.89,988.80 302.50,988.80 320.11,1023.00 337.72,1023.00 355.33,1023.00 372.94,1091.40 390.55,1159.80 408.16,1194.00 425.77,1194.00 443.38,1194.00 460.99,1262.40" fill="none" stroke="#1f77b4" stroke-width="5.3" stroke-linejoin="miter"/>
<rect x="604.4" y="912.5" width="231.3" height="34.7" rx="4" fill="#fff" fill-opacity="0.8" stroke="#cccccc" stroke-opacity="0.8" stroke-width="2.8"/><line x1="611.3" y1="928.6" x2="654.6" y2="928.6" stroke="#1f77b4" stroke-width="5.3"/><text x="665.60" y="935.50" font-size="19.23" textLength="163.62" lengthAdjust="spacingAndGlyphs" fill="#000">Pres.[min=1001]</text>
<polyline points="126.40,1635.80 144.01,1635.80 161.62,1635.80 179.23,1635.80 196.84,1635.80 214.45,1635.80 232.06,1635.80 249.67,1635.80 267.28,1635.80 284.89,1635.80 302.50,1635.80 320.11,1635.80 337.72,1635.80 355.33,1635.80 372.94,1635.80 390.55,1630.45 408.16,1623.68 425.77,1616.91 443.38,1610.14 460.99,1603.37" fill="none" stroke="#008000" stroke-width="5.3" stroke-linejoin="miter"/>
<polyline points="460.99,1603.37 478.60,1596.60 496.21,1589.83 513.82,1582.29 531.43,1573.93 549.04,1564.72 566.65,1554.61 584.26,1543.55 601.87,1531.52 619.48,1518.46 637.09,1504.34 654.70,1489.10 672.31,1472.72 689.92,1453.92 707.53,1435.12 725.14,1416.31 742.75,1394.92 760.36,1370.76 777.97,1346.61 795.58,1322.46 813.19,1295.38" fill="none" stroke="#008000" stroke-width="5.3" stroke-linejoin="miter" stroke-dasharray="5.30 8.74"/>
<rect x="104.3" y="1287.5" width="313.2" height="62.8" rx="4" fill="#fff" fill-opacity="0.8" stroke="#cccccc" stroke-opacity="0.8" stroke-width="2.8"/><line x1="111.2" y1="1303.4" x2="154.5" y2="1303.4" stroke="#008000" stroke-width="5.3"/><text x="165.50" y="1310.30" font-size="19.23" textLength="154.79" lengthAdjust="spacingAndGlyphs" fill="#000">ACE[max=0.97]</text><line x1="111.2" y1="1332.4" x2="154.5" y2="1332.4" stroke="#008000" stroke-width="5.3" stroke-dasharray="5.30 8.74" stroke-dashoffset="-2"/><text x="165.50" y="1339.30" font-size="19.23" textLength="245.51" lengthAdjust="spacingAndGlyphs" fill="#000">ACE Fore.[max=10.1831]</text>
<rect x="95.5" y="903.5" width="750.0" height="374.9" fill="none" stroke="#000" stroke-width="3"/>
<rect x="95.5" y="1278.4" width="750.0" height="375.0" fill="none" stroke="#000" stroke-width="3"/>
<g stroke="#000" stroke-width="3"><line x1="83.6" x2="94.5" y1="1235.30" y2="1235.30"/><line x1="83.6" x2="94.5" y1="1182.80" y2="1182.80"/><line x1="83.6" x2="94.5" y1="1130.30" y2="1130.30"/><line x1="83.6" x2="94.5" y1="1077.80" y2="1077.80"/><line x1="83.6" x2="94.5" y1="1025.30" y2="1025.30"/><line x1="83.6" x2="94.5" y1="972.80" y2="972.80"/><line x1="83.6" x2="94.5" y1="920.30" y2="920.30"/><line x1="846.5" x2="857.4" y1="1228.20" y2="1228.20"/><line x1="846.5" x2="857.4" y1="1159.80" y2="1159.80"/><line x1="846.5" x2="857.4" y1="1091.40" y2="1091.40"/><line x1="846.5" x2="857.4" y1="1023.00" y2="1023.00"/><line x1="846.5" x2="857.4" y1="954.60" y2="954.60"/><line x1="83.6" x2="94.5" y1="1635.80" y2="1635.80"/><line x1="83.6" x2="94.5" y1="1568.94" y2="1568.94"/><line x1="83.6" x2="94.5" y1="1502.08" y2="1502.08"/><line x1="83.6" x2="94.5" y1="1435.22" y2="1435.22"/><line x1="83.6" x2="94.5" y1="1368.36" y2="1368.36"/><line x1="83.6" x2="94.5" y1="1301.50" y2="1301.50"/></g>
<text x="53.38" y="1240.20" font-size="13.90" textLength="16.92" lengthAdjust="spacingAndGlyphs" fill="#000">30</text>
<text x="53.38" y="1187.70" font-size="13.90" textLength="16.92" lengthAdjust="spacingAndGlyphs" fill="#000">40</text>
<text x="53.38" y="1135.20" font-size="13.90" textLength="16.92" lengthAdjust="spacingAndGlyphs" fill="#000">50</text>
<text x="53.38" y="1082.70" font-size="13.90" textLength="16.92" lengthAdjust="spacingAndGlyphs" fill="#000">60</text>
<text x="53.38" y="1030.20" font-size="13.90" textLength="16.92" lengthAdjust="spacingAndGlyphs" fill="#000">70</text>
<text x="53.38" y="977.70" font-size="13.90" textLength="16.92" lengthAdjust="spacingAndGlyphs" fill="#000">80</text>
<text x="53.38" y="925.20" font-size="13.90" textLength="16.92" lengthAdjust="spacingAndGlyphs" fill="#000">90</text>
<text x="870.50" y="1233.10" font-size="13.90" textLength="33.85" lengthAdjust="spacingAndGlyphs" fill="#000">1002</text>
<text x="870.50" y="1164.70" font-size="13.90" textLength="33.85" lengthAdjust="spacingAndGlyphs" fill="#000">1004</text>
<text x="870.50" y="1096.30" font-size="13.90" textLength="33.85" lengthAdjust="spacingAndGlyphs" fill="#000">1006</text>
<text x="870.50" y="1027.90" font-size="13.90" textLength="33.85" lengthAdjust="spacingAndGlyphs" fill="#000">1008</text>
<text x="870.50" y="959.50" font-size="13.90" textLength="33.85" lengthAdjust="spacingAndGlyphs" fill="#000">1010</text>
<text x="61.84" y="1640.70" font-size="13.90" textLength="8.46" lengthAdjust="spacingAndGlyphs" fill="#000">0</text>
<text x="61.84" y="1573.84" font-size="13.90" textLength="8.46" lengthAdjust="spacingAndGlyphs" fill="#000">2</text>
<text x="61.84" y="1506.98" font-size="13.90" textLength="8.46" lengthAdjust="spacingAndGlyphs" fill="#000">4</text>
<text x="61.84" y="1440.12" font-size="13.90" textLength="8.46" lengthAdjust="spacingAndGlyphs" fill="#000">6</text>
<text x="61.84" y="1373.26" font-size="13.90" textLength="8.46" lengthAdjust="spacingAndGlyphs" fill="#000">8</text>
<text x="53.38" y="1306.40" font-size="13.90" textLength="16.92" lengthAdjust="spacingAndGlyphs" fill="#000">10</text>
<text x="19.29" y="1091.00" font-size="13.90" textLength="33.43" lengthAdjust="spacingAndGlyphs" fill="#000" transform="rotate(-90 36.00 1091.00)">Wind</text>
<text x="22.72" y="1466.00" font-size="13.90" textLength="26.56" lengthAdjust="spacingAndGlyphs" fill="#000" transform="rotate(-90 36.00 1466.00)">ACE</text>
<text x="902.10" y="1092.00" font-size="13.90" textLength="56.79" lengthAdjust="spacingAndGlyphs" fill="#000" transform="rotate(-90 930.50 1092.00)">Pressure</text>
<rect x="970.5" y="903.5" width="750" height="750" fill="#fff" stroke="#000" stroke-width="3"/>
<g shape-rendering="crispEdges"><rect x="975.10" y="905.00" width="14.04" height="14.57" fill="#000"/><rect x="1171.66" y="905.00" width="533.52" height="14.57" fill="#888"/><rect x="1340.14" y="905.00" width="56.16" height="14.57" fill="#555"/><rect x="1466.50" y="905.00" width="238.68" height="14.57" fill="#555"/><rect x="975.10" y="919.27" width="14.04" height="14.57" fill="#000"/><rect x="1171.66" y="919.27" width="533.52" height="14.57" fill="#888"/><rect x="1382.26" y="919.27" width="28.08" height="14.57" fill="#555"/><rect x="1522.66" y="919.27" width="182.52" height="14.57" fill="#555"/><rect x="975.10" y="933.54" width="14.04" height="14.57" fill="#000"/><rect x="1171.66" y="933.54" width="533.52" height="14.57" fill="#888"/><rect x="1410.34" y="933.54" width="56.16" height="14.57" fill="#555"/><rect x="1494.58" y="933.54" width="210.60" height="14.57" fill="#555"/><rect x="975.10" y="947.81" width="14.04" height="14.57" fill="#000"/><rect x="1171.66" y="947.81" width="533.52" height="14.57" fill="#888"/><rect x="1424.38" y="947.81" width="42.12" height="14.57" fill="#555"/><rect x="1480.54" y="947.81" width="224.64" height="14.57" fill="#555"/><rect x="975.10" y="962.08" width="28.08" height="14.57" fill="#000"/><rect x="1185.70" y="962.08" width="519.48" height="14.57" fill="#888"/><rect x="1424.38" y="962.08" width="266.76" height="14.57" fill="#555"/><rect x="975.10" y="976.35" width="28.08" height="14.57" fill="#000"/><rect x="1185.70" y="976.35" width="519.48" height="14.57" fill="#888"/><rect x="1424.38" y="976.35" width="280.80" height="14.57" fill="#555"/><rect x="975.10" y="990.62" width="28.08" height="14.57" fill="#000"/><rect x="1185.70" y="990.62" width="519.48" height="14.57" fill="#888"/><rect x="1424.38" y="990.62" width="280.80" height="14.57" fill="#555"/><rect x="974.10" y="1004.89" width="28.08" height="14.57" fill="#000"/><rect x="1184.70" y="1004.89" width="519.48" height="14.57" fill="#888"/><rect x="1423.38" y="1004.89" width="280.80" height="14.57" fill="#555"/><rect x="974.10" y="1019.16" width="42.12" height="14.57" fill="#000"/><rect x="1170.66" y="1019.16" width="533.52" height="14.57" fill="#888"/><rect x="1423.38" y="1019.16" width="280.80" height="14.57" fill="#555"/><rect x="974.10" y="1033.43" width="42.12" height="14.57" fill="#000"/><rect x="1170.66" y="1033.43" width="533.52" height="14.57" fill="#888"/><rect x="1409.34" y="1033.43" width="294.84" height="14.57" fill="#555"/><rect x="974.10" y="1047.70" width="42.12" height="14.57" fill="#000"/><rect x="1170.66" y="1047.70" width="533.52" height="14.57" fill="#888"/><rect x="1409.34" y="1047.70" width="294.84" height="14.57" fill="#555"/><rect x="974.10" y="1061.97" width="56.16" height="14.57" fill="#000"/><rect x="1156.62" y="1061.97" width="547.56" height="14.57" fill="#888"/><rect x="1395.30" y="1061.97" width="98.28" height="14.57" fill="#555"/><rect x="1521.66" y="1061.97" width="182.52" height="14.57" fill="#555"/><rect x="974.10" y="1076.24" width="56.16" height="14.57" fill="#000"/><rect x="1156.62" y="1076.24" width="547.56" height="14.57" fill="#888"/><rect x="1381.26" y="1076.24" width="112.32" height="14.57" fill="#555"/><rect x="1521.66" y="1076.24" width="182.52" height="14.57" fill="#555"/><rect x="974.10" y="1090.51" width="56.16" height="14.57" fill="#000"/><rect x="1156.62" y="1090.51" width="547.56" height="14.57" fill="#888"/><rect x="1381.26" y="1090.51" width="112.32" height="14.57" fill="#555"/><rect x="1507.62" y="1090.51" width="196.56" height="14.57" fill="#555"/><rect x="974.10" y="1104.78" width="42.12" height="14.57" fill="#000"/><rect x="1156.62" y="1104.78" width="547.56" height="14.57" fill="#888"/><rect x="1381.26" y="1104.78" width="322.92" height="14.57" fill="#555"/><rect x="974.10" y="1119.05" width="42.12" height="14.57" fill="#000"/><rect x="1156.62" y="1119.05" width="547.56" height="14.57" fill="#888"/><rect x="1381.26" y="1119.05" width="126.36" height="14.57" fill="#555"/><rect x="1521.66" y="1119.05" width="70.20" height="14.57" fill="#555"/><rect x="1619.94" y="1119.05" width="84.24" height="14.57" fill="#555"/><rect x="974.10" y="1133.32" width="42.12" height="14.57" fill="#000"/><rect x="1156.62" y="1133.32" width="547.56" height="14.57" fill="#888"/><rect x="1381.26" y="1133.32" width="140.40" height="14.57" fill="#555"/><rect x="1549.74" y="1133.32" width="56.16" height="14.57" fill="#555"/><rect x="1619.94" y="1133.32" width="84.24" height="14.57" fill="#555"/><rect x="974.10" y="1147.59" width="42.12" height="14.57" fill="#000"/><rect x="1170.66" y="1147.59" width="533.52" height="14.57" fill="#888"/><rect x="1381.26" y="1147.59" width="126.36" height="14.57" fill="#555"/><rect x="1535.70" y="1147.59" width="56.16" height="14.57" fill="#555"/><rect x="1619.94" y="1147.59" width="84.24" height="14.57" fill="#555"/><rect x="974.10" y="1161.86" width="42.12" height="14.57" fill="#000"/><rect x="1170.66" y="1161.86" width="533.52" height="14.57" fill="#888"/><rect x="1367.22" y="1161.86" width="98.28" height="14.57" fill="#555"/><rect x="1479.54" y="1161.86" width="14.04" height="14.57" fill="#555"/><rect x="1535.70" y="1161.86" width="42.12" height="14.57" fill="#555"/><rect x="1619.94" y="1161.86" width="84.24" height="14.57" fill="#555"/><rect x="974.10" y="1176.13" width="28.08" height="14.57" fill="#000"/><rect x="1170.66" y="1176.13" width="533.52" height="14.57" fill="#888"/><rect x="1367.22" y="1176.13" width="126.36" height="14.57" fill="#555"/><rect x="1535.70" y="1176.13" width="28.08" height="14.57" fill="#555"/><rect x="1633.98" y="1176.13" width="70.20" height="14.57" fill="#555"/><rect x="974.10" y="1190.40" width="42.12" height="14.57" fill="#000"/><rect x="1170.66" y="1190.40" width="533.52" height="14.57" fill="#888"/><rect x="1367.22" y="1190.40" width="84.24" height="14.57" fill="#555"/><rect x="1465.50" y="1190.40" width="42.12" height="14.57" fill="#555"/><rect x="1521.66" y="1190.40" width="42.12" height="14.57" fill="#555"/><rect x="1648.02" y="1190.40" width="56.16" height="14.57" fill="#555"/><rect x="973.10" y="1204.67" width="28.08" height="14.57" fill="#000"/><rect x="1169.66" y="1204.67" width="533.52" height="14.57" fill="#888"/><rect x="1366.22" y="1204.67" width="84.24" height="14.57" fill="#555"/><rect x="1464.50" y="1204.67" width="42.12" height="14.57" fill="#555"/><rect x="1534.70" y="1204.67" width="28.08" height="14.57" fill="#555"/><rect x="1661.06" y="1204.67" width="42.12" height="14.57" fill="#555"/><rect x="973.10" y="1218.94" width="28.08" height="14.57" fill="#000"/><rect x="1155.62" y="1218.94" width="547.56" height="14.57" fill="#888"/><rect x="1380.26" y="1218.94" width="182.52" height="14.57" fill="#555"/><rect x="1661.06" y="1218.94" width="42.12" height="14.57" fill="#555"/><rect x="973.10" y="1233.21" width="28.08" height="14.57" fill="#000"/><rect x="1155.62" y="1233.21" width="547.56" height="14.57" fill="#888"/><rect x="1380.26" y="1233.21" width="196.56" height="14.57" fill="#555"/><rect x="1661.06" y="1233.21" width="42.12" height="14.57" fill="#555"/><rect x="973.10" y="1247.48" width="28.08" height="14.57" fill="#000"/><rect x="1155.62" y="1247.48" width="547.56" height="14.57" fill="#888"/><rect x="1380.26" y="1247.48" width="168.48" height="14.57" fill="#555"/><rect x="1675.10" y="1247.48" width="28.08" height="14.57" fill="#555"/><rect x="973.10" y="1261.75" width="28.08" height="14.57" fill="#000"/><rect x="1141.58" y="1261.75" width="561.60" height="14.57" fill="#888"/><rect x="1380.26" y="1261.75" width="168.48" height="14.57" fill="#555"/><rect x="1675.10" y="1261.75" width="28.08" height="14.57" fill="#555"/><rect x="973.10" y="1276.02" width="28.08" height="14.57" fill="#000"/><rect x="1155.62" y="1276.02" width="547.56" height="14.57" fill="#888"/><rect x="1380.26" y="1276.02" width="84.24" height="14.57" fill="#555"/><rect x="1478.54" y="1276.02" width="70.20" height="14.57" fill="#555"/><rect x="1647.02" y="1276.02" width="56.16" height="14.57" fill="#555"/><rect x="973.10" y="1290.29" width="28.08" height="14.57" fill="#000"/><rect x="1155.62" y="1290.29" width="547.56" height="14.57" fill="#888"/><rect x="1296.02" y="1290.29" width="14.04" height="14.57" fill="#555"/><rect x="1394.30" y="1290.29" width="84.24" height="14.57" fill="#555"/><rect x="1492.58" y="1290.29" width="42.12" height="14.57" fill="#555"/><rect x="1647.02" y="1290.29" width="56.16" height="14.57" fill="#555"/><rect x="973.10" y="1304.56" width="28.08" height="14.57" fill="#000"/><rect x="1155.62" y="1304.56" width="547.56" height="14.57" fill="#888"/><rect x="1281.98" y="1304.56" width="42.12" height="14.57" fill="#555"/><rect x="1394.30" y="1304.56" width="154.44" height="14.57" fill="#555"/><rect x="1562.78" y="1304.56" width="14.04" height="14.57" fill="#555"/><rect x="1647.02" y="1304.56" width="56.16" height="14.57" fill="#555"/><rect x="973.10" y="1318.83" width="28.08" height="14.57" fill="#000"/><rect x="1155.62" y="1318.83" width="547.56" height="14.57" fill="#888"/><rect x="1281.98" y="1318.83" width="70.20" height="14.57" fill="#555"/><rect x="1408.34" y="1318.83" width="140.40" height="14.57" fill="#555"/><rect x="1562.78" y="1318.83" width="42.12" height="14.57" fill="#555"/><rect x="1647.02" y="1318.83" width="56.16" height="14.57" fill="#555"/><rect x="973.10" y="1333.10" width="14.04" height="14.57" fill="#000"/><rect x="1155.62" y="1333.10" width="547.56" height="14.57" fill="#888"/><rect x="1281.98" y="1333.10" width="84.24" height="14.57" fill="#555"/><rect x="1408.34" y="1333.10" width="196.56" height="14.57" fill="#555"/><rect x="1647.02" y="1333.10" width="56.16" height="14.57" fill="#555"/><rect x="987.14" y="1347.37" width="14.04" height="14.57" fill="#000"/><rect x="1169.66" y="1347.37" width="533.52" height="14.57" fill="#888"/><rect x="1281.98" y="1347.37" width="84.24" height="14.57" fill="#555"/><rect x="1408.34" y="1347.37" width="210.60" height="14.57" fill="#555"/><rect x="1647.02" y="1347.37" width="56.16" height="14.57" fill="#555"/><rect x="987.14" y="1361.64" width="28.08" height="14.57" fill="#000"/><rect x="1155.62" y="1361.64" width="547.56" height="14.57" fill="#888"/><rect x="1296.02" y="1361.64" width="70.20" height="14.57" fill="#555"/><rect x="1422.38" y="1361.64" width="280.80" height="14.57" fill="#555"/><rect x="987.14" y="1375.91" width="28.08" height="14.57" fill="#000"/><rect x="1169.66" y="1375.91" width="533.52" height="14.57" fill="#888"/><rect x="1281.98" y="1375.91" width="98.28" height="14.57" fill="#555"/><rect x="1436.42" y="1375.91" width="140.40" height="14.57" fill="#555"/><rect x="1590.86" y="1375.91" width="70.20" height="14.57" fill="#555"/><rect x="1689.14" y="1375.91" width="14.04" height="14.57" fill="#555"/><rect x="986.14" y="1390.18" width="28.08" height="14.57" fill="#000"/><rect x="1168.66" y="1390.18" width="533.52" height="14.57" fill="#888"/><rect x="1280.98" y="1390.18" width="56.16" height="14.57" fill="#555"/><rect x="1351.18" y="1390.18" width="28.08" height="14.57" fill="#555"/><rect x="1449.46" y="1390.18" width="98.28" height="14.57" fill="#555"/><rect x="1589.86" y="1390.18" width="56.16" height="14.57" fill="#555"/><rect x="1674.10" y="1390.18" width="28.08" height="14.57" fill="#555"/><rect x="986.14" y="1404.45" width="42.12" height="14.57" fill="#000"/><rect x="1182.70" y="1404.45" width="519.48" height="14.57" fill="#888"/><rect x="1295.02" y="1404.45" width="42.12" height="14.57" fill="#555"/><rect x="1365.22" y="1404.45" width="14.04" height="14.57" fill="#555"/><rect x="1463.50" y="1404.45" width="14.04" height="14.57" fill="#555"/><rect x="1491.58" y="1404.45" width="56.16" height="14.57" fill="#555"/><rect x="1617.94" y="1404.45" width="14.04" height="14.57" fill="#555"/><rect x="1688.14" y="1404.45" width="14.04" height="14.57" fill="#555"/><rect x="986.14" y="1418.72" width="42.12" height="14.57" fill="#000"/><rect x="1182.70" y="1418.72" width="519.48" height="14.57" fill="#888"/><rect x="1295.02" y="1418.72" width="42.12" height="14.57" fill="#555"/><rect x="1505.62" y="1418.72" width="14.04" height="14.57" fill="#555"/><rect x="972.10" y="1432.99" width="56.16" height="14.57" fill="#000"/><rect x="1196.74" y="1432.99" width="505.44" height="14.57" fill="#888"/><rect x="1295.02" y="1432.99" width="28.08" height="14.57" fill="#555"/><rect x="1505.62" y="1432.99" width="28.08" height="14.57" fill="#555"/><rect x="1617.94" y="1432.99" width="14.04" height="14.57" fill="#555"/><rect x="972.10" y="1447.26" width="70.20" height="14.57" fill="#000"/><rect x="1182.70" y="1447.26" width="519.48" height="14.57" fill="#888"/><rect x="1505.62" y="1447.26" width="14.04" height="14.57" fill="#555"/><rect x="972.10" y="1461.53" width="70.20" height="14.57" fill="#000"/><rect x="1182.70" y="1461.53" width="519.48" height="14.57" fill="#888"/><rect x="972.10" y="1475.80" width="70.20" height="14.57" fill="#000"/><rect x="1182.70" y="1475.80" width="519.48" height="14.57" fill="#888"/><rect x="972.10" y="1490.07" width="70.20" height="14.57" fill="#000"/><rect x="1182.70" y="1490.07" width="519.48" height="14.57" fill="#888"/><rect x="1519.66" y="1490.07" width="14.04" height="14.57" fill="#555"/><rect x="972.10" y="1504.34" width="70.20" height="14.57" fill="#000"/><rect x="1196.74" y="1504.34" width="505.44" height="14.57" fill="#888"/><rect x="1519.66" y="1504.34" width="14.04" height="14.57" fill="#555"/><rect x="1631.98" y="1504.34" width="14.04" height="14.57" fill="#555"/><rect x="972.10" y="1518.61" width="70.20" height="14.57" fill="#000"/><rect x="1210.78" y="1518.61" width="491.40" height="14.57" fill="#888"/><rect x="1519.66" y="1518.61" width="28.08" height="14.57" fill="#555"/><rect x="1617.94" y="1518.61" width="28.08" height="14.57" fill="#555"/><rect x="972.10" y="1532.88" width="70.20" height="14.57" fill="#000"/><rect x="1210.78" y="1532.88" width="491.40" height="14.57" fill="#888"/><rect x="1533.70" y="1532.88" width="14.04" height="14.57" fill="#555"/><rect x="1646.02" y="1532.88" width="14.04" height="14.57" fill="#555"/><rect x="972.10" y="1547.15" width="84.24" height="14.57" fill="#000"/><rect x="1252.90" y="1547.15" width="449.28" height="14.57" fill="#888"/><rect x="1533.70" y="1547.15" width="28.08" height="14.57" fill="#555"/><rect x="1617.94" y="1547.15" width="14.04" height="14.57" fill="#555"/><rect x="1646.02" y="1547.15" width="28.08" height="14.57" fill="#555"/><rect x="972.10" y="1561.42" width="84.24" height="14.57" fill="#000"/><rect x="1252.90" y="1561.42" width="449.28" height="14.57" fill="#888"/><rect x="1617.94" y="1561.42" width="70.20" height="14.57" fill="#555"/><rect x="972.10" y="1575.69" width="84.24" height="14.57" fill="#000"/><rect x="1252.90" y="1575.69" width="449.28" height="14.57" fill="#888"/><rect x="1617.94" y="1575.69" width="84.24" height="14.57" fill="#555"/><rect x="971.10" y="1589.96" width="98.28" height="14.57" fill="#000"/><rect x="1251.90" y="1589.96" width="449.28" height="14.57" fill="#888"/><rect x="1518.66" y="1589.96" width="70.20" height="14.57" fill="#555"/><rect x="1616.94" y="1589.96" width="84.24" height="14.57" fill="#555"/><rect x="971.10" y="1604.23" width="98.28" height="14.57" fill="#000"/><rect x="1265.94" y="1604.23" width="435.24" height="14.57" fill="#888"/><rect x="1490.58" y="1604.23" width="112.32" height="14.57" fill="#555"/><rect x="1616.94" y="1604.23" width="84.24" height="14.57" fill="#555"/><rect x="971.10" y="1618.50" width="98.28" height="14.57" fill="#000"/><rect x="1265.94" y="1618.50" width="435.24" height="14.57" fill="#888"/><rect x="1504.62" y="1618.50" width="196.56" height="14.57" fill="#555"/></g>
<rect x="970.5" y="903.5" width="750" height="750" fill="none" stroke="#000" stroke-width="3"/>
<rect x="986" y="916.8" width="176.4" height="32.2" rx="5" fill="#000"/>
<text x="990.00" y="938.60" font-size="21.53" textLength="165.50" lengthAdjust="spacingAndGlyphs" fill="#fff" font-weight="bold">WMG Count: 0</text>
<text x="96.00" y="50.50" font-size="27.17" textLength="471.27" lengthAdjust="spacingAndGlyphs" fill="#000">GOES-19 BAND14-DIAS MESOSCALE</text>
<text x="96.00" y="81.00" font-size="27.17" textLength="373.37" lengthAdjust="spacingAndGlyphs" fill="#000">Time: 2025/10/22 10:37:55Z</text>
<text x="1322.49" y="39.00" font-size="18.08" textLength="374.81" lengthAdjust="spacingAndGlyphs" fill="#000">[dmax, dmin](BAND14)=(-66.496, -82.882)</text>
<text x="1354.65" y="60.00" font-size="18.08" textLength="342.65" lengthAdjust="spacingAndGlyphs" fill="#000">[dmax, dmin](AWV)=(-65.363, -80.874)</text>
<text x="1446.92" y="81.30" font-size="18.08" textLength="250.38" lengthAdjust="spacingAndGlyphs" fill="#000">13L.MELISSA | 45kt, 1001mb</text>
<text x="839.50" y="94.00" font-size="17.45" textLength="20.01" lengthAdjust="spacingAndGlyphs" fill="#000">°C</text>
<text x="1714.70" y="94.00" font-size="17.45" textLength="20.01" lengthAdjust="spacingAndGlyphs" fill="#000">°C</text>
<text x="311.59" y="881.80" font-size="23.62" textLength="317.82" lengthAdjust="spacingAndGlyphs" fill="#000">Wind / Pres. / ACE Diagnosis</text>
<text x="136.64" y="851.00" font-size="13.90" textLength="36.72" lengthAdjust="spacingAndGlyphs" fill="#000">78°W</text>
<text x="282.64" y="851.00" font-size="13.90" textLength="36.72" lengthAdjust="spacingAndGlyphs" fill="#000">76°W</text>
<text x="428.14" y="851.00" font-size="13.90" textLength="36.72" lengthAdjust="spacingAndGlyphs" fill="#000">74°W</text>
<text x="573.64" y="851.00" font-size="13.90" textLength="36.72" lengthAdjust="spacingAndGlyphs" fill="#000">72°W</text>
<text x="719.64" y="851.00" font-size="13.90" textLength="36.72" lengthAdjust="spacingAndGlyphs" fill="#000">70°W</text>
<text x="52.98" y="200.90" font-size="13.90" textLength="33.52" lengthAdjust="spacingAndGlyphs" fill="#000">18°N</text>
<text x="52.98" y="346.90" font-size="13.90" textLength="33.52" lengthAdjust="spacingAndGlyphs" fill="#000">16°N</text>
<text x="52.98" y="492.40" font-size="13.90" textLength="33.52" lengthAdjust="spacingAndGlyphs" fill="#000">14°N</text>
<text x="52.98" y="637.90" font-size="13.90" textLength="33.52" lengthAdjust="spacingAndGlyphs" fill="#000">12°N</text>
<text x="52.98" y="783.90" font-size="13.90" textLength="33.52" lengthAdjust="spacingAndGlyphs" fill="#000">10°N</text>
<text x="1011.64" y="851.00" font-size="13.90" textLength="36.72" lengthAdjust="spacingAndGlyphs" fill="#000">78°W</text>
<text x="1157.64" y="851.00" font-size="13.90" textLength="36.72" lengthAdjust="spacingAndGlyphs" fill="#000">76°W</text>
<text x="1303.14" y="851.00" font-size="13.90" textLength="36.72" lengthAdjust="spacingAndGlyphs" fill="#000">74°W</text>
<text x="1448.64" y="851.00" font-size="13.90" textLength="36.72" lengthAdjust="spacingAndGlyphs" fill="#000">72°W</text>
<text x="1594.64" y="851.00" font-size="13.90" textLength="36.72" lengthAdjust="spacingAndGlyphs" fill="#000">70°W</text>
<text x="927.98" y="200.90" font-size="13.90" textLength="33.52" lengthAdjust="spacingAndGlyphs" fill="#000">18°N</text>
<text x="927.98" y="346.90" font-size="13.90" textLength="33.52" lengthAdjust="spacingAndGlyphs" fill="#000">16°N</text>
<text x="927.98" y="492.40" font-size="13.90" textLength="33.52" lengthAdjust="spacingAndGlyphs" fill="#000">14°N</text>
<text x="927.98" y="637.90" font-size="13.90" textLength="33.52" lengthAdjust="spacingAndGlyphs" fill="#000">12°N</text>
<text x="927.98" y="783.90" font-size="13.90" textLength="33.52" lengthAdjust="spacingAndGlyphs" fill="#000">10°N</text>
<text x="853.30" y="162.03" font-size="19.02" textLength="21.76" lengthAdjust="spacingAndGlyphs" fill="#000">40</text>
<text x="853.30" y="215.96" font-size="19.02" textLength="21.76" lengthAdjust="spacingAndGlyphs" fill="#000">30</text>
<text x="853.30" y="269.89" font-size="19.02" textLength="21.76" lengthAdjust="spacingAndGlyphs" fill="#000">20</text>
<text x="853.30" y="323.82" font-size="19.02" textLength="21.76" lengthAdjust="spacingAndGlyphs" fill="#000">10</text>
<text x="853.30" y="377.75" font-size="19.02" textLength="10.88" lengthAdjust="spacingAndGlyphs" fill="#000">0</text>
<text x="853.30" y="431.68" font-size="19.02" textLength="36.09" lengthAdjust="spacingAndGlyphs" fill="#000">−10</text>
<text x="853.30" y="485.61" font-size="19.02" textLength="36.09" lengthAdjust="spacingAndGlyphs" fill="#000">−20</text>
<text x="853.30" y="539.54" font-size="19.02" textLength="36.09" lengthAdjust="spacingAndGlyphs" fill="#000">−30</text>
<text x="853.30" y="593.47" font-size="19.02" textLength="36.09" lengthAdjust="spacingAndGlyphs" fill="#000">−40</text>
<text x="853.30" y="647.40" font-size="19.02" textLength="36.09" lengthAdjust="spacingAndGlyphs" fill="#000">−50</text>
<text x="853.30" y="701.33" font-size="19.02" textLength="36.09" lengthAdjust="spacingAndGlyphs" fill="#000">−60</text>
<text x="853.30" y="755.26" font-size="19.02" textLength="36.09" lengthAdjust="spacingAndGlyphs" fill="#000">−70</text>
<text x="853.30" y="809.19" font-size="19.02" textLength="36.09" lengthAdjust="spacingAndGlyphs" fill="#000">−80</text>
<text x="1728.40" y="156.63" font-size="19.02" textLength="21.76" lengthAdjust="spacingAndGlyphs" fill="#000">40</text>
<text x="1728.40" y="205.16" font-size="19.02" textLength="21.76" lengthAdjust="spacingAndGlyphs" fill="#000">30</text>
<text x="1728.40" y="253.69" font-size="19.02" textLength="21.76" lengthAdjust="spacingAndGlyphs" fill="#000">20</text>
<text x="1728.40" y="302.22" font-size="19.02" textLength="21.76" lengthAdjust="spacingAndGlyphs" fill="#000">10</text>
<text x="1728.40" y="350.75" font-size="19.02" textLength="10.88" lengthAdjust="spacingAndGlyphs" fill="#000">0</text>
<text x="1728.40" y="399.28" font-size="19.02" textLength="36.09" lengthAdjust="spacingAndGlyphs" fill="#000">−10</text>
<text x="1728.40" y="447.81" font-size="19.02" textLength="36.09" lengthAdjust="spacingAndGlyphs" fill="#000">−20</text>
<text x="1728.40" y="496.34" font-size="19.02" textLength="36.09" lengthAdjust="spacingAndGlyphs" fill="#000">−30</text>
<text x="1728.40" y="544.87" font-size="19.02" textLength="36.09" lengthAdjust="spacingAndGlyphs" fill="#000">−40</text>
<text x="1728.40" y="593.40" font-size="19.02" textLength="36.09" lengthAdjust="spacingAndGlyphs" fill="#000">−50</text>
<text x="1728.40" y="641.93" font-size="19.02" textLength="36.09" lengthAdjust="spacingAndGlyphs" fill="#000">−60</text>
<text x="1728.40" y="690.46" font-size="19.02" textLength="36.09" lengthAdjust="spacingAndGlyphs" fill="#000">−70</text>
<text x="1728.40" y="738.99" font-size="19.02" textLength="36.09" lengthAdjust="spacingAndGlyphs" fill="#000">−80</text>
<text x="1728.40" y="787.52" font-size="19.02" textLength="36.09" lengthAdjust="spacingAndGlyphs" fill="#000">−90</text>
</svg>
</body></html>
